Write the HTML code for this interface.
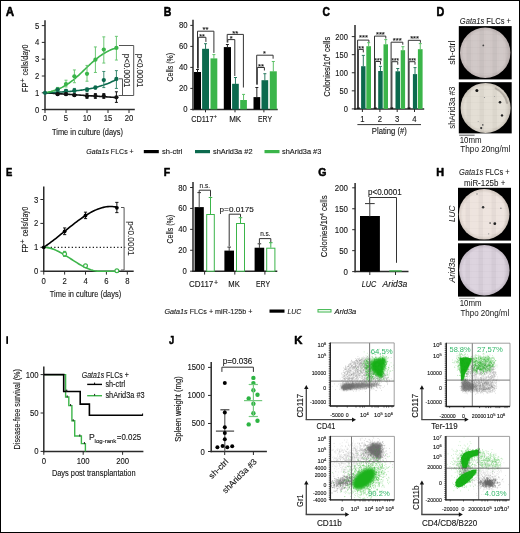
<!DOCTYPE html>
<html><head><meta charset="utf-8"><style>
html,body{margin:0;padding:0;background:#fff;}
svg{display:block;will-change:transform;font-family:"Liberation Sans", sans-serif;}
text:not([stroke]){stroke:#141414;stroke-width:0.12px;}
</style></head><body>
<svg width="520" height="533" viewBox="0 0 520 533">
<rect x="0" y="0" width="520" height="533" fill="#fff"/>
<text x="5.8" y="15.8" font-size="12" text-anchor="start" font-weight="bold" font-style="normal" fill="#000" textLength="8.4" lengthAdjust="spacingAndGlyphs"  stroke="#000" stroke-width="0.55" stroke-linejoin="round">A</text>
<line x1="45" y1="20.2" x2="45" y2="110.35" stroke="#2a2a2a" stroke-width="1.5" />
<line x1="44.25" y1="109.6" x2="134.8" y2="109.6" stroke="#2a2a2a" stroke-width="1.5" />
<line x1="41.8" y1="109.6" x2="45" y2="109.6" stroke="#2a2a2a" stroke-width="1" />
<text x="39.2" y="112.6" font-size="9" text-anchor="end" font-weight="normal" font-style="normal" fill="#141414" textLength="4.3" lengthAdjust="spacingAndGlyphs"  stroke="#141414" stroke-width="0.12">0</text>
<line x1="41.8" y1="92.8" x2="45" y2="92.8" stroke="#2a2a2a" stroke-width="1" />
<text x="39.2" y="95.8" font-size="9" text-anchor="end" font-weight="normal" font-style="normal" fill="#141414" textLength="4.3" lengthAdjust="spacingAndGlyphs"  stroke="#141414" stroke-width="0.12">1</text>
<line x1="41.8" y1="76.0" x2="45" y2="76.0" stroke="#2a2a2a" stroke-width="1" />
<text x="39.2" y="79.0" font-size="9" text-anchor="end" font-weight="normal" font-style="normal" fill="#141414" textLength="4.3" lengthAdjust="spacingAndGlyphs"  stroke="#141414" stroke-width="0.12">2</text>
<line x1="41.8" y1="59.2" x2="45" y2="59.2" stroke="#2a2a2a" stroke-width="1" />
<text x="39.2" y="62.2" font-size="9" text-anchor="end" font-weight="normal" font-style="normal" fill="#141414" textLength="4.3" lengthAdjust="spacingAndGlyphs"  stroke="#141414" stroke-width="0.12">3</text>
<line x1="41.8" y1="42.4" x2="45" y2="42.4" stroke="#2a2a2a" stroke-width="1" />
<text x="39.2" y="45.4" font-size="9" text-anchor="end" font-weight="normal" font-style="normal" fill="#141414" textLength="4.3" lengthAdjust="spacingAndGlyphs"  stroke="#141414" stroke-width="0.12">4</text>
<line x1="41.8" y1="25.6" x2="45" y2="25.6" stroke="#2a2a2a" stroke-width="1" />
<text x="39.2" y="28.6" font-size="9" text-anchor="end" font-weight="normal" font-style="normal" fill="#141414" textLength="4.3" lengthAdjust="spacingAndGlyphs"  stroke="#141414" stroke-width="0.12">5</text>
<line x1="45.0" y1="109.6" x2="45.0" y2="113" stroke="#2a2a2a" stroke-width="1" />
<text x="45.0" y="121.0" font-size="9" text-anchor="middle" font-weight="normal" font-style="normal" fill="#141414" textLength="4.3" lengthAdjust="spacingAndGlyphs"  stroke="#141414" stroke-width="0.12">0</text>
<line x1="66.0" y1="109.6" x2="66.0" y2="113" stroke="#2a2a2a" stroke-width="1" />
<text x="66.0" y="121.0" font-size="9" text-anchor="middle" font-weight="normal" font-style="normal" fill="#141414" textLength="4.3" lengthAdjust="spacingAndGlyphs"  stroke="#141414" stroke-width="0.12">5</text>
<line x1="87.0" y1="109.6" x2="87.0" y2="113" stroke="#2a2a2a" stroke-width="1" />
<text x="87.0" y="121.0" font-size="9" text-anchor="middle" font-weight="normal" font-style="normal" fill="#141414" textLength="8.61" lengthAdjust="spacingAndGlyphs"  stroke="#141414" stroke-width="0.12">10</text>
<line x1="108.0" y1="109.6" x2="108.0" y2="113" stroke="#2a2a2a" stroke-width="1" />
<text x="108.0" y="121.0" font-size="9" text-anchor="middle" font-weight="normal" font-style="normal" fill="#141414" textLength="8.61" lengthAdjust="spacingAndGlyphs"  stroke="#141414" stroke-width="0.12">15</text>
<line x1="129.0" y1="109.6" x2="129.0" y2="113" stroke="#2a2a2a" stroke-width="1" />
<text x="129.0" y="121.0" font-size="9" text-anchor="middle" font-weight="normal" font-style="normal" fill="#141414" textLength="8.61" lengthAdjust="spacingAndGlyphs"  stroke="#141414" stroke-width="0.12">20</text>
<text x="52" y="135.0" font-size="9.4" text-anchor="start" font-weight="normal" font-style="normal" fill="#141414" textLength="71" lengthAdjust="spacingAndGlyphs"  stroke="#141414" stroke-width="0.12">Time in culture (days)</text>
<text transform="translate(27.8,91.9) rotate(-90)" font-size="8.9" fill="#141414" textLength="9.0" lengthAdjust="spacingAndGlyphs">FP</text>
<text transform="translate(24.8,82.6) rotate(-90)" font-size="6.8" fill="#141414">+</text>
<text transform="translate(27.8,75.6) rotate(-90)" font-size="8.9" fill="#141414" textLength="31.0" lengthAdjust="spacingAndGlyphs">cells/day0</text>
<polyline points="45.0,92.8 46.21,92.88 47.42,92.96 48.63,93.04 49.84,93.12 51.05,93.2 52.26,93.28 53.47,93.36 54.68,93.44 55.89,93.52 57.1,93.6 58.31,93.68 59.52,93.76 60.73,93.84 61.94,93.92 63.15,94.0 64.36,94.08 65.57,94.16 66.78,94.24 67.99,94.32 69.2,94.4 70.41,94.48 71.62,94.56 72.83,94.64 74.04,94.72 75.25,94.8 76.46,94.88 77.67,94.96 78.88,95.04 80.09,95.12 81.31,95.2 82.52,95.28 83.73,95.36 84.94,95.44 86.15,95.52 87.36,95.6 88.57,95.68 89.78,95.76 90.99,95.84 92.2,95.91 93.41,95.99 94.62,96.07 95.83,96.15 97.04,96.23 98.25,96.31 99.46,96.39 100.67,96.47 101.88,96.55 103.09,96.63 104.3,96.71 105.51,96.79 106.72,96.87 107.93,96.95 109.14,97.03 110.35,97.11 111.56,97.19 112.77,97.27 113.98,97.35 115.19,97.43 116.4,97.51" fill="none" stroke="#111" stroke-width="1.6" />
<polyline points="45.0,92.8 46.21,92.76 47.42,92.72 48.63,92.67 49.84,92.62 51.05,92.57 52.26,92.52 53.47,92.46 54.68,92.41 55.89,92.35 57.1,92.28 58.31,92.22 59.52,92.15 60.73,92.07 61.94,91.99 63.15,91.91 64.36,91.83 65.57,91.74 66.78,91.65 67.99,91.55 69.2,91.45 70.41,91.34 71.62,91.22 72.83,91.11 74.04,90.98 75.25,90.85 76.46,90.71 77.67,90.57 78.88,90.42 80.09,90.26 81.31,90.09 82.52,89.92 83.73,89.73 84.94,89.54 86.15,89.34 87.36,89.13 88.57,88.91 89.78,88.67 90.99,88.43 92.2,88.17 93.41,87.91 94.62,87.62 95.83,87.33 97.04,87.02 98.25,86.69 99.46,86.35 100.67,85.99 101.88,85.61 103.09,85.22 104.3,84.8 105.51,84.37 106.72,83.91 107.93,83.44 109.14,82.93 110.35,82.41 111.56,81.85 112.77,81.27 113.98,80.67 115.19,80.03 116.4,79.36" fill="none" stroke="#0c6a4e" stroke-width="1.6" />
<polyline points="45.0,92.8 46.21,92.57 47.42,92.33 48.63,92.06 49.84,91.77 51.05,91.46 52.26,91.12 53.47,90.76 54.68,90.37 55.89,89.95 57.1,89.5 58.31,89.02 59.52,88.5 60.73,87.95 61.94,87.36 63.15,86.73 64.36,86.06 65.57,85.35 66.78,84.61 67.99,83.82 69.2,82.99 70.41,82.12 71.62,81.21 72.83,80.27 74.04,79.28 75.25,78.27 76.46,77.22 77.67,76.14 78.88,75.04 80.09,73.91 81.31,72.77 82.52,71.61 83.73,70.44 84.94,69.27 86.15,68.1 87.36,66.93 88.57,65.77 89.78,64.63 90.99,63.51 92.2,62.4 93.41,61.33 94.62,60.28 95.83,59.27 97.04,58.29 98.25,57.34 99.46,56.44 100.67,55.57 101.88,54.74 103.09,53.96 104.3,53.21 105.51,52.51 106.72,51.84 107.93,51.22 109.14,50.63 110.35,50.08 111.56,49.56 112.77,49.08 113.98,48.63 115.19,48.21 116.4,47.82" fill="none" stroke="#3bb54a" stroke-width="1.6" />
<line x1="57.6" y1="87.42" x2="57.6" y2="91.12" stroke="#6cc774" stroke-width="1" />
<line x1="56.1" y1="87.42" x2="59.1" y2="87.42" stroke="#6cc774" stroke-width="1" />
<line x1="56.1" y1="91.12" x2="59.1" y2="91.12" stroke="#6cc774" stroke-width="1" />
<circle cx="57.6" cy="89.27" r="2.15" fill="#3bb54a" stroke="none" stroke-width="1"/>
<line x1="66.0" y1="80.2" x2="66.0" y2="86.92" stroke="#6cc774" stroke-width="1" />
<line x1="64.5" y1="80.2" x2="67.5" y2="80.2" stroke="#6cc774" stroke-width="1" />
<line x1="64.5" y1="86.92" x2="67.5" y2="86.92" stroke="#6cc774" stroke-width="1" />
<circle cx="66.0" cy="84.06" r="2.15" fill="#3bb54a" stroke="none" stroke-width="1"/>
<line x1="74.4" y1="69.95" x2="74.4" y2="82.72" stroke="#6cc774" stroke-width="1" />
<line x1="72.9" y1="69.95" x2="75.9" y2="69.95" stroke="#6cc774" stroke-width="1" />
<line x1="72.9" y1="82.72" x2="75.9" y2="82.72" stroke="#6cc774" stroke-width="1" />
<circle cx="74.4" cy="76.34" r="2.15" fill="#3bb54a" stroke="none" stroke-width="1"/>
<line x1="87.0" y1="65.42" x2="87.0" y2="81.21" stroke="#6cc774" stroke-width="1" />
<line x1="85.5" y1="65.42" x2="88.5" y2="65.42" stroke="#6cc774" stroke-width="1" />
<line x1="85.5" y1="81.21" x2="88.5" y2="81.21" stroke="#6cc774" stroke-width="1" />
<circle cx="87.0" cy="73.82" r="2.15" fill="#3bb54a" stroke="none" stroke-width="1"/>
<line x1="95.4" y1="46.94" x2="95.4" y2="72.47" stroke="#6cc774" stroke-width="1" />
<line x1="93.9" y1="46.94" x2="96.9" y2="46.94" stroke="#6cc774" stroke-width="1" />
<line x1="93.9" y1="72.47" x2="96.9" y2="72.47" stroke="#6cc774" stroke-width="1" />
<circle cx="95.4" cy="59.7" r="2.15" fill="#3bb54a" stroke="none" stroke-width="1"/>
<line x1="103.8" y1="36.86" x2="103.8" y2="63.06" stroke="#6cc774" stroke-width="1" />
<line x1="102.3" y1="36.86" x2="105.3" y2="36.86" stroke="#6cc774" stroke-width="1" />
<line x1="102.3" y1="63.06" x2="105.3" y2="63.06" stroke="#6cc774" stroke-width="1" />
<circle cx="103.8" cy="49.62" r="2.15" fill="#3bb54a" stroke="none" stroke-width="1"/>
<line x1="116.4" y1="36.35" x2="116.4" y2="60.04" stroke="#6cc774" stroke-width="1" />
<line x1="114.9" y1="36.35" x2="117.9" y2="36.35" stroke="#6cc774" stroke-width="1" />
<line x1="114.9" y1="60.04" x2="117.9" y2="60.04" stroke="#6cc774" stroke-width="1" />
<circle cx="116.4" cy="47.94" r="2.15" fill="#3bb54a" stroke="none" stroke-width="1"/>
<line x1="57.6" y1="88.1" x2="57.6" y2="91.46" stroke="#3a8a70" stroke-width="1" />
<line x1="56.1" y1="88.1" x2="59.1" y2="88.1" stroke="#3a8a70" stroke-width="1" />
<line x1="56.1" y1="91.46" x2="59.1" y2="91.46" stroke="#3a8a70" stroke-width="1" />
<circle cx="57.6" cy="89.78" r="2.15" fill="#0c6a4e" stroke="none" stroke-width="1"/>
<line x1="66.0" y1="89.44" x2="66.0" y2="92.13" stroke="#3a8a70" stroke-width="1" />
<line x1="64.5" y1="89.44" x2="67.5" y2="89.44" stroke="#3a8a70" stroke-width="1" />
<line x1="64.5" y1="92.13" x2="67.5" y2="92.13" stroke="#3a8a70" stroke-width="1" />
<circle cx="66.0" cy="90.78" r="2.15" fill="#0c6a4e" stroke="none" stroke-width="1"/>
<line x1="74.4" y1="88.43" x2="74.4" y2="92.46" stroke="#3a8a70" stroke-width="1" />
<line x1="72.9" y1="88.43" x2="75.9" y2="88.43" stroke="#3a8a70" stroke-width="1" />
<line x1="72.9" y1="92.46" x2="75.9" y2="92.46" stroke="#3a8a70" stroke-width="1" />
<circle cx="74.4" cy="90.45" r="2.15" fill="#0c6a4e" stroke="none" stroke-width="1"/>
<line x1="87.0" y1="87.76" x2="87.0" y2="91.79" stroke="#3a8a70" stroke-width="1" />
<line x1="85.5" y1="87.76" x2="88.5" y2="87.76" stroke="#3a8a70" stroke-width="1" />
<line x1="85.5" y1="91.79" x2="88.5" y2="91.79" stroke="#3a8a70" stroke-width="1" />
<circle cx="87.0" cy="89.78" r="2.15" fill="#0c6a4e" stroke="none" stroke-width="1"/>
<line x1="95.4" y1="86.08" x2="95.4" y2="89.1" stroke="#3a8a70" stroke-width="1" />
<line x1="93.9" y1="86.08" x2="96.9" y2="86.08" stroke="#3a8a70" stroke-width="1" />
<line x1="93.9" y1="89.1" x2="96.9" y2="89.1" stroke="#3a8a70" stroke-width="1" />
<circle cx="95.4" cy="87.59" r="2.15" fill="#0c6a4e" stroke="none" stroke-width="1"/>
<line x1="103.8" y1="71.46" x2="103.8" y2="87.59" stroke="#3a8a70" stroke-width="1" />
<line x1="102.3" y1="71.46" x2="105.3" y2="71.46" stroke="#3a8a70" stroke-width="1" />
<line x1="102.3" y1="87.59" x2="105.3" y2="87.59" stroke="#3a8a70" stroke-width="1" />
<circle cx="103.8" cy="80.03" r="2.15" fill="#0c6a4e" stroke="none" stroke-width="1"/>
<line x1="116.4" y1="70.62" x2="116.4" y2="88.43" stroke="#3a8a70" stroke-width="1" />
<line x1="114.9" y1="70.62" x2="117.9" y2="70.62" stroke="#3a8a70" stroke-width="1" />
<line x1="114.9" y1="88.43" x2="117.9" y2="88.43" stroke="#3a8a70" stroke-width="1" />
<circle cx="116.4" cy="79.02" r="2.15" fill="#0c6a4e" stroke="none" stroke-width="1"/>
<line x1="57.6" y1="93.14" x2="57.6" y2="95.15" stroke="#111" stroke-width="1" />
<line x1="56.1" y1="93.14" x2="59.1" y2="93.14" stroke="#111" stroke-width="1" />
<line x1="56.1" y1="95.15" x2="59.1" y2="95.15" stroke="#111" stroke-width="1" />
<circle cx="57.6" cy="94.14" r="2.15" fill="#111" stroke="none" stroke-width="1"/>
<line x1="66.0" y1="92.97" x2="66.0" y2="95.32" stroke="#111" stroke-width="1" />
<line x1="64.5" y1="92.97" x2="67.5" y2="92.97" stroke="#111" stroke-width="1" />
<line x1="64.5" y1="95.32" x2="67.5" y2="95.32" stroke="#111" stroke-width="1" />
<circle cx="66.0" cy="94.14" r="2.15" fill="#111" stroke="none" stroke-width="1"/>
<line x1="74.4" y1="93.98" x2="74.4" y2="96.16" stroke="#111" stroke-width="1" />
<line x1="72.9" y1="93.98" x2="75.9" y2="93.98" stroke="#111" stroke-width="1" />
<line x1="72.9" y1="96.16" x2="75.9" y2="96.16" stroke="#111" stroke-width="1" />
<circle cx="74.4" cy="95.15" r="2.15" fill="#111" stroke="none" stroke-width="1"/>
<line x1="87.0" y1="93.64" x2="87.0" y2="98.34" stroke="#111" stroke-width="1" />
<line x1="85.5" y1="93.64" x2="88.5" y2="93.64" stroke="#111" stroke-width="1" />
<line x1="85.5" y1="98.34" x2="88.5" y2="98.34" stroke="#111" stroke-width="1" />
<circle cx="87.0" cy="96.16" r="2.15" fill="#111" stroke="none" stroke-width="1"/>
<line x1="95.4" y1="93.64" x2="95.4" y2="98.34" stroke="#111" stroke-width="1" />
<line x1="93.9" y1="93.64" x2="96.9" y2="93.64" stroke="#111" stroke-width="1" />
<line x1="93.9" y1="98.34" x2="96.9" y2="98.34" stroke="#111" stroke-width="1" />
<circle cx="95.4" cy="95.99" r="2.15" fill="#111" stroke="none" stroke-width="1"/>
<line x1="103.8" y1="93.64" x2="103.8" y2="98.34" stroke="#111" stroke-width="1" />
<line x1="102.3" y1="93.64" x2="105.3" y2="93.64" stroke="#111" stroke-width="1" />
<line x1="102.3" y1="98.34" x2="105.3" y2="98.34" stroke="#111" stroke-width="1" />
<circle cx="103.8" cy="95.99" r="2.15" fill="#111" stroke="none" stroke-width="1"/>
<line x1="116.4" y1="91.79" x2="116.4" y2="102.38" stroke="#111" stroke-width="1" />
<line x1="114.9" y1="91.79" x2="117.9" y2="91.79" stroke="#111" stroke-width="1" />
<line x1="114.9" y1="102.38" x2="117.9" y2="102.38" stroke="#111" stroke-width="1" />
<circle cx="116.4" cy="97.34" r="2.15" fill="#111" stroke="none" stroke-width="1"/>
<circle cx="45.0" cy="92.8" r="2.15" fill="#0c6a4e" stroke="none" stroke-width="1"/>
<polyline points="119,45.5 133.7,45.5 133.7,95.5 118.6,95.5" fill="none" stroke="#555" stroke-width="1" />
<polyline points="119,78.8 122.5,78.8 122.5,95.5" fill="none" stroke="#555" stroke-width="1" />
<text transform="translate(123.8,53.8) rotate(90)" x="0" y="0" font-size="8.2" text-anchor="start" font-weight="normal" font-style="normal" fill="#1e1e1e" textLength="33.6" lengthAdjust="spacingAndGlyphs"  stroke="#1e1e1e" stroke-width="0.12">p&lt;0.0001</text>
<text transform="translate(137,53.8) rotate(90)" x="0" y="0" font-size="8.2" text-anchor="start" font-weight="normal" font-style="normal" fill="#1e1e1e" textLength="33.6" lengthAdjust="spacingAndGlyphs"  stroke="#1e1e1e" stroke-width="0.12">p&lt;0.0001</text>
<text x="163.75" y="15.6" font-size="12" text-anchor="start" font-weight="bold" font-style="normal" fill="#000" textLength="7.6" lengthAdjust="spacingAndGlyphs"  stroke="#000" stroke-width="0.55" stroke-linejoin="round">B</text>
<line x1="193" y1="19.8" x2="193" y2="110.15" stroke="#2a2a2a" stroke-width="1.5" />
<line x1="192.25" y1="109.4" x2="277.7" y2="109.4" stroke="#2a2a2a" stroke-width="1.5" />
<line x1="190.3" y1="109.4" x2="193" y2="109.4" stroke="#2a2a2a" stroke-width="1" />
<text x="187.6" y="112.4" font-size="9" text-anchor="end" font-weight="normal" font-style="normal" fill="#141414" textLength="4.3" lengthAdjust="spacingAndGlyphs"  stroke="#141414" stroke-width="0.12">0</text>
<line x1="190.3" y1="88.4" x2="193" y2="88.4" stroke="#2a2a2a" stroke-width="1" />
<text x="187.6" y="91.4" font-size="9" text-anchor="end" font-weight="normal" font-style="normal" fill="#141414" textLength="8.61" lengthAdjust="spacingAndGlyphs"  stroke="#141414" stroke-width="0.12">20</text>
<line x1="190.3" y1="67.4" x2="193" y2="67.4" stroke="#2a2a2a" stroke-width="1" />
<text x="187.6" y="70.4" font-size="9" text-anchor="end" font-weight="normal" font-style="normal" fill="#141414" textLength="8.61" lengthAdjust="spacingAndGlyphs"  stroke="#141414" stroke-width="0.12">40</text>
<line x1="190.3" y1="46.4" x2="193" y2="46.4" stroke="#2a2a2a" stroke-width="1" />
<text x="187.6" y="49.4" font-size="9" text-anchor="end" font-weight="normal" font-style="normal" fill="#141414" textLength="8.61" lengthAdjust="spacingAndGlyphs"  stroke="#141414" stroke-width="0.12">60</text>
<line x1="190.3" y1="25.4" x2="193" y2="25.4" stroke="#2a2a2a" stroke-width="1" />
<text x="187.6" y="28.4" font-size="9" text-anchor="end" font-weight="normal" font-style="normal" fill="#141414" textLength="8.61" lengthAdjust="spacingAndGlyphs"  stroke="#141414" stroke-width="0.12">80</text>
<line x1="205.5" y1="109.4" x2="205.5" y2="112.3" stroke="#2a2a2a" stroke-width="1" />
<line x1="235" y1="109.4" x2="235" y2="112.3" stroke="#2a2a2a" stroke-width="1" />
<line x1="263.9" y1="109.4" x2="263.9" y2="112.3" stroke="#2a2a2a" stroke-width="1" />
<text x="191.2" y="122.0" font-size="8.5" text-anchor="start" font-weight="normal" font-style="normal" fill="#141414" textLength="22.3" lengthAdjust="spacingAndGlyphs"  stroke="#141414" stroke-width="0.12">CD117</text>
<text x="213.8" y="117.6" font-size="5.5" text-anchor="start" font-weight="normal" font-style="normal" fill="#141414"  stroke="#141414" stroke-width="0.12">+</text>
<text x="229.2" y="122.0" font-size="8.5" text-anchor="start" font-weight="normal" font-style="normal" fill="#141414" textLength="12.0" lengthAdjust="spacingAndGlyphs"  stroke="#141414" stroke-width="0.12">MK</text>
<text x="258" y="122.0" font-size="8.5" text-anchor="start" font-weight="normal" font-style="normal" fill="#141414" textLength="14" lengthAdjust="spacingAndGlyphs"  stroke="#141414" stroke-width="0.12">ERY</text>
<text transform="translate(172.7,81.5) rotate(-90)" font-size="9.8" fill="#141414" textLength="28.6" lengthAdjust="spacingAndGlyphs">Cells (%)</text>
<rect x="194" y="72" width="7" height="37.4" fill="#000" stroke="none" stroke-width="1" />
<line x1="197.5" y1="69.5" x2="197.5" y2="72.5" stroke="#222" stroke-width="1" />
<line x1="196.0" y1="69.5" x2="199.0" y2="69.5" stroke="#222" stroke-width="1" />
<rect x="202.1" y="48.8" width="6.9" height="60.6" fill="#0c6a4e" stroke="none" stroke-width="1" />
<line x1="205.55" y1="43.7" x2="205.55" y2="49.3" stroke="#2a7a60" stroke-width="1" />
<line x1="204.05" y1="43.7" x2="207.05" y2="43.7" stroke="#2a7a60" stroke-width="1" />
<rect x="210.5" y="58.4" width="6.8" height="51.0" fill="#3bb54a" stroke="none" stroke-width="1" />
<line x1="213.9" y1="54.6" x2="213.9" y2="58.9" stroke="#5cc066" stroke-width="1" />
<line x1="212.4" y1="54.6" x2="215.4" y2="54.6" stroke="#5cc066" stroke-width="1" />
<rect x="223.8" y="47.1" width="7.2" height="62.3" fill="#000" stroke="none" stroke-width="1" />
<line x1="227.4" y1="44.5" x2="227.4" y2="47.6" stroke="#222" stroke-width="1" />
<line x1="225.9" y1="44.5" x2="228.9" y2="44.5" stroke="#222" stroke-width="1" />
<rect x="232.1" y="83.8" width="6.7" height="25.6" fill="#0c6a4e" stroke="none" stroke-width="1" />
<line x1="235.45" y1="77.5" x2="235.45" y2="84.3" stroke="#2a7a60" stroke-width="1" />
<line x1="233.95" y1="77.5" x2="236.95" y2="77.5" stroke="#2a7a60" stroke-width="1" />
<rect x="240.2" y="100" width="6.7" height="9.4" fill="#3bb54a" stroke="none" stroke-width="1" />
<line x1="243.55" y1="94.4" x2="243.55" y2="100.5" stroke="#5cc066" stroke-width="1" />
<line x1="242.05" y1="94.4" x2="245.05" y2="94.4" stroke="#5cc066" stroke-width="1" />
<rect x="253.5" y="97.1" width="6.7" height="12.3" fill="#000" stroke="none" stroke-width="1" />
<line x1="256.85" y1="87.5" x2="256.85" y2="97.6" stroke="#222" stroke-width="1" />
<line x1="255.35" y1="87.5" x2="258.35" y2="87.5" stroke="#222" stroke-width="1" />
<rect x="261.5" y="80.2" width="6.7" height="29.2" fill="#0c6a4e" stroke="none" stroke-width="1" />
<line x1="264.85" y1="73.7" x2="264.85" y2="80.7" stroke="#2a7a60" stroke-width="1" />
<line x1="263.35" y1="73.7" x2="266.35" y2="73.7" stroke="#2a7a60" stroke-width="1" />
<rect x="269.8" y="71.3" width="7.0" height="38.1" fill="#3bb54a" stroke="none" stroke-width="1" />
<line x1="273.3" y1="61.5" x2="273.3" y2="71.8" stroke="#5cc066" stroke-width="1" />
<line x1="271.8" y1="61.5" x2="274.8" y2="61.5" stroke="#5cc066" stroke-width="1" />
<polyline points="197.5,68.5 197.5,31.2 213.9,31.2 213.9,52.9" fill="none" stroke="#333" stroke-width="1" />
<polyline points="198.3,68.5 198.3,37.3 205.9,37.3 205.9,41.9" fill="none" stroke="#333" stroke-width="1" />
<text x="202.6" y="32.18" font-size="8" text-anchor="start" font-weight="normal" font-style="normal" fill="#141414" textLength="6" lengthAdjust="spacingAndGlyphs"  stroke="#141414" stroke-width="0.12">**</text>
<text x="199.3" y="38.78" font-size="8" text-anchor="start" font-weight="normal" font-style="normal" fill="#141414" textLength="5.6" lengthAdjust="spacingAndGlyphs"  stroke="#141414" stroke-width="0.12">**</text>
<polyline points="227.2,42.5 227.2,34.4 243.4,34.4 243.4,87.5" fill="none" stroke="#333" stroke-width="1" />
<polyline points="227.8,42.5 227.8,39.6 234.8,39.6 234.8,76" fill="none" stroke="#333" stroke-width="1" />
<text x="232.3" y="35.58" font-size="8" text-anchor="start" font-weight="normal" font-style="normal" fill="#141414" textLength="6" lengthAdjust="spacingAndGlyphs"  stroke="#141414" stroke-width="0.12">**</text>
<text x="229.85" y="41.18" font-size="8" text-anchor="start" font-weight="normal" font-style="normal" fill="#141414" textLength="2.9" lengthAdjust="spacingAndGlyphs"  stroke="#141414" stroke-width="0.12">*</text>
<polyline points="256.7,84.6 256.7,55.2 273.1,55.2 273.1,58.7" fill="none" stroke="#333" stroke-width="1" />
<polyline points="257.3,84.6 257.3,67.5 264.4,67.5 264.4,70.5" fill="none" stroke="#333" stroke-width="1" />
<text x="262.95" y="56.18" font-size="8" text-anchor="start" font-weight="normal" font-style="normal" fill="#141414" textLength="2.9" lengthAdjust="spacingAndGlyphs"  stroke="#141414" stroke-width="0.12">*</text>
<text x="258.0" y="68.88" font-size="8" text-anchor="start" font-weight="normal" font-style="normal" fill="#141414" textLength="6" lengthAdjust="spacingAndGlyphs"  stroke="#141414" stroke-width="0.12">**</text>
<text x="322.5" y="15.6" font-size="12" text-anchor="start" font-weight="bold" font-style="normal" fill="#000" textLength="7.4" lengthAdjust="spacingAndGlyphs"  stroke="#000" stroke-width="0.55" stroke-linejoin="round">C</text>
<line x1="355" y1="25" x2="355" y2="109.65" stroke="#2a2a2a" stroke-width="1.5" />
<line x1="354.25" y1="108.9" x2="424.2" y2="108.9" stroke="#2a2a2a" stroke-width="1.5" />
<line x1="351.8" y1="108.9" x2="355" y2="108.9" stroke="#2a2a2a" stroke-width="1" />
<text x="347.9" y="111.9" font-size="9" text-anchor="end" font-weight="normal" font-style="normal" fill="#141414" textLength="4.2" lengthAdjust="spacingAndGlyphs"  stroke="#141414" stroke-width="0.12">0</text>
<line x1="351.8" y1="90.83" x2="355" y2="90.83" stroke="#2a2a2a" stroke-width="1" />
<text x="347.9" y="93.83" font-size="9" text-anchor="end" font-weight="normal" font-style="normal" fill="#141414" textLength="8.41" lengthAdjust="spacingAndGlyphs"  stroke="#141414" stroke-width="0.12">50</text>
<line x1="351.8" y1="72.75" x2="355" y2="72.75" stroke="#2a2a2a" stroke-width="1" />
<text x="347.9" y="75.75" font-size="9" text-anchor="end" font-weight="normal" font-style="normal" fill="#141414" textLength="12.61" lengthAdjust="spacingAndGlyphs"  stroke="#141414" stroke-width="0.12">100</text>
<line x1="351.8" y1="54.67" x2="355" y2="54.67" stroke="#2a2a2a" stroke-width="1" />
<text x="347.9" y="57.67" font-size="9" text-anchor="end" font-weight="normal" font-style="normal" fill="#141414" textLength="12.61" lengthAdjust="spacingAndGlyphs"  stroke="#141414" stroke-width="0.12">150</text>
<line x1="351.8" y1="36.6" x2="355" y2="36.6" stroke="#2a2a2a" stroke-width="1" />
<text x="347.9" y="39.6" font-size="9" text-anchor="end" font-weight="normal" font-style="normal" fill="#141414" textLength="12.61" lengthAdjust="spacingAndGlyphs"  stroke="#141414" stroke-width="0.12">200</text>
<text transform="translate(329.6,96.8) rotate(-90)" font-size="8.6" fill="#141414" textLength="60" lengthAdjust="spacingAndGlyphs">Colonies/10<tspan font-size="5.2" dy="-2.8">4</tspan><tspan dy="2.8"> cells</tspan></text>
<rect x="356.9" y="107.3" width="2.8" height="1.6" fill="#111" stroke="none" stroke-width="1" />
<polyline points="357.6,107.9 357.6,40.1 368.9,40.1 368.9,42.6" fill="none" stroke="#333" stroke-width="1" />
<polyline points="358.4,107.9 358.4,49.4 363.3,49.4 363.3,52.4" fill="none" stroke="#333" stroke-width="1" />
<rect x="361.1" y="66.2" width="4.4" height="42.7" fill="#0c6a4e" stroke="none" stroke-width="1" />
<line x1="363.3" y1="55.4" x2="363.3" y2="66.2" stroke="#2a7a60" stroke-width="1" />
<line x1="361.8" y1="55.4" x2="364.8" y2="55.4" stroke="#2a7a60" stroke-width="1" />
<rect x="366.3" y="46.2" width="4.7" height="62.7" fill="#3bb54a" stroke="none" stroke-width="1" />
<line x1="368.65" y1="42.7" x2="368.65" y2="46.2" stroke="#5cc066" stroke-width="1" />
<line x1="367.15" y1="42.7" x2="370.15" y2="42.7" stroke="#5cc066" stroke-width="1" />
<text x="359.05" y="39.87" font-size="7.4" text-anchor="start" font-weight="normal" font-style="normal" fill="#141414" textLength="8.9" lengthAdjust="spacingAndGlyphs"  stroke="#141414" stroke-width="0.12">***</text>
<text x="358.35" y="50.77" font-size="7.2" text-anchor="start" font-weight="normal" font-style="normal" fill="#141414" textLength="5.7" lengthAdjust="spacingAndGlyphs"  stroke="#141414" stroke-width="0.12">**</text>
<rect x="373.8" y="107.3" width="2.8" height="1.6" fill="#111" stroke="none" stroke-width="1" />
<polyline points="374.5,107.9 374.5,36.1 385.8,36.1 385.8,38.6" fill="none" stroke="#333" stroke-width="1" />
<polyline points="375.3,107.9 375.3,61.5 380.45,61.5 380.45,64.5" fill="none" stroke="#333" stroke-width="1" />
<rect x="378.2" y="71.0" width="4.5" height="37.9" fill="#0c6a4e" stroke="none" stroke-width="1" />
<line x1="380.45" y1="66.4" x2="380.45" y2="71.0" stroke="#2a7a60" stroke-width="1" />
<line x1="378.95" y1="66.4" x2="381.95" y2="66.4" stroke="#2a7a60" stroke-width="1" />
<rect x="383.5" y="44.3" width="4.5" height="64.6" fill="#3bb54a" stroke="none" stroke-width="1" />
<line x1="385.75" y1="39.6" x2="385.75" y2="44.3" stroke="#5cc066" stroke-width="1" />
<line x1="384.25" y1="39.6" x2="387.25" y2="39.6" stroke="#5cc066" stroke-width="1" />
<text x="375.95" y="37.17" font-size="7.4" text-anchor="start" font-weight="normal" font-style="normal" fill="#141414" textLength="8.9" lengthAdjust="spacingAndGlyphs"  stroke="#141414" stroke-width="0.12">***</text>
<text x="374.58" y="62.87" font-size="7.2" text-anchor="start" font-weight="normal" font-style="normal" fill="#141414" textLength="7.3" lengthAdjust="spacingAndGlyphs"  stroke="#141414" stroke-width="0.12">***</text>
<rect x="390.4" y="107.3" width="2.8" height="1.6" fill="#111" stroke="none" stroke-width="1" />
<polyline points="391.1,107.9 391.1,42.2 402.8,42.2 402.8,44.7" fill="none" stroke="#333" stroke-width="1" />
<polyline points="391.9,107.9 391.9,61.7 397.75,61.7 397.75,64.7" fill="none" stroke="#333" stroke-width="1" />
<rect x="395.5" y="71.3" width="4.5" height="37.6" fill="#0c6a4e" stroke="none" stroke-width="1" />
<line x1="397.75" y1="68.5" x2="397.75" y2="71.3" stroke="#2a7a60" stroke-width="1" />
<line x1="396.25" y1="68.5" x2="399.25" y2="68.5" stroke="#2a7a60" stroke-width="1" />
<rect x="400.7" y="50.2" width="4.4" height="58.7" fill="#3bb54a" stroke="none" stroke-width="1" />
<line x1="402.9" y1="46.7" x2="402.9" y2="50.2" stroke="#5cc066" stroke-width="1" />
<line x1="401.4" y1="46.7" x2="404.4" y2="46.7" stroke="#5cc066" stroke-width="1" />
<text x="392.75" y="42.67" font-size="7.4" text-anchor="start" font-weight="normal" font-style="normal" fill="#141414" textLength="8.9" lengthAdjust="spacingAndGlyphs"  stroke="#141414" stroke-width="0.12">***</text>
<text x="391.53" y="63.07" font-size="7.2" text-anchor="start" font-weight="normal" font-style="normal" fill="#141414" textLength="7.3" lengthAdjust="spacingAndGlyphs"  stroke="#141414" stroke-width="0.12">***</text>
<rect x="407.6" y="107.3" width="2.8" height="1.6" fill="#111" stroke="none" stroke-width="1" />
<polyline points="408.3,107.9 408.3,40.3 420.4,40.3 420.4,42.8" fill="none" stroke="#333" stroke-width="1" />
<polyline points="409.1,107.9 409.1,61.7 415.0,61.7 415.0,64.7" fill="none" stroke="#333" stroke-width="1" />
<rect x="412.9" y="74.1" width="4.2" height="34.8" fill="#0c6a4e" stroke="none" stroke-width="1" />
<line x1="415.0" y1="67.6" x2="415.0" y2="74.1" stroke="#2a7a60" stroke-width="1" />
<line x1="413.5" y1="67.6" x2="416.5" y2="67.6" stroke="#2a7a60" stroke-width="1" />
<rect x="417.9" y="49.2" width="4.7" height="59.7" fill="#3bb54a" stroke="none" stroke-width="1" />
<line x1="420.25" y1="43.6" x2="420.25" y2="49.2" stroke="#5cc066" stroke-width="1" />
<line x1="418.75" y1="43.6" x2="421.75" y2="43.6" stroke="#5cc066" stroke-width="1" />
<text x="410.15" y="40.57" font-size="7.4" text-anchor="start" font-weight="normal" font-style="normal" fill="#141414" textLength="8.9" lengthAdjust="spacingAndGlyphs"  stroke="#141414" stroke-width="0.12">***</text>
<text x="408.75" y="63.07" font-size="7.2" text-anchor="start" font-weight="normal" font-style="normal" fill="#141414" textLength="7.3" lengthAdjust="spacingAndGlyphs"  stroke="#141414" stroke-width="0.12">***</text>
<line x1="362.4" y1="108.9" x2="362.4" y2="112" stroke="#2a2a2a" stroke-width="1" />
<text x="362.4" y="122.2" font-size="9" text-anchor="middle" font-weight="normal" font-style="normal" fill="#141414" textLength="4.3" lengthAdjust="spacingAndGlyphs"  stroke="#141414" stroke-width="0.12">1</text>
<line x1="379.9" y1="108.9" x2="379.9" y2="112" stroke="#2a2a2a" stroke-width="1" />
<text x="379.9" y="122.2" font-size="9" text-anchor="middle" font-weight="normal" font-style="normal" fill="#141414" textLength="4.3" lengthAdjust="spacingAndGlyphs"  stroke="#141414" stroke-width="0.12">2</text>
<line x1="397.2" y1="108.9" x2="397.2" y2="112" stroke="#2a2a2a" stroke-width="1" />
<text x="397.2" y="122.2" font-size="9" text-anchor="middle" font-weight="normal" font-style="normal" fill="#141414" textLength="4.3" lengthAdjust="spacingAndGlyphs"  stroke="#141414" stroke-width="0.12">3</text>
<line x1="414.5" y1="108.9" x2="414.5" y2="112" stroke="#2a2a2a" stroke-width="1" />
<text x="414.5" y="122.2" font-size="9" text-anchor="middle" font-weight="normal" font-style="normal" fill="#141414" textLength="4.3" lengthAdjust="spacingAndGlyphs"  stroke="#141414" stroke-width="0.12">4</text>
<line x1="357.4" y1="124.6" x2="421" y2="124.6" stroke="#333" stroke-width="1" />
<text x="371.8" y="133.6" font-size="8.8" text-anchor="start" font-weight="normal" font-style="normal" fill="#141414" textLength="35.0" lengthAdjust="spacingAndGlyphs"  stroke="#141414" stroke-width="0.12">Plating (#)</text>
<text x="436.6" y="15.6" font-size="12" text-anchor="start" font-weight="bold" font-style="normal" fill="#000" textLength="7.8" lengthAdjust="spacingAndGlyphs"  stroke="#000" stroke-width="0.55" stroke-linejoin="round">D</text>
<text x="459.8" y="23.9" font-size="9" fill="#141414" stroke="#222" stroke-width="0.05" textLength="51.2" lengthAdjust="spacingAndGlyphs"><tspan font-style="italic">Gata1s</tspan> FLCs +</text>
<rect x="458.8" y="26.1" width="52.9" height="53.3" fill="#000" stroke="none" stroke-width="1" />
<defs><radialGradient id="g1" cx="485.2" cy="52.8" r="25.2" gradientUnits="userSpaceOnUse"><stop offset="0" stop-color="#d0c7c6"/><stop offset="0.85" stop-color="#d0c7c6"/><stop offset="1" stop-color="#bdb3b2"/></radialGradient><clipPath id="c1"><circle cx="485.2" cy="52.8" r="25.2"/></clipPath></defs>
<circle cx="485.2" cy="52.8" r="25.2" fill="url(#g1)" stroke="none" stroke-width="1"/>
<g clip-path="url(#c1)">
<rect x="460.0" y="27.6" width="4.5" height="50.4" fill="#fff" stroke="none" stroke-width="1" opacity="0.035"/>
<rect x="466.5" y="27.6" width="4.5" height="50.4" fill="#000" stroke="none" stroke-width="1" opacity="0.035"/>
<rect x="473.0" y="27.6" width="4.5" height="50.4" fill="#fff" stroke="none" stroke-width="1" opacity="0.035"/>
<rect x="479.5" y="27.6" width="4.5" height="50.4" fill="#000" stroke="none" stroke-width="1" opacity="0.035"/>
<rect x="486.0" y="27.6" width="4.5" height="50.4" fill="#fff" stroke="none" stroke-width="1" opacity="0.035"/>
<rect x="492.5" y="27.6" width="4.5" height="50.4" fill="#000" stroke="none" stroke-width="1" opacity="0.035"/>
<rect x="499.0" y="27.6" width="4.5" height="50.4" fill="#fff" stroke="none" stroke-width="1" opacity="0.035"/>
<rect x="505.5" y="27.6" width="4.5" height="50.4" fill="#000" stroke="none" stroke-width="1" opacity="0.035"/>
<rect x="460.0" y="27.6" width="50.4" height="0.6" fill="#000" stroke="none" stroke-width="1" opacity="0.03"/>
<rect x="460.0" y="34.1" width="50.4" height="0.6" fill="#000" stroke="none" stroke-width="1" opacity="0.03"/>
<rect x="460.0" y="40.6" width="50.4" height="0.6" fill="#000" stroke="none" stroke-width="1" opacity="0.03"/>
<rect x="460.0" y="47.1" width="50.4" height="0.6" fill="#000" stroke="none" stroke-width="1" opacity="0.03"/>
<rect x="460.0" y="53.6" width="50.4" height="0.6" fill="#000" stroke="none" stroke-width="1" opacity="0.03"/>
<rect x="460.0" y="60.1" width="50.4" height="0.6" fill="#000" stroke="none" stroke-width="1" opacity="0.03"/>
<rect x="460.0" y="66.6" width="50.4" height="0.6" fill="#000" stroke="none" stroke-width="1" opacity="0.03"/>
<rect x="460.0" y="73.1" width="50.4" height="0.6" fill="#000" stroke="none" stroke-width="1" opacity="0.03"/>
<circle cx="483.3" cy="45.4" r="0.9" fill="#444" stroke="none" stroke-width="1"/>
</g>
<rect x="458.8" y="82.2" width="52.9" height="51.2" fill="#000" stroke="none" stroke-width="1" />
<defs><radialGradient id="g2" cx="485.6" cy="107.9" r="25.0" gradientUnits="userSpaceOnUse"><stop offset="0" stop-color="#e3ded4"/><stop offset="0.85" stop-color="#e3ded4"/><stop offset="1" stop-color="#cdc6bb"/></radialGradient><clipPath id="c2"><circle cx="485.6" cy="107.9" r="25.0"/></clipPath></defs>
<circle cx="485.6" cy="107.9" r="25.0" fill="url(#g2)" stroke="none" stroke-width="1"/>
<g clip-path="url(#c2)">
<rect x="460.0" y="82.9" width="4.5" height="50.0" fill="#fff" stroke="none" stroke-width="1" opacity="0.035"/>
<rect x="466.5" y="82.9" width="4.5" height="50.0" fill="#000" stroke="none" stroke-width="1" opacity="0.035"/>
<rect x="473.0" y="82.9" width="4.5" height="50.0" fill="#fff" stroke="none" stroke-width="1" opacity="0.035"/>
<rect x="479.5" y="82.9" width="4.5" height="50.0" fill="#000" stroke="none" stroke-width="1" opacity="0.035"/>
<rect x="486.0" y="82.9" width="4.5" height="50.0" fill="#fff" stroke="none" stroke-width="1" opacity="0.035"/>
<rect x="492.5" y="82.9" width="4.5" height="50.0" fill="#000" stroke="none" stroke-width="1" opacity="0.035"/>
<rect x="499.0" y="82.9" width="4.5" height="50.0" fill="#fff" stroke="none" stroke-width="1" opacity="0.035"/>
<rect x="505.5" y="82.9" width="4.5" height="50.0" fill="#000" stroke="none" stroke-width="1" opacity="0.035"/>
<rect x="460.6" y="82.9" width="50.0" height="0.6" fill="#000" stroke="none" stroke-width="1" opacity="0.03"/>
<rect x="460.6" y="89.4" width="50.0" height="0.6" fill="#000" stroke="none" stroke-width="1" opacity="0.03"/>
<rect x="460.6" y="95.9" width="50.0" height="0.6" fill="#000" stroke="none" stroke-width="1" opacity="0.03"/>
<rect x="460.6" y="102.4" width="50.0" height="0.6" fill="#000" stroke="none" stroke-width="1" opacity="0.03"/>
<rect x="460.6" y="108.9" width="50.0" height="0.6" fill="#000" stroke="none" stroke-width="1" opacity="0.03"/>
<rect x="460.6" y="115.4" width="50.0" height="0.6" fill="#000" stroke="none" stroke-width="1" opacity="0.03"/>
<rect x="460.6" y="121.9" width="50.0" height="0.6" fill="#000" stroke="none" stroke-width="1" opacity="0.03"/>
<rect x="460.6" y="128.4" width="50.0" height="0.6" fill="#000" stroke="none" stroke-width="1" opacity="0.03"/>
<circle cx="476.9" cy="90.6" r="1.5" fill="#111" stroke="none" stroke-width="1"/>
<circle cx="500" cy="102.3" r="1.3" fill="#222" stroke="none" stroke-width="1"/>
<circle cx="502" cy="115.4" r="1.2" fill="#222" stroke="none" stroke-width="1"/>
<circle cx="482.8" cy="124.9" r="0.8" fill="#555" stroke="none" stroke-width="1"/>
<circle cx="481.2" cy="128.1" r="1.1" fill="#333" stroke="none" stroke-width="1"/>
<circle cx="484.5" cy="97.5" r="0.6" fill="#888" stroke="none" stroke-width="1"/>
<circle cx="494.5" cy="96.5" r="0.5" fill="#999" stroke="none" stroke-width="1"/>
<circle cx="478.2" cy="121.5" r="0.5" fill="#999" stroke="none" stroke-width="1"/>
</g>
<path d="M495.6,88.3 A22,22 0 0 1 507.1,103.0" fill="none" stroke="#8f8981" stroke-width="2.0" stroke-linecap="round" opacity="0.55"/>
<text transform="translate(454.8,64.8) rotate(-90)" font-size="8.6" fill="#141414" stroke="none" textLength="24.4" lengthAdjust="spacingAndGlyphs">sh-ctrl</text>
<text transform="translate(455.0,128.8) rotate(-90)" font-size="8.6" fill="#141414" stroke="none" textLength="42.3" lengthAdjust="spacingAndGlyphs">shArid3a #3</text>
<line x1="459.2" y1="135.2" x2="474.6" y2="135.2" stroke="#333" stroke-width="0.8" />
<text x="459.7" y="142.6" font-size="8.2" text-anchor="start" font-weight="normal" font-style="normal" fill="#141414" textLength="21.9" lengthAdjust="spacingAndGlyphs" stroke="none">10mm</text>
<text x="460.3" y="152.2" font-size="8.2" text-anchor="start" font-weight="normal" font-style="normal" fill="#141414" textLength="50.0" lengthAdjust="spacingAndGlyphs" stroke="none">Thpo 20ng/ml</text>
<text x="6" y="175.9" font-size="11.5" text-anchor="start" font-weight="bold" font-style="normal" fill="#000" textLength="6.3" lengthAdjust="spacingAndGlyphs"  stroke="#000" stroke-width="0.55" stroke-linejoin="round">E</text>
<line x1="43.75" y1="186.4" x2="43.75" y2="271.95" stroke="#2a2a2a" stroke-width="1.5" />
<line x1="43.0" y1="271.2" x2="133.7" y2="271.2" stroke="#2a2a2a" stroke-width="1.5" />
<line x1="40.4" y1="271.2" x2="43.75" y2="271.2" stroke="#2a2a2a" stroke-width="1" />
<text x="38.2" y="274.2" font-size="9" text-anchor="end" font-weight="normal" font-style="normal" fill="#141414" textLength="4.3" lengthAdjust="spacingAndGlyphs"  stroke="#141414" stroke-width="0.12">0</text>
<line x1="40.4" y1="247.3" x2="43.75" y2="247.3" stroke="#2a2a2a" stroke-width="1" />
<text x="38.2" y="250.3" font-size="9" text-anchor="end" font-weight="normal" font-style="normal" fill="#141414" textLength="4.3" lengthAdjust="spacingAndGlyphs"  stroke="#141414" stroke-width="0.12">1</text>
<line x1="40.4" y1="223.4" x2="43.75" y2="223.4" stroke="#2a2a2a" stroke-width="1" />
<text x="38.2" y="226.4" font-size="9" text-anchor="end" font-weight="normal" font-style="normal" fill="#141414" textLength="4.3" lengthAdjust="spacingAndGlyphs"  stroke="#141414" stroke-width="0.12">2</text>
<line x1="40.4" y1="199.5" x2="43.75" y2="199.5" stroke="#2a2a2a" stroke-width="1" />
<text x="38.2" y="202.5" font-size="9" text-anchor="end" font-weight="normal" font-style="normal" fill="#141414" textLength="4.3" lengthAdjust="spacingAndGlyphs"  stroke="#141414" stroke-width="0.12">3</text>
<line x1="43.75" y1="271.2" x2="43.75" y2="274.6" stroke="#2a2a2a" stroke-width="1" />
<text x="43.75" y="284.0" font-size="9" text-anchor="middle" font-weight="normal" font-style="normal" fill="#141414" textLength="4.3" lengthAdjust="spacingAndGlyphs"  stroke="#141414" stroke-width="0.12">0</text>
<line x1="64.64" y1="271.2" x2="64.64" y2="274.6" stroke="#2a2a2a" stroke-width="1" />
<text x="64.64" y="284.0" font-size="9" text-anchor="middle" font-weight="normal" font-style="normal" fill="#141414" textLength="4.3" lengthAdjust="spacingAndGlyphs"  stroke="#141414" stroke-width="0.12">2</text>
<line x1="85.53" y1="271.2" x2="85.53" y2="274.6" stroke="#2a2a2a" stroke-width="1" />
<text x="85.53" y="284.0" font-size="9" text-anchor="middle" font-weight="normal" font-style="normal" fill="#141414" textLength="4.3" lengthAdjust="spacingAndGlyphs"  stroke="#141414" stroke-width="0.12">4</text>
<line x1="106.41" y1="271.2" x2="106.41" y2="274.6" stroke="#2a2a2a" stroke-width="1" />
<text x="106.41" y="284.0" font-size="9" text-anchor="middle" font-weight="normal" font-style="normal" fill="#141414" textLength="4.3" lengthAdjust="spacingAndGlyphs"  stroke="#141414" stroke-width="0.12">6</text>
<line x1="127.3" y1="271.2" x2="127.3" y2="274.6" stroke="#2a2a2a" stroke-width="1" />
<text x="127.3" y="284.0" font-size="9" text-anchor="middle" font-weight="normal" font-style="normal" fill="#141414" textLength="4.3" lengthAdjust="spacingAndGlyphs"  stroke="#141414" stroke-width="0.12">8</text>
<text x="49.8" y="296.6" font-size="9.4" text-anchor="start" font-weight="normal" font-style="normal" fill="#141414" textLength="71.4" lengthAdjust="spacingAndGlyphs"  stroke="#141414" stroke-width="0.12">Time in culture (days)</text>
<text transform="translate(27.8,252.6) rotate(-90)" font-size="8.9" fill="#141414" textLength="8.8" lengthAdjust="spacingAndGlyphs">FP</text>
<text transform="translate(24.8,243.5) rotate(-90)" font-size="6.8" fill="#141414">+</text>
<text transform="translate(27.8,236.6) rotate(-90)" font-size="8.9" fill="#141414" textLength="29.9" lengthAdjust="spacingAndGlyphs">cells/day0</text>
<line x1="43.75" y1="247.3" x2="125.2" y2="247.3" stroke="#111" stroke-width="1.2" stroke-dasharray="1.2,2.3"/>
<polyline points="43.75,247.3 45.24,246.29 46.73,245.26 48.23,244.19 49.72,243.1 51.21,241.98 52.7,240.85 54.19,239.69 55.69,238.52 57.18,237.34 58.67,236.14 60.16,234.94 61.65,233.73 63.15,232.51 64.64,231.3 66.13,230.08 67.62,228.87 69.11,227.67 70.61,226.47 72.1,225.29 73.59,224.11 75.08,222.96 76.57,221.82 78.07,220.71 79.56,219.62 81.05,218.55 82.54,217.51 84.03,216.51 85.52,215.53 87.02,214.6 88.51,213.7 90.0,212.84 91.49,212.03 92.98,211.26 94.48,210.54 95.97,209.87 97.46,209.25 98.95,208.69 100.44,208.19 101.94,207.74 103.43,207.37 104.92,207.05 106.41,206.81 107.9,206.63 109.4,206.53 110.89,206.5 112.38,206.56 113.87,206.69 115.36,206.9 116.86,207.2" fill="none" stroke="#000" stroke-width="1.6" />
<polyline points="43.75,247.3 44.99,247.34 46.23,247.44 47.47,247.61 48.71,247.84 49.95,248.13 51.18,248.48 52.42,248.88 53.66,249.32 54.9,249.82 56.14,250.36 57.38,250.93 58.62,251.55 59.86,252.19 61.1,252.87 62.34,253.57 63.58,254.3 64.81,255.05 66.05,255.81 67.29,256.59 68.53,257.38 69.77,258.18 71.01,258.98 72.25,259.78 73.49,260.58 74.73,261.38 75.97,262.16 77.21,262.94 78.44,263.7 79.68,264.44 80.92,265.16 82.16,265.85 83.4,266.52 84.64,267.16 85.88,267.76 87.12,268.32 88.36,268.85 89.6,269.33 90.84,269.76 92.07,270.14 93.31,270.47 94.55,270.74 95.79,270.95 97.03,271.1 98.27,271.18 99.51,271.2 100.75,271.2 101.99,271.2 103.23,271.2 104.47,271.2 105.7,271.2 106.94,271.2 108.18,271.2 109.42,271.2 110.66,271.2 111.9,271.2 113.14,271.2 114.38,271.2 115.62,271.2 116.86,271.2" fill="none" stroke="#3db54a" stroke-width="1.6" />
<line x1="64.64" y1="227.94" x2="64.64" y2="234.63" stroke="#111" stroke-width="1" />
<line x1="63.04" y1="227.94" x2="66.24" y2="227.94" stroke="#111" stroke-width="1" />
<line x1="63.04" y1="234.63" x2="66.24" y2="234.63" stroke="#111" stroke-width="1" />
<circle cx="64.64" cy="231.29" r="1.9" fill="#000" stroke="none" stroke-width="1"/>
<line x1="85.53" y1="212.17" x2="85.53" y2="218.62" stroke="#111" stroke-width="1" />
<line x1="83.93" y1="212.17" x2="87.12" y2="212.17" stroke="#111" stroke-width="1" />
<line x1="83.93" y1="218.62" x2="87.12" y2="218.62" stroke="#111" stroke-width="1" />
<circle cx="85.53" cy="215.51" r="1.9" fill="#000" stroke="none" stroke-width="1"/>
<line x1="116.86" y1="202.37" x2="116.86" y2="212.64" stroke="#111" stroke-width="1" />
<line x1="115.26" y1="202.37" x2="118.46" y2="202.37" stroke="#111" stroke-width="1" />
<line x1="115.26" y1="212.64" x2="118.46" y2="212.64" stroke="#111" stroke-width="1" />
<circle cx="116.86" cy="207.87" r="1.9" fill="#000" stroke="none" stroke-width="1"/>
<line x1="64.64" y1="251.36" x2="64.64" y2="256.38" stroke="#3db54a" stroke-width="1" />
<line x1="63.04" y1="251.36" x2="66.24" y2="251.36" stroke="#3db54a" stroke-width="1" />
<line x1="63.04" y1="256.38" x2="66.24" y2="256.38" stroke="#3db54a" stroke-width="1" />
<circle cx="64.64" cy="253.99" r="1.9" fill="#fff" stroke="#3db54a" stroke-width="1.2"/>
<circle cx="85.53" cy="265.7" r="1.9" fill="#fff" stroke="#3db54a" stroke-width="1.2"/>
<circle cx="116.86" cy="270.72" r="1.9" fill="#fff" stroke="#3db54a" stroke-width="1.2"/>
<circle cx="43.75" cy="247.3" r="1.9" fill="#000" stroke="none" stroke-width="1"/>
<polyline points="121,207.5 124.1,207.5 124.1,270 121,270" fill="none" stroke="#555" stroke-width="1" />
<text transform="translate(127.6,221.3) rotate(90)" x="0" y="0" font-size="8.2" text-anchor="start" font-weight="normal" font-style="normal" fill="#1e1e1e" textLength="34.2" lengthAdjust="spacingAndGlyphs"  stroke="#1e1e1e" stroke-width="0.12">p&lt;0.0001</text>
<text x="163.8" y="175.9" font-size="11.5" text-anchor="start" font-weight="bold" font-style="normal" fill="#000" textLength="6.4" lengthAdjust="spacingAndGlyphs"  stroke="#000" stroke-width="0.55" stroke-linejoin="round">F</text>
<line x1="193" y1="181.9" x2="193" y2="271.95" stroke="#2a2a2a" stroke-width="1.5" />
<line x1="192.25" y1="271.2" x2="277.3" y2="271.2" stroke="#2a2a2a" stroke-width="1.5" />
<line x1="190.1" y1="271.2" x2="193" y2="271.2" stroke="#2a2a2a" stroke-width="1" />
<text x="186.8" y="274.2" font-size="9" text-anchor="end" font-weight="normal" font-style="normal" fill="#141414" textLength="4.3" lengthAdjust="spacingAndGlyphs"  stroke="#141414" stroke-width="0.12">0</text>
<line x1="190.1" y1="250.27" x2="193" y2="250.27" stroke="#2a2a2a" stroke-width="1" />
<text x="186.8" y="253.27" font-size="9" text-anchor="end" font-weight="normal" font-style="normal" fill="#141414" textLength="8.61" lengthAdjust="spacingAndGlyphs"  stroke="#141414" stroke-width="0.12">20</text>
<line x1="190.1" y1="229.35" x2="193" y2="229.35" stroke="#2a2a2a" stroke-width="1" />
<text x="186.8" y="232.35" font-size="9" text-anchor="end" font-weight="normal" font-style="normal" fill="#141414" textLength="8.61" lengthAdjust="spacingAndGlyphs"  stroke="#141414" stroke-width="0.12">40</text>
<line x1="190.1" y1="208.43" x2="193" y2="208.43" stroke="#2a2a2a" stroke-width="1" />
<text x="186.8" y="211.43" font-size="9" text-anchor="end" font-weight="normal" font-style="normal" fill="#141414" textLength="8.61" lengthAdjust="spacingAndGlyphs"  stroke="#141414" stroke-width="0.12">60</text>
<line x1="190.1" y1="187.5" x2="193" y2="187.5" stroke="#2a2a2a" stroke-width="1" />
<text x="186.8" y="190.5" font-size="9" text-anchor="end" font-weight="normal" font-style="normal" fill="#141414" textLength="8.61" lengthAdjust="spacingAndGlyphs"  stroke="#141414" stroke-width="0.12">80</text>
<line x1="204.6" y1="271.2" x2="204.6" y2="274.6" stroke="#2a2a2a" stroke-width="1" />
<line x1="234.8" y1="271.2" x2="234.8" y2="274.6" stroke="#2a2a2a" stroke-width="1" />
<line x1="264.9" y1="271.2" x2="264.9" y2="274.6" stroke="#2a2a2a" stroke-width="1" />
<text x="189.0" y="286.8" font-size="8.5" text-anchor="start" font-weight="normal" font-style="normal" fill="#141414" textLength="24.3" lengthAdjust="spacingAndGlyphs"  stroke="#141414" stroke-width="0.12">CD117</text>
<text x="213.9" y="284.6" font-size="7" text-anchor="start" font-weight="normal" font-style="normal" fill="#141414"  stroke="#141414" stroke-width="0.12">+</text>
<text x="228.3" y="286.8" font-size="8.5" text-anchor="start" font-weight="normal" font-style="normal" fill="#141414" textLength="11.5" lengthAdjust="spacingAndGlyphs"  stroke="#141414" stroke-width="0.12">MK</text>
<text x="255.9" y="286.8" font-size="8.5" text-anchor="start" font-weight="normal" font-style="normal" fill="#141414" textLength="14.1" lengthAdjust="spacingAndGlyphs"  stroke="#141414" stroke-width="0.12">ERY</text>
<text transform="translate(172.7,243.5) rotate(-90)" font-size="9.8" fill="#141414" textLength="28.6" lengthAdjust="spacingAndGlyphs">Cells (%)</text>
<rect x="194.6" y="207.1" width="9.2" height="64.1" fill="#000" stroke="none" stroke-width="1" />
<line x1="199.2" y1="192.6" x2="199.2" y2="207.6" stroke="#444" stroke-width="1" />
<line x1="197.4" y1="192.6" x2="201.0" y2="192.6" stroke="#333" stroke-width="1" />
<rect x="206.7" y="214.5" width="7.6" height="56.7" fill="#fff" stroke="#3bb54a" stroke-width="1" />
<line x1="210.5" y1="197.5" x2="210.5" y2="214.0" stroke="#3bb54a" stroke-width="1" />
<line x1="208.7" y1="197.5" x2="212.3" y2="197.5" stroke="#3bb54a" stroke-width="1" />
<rect x="224.4" y="250.6" width="9.6" height="20.6" fill="#000" stroke="none" stroke-width="1" />
<line x1="229.2" y1="247.1" x2="229.2" y2="251.1" stroke="#444" stroke-width="1" />
<line x1="227.4" y1="247.1" x2="231.0" y2="247.1" stroke="#333" stroke-width="1" />
<rect x="236.5" y="223.5" width="8.0" height="47.7" fill="#fff" stroke="#3bb54a" stroke-width="1" />
<line x1="240.5" y1="217.7" x2="240.5" y2="223.0" stroke="#3bb54a" stroke-width="1" />
<line x1="238.7" y1="217.7" x2="242.3" y2="217.7" stroke="#3bb54a" stroke-width="1" />
<rect x="254.6" y="247.7" width="9.6" height="23.5" fill="#000" stroke="none" stroke-width="1" />
<line x1="259.4" y1="243.8" x2="259.4" y2="248.2" stroke="#444" stroke-width="1" />
<line x1="257.6" y1="243.8" x2="261.2" y2="243.8" stroke="#333" stroke-width="1" />
<rect x="266.7" y="248.2" width="8.2" height="23.0" fill="#fff" stroke="#3bb54a" stroke-width="1" />
<line x1="270.8" y1="242.7" x2="270.8" y2="247.7" stroke="#3bb54a" stroke-width="1" />
<line x1="269.0" y1="242.7" x2="272.6" y2="242.7" stroke="#3bb54a" stroke-width="1" />
<polyline points="199.2,192.3 199.2,190.2 210.5,190.2 210.5,196.6" fill="none" stroke="#333" stroke-width="1" />
<text x="199.6" y="187.7" font-size="8" text-anchor="start" font-weight="normal" font-style="normal" fill="#141414" textLength="10.4" lengthAdjust="spacingAndGlyphs"  stroke="#141414" stroke-width="0.12">n.s.</text>
<polyline points="229.2,246.2 229.2,214.2 240.5,214.2 240.5,216.9" fill="none" stroke="#333" stroke-width="1" />
<text x="219.6" y="211.8" font-size="8" text-anchor="start" font-weight="normal" font-style="normal" fill="#141414" textLength="34.2" lengthAdjust="spacingAndGlyphs"  stroke="#141414" stroke-width="0.12">p=0.0175</text>
<polyline points="259.4,243.2 259.4,238.6 270.8,238.6 270.8,242.2" fill="none" stroke="#333" stroke-width="1" />
<text x="260.2" y="236.3" font-size="8" text-anchor="start" font-weight="normal" font-style="normal" fill="#141414" textLength="10.4" lengthAdjust="spacingAndGlyphs"  stroke="#141414" stroke-width="0.12">n.s.</text>
<text x="318.3" y="176.2" font-size="11.5" text-anchor="start" font-weight="bold" font-style="normal" fill="#000" textLength="8.2" lengthAdjust="spacingAndGlyphs"  stroke="#000" stroke-width="0.55" stroke-linejoin="round">G</text>
<line x1="355.1" y1="182.9" x2="355.1" y2="272.35" stroke="#2a2a2a" stroke-width="1.5" />
<line x1="354.35" y1="271.6" x2="408.5" y2="271.6" stroke="#2a2a2a" stroke-width="1.5" />
<line x1="352.2" y1="271.6" x2="355.1" y2="271.6" stroke="#2a2a2a" stroke-width="1" />
<text x="348.0" y="274.6" font-size="9" text-anchor="end" font-weight="normal" font-style="normal" fill="#141414" textLength="4.4" lengthAdjust="spacingAndGlyphs"  stroke="#141414" stroke-width="0.12">0</text>
<line x1="352.2" y1="250.65" x2="355.1" y2="250.65" stroke="#2a2a2a" stroke-width="1" />
<text x="348.0" y="253.65" font-size="9" text-anchor="end" font-weight="normal" font-style="normal" fill="#141414" textLength="8.81" lengthAdjust="spacingAndGlyphs"  stroke="#141414" stroke-width="0.12">50</text>
<line x1="352.2" y1="229.7" x2="355.1" y2="229.7" stroke="#2a2a2a" stroke-width="1" />
<text x="348.0" y="232.7" font-size="9" text-anchor="end" font-weight="normal" font-style="normal" fill="#141414" textLength="13.21" lengthAdjust="spacingAndGlyphs"  stroke="#141414" stroke-width="0.12">100</text>
<line x1="352.2" y1="208.75" x2="355.1" y2="208.75" stroke="#2a2a2a" stroke-width="1" />
<text x="348.0" y="211.75" font-size="9" text-anchor="end" font-weight="normal" font-style="normal" fill="#141414" textLength="13.21" lengthAdjust="spacingAndGlyphs"  stroke="#141414" stroke-width="0.12">150</text>
<line x1="352.2" y1="187.8" x2="355.1" y2="187.8" stroke="#2a2a2a" stroke-width="1" />
<text x="348.0" y="190.8" font-size="9" text-anchor="end" font-weight="normal" font-style="normal" fill="#141414" textLength="13.21" lengthAdjust="spacingAndGlyphs"  stroke="#141414" stroke-width="0.12">200</text>
<line x1="369.8" y1="271.6" x2="369.8" y2="275" stroke="#2a2a2a" stroke-width="1" />
<line x1="395.5" y1="271.6" x2="395.5" y2="275" stroke="#2a2a2a" stroke-width="1" />
<text transform="translate(326.6,257.2) rotate(-90)" font-size="8.6" fill="#141414" textLength="61.9" lengthAdjust="spacingAndGlyphs">Colonies/10<tspan font-size="5.2" dy="-2.8">4</tspan><tspan dy="2.8"> cells</tspan></text>
<rect x="360" y="216" width="19.9" height="55.6" fill="#000" stroke="none" stroke-width="1" />
<line x1="369.8" y1="203.6" x2="369.8" y2="216.5" stroke="#444" stroke-width="1" />
<line x1="365" y1="203.6" x2="374.7" y2="203.6" stroke="#333" stroke-width="1" />
<rect x="389.3" y="270.3" width="12.4" height="1.3" fill="#3bb54a" stroke="none" stroke-width="1" />
<polyline points="369.7,203.2 369.7,197.5 396.5,197.5 396.5,262.8" fill="none" stroke="#333" stroke-width="1" />
<text x="368" y="194.8" font-size="8.3" text-anchor="start" font-weight="normal" font-style="normal" fill="#141414" textLength="33.7" lengthAdjust="spacingAndGlyphs"  stroke="#141414" stroke-width="0.12">p&lt;0.0001</text>
<text x="361.8" y="287.3" font-size="8.3" text-anchor="start" font-weight="normal" font-style="italic" fill="#141414" textLength="14.5" lengthAdjust="spacingAndGlyphs"  stroke="#141414" stroke-width="0.12">LUC</text>
<text x="382.6" y="287.3" font-size="8.3" text-anchor="start" font-weight="normal" font-style="italic" fill="#141414" textLength="24.7" lengthAdjust="spacingAndGlyphs"  stroke="#141414" stroke-width="0.12">Arid3a</text>
<text x="436.3" y="175.8" font-size="11.5" text-anchor="start" font-weight="bold" font-style="normal" fill="#000" textLength="7.8" lengthAdjust="spacingAndGlyphs"  stroke="#000" stroke-width="0.55" stroke-linejoin="round">H</text>
<text x="459.0" y="175.2" font-size="8.8" fill="#141414" stroke="#222" stroke-width="0.05" textLength="50.6" lengthAdjust="spacingAndGlyphs"><tspan font-style="italic">Gata1s</tspan> FLCs +</text>
<text x="464" y="185.6" font-size="8.8" text-anchor="start" font-weight="normal" font-style="normal" fill="#141414" textLength="41.3" lengthAdjust="spacingAndGlyphs" stroke="#222" stroke-width="0.05">miR-125b +</text>
<rect x="458" y="187.8" width="53" height="52.8" fill="#000" stroke="none" stroke-width="1" />
<defs><radialGradient id="g3" cx="484.1" cy="214.3" r="25.3" gradientUnits="userSpaceOnUse"><stop offset="0" stop-color="#eee4de"/><stop offset="0.85" stop-color="#eee4de"/><stop offset="1" stop-color="#d4c9c2"/></radialGradient><clipPath id="c3"><circle cx="484.1" cy="214.3" r="25.3"/></clipPath></defs>
<circle cx="484.1" cy="214.3" r="25.3" fill="url(#g3)" stroke="none" stroke-width="1"/>
<g clip-path="url(#c3)">
<rect x="459.0" y="189.0" width="4.5" height="50.6" fill="#fff" stroke="none" stroke-width="1" opacity="0.035"/>
<rect x="465.5" y="189.0" width="4.5" height="50.6" fill="#000" stroke="none" stroke-width="1" opacity="0.035"/>
<rect x="472.0" y="189.0" width="4.5" height="50.6" fill="#fff" stroke="none" stroke-width="1" opacity="0.035"/>
<rect x="478.5" y="189.0" width="4.5" height="50.6" fill="#000" stroke="none" stroke-width="1" opacity="0.035"/>
<rect x="485.0" y="189.0" width="4.5" height="50.6" fill="#fff" stroke="none" stroke-width="1" opacity="0.035"/>
<rect x="491.5" y="189.0" width="4.5" height="50.6" fill="#000" stroke="none" stroke-width="1" opacity="0.035"/>
<rect x="498.0" y="189.0" width="4.5" height="50.6" fill="#fff" stroke="none" stroke-width="1" opacity="0.035"/>
<rect x="504.5" y="189.0" width="4.5" height="50.6" fill="#000" stroke="none" stroke-width="1" opacity="0.035"/>
<rect x="511.0" y="189.0" width="4.5" height="50.6" fill="#fff" stroke="none" stroke-width="1" opacity="0.035"/>
<rect x="458.8" y="189.0" width="50.6" height="0.6" fill="#000" stroke="none" stroke-width="1" opacity="0.03"/>
<rect x="458.8" y="195.5" width="50.6" height="0.6" fill="#000" stroke="none" stroke-width="1" opacity="0.03"/>
<rect x="458.8" y="202.0" width="50.6" height="0.6" fill="#000" stroke="none" stroke-width="1" opacity="0.03"/>
<rect x="458.8" y="208.5" width="50.6" height="0.6" fill="#000" stroke="none" stroke-width="1" opacity="0.03"/>
<rect x="458.8" y="215.0" width="50.6" height="0.6" fill="#000" stroke="none" stroke-width="1" opacity="0.03"/>
<rect x="458.8" y="221.5" width="50.6" height="0.6" fill="#000" stroke="none" stroke-width="1" opacity="0.03"/>
<rect x="458.8" y="228.0" width="50.6" height="0.6" fill="#000" stroke="none" stroke-width="1" opacity="0.03"/>
<rect x="458.8" y="234.5" width="50.6" height="0.6" fill="#000" stroke="none" stroke-width="1" opacity="0.03"/>
<circle cx="483.1" cy="207.3" r="1.2" fill="#333" stroke="none" stroke-width="1"/>
<circle cx="494.8" cy="223.7" r="1.4" fill="#222" stroke="none" stroke-width="1"/>
<circle cx="490.1" cy="223.1" r="0.8" fill="#444" stroke="none" stroke-width="1"/>
<circle cx="500.9" cy="208.3" r="0.7" fill="#777" stroke="none" stroke-width="1"/>
<circle cx="488.7" cy="233.8" r="0.6" fill="#888" stroke="none" stroke-width="1"/>
<circle cx="477" cy="194" r="0.8" fill="#888" stroke="none" stroke-width="1"/>
</g>
<rect x="458" y="243.3" width="53" height="53.3" fill="#000" stroke="none" stroke-width="1" />
<defs><radialGradient id="g4" cx="484.3" cy="270.2" r="25.2" gradientUnits="userSpaceOnUse"><stop offset="0" stop-color="#dcd3de"/><stop offset="0.85" stop-color="#dcd3de"/><stop offset="1" stop-color="#c4bac6"/></radialGradient><clipPath id="c4"><circle cx="484.3" cy="270.2" r="25.2"/></clipPath></defs>
<circle cx="484.3" cy="270.2" r="25.2" fill="url(#g4)" stroke="none" stroke-width="1"/>
<g clip-path="url(#c4)">
<rect x="459.0" y="245.0" width="4.5" height="50.4" fill="#fff" stroke="none" stroke-width="1" opacity="0.035"/>
<rect x="465.5" y="245.0" width="4.5" height="50.4" fill="#000" stroke="none" stroke-width="1" opacity="0.035"/>
<rect x="472.0" y="245.0" width="4.5" height="50.4" fill="#fff" stroke="none" stroke-width="1" opacity="0.035"/>
<rect x="478.5" y="245.0" width="4.5" height="50.4" fill="#000" stroke="none" stroke-width="1" opacity="0.035"/>
<rect x="485.0" y="245.0" width="4.5" height="50.4" fill="#fff" stroke="none" stroke-width="1" opacity="0.035"/>
<rect x="491.5" y="245.0" width="4.5" height="50.4" fill="#000" stroke="none" stroke-width="1" opacity="0.035"/>
<rect x="498.0" y="245.0" width="4.5" height="50.4" fill="#fff" stroke="none" stroke-width="1" opacity="0.035"/>
<rect x="504.5" y="245.0" width="4.5" height="50.4" fill="#000" stroke="none" stroke-width="1" opacity="0.035"/>
<rect x="511.0" y="245.0" width="4.5" height="50.4" fill="#fff" stroke="none" stroke-width="1" opacity="0.035"/>
<rect x="459.1" y="245.0" width="50.4" height="0.6" fill="#000" stroke="none" stroke-width="1" opacity="0.03"/>
<rect x="459.1" y="251.5" width="50.4" height="0.6" fill="#000" stroke="none" stroke-width="1" opacity="0.03"/>
<rect x="459.1" y="258.0" width="50.4" height="0.6" fill="#000" stroke="none" stroke-width="1" opacity="0.03"/>
<rect x="459.1" y="264.5" width="50.4" height="0.6" fill="#000" stroke="none" stroke-width="1" opacity="0.03"/>
<rect x="459.1" y="271.0" width="50.4" height="0.6" fill="#000" stroke="none" stroke-width="1" opacity="0.03"/>
<rect x="459.1" y="277.5" width="50.4" height="0.6" fill="#000" stroke="none" stroke-width="1" opacity="0.03"/>
<rect x="459.1" y="284.0" width="50.4" height="0.6" fill="#000" stroke="none" stroke-width="1" opacity="0.03"/>
<rect x="459.1" y="290.5" width="50.4" height="0.6" fill="#000" stroke="none" stroke-width="1" opacity="0.03"/>
</g>
<text transform="translate(455.0,222.0) rotate(-90)" font-size="8.8" fill="#141414" stroke="none" font-style="italic" textLength="16.5" lengthAdjust="spacingAndGlyphs">LUC</text>
<text transform="translate(455.0,282.5) rotate(-90)" font-size="8.8" fill="#141414" stroke="none" font-style="italic" textLength="24.5" lengthAdjust="spacingAndGlyphs">Arid3a</text>
<line x1="459.2" y1="298.4" x2="474.9" y2="298.4" stroke="#8a8a8a" stroke-width="0.7" />
<text x="459.7" y="306.4" font-size="8.2" text-anchor="start" font-weight="normal" font-style="normal" fill="#141414" textLength="21.9" lengthAdjust="spacingAndGlyphs" stroke="none">10mm</text>
<text x="460.5" y="315.8" font-size="8.2" text-anchor="start" font-weight="normal" font-style="normal" fill="#141414" textLength="48.7" lengthAdjust="spacingAndGlyphs" stroke="none">Thpo 20ng/ml</text>
<rect x="6.3" y="336.2" width="1.7" height="7.7" fill="#000" stroke="none" stroke-width="1" />
<line x1="43.8" y1="366.5" x2="43.8" y2="452.15" stroke="#2a2a2a" stroke-width="1.5" />
<line x1="43.05" y1="451.4" x2="143.4" y2="451.4" stroke="#2a2a2a" stroke-width="1.5" />
<line x1="40.6" y1="451.4" x2="43.8" y2="451.4" stroke="#2a2a2a" stroke-width="1" />
<text x="38.6" y="454.4" font-size="9" text-anchor="end" font-weight="normal" font-style="normal" fill="#141414" textLength="4.3" lengthAdjust="spacingAndGlyphs"  stroke="#141414" stroke-width="0.12">0</text>
<line x1="40.6" y1="413.0" x2="43.8" y2="413.0" stroke="#2a2a2a" stroke-width="1" />
<text x="38.6" y="416.0" font-size="9" text-anchor="end" font-weight="normal" font-style="normal" fill="#141414" textLength="8.61" lengthAdjust="spacingAndGlyphs"  stroke="#141414" stroke-width="0.12">50</text>
<line x1="40.6" y1="374.6" x2="43.8" y2="374.6" stroke="#2a2a2a" stroke-width="1" />
<text x="38.6" y="377.6" font-size="9" text-anchor="end" font-weight="normal" font-style="normal" fill="#141414" textLength="12.91" lengthAdjust="spacingAndGlyphs"  stroke="#141414" stroke-width="0.12">100</text>
<line x1="43.8" y1="451.4" x2="43.8" y2="454.8" stroke="#2a2a2a" stroke-width="1" />
<text x="43.8" y="464.3" font-size="9" text-anchor="middle" font-weight="normal" font-style="normal" fill="#141414" textLength="4.3" lengthAdjust="spacingAndGlyphs"  stroke="#141414" stroke-width="0.12">0</text>
<line x1="83.2" y1="451.4" x2="83.2" y2="454.8" stroke="#2a2a2a" stroke-width="1" />
<text x="83.2" y="464.3" font-size="9" text-anchor="middle" font-weight="normal" font-style="normal" fill="#141414" textLength="12.91" lengthAdjust="spacingAndGlyphs"  stroke="#141414" stroke-width="0.12">100</text>
<line x1="122.6" y1="451.4" x2="122.6" y2="454.8" stroke="#2a2a2a" stroke-width="1" />
<text x="122.6" y="464.3" font-size="9" text-anchor="middle" font-weight="normal" font-style="normal" fill="#141414" textLength="12.91" lengthAdjust="spacingAndGlyphs"  stroke="#141414" stroke-width="0.12">200</text>
<text x="51.9" y="475.8" font-size="9.4" text-anchor="start" font-weight="normal" font-style="normal" fill="#141414" textLength="83.7" lengthAdjust="spacingAndGlyphs"  stroke="#141414" stroke-width="0.12">Days post transplantation</text>
<text transform="translate(20.0,449.4) rotate(-90)" font-size="8.8" fill="#141414" textLength="80.3" lengthAdjust="spacingAndGlyphs">Disease-free survival (%)</text>
<polyline points="44.8,374.6 65.6,374.6 65.6,397.0 68.8,397.0 68.8,405.6 71.9,405.6 71.9,420.8 74.7,420.8 74.7,436.0 81.4,436.0 81.4,443.6 85.4,443.6 85.4,451.4" fill="none" stroke="#3db54a" stroke-width="1.4" />
<polyline points="43.8,374.6 63.7,374.6 63.7,391.5 80.2,391.5 80.2,404.1 89.4,404.1 89.4,415.3 142.6,415.3" fill="none" stroke="#000" stroke-width="1.6" />
<line x1="66.8" y1="389.7" x2="66.8" y2="392.0" stroke="#000" stroke-width="1" />
<line x1="142.6" y1="413.5" x2="142.6" y2="415.8" stroke="#000" stroke-width="1" />
<line x1="67.2" y1="395.4" x2="67.2" y2="397.5" stroke="#222" stroke-width="1" />
<line x1="70.6" y1="404.0" x2="70.6" y2="406.1" stroke="#222" stroke-width="1" />
<line x1="73.2" y1="419.2" x2="73.2" y2="421.3" stroke="#222" stroke-width="1" />
<line x1="79.8" y1="434.4" x2="79.8" y2="436.5" stroke="#222" stroke-width="1" />
<line x1="84.4" y1="442.0" x2="84.4" y2="444.1" stroke="#222" stroke-width="1" />
<line x1="66.2" y1="389.9" x2="66.2" y2="392.0" stroke="#222" stroke-width="1" />
<text x="81.8" y="377.6" font-size="8.2" fill="#141414" textLength="46.9" lengthAdjust="spacingAndGlyphs"><tspan font-style="italic">Gata1s</tspan> FLCs +</text>
<line x1="87.2" y1="384.4" x2="102" y2="384.4" stroke="#000" stroke-width="1.4" />
<line x1="94.6" y1="382.6" x2="94.6" y2="384.4" stroke="#000" stroke-width="1" />
<text x="105.4" y="387.1" font-size="8.2" text-anchor="start" font-weight="normal" font-style="normal" fill="#141414" textLength="19.8" lengthAdjust="spacingAndGlyphs"  stroke="#141414" stroke-width="0.12">sh-ctrl</text>
<line x1="87.2" y1="395.7" x2="102" y2="395.7" stroke="#3db54a" stroke-width="1.4" />
<line x1="94.6" y1="393.9" x2="94.6" y2="395.7" stroke="#222" stroke-width="1" />
<text x="105.4" y="398.4" font-size="8.2" text-anchor="start" font-weight="normal" font-style="normal" fill="#141414" textLength="39.2" lengthAdjust="spacingAndGlyphs"  stroke="#141414" stroke-width="0.12">shArid3a #3</text>
<text x="88.9" y="440.2" font-size="8.6" text-anchor="start" font-weight="normal" font-style="normal" fill="#141414"  stroke="#141414" stroke-width="0.12">P</text>
<text x="94.6" y="442.6" font-size="6.2" text-anchor="start" font-weight="normal" font-style="normal" fill="#141414" textLength="21.8" lengthAdjust="spacingAndGlyphs"  stroke="#141414" stroke-width="0.12">log-rank</text>
<text x="116.8" y="440.2" font-size="8.6" text-anchor="start" font-weight="normal" font-style="normal" fill="#141414" textLength="24.4" lengthAdjust="spacingAndGlyphs"  stroke="#141414" stroke-width="0.12">=0.025</text>
<text x="168.9" y="344.4" font-size="11.5" text-anchor="start" font-weight="bold" font-style="normal" fill="#000" textLength="5.2" lengthAdjust="spacingAndGlyphs"  stroke="#000" stroke-width="0.55" stroke-linejoin="round">J</text>
<line x1="211.2" y1="361.9" x2="211.2" y2="452.25" stroke="#2a2a2a" stroke-width="1.5" />
<line x1="210.45" y1="451.5" x2="266.9" y2="451.5" stroke="#2a2a2a" stroke-width="1.5" />
<line x1="208" y1="451.5" x2="211.2" y2="451.5" stroke="#2a2a2a" stroke-width="1" />
<text x="204.7" y="454.5" font-size="9" text-anchor="end" font-weight="normal" font-style="normal" fill="#141414" textLength="4.3" lengthAdjust="spacingAndGlyphs"  stroke="#141414" stroke-width="0.12">0</text>
<line x1="208" y1="423.47" x2="211.2" y2="423.47" stroke="#2a2a2a" stroke-width="1" />
<text x="204.7" y="426.47" font-size="9" text-anchor="end" font-weight="normal" font-style="normal" fill="#141414" textLength="12.91" lengthAdjust="spacingAndGlyphs"  stroke="#141414" stroke-width="0.12">500</text>
<line x1="208" y1="395.43" x2="211.2" y2="395.43" stroke="#2a2a2a" stroke-width="1" />
<text x="204.7" y="398.43" font-size="9" text-anchor="end" font-weight="normal" font-style="normal" fill="#141414" textLength="17.22" lengthAdjust="spacingAndGlyphs"  stroke="#141414" stroke-width="0.12">1000</text>
<line x1="208" y1="367.4" x2="211.2" y2="367.4" stroke="#2a2a2a" stroke-width="1" />
<text x="204.7" y="370.4" font-size="9" text-anchor="end" font-weight="normal" font-style="normal" fill="#141414" textLength="17.22" lengthAdjust="spacingAndGlyphs"  stroke="#141414" stroke-width="0.12">1500</text>
<line x1="224.7" y1="451.5" x2="224.7" y2="455" stroke="#2a2a2a" stroke-width="1" />
<line x1="253.4" y1="451.5" x2="253.4" y2="455" stroke="#2a2a2a" stroke-width="1" />
<text transform="translate(181.4,441.7) rotate(-90)" font-size="8.8" fill="#141414" textLength="65.4" lengthAdjust="spacingAndGlyphs">Spleen weight (mg)</text>
<text transform="translate(229.0,462.2) rotate(-45)" font-size="8.5" fill="#141414" text-anchor="end" textLength="24" lengthAdjust="spacingAndGlyphs">sh-ctrl</text>
<text transform="translate(257.2,462.2) rotate(-45)" font-size="8.5" fill="#141414" text-anchor="end" textLength="44.5" lengthAdjust="spacingAndGlyphs">shArid3a #3</text>
<line x1="224.8" y1="409.8" x2="224.8" y2="451.5" stroke="#555" stroke-width="1.1" />
<line x1="220.4" y1="409.8" x2="229.4" y2="409.8" stroke="#333" stroke-width="1.1" />
<line x1="215.9" y1="431.1" x2="234.1" y2="431.1" stroke="#333" stroke-width="1.1" />
<circle cx="224.8" cy="383.1" r="2.0" fill="#000" stroke="none" stroke-width="1"/>
<circle cx="224.8" cy="412.4" r="2.0" fill="#000" stroke="none" stroke-width="1"/>
<circle cx="224.8" cy="427.3" r="2.0" fill="#000" stroke="none" stroke-width="1"/>
<circle cx="224.8" cy="433.0" r="2.0" fill="#000" stroke="none" stroke-width="1"/>
<circle cx="224.8" cy="439.2" r="2.0" fill="#000" stroke="none" stroke-width="1"/>
<circle cx="217.4" cy="447.2" r="2.0" fill="#000" stroke="none" stroke-width="1"/>
<circle cx="222.6" cy="445.9" r="2.0" fill="#000" stroke="none" stroke-width="1"/>
<circle cx="227.3" cy="447.2" r="2.0" fill="#000" stroke="none" stroke-width="1"/>
<circle cx="232.2" cy="446.2" r="2.0" fill="#000" stroke="none" stroke-width="1"/>
<circle cx="253.4" cy="377.9" r="2.2" fill="#2db443" stroke="none" stroke-width="1"/>
<circle cx="253.4" cy="383.1" r="2.2" fill="#2db443" stroke="none" stroke-width="1"/>
<circle cx="253.4" cy="390.3" r="2.2" fill="#2db443" stroke="none" stroke-width="1"/>
<circle cx="257.5" cy="394.8" r="2.2" fill="#2db443" stroke="none" stroke-width="1"/>
<circle cx="248.7" cy="398.5" r="2.2" fill="#2db443" stroke="none" stroke-width="1"/>
<circle cx="253.4" cy="403.8" r="2.2" fill="#2db443" stroke="none" stroke-width="1"/>
<circle cx="253.4" cy="413.2" r="2.2" fill="#2db443" stroke="none" stroke-width="1"/>
<circle cx="257.5" cy="420.7" r="2.2" fill="#2db443" stroke="none" stroke-width="1"/>
<circle cx="248.7" cy="424.4" r="2.2" fill="#2db443" stroke="none" stroke-width="1"/>
<line x1="244" y1="400.6" x2="262.2" y2="400.6" stroke="#74c97e" stroke-width="1.2" />
<line x1="253.4" y1="384.5" x2="253.4" y2="416.5" stroke="#74c97e" stroke-width="1.2" />
<line x1="248.7" y1="384.5" x2="257.9" y2="384.5" stroke="#74c97e" stroke-width="1.2" />
<line x1="248.7" y1="416.5" x2="257.9" y2="416.5" stroke="#74c97e" stroke-width="1.2" />
<polyline points="221.9,371.9 221.9,367.2 253.4,367.2 253.4,371.9" fill="none" stroke="#333" stroke-width="1" />
<text x="222.8" y="364.3" font-size="8.2" text-anchor="start" font-weight="normal" font-style="normal" fill="#141414" textLength="29.5" lengthAdjust="spacingAndGlyphs"  stroke="#141414" stroke-width="0.12">p=0.036</text>
<text x="294.3" y="344.4" font-size="11.5" text-anchor="start" font-weight="bold" font-style="normal" fill="#000" textLength="8.2" lengthAdjust="spacingAndGlyphs"  stroke="#000" stroke-width="0.55" stroke-linejoin="round">K</text>
<defs><filter id="blur4" x="-30%" y="-30%" width="160%" height="160%"><feGaussianBlur stdDeviation="0.4"/></filter><filter id="blur5" x="-30%" y="-30%" width="160%" height="160%"><feGaussianBlur stdDeviation="0.5"/></filter><filter id="blur6" x="-30%" y="-30%" width="160%" height="160%"><feGaussianBlur stdDeviation="0.6"/></filter><filter id="blur7" x="-30%" y="-30%" width="160%" height="160%"><feGaussianBlur stdDeviation="0.7"/></filter><filter id="blur8" x="-30%" y="-30%" width="160%" height="160%"><feGaussianBlur stdDeviation="0.8"/></filter><filter id="blur9" x="-30%" y="-30%" width="160%" height="160%"><feGaussianBlur stdDeviation="0.9"/></filter><filter id="blur10" x="-30%" y="-30%" width="160%" height="160%"><feGaussianBlur stdDeviation="1.0"/></filter><filter id="blur11" x="-30%" y="-30%" width="160%" height="160%"><feGaussianBlur stdDeviation="1.1"/></filter><filter id="blur12" x="-30%" y="-30%" width="160%" height="160%"><feGaussianBlur stdDeviation="1.2"/></filter><filter id="blur13" x="-30%" y="-30%" width="160%" height="160%"><feGaussianBlur stdDeviation="1.3"/></filter><filter id="blur14" x="-30%" y="-30%" width="160%" height="160%"><feGaussianBlur stdDeviation="1.4"/></filter><filter id="blur15" x="-30%" y="-30%" width="160%" height="160%"><feGaussianBlur stdDeviation="1.5"/></filter></defs>
<defs><clipPath id="fb1"><rect x="330.3" y="342.9" width="63.9" height="63.1"/></clipPath></defs>
<g clip-path="url(#fb1)">
<path d="M370.3 374.6h.7m-19.7 4.3h.7m3.6-7.6h.7m27.9 2.6h.7m-4.9 4.5h.7m-16.9-11h.7m-8.8 16.3h.7m-3.1-17h.7m1.9 11.7h.7m3.3-16.2h.7m4.3-2.7h.7m3.2 18.1h.7m0 1.9h.7m-17.3-1.4h.7m-2.4-11.7h.7m17.8-2h.7m-3.9 6.1h.7m-4.7 7.5h.7m3.6-17.3h.7m-2 11.5h.7m-12.3 5h.7m-1.8-4.7h.7m21.7-0.9h.7m-14.8-7.9h.7m-18.8 18.4h.7m4-3.3h.7m6.5-11.5h.7m11-9.2h.7m-22.9 10.3h.7m24.1 3.2h.7m-3.9-2.9h.7m-7.2-5.8h.7m8.8 16.6h.7m-9.4-6.1h.7m-3.4-6h.7m-9.6 5.9h.7m10.6-7.8h.7m6.3 14.7h.7m4.5-16.6h.7m-25.2 14.5h.7m11.5-14.1h.7m-.9 9.4h.7m-14.9 4.2h.7m10.7-14.4h.7m14.4 18h.7m-24.1-12.9h.7m35.9 9.3h.7m1.5 5h.7m-18.6-5.1h.7m-18.8-11.9h.7m-2.3-2.2h.7m18.3 8.8h.7m-20.2 6.1h.7m34.3 .5h.7m-11.9 .9h.7m-7.1-14.1h.7m-9.2 6.5h.7m.9-11.8h.7m-9.2 8.4h.7m11.1-9.7h.7m2.7 6.4h.7m-11.9 1h.7m21.5 7.2h.7m-18-13h.7m-19.2 14.1h.7m4.7-2.5h.7m25.1 1.7h.7m-11.8-2.3h.7m3.2 .4h.7m17.7 3.2h.7m-25.5-16.4h.7m10.6 1.5h.7m2.6 14.3h.7m-13.3-11.3h.7m6.7 6.2h.7m-20.8 7h.7m36.4-2.7h.7m-4.7 1h.7m-35-1.8h.7m14.1-4.4h.7m17.5 8.3h.7m-10.5 2.5h.7m7.7-6h.7m-15.6 5.1h.7m-12.9-4.7h.7m-3.9 3.7h.7m12.6-17.6h.7m-10.3 7.5h.7m6.8 3.4h.7m8.8 5.8h.7m-10.8-0.9h.7m-3.6 5.5h.7m7.1-13.8h.7m24.4 12.9h.7m-24.9-12.2h.7m1.3 8.9h.7m.8-12.4h.7m-8.8-1.1h.7m-1.3 .1h.7m25.3 12h.7m-40 5.5h.7m13.1-21.5h.7m7.6-1.1h.7m-13.7 22.3h.7m16.9-6.3h.7m-17-2.1h.7m-6.3 5h.7m-6.4-6.3h.7m5.1-9.9h.7m27.9 12.8h.7m-33.1-1.8h.7m19.3-7.1h.7m-3.7 .6h.7m6.1 5h.7m1.2 8.2h.7m-16.7-9.3h.7m29.7 9.8h.7m-23.7-7.5h.7m6.2-1.9h.7m-1.6-2.8h.7m-21.1 7.6h.7m-6.3-5.4h.7m17.5 5.7h.7m14.7 3.1h.7m-31.2-11.6h.7m35.3 9.7h.7m-5.9 2.2h.7m-13-18.1h.7m19.7 15h.7m-42.9-0.2h.7m-2.4 1.6h.7m9.3-8.6h.7m16.2-6.7h.7m-26.3 12.1h.7m24.8 1.4h.7m-13.7-6.9h.7m12.1 10.5h.7m9.7 .3h.7m-5.5 2.2h.7m-3.5-8.1h.7m-3.9-12.5h.7m-24.8 8.6h.7m33.8 11h.7m-23.4-13.1h.7m-.9-4.2h.7m13 1.5h.7m-13.6 6.6h.7m21.4 2.6h.7m-31.4-1.7h.7m29.6 6.2h.7m-32.6 0h.7m21.5-8.8h.7m-.4 2.9h.7m.5 4.8h.7m-26.2-10.8h.7m25.7 7.2h.7m-13.3-13h.7m21.8 19.7h.7m-32.6-1.3h.7m1.5-9.7h.7m13.3 .4h.7m-6 5.8h.7m-7.5-0.2h.7m8.2-4.9h.7m8.5-0.4h.7m-21.8 2h.7m7.8 2.1h.7m-14.2 4.7h.7m25.3 .7h.7m8 1.7h.7m-22.1-4h.7m-.5-16.5h.7m5.9 7.4h.7m-13.9 5h.7m-.5-8.6h.7m2 6.8h.7m6-13.3h.7m5.6 1.9h.7m-12.2 7.2h.7m20.6 11.6h.7m-31.5-12h.7m-.1 .2h.7m-.6 7.7h.7m-.6-4.6h.7m4.7-5.9h.7m2.4 7.7h.7m14.4-9.2h.7m-23.2 9.7h.7m12.4-2.3h.7m-3.5 1.2h.7m14.2 2.3h.7m6 3.9h.7m-21.4-11.8h.7m6.4 8.2h.7m8.8 3h.7m-23.3-1.4h.7m14.8-1.6h.7m11.7 3.8h.7m-32.5 .5h.7m21.8-7.6h.7m12.2 9.1h.7m-25.6-10.7h.7m-11.2 11.6h.7m27.1-5.5h.7m-14.8 .6h.7m-5.8-14.8h.7m1.8 15h.7m-19.2-3h.7m22.8 2.3h.7m-7.5-5.7h.7m5.4-8.3h.7m-6.1 .8h.7m.8 18.8h.7m27.8-1.6h.7m-41-1.9h.7m22.9 .5h.7m7.9-4.2h.7m-36.6-2.7h.7m-1.4 1h.7m3-4.3h.7m-1.7-2.9h.7m20.5-5h.7m-7.5 6.9h.7m13.1 9.5h.7m-28-5.1h.7m2.3 6.8h.7m-8.9 2h.7m20.3-6h.7m-21.2-4.5h.7m9.2-0.7h.7m.3 10.9h.7m6.3-21h.7m-20.6 9.8h.7m15.3 14.4h.7m-7-9.3h.7m-10.2-2h.7m19.5-1.3h.7m-17.1 4.7h.7m3.2 .9h.7m29.2 7.1h.7m-18-21.3h.7m-11.6 20h.7m2.8-21.4h.7m7.8 5.1h.7m-11.9 1.5h.7m12.6 13.1h.7m2.5-10.9h.7m-3.8-10.2h.7m-7.6 16.6h.7m23.1-0.7h.7m-39.4 1.1h.7m-1.3 2.9h.7m19 .5h.7m1.8-17.5h.7m17.4 9h.7m-43.8 2.7h.7m15.1-9.6h.7m12.9 .1h.7m-27 15.5h.7m17.9-15.1h.7m18.4 11.5h.7m-7.6-1.9h.7m-19.9-7.6h.7m-6.6 8.1h.7m18.8 6.6h.7m-13.7-16.6h.7m27.1 11.9h.7m-35.9-0.2h.7m15.5 3.4h.7m-20.5-1.1h.7m23.6 1.1h.7m-15.1-6.2h.7m24.2 6.4h.7m-11.3-7.9h.7m-7.8 1.6h.7m-3.1-10.2h.7m-4.7 17.8h.7m15-9.9h.7m-19.7 4.1h.7m14.9-11.7h.7m-25.6 16.1h.7m-3.6 1.4h.7m22.1-14.5h.7m-4.1 2.3h.7m7.5 .1h.7m-25.4 3.9h.7m21.3-9.9h.7m1.1 .2h.7m-5.3 4.2h.7m7.8 4.6h.7m-3.6 2.7h.7m3-6.7h.7m-21.3 6.9h.7m-2.2-8.6h.7m29.8 10.1h.7m-30.1-1.4h.7m12.2-16.1h.7m9.7 16.6h.7m-6.1-4.4h.7m9.8 4.7h.7m-14.8 4.8h.7m5-5.5h.7m.2 3h.7m-1.9-9.9h.7m-5.8-0.9h.7m-8.5 2h.7m18.2 10.2h.7m-17-9.5h.7m4.8-5.7h.7m10.2 16.8h.7m-12.7-8.7h.7m-9.7-8.5h.7m4.1 4.6h.7m17.5 8h.7m-17.9-2.7h.7m13.5 7.7h.7m-16 .1h.7m18.2-4.6h.7m-10.5-12.7h.7m-2.5 5.7h.7m3.6 1h.7m-4.5-11.4h.7m-5.6 18.6h.7m-6.9-7.9h.7m-.4-3.1h.7m2 11.7h.7m-3.8-11h.7m5.8 12.9h.7m-7-13.5h.7m9.8 8h.7m12.3 .8h.7m-20-2.2h.7m-6.9 2.3h.7m9.2-12.5h.7m8 7.2h.7m-30.3 8.9h.7m19.1-18.2h.7m-13.3 17.4h.7m10.5 .9h.7m1.1-6.4h.7m-6.9 .1h.7m6.9-6.2h.7m-14 8h.7m2.8-2.9h.7m6.2-10.7h.7m-19.9 16.9h.7m24.2-6.1h.7m-9.6-0.6h.7m-8.7-6.2h.7m12.7 3.5h.7m-1.9-2.9h.7m3.9 13.4h.7m-18-3h.7m3.5 1h.7m-2.6-15.9h.7m-11.3 17h.7m18.7-7.8h.7m-14.4 5.2h.7m-2.2-4.8h.7m7.6-11.7h.7m7.6 7.4h.7m7.2 6.1h.7m-15.7 5.6h.7m-3.2-11.4h.7m8 10.5h.7m-1.4-5.8h.7m-16.4 .7h.7m14.4-4.8h.7m8.4 4.7h.7m-21.4 8.1h.7m1.5-18.6h.7m-9.4 14.2h.7m6.8-10.4h.7m-2.8 2.1h.7m12.3 8.4h.7m.3-10.2h.7m-15.2 12.2h.7m5.7-15.7h.7m-5.6 16.1h.7m20.8-10.5h.7m-12.2 13.6h.7m2.3-6.3h.7m13.2 1.6h.7m-29.9-12.3h.7m35.7 8.8h.7m-13.9 3.4h.7m-.9-13.9h.7m-21.4 7.4h.7m5.7-8.6h.7m12 6.3h.7m3 4.3h.7m-5 7.1h.7m16.9-1.9h.7m-17.2-3.9h.7m-10.2-9.4h.7m4.8 3.7h.7m8 9.4h.7m.3-1.7h.7m-13.6-6.3h.7m20 8.9h.7m-4.5-5.9h.7m-23.9 .6h.7m-5.3-10.9h.7m5.1 16.7h.7m4.5-4.1h.7m22.2 4h.7m-35.4-3.6h.7m31.6 1.6h.7m.2-1.2h.7m-26.5-15.3h.7m-6.5 21.3h.7m-4.4-0.7h.7m25.2-3.4h.7m-21.6-2.2h.7m-2.5-6h.7m-4.9 9.6h.7m32.6-4.2h.7m-17.6-4.7h.7m-21.6 .9h.7m13-7.2h.7m14.3 10.6h.7m-15.6 5.5h.7m10.1-12.1h.7m-5.7 4.7h.7m19.1 4h.7m-28.3-0.4h.7m21.4-4.2h.7m2.6 6.4h.7m-22-17.2h.7m-1.2 9.6h.7m-16.1 5.4h.7m30.8 4.7h.7m-24.6-10h.7m24.3 5.6h.7m-20.8-5.8h.7m7.6-10.7h.7m-3.6 13.7h.7m-6.8-6.4h.7m.9 .5h.7m-6-5.1h.7m3.8 5.7h.7m-5.8-5.9h.7m-8.1 16.4h.7m19.9-15.6h.7m-10.3 16.1h.7m23.4 .1h.7m-24.7-2.5h.7m14.6-6.5h.7m-5.9-1.6h.7m-22 8.1h.7m4.3 1.3h.7m15.3 1.8h.7m5.3-12.5h.7m-4.8-0.4h.7m-7.4 13.4h.7m16.6-0.9h.7m-22.7-14.4h.7m25.5 8.5h.7m-18-9.2h.7m-.3 1.2h.7m-23.4 11.7h.7m17-3.4h.7m-9-6.1h.7m19.2 4.4h.7m-2.1 3.1h.7m2-3.1h.7m-17.4-7.6h.7m13 11.8h.7m.7-15.5h.7m-5.5 7h.7m-14.6 10.8h.7m17.3-12.6h.7m-5.1 3.3h.7m-18 10.6h.7m22.8-14.1h.7m5.9 14.3h.7m-9.6-11.8h.7m-9.1 10.6h.7m-8.6-9.6h.7m7.3-7.3h.7m7.1-1.9h.7m-2.3-1.4h.7m-18.2 12.4h.7m28.5 3.9h.7m-25.7-8.3h.7m28.6 9.5h.7m-43-2.3h.7m17.1-9.4h.7m-8.6 10.6h.7m12.3 .3h.7m-20.8-0.3h.7m5.9 5.2h.7m12.2-9h.7m1.3 3.4h.7m-4.1-13.2h.7m-15.7 12.4h.7m13 3h.7m-15.7-9.1h.7m9.2-2.3h.7m22 14.9h.7m4-1.7h.7m-33-6.4h.7m13.1 3.4h.7m7.5 3.3h.7m-8-20.8h.7m-16.3 14.2h.7m5.9 5.3h.7m-4-1.4h.7m-6.4-9.7h.7m13.1 5.9h.7m-.4 .6h.7m8.6 7.1h.7m-16-3.5h.7m1.8-2.9h.7m1.6-1.7h.7m15.2 6.4h.7m-16.2-4.2h.7m-5.1-1h.7m-3.9-6.4h.7m-7.1 9.8h.7m14.8-10.8h.7m8.2 12.7h.7m13.5-3.1h.7m-37.1 2.6h.7m23.2-1.5h.7m-9.4 4.5h.7m-16.8-1.8h.7m-2.2-5h.7m35.1 5.7h.7m-35.6-7.9h.7m-5.6 3.3h.7m42.6 3.3h.7m-16.3-10.2h.7m-24.9 1.1h.7m21.6-0.1h.7m-7.4-10.1h.7m17.8 21.5h.7m-19.9-14.8h.7m23.2 8.9h.7m-31.6 5.8h.7m8.2-1.5h.7m23.9 1h.7m-27.1-7.3h.7m.4 5.5h.7m-1.8-17.2h.7m3 14.4h.7m-1.3-11.2h.7m-3.5-4.9h.7m.9-2.5h.7m-14.9 15.8h.7m-4.3-1h.7m34.8 2.5h.7m-12.8 2.5h.7m10.2 .8h.7m-27.8 1.7h.7m-.1-1.2h.7m1.8-4.1h.7m-1.3-7.8h.7m1.5 15.8h.7m-.1-15.3h.7m11.5 .7h.7m-19.4 7.2h.7m-4.6-0.6h.7m28.4 2h.7m-18.9-8.1h.7m13.6 5.7h.7m-12.8-10.3h.7m6.6 16.1h.7m-15.4-1.5h.7m4.8-2.1h.7m8.9-16.2h.7m-19.4 18.6h.7m25.2 1.4h.7m-21.1-11.7h.7m-4.5 6.8h.7m3.9 1.3h.7m13.2 1.7h.7m-4.3-14.9h.7m1.4 4.2h.7m-10.8 15.1h.7m.8-6.8h.7m8 7.7h.7m-22.8-13.9h.7m3.5 2.1h.7m8.6-6.2h.7m-15.9 11.5h.7m-.5-7h.7m17.4-6.8h.7m-12.9 13h.7m3.8-4.7h.7m31.6 7h.7m-30.7-6.4h.7m-14 4.1h.7m3.3-3.6h.7m-2.4-1.7h.7m3-6.3h.7m6.6 16.6h.7m-.2-20.9h.7m11.8 18.8h.7m-18.6-12.4h.7m15.6 14.2h.7m16.8 1.9h.7m-6.4-1.8h.7m-7.4-13.9h.7m-10.2 6.4h.7m-22 3.9h.7m-1.3 3.6h.7m30.2-6.4h.7m-11.3-13.5h.7m-15.9 18.7h.7m31.5 1.6h.7m-26.6-16.5h.7m6.6 17.7h.7m-5.2-21.2h.7m7.5 15.2h.7m.2 4.2h.7m-15.1-5.8h.7m12.6-6.2h.7m-7.8 2.9h.7m8.4-9.2h.7m-23.5 18.2h.7m26.4-15.4h.7m-5.3 2.1h.7m-.4-1.3h.7m-4.4 4.1h.7m-17 6h.7m3.2-13.6h.7m10.3 1.1h.7m7.9 1.4h.7m4.6 10.2h.7m-5.7-16.5h.7m-19.6 6.7h.7m22.8 13.1h.7m-23.6-9.9h.7m11.6-1.9h.7m.4 11.6h.7m-3.1 1.8h.7m10.6 .2h.7m-20-16.5h.7m-10.7 9.4h.7m22.2-6h.7m-7.7-3.9h.7m6.1-5.9h.7m-12.9 16h.7m18.9 7.9h.7m-23.4-1.1h.7m13.1 2.2h.7m-.6-9h.7m16.5 6.1h.7m-29.7-6h.7m26 .8h.7m-26 .7h.7m1.6-11.7h.7m26.8 16.6h.7m-40.1 2.6h.7m21.2-20.5h.7m-10 1.8h.7m-.5 7.4h.7m-4.7-10.1h.7m-10.2 11.4h.7m26.6 2.4h.7m-23.7-4.2h.7m.1 8.3h.7m20.3-4.3h.7m-4.6 1.7h.7m-14.6 1.8h.7m13.4-15.2h.7m-11.7-0.9h.7m-8.3 6.3h.7m-.3 13.5h.7m-2.3-15.7h.7m-5.4 15.6h.7m10.6-18.3h.7m-7.3 6.3h.7m1.4 4.3h.7m17.8 2.1h.7m-8 2.2h.7m-1.6-10.3h.7m-9-5.1h.7m20.2 19.7h.7m-18.2-13.2h.7m4.8-3.4h.7m2.8-4.6h.7m18.3 14.2h.7m-31 .8h.7m.3-9.9h.7m26.1 6.8h.7m-23.9 6.7h.7m9-7.8h.7m12.5 2.4h.7m-7.4 4h.7m-26.5-3h.7m-1.3-8.7h.7m-3 7.7h.7m12.3 1.2h.7m29.1 1.5h.7m-33.9-5.3h.7m-8.9 5h.7m15.6-16.2h.7m6.6 10.9h.7m-14.8-5.7h.7m-11.7 17.2h.7m20.7-5.5h.7m-16-11.1h.7m14.6 1.6h.7m-5.4-3.3h.7m-3.3-0.2h.7m6 8h.7m1.3 1.2h.7m8.6 4.8h.7m8.9-0.3h.7m-27.7-11.5h.7m-.3 3.8h.7m-10.5-6.5h.7m23.4 4.1h.7m1.7 5.2h.7m-9.2-5h.7m-4.7 0h.7m-1.6-0.6h.7m-10.8-5.1h.7m2.5 6.7h.7m.9 5.7h.7m26.4 2.9h.7m-13.7-16h.7m-27.4 12.2h.7m20.3-6.6h.7m-.3 10.9h.7m-19-3.8h.7m9 8.1h.7m-3.6-5.6h.7m15.4-17.2h.7m16 14.4h.7m-32.8-13.6h.7m11.1 8h.7m-26.9 13.8h.7m16.3-18h.7m-5.6 3.9h.7m23.8 6.1h.7m-23.3-5.6h.7m21 12.1h.7m-16.9-17h.7m-13.5 15.6h.7m14.4-14.2h.7m-7.4 8.4h.7m8.6-0.2h.7m2.3-12.6h.7m-7.1 .7h.7m-18 6.7h.7m21.5-3h.7m8 9.2h.7m-30.4 6.3h.7m3.9-0.2h.7m5.3-23.9h.7m14.3 4.7h.7m-1.9 17.4h.7m-28.7 .1h.7m7.1-4.9h.7m8.7-13.3h.7m7.2 6.6h.7m-2.7 .2h.7m10.2 7.9h.7m-22.1 3.7h.7m-9.1-10.1h.7m12.8-4.9h.7m21.4 9.6h.7m-14.3-10h.7m-26.1 9.6h.7m15.3-6.2h.7m.2-0.3h.7m6.5-3h.7m.3-0.9h.7m16.1 17.3h.7m-31-10.2h.7m4.1-4h.7m7.2 10.1h.7m13.3 .7h.7m-19.4 4.5h.7m.3-10.2h.7m-10.1-8h.7m-8.2 6.4h.7m10.2-1.6h.7m22.9 8.8h.7m-14 4h.7m-4.6-20.8h.7m-10.5 15.3h.7m-8.3 2h.7m34.4 2.6h.7m-20.1-4.6h.7m-14.1-10.6h.7m14.7 15.4h.7m-13-6.5h.7m7-12.7h.7m10.3 18.4h.7m8.9-6h.7m-32 2.5h.7m15 1.7h.7m-5.5-5.8h.7m27.2 9.8h.7m-22.3-25h.7m-4.7 14.2h.7m-9.7-1.6h.7m10.8-9.5h.7m-8.7 2.2h.7m-13.3 4.4h.7m3.4 8.2h.7m-4.9-6.5h.7m31 10.5h.7m-20.2-1.3h.7m-3.1-11.3h.7m3.2-0.4h.7m18.7 11.7h.7m-21.6-7.3h.7m-9.7 2h.7m9.1-4.6h.7m11.2 1.1h.7m-3.7-0.2h.7m-11.2-1.7h.7m2 11.1h.7m-2.7-16.2h.7m-7 13.6h.7m16-9.6h.7m6.5 7.7h.7m2.1 2.3h.7m-32.5-0.6h.7m18.9-0.8h.7m-.1-13.2h.7m6.3 5.1h.7m-29 3.8h.7m7.7 9.4h.7m12.6-7.2h.7m-24.7 8.2h.7m6.1-7.4h.7m11.4-13.1h.7m5.3 10.2h.7m-9.6 4.1h.7m5.4-3.4h.7m1.9-3.6h.7m3.4 11.2h.7m-10.6-5.6h.7m13.8 6.1h.7m-12.6-8.3h.7m-2.6-11.2h.7m-5.8 11.2h.7m9.2-11.1h.7m-14 12h.7m-4.2-0.8h.7m12-9.6h.7m-6.2 15.5h.7m24-4.5h.7m-25.7 2.5h.7m14.9-9.4h.7m-14.1-1.7h.7m8.4 .5h.7m-6 .8h.7m17.1 12.2h.7m-8.5-7.8h.7m-16 3.8h.7m14.9 2.4h.7m-20-1.9h.7m11.4-1.4h.7m-12.9-4.6h.7m-9.2 14h.7m27.1-2.2h.7m-15.2-19.7h.7m-13.5 16h.7m26.6 4.1h.7m-21-9.9h.7m8.3 1.5h.7m15.7 3h.7m-32.3 3.3h.7m19.8-14.9h.7m2 7.7h.7m-16-2.4h.7m6.4-1.5h.7m-6-4.8h.7m6.5 4.2h.7m3.3 6.8h.7m4.3 4.9h.7m-2.2 1.5h.7m-12.3-4.9h.7m9.5 2.7h.7m-7.1-14.3h.7m3.8-1.7h.7m-2.6 14.9h.7m-14.5 4h.7m6.6-8.4h.7m-2 1.4h.7m-11 7.8h.7m.8-13h.7m10.3 3.8h.7m5.2 11.2h.7m-14.1-6.7h.7m.2 4.5h.7m4.3-5.3h.7m20.1-0.6h.7m-13-11.4h.7m-3.6-2.2h.7m-9 14.8h.7m23.2 0h.7m-32-4.3h.7m6.1-9h.7m23.5 13.8h.7m-8.8 1.9h.7m10.3-1.1h.7m-12.7-4.7h.7m-19.5 7.1h.7m6.9-12.2h.7m10-4.4h.7m-12.8 2.8h.7m.6-3.7h.7m5.3 6.2h.7m14.8 10.6h.7m-29.6 3.3h.7m11.6-7.5h.7m-2.2-4.6h.7m-12.6-2.6h.7m10.9 10h.7m-9.7-13.1h.7m30.1 13.6h.7m-35.9-13.3h.7m31.9 10.6h.7m-5-0.4h.7m-22 1h.7m9.3 4.9h.7m-9.1-17.5h.7m.6 .8h.7m-9.3 13.6h.7m13-11.8h.7m-3.2-5.2h.7m-1.9 .8h.7m22.1 12.1h.7m-31.1 .7h.7m14.2 1.4h.7m-21.3 6.9h.7m14.3-17.2h.7m24.1 13.6h.7m-40-7h.7m18.4-5.2h.7m-1.6 8h.7m-8.5-2h.7m8.9-14.8h.7m-16.3 21.1h.7m4.3-3.7h.7m-1.8-6.7h.7m2 2.6h.7m-8.2 8h.7m-4.8-9.6h.7m25.9 3.2h.7m-13.9-9.5h.7m-12.1 13.2h.7m11.4-13.6h.7m6 7.3h.7m-.1-10.3h.7m-18.8 8.8h.7m6.8 6.4h.7m-7.8-10.3h.7m-4.5 7.8h.7m17.7-3.1h.7m-21.7 10.1h.7m32.6 0h.7m-23.5-7.9h.7m23.2 9.2h.7m-16.3-14.9h.7m4.5-1.5h.7m-4.1 1.6h.7m-.6 8.6h.7m-11.3-11.4h.7m-6.3 15.7h.7m2.1-18h.7m3 5.5h.7m1.5-7.3h.7m.2 12.6h.7m3.3 1.5h.7m-7.5-12.1h.7m6.5 6.8h.7m-9.3 .6h.7m9.3-4.3h.7m7.9 12.8h.7m2.8-3.7h.7m-29.7 .8h.7m4.1-5.8h.7m5.1 .1h.7m-2.8-4.8h.7m18.2 15.4h.7m-19-17.8h.7m23.1 13.1h.7m-8.6-5.3h.7m-17.5-4.2h.7m2.6-3.8h.7m13 15.9h.7m-13.4-12.3h.7m-10.7 8.2h.7m-1.3 7.5h.7m22.9-8.2h.7m-28.5-2h.7m11.3 6.8h.7m-12.7 .2h.7m13.9-18.5h.7m12.8 10.5h.7m-11.4-0.6h.7m-9.6 3.4h.7m10.2 3.3h.7m9.9 4.4h.7m-8.9-5.7h.7m-22.8 7.5h.7m8.5-7.5h.7m9.1-9.6h.7m-7.3-3.1h.7m2.7 11.6h.7m18.3 .6h.7m-32.6-5.7h.7m22.1-4.1h.7m-10 12.9h.7m7.6-10.8h.7m-15.9 2.9h.7m23.7 11.8h.7m-23.7-10.2h.7m-1.2-4.8h.7m18.6 5.6h.7m-10.4-7.3h.7m16.3 13.9h.7m-17.5-3.3h.7m-10.7-0.3h.7m9.6 5.1h.7m-8.3-1.2h.7m-7.9-13.1h.7m8.2-3.3h.7m6.3-3.6h.7m-12.4 10h.7m3.5-6h.7m-3.4 9.7h.7m.9-0.2h.7m-3.5 9h.7m-2.2-11.8h.7m16 10.6h.7m-3.3-11.2h.7m-14.4 6.2h.7m22.4 3.8h.7m-10.7-14.4h.7m-18.2 5.7h.7m4.9 1h.7m4.3 5.4h.7m-.8-6.5h.7m1.3 1.9h.7m-8-8.8h.7m5.2 8h.7m-3.3 5.8h.7m2.7 .6h.7m9.6-15h.7m-6.5 8h.7m-14.5-5.2h.7m13.5 3.7h.7m-2.7 12.6h.7m13.8-0.6h.7m-28.7-1.2h.7m23-1.9h.7m-23.2 3.3h.7m.8-12.8h.7m7.2 4.9h.7m-22 7.1h.7m36.1-3.4h.7m-28.6-0.3h.7m22.1-7.8h.7m7.8 12h.7m-34.6-0.9h.7m9.7-8.6h.7m6.3-7.6h.7m-12.3 9.1h.7m16.5-12.8h.7m-13 7.4h.7m-.4 11.4h.7m17.6 3.9h.7m10.1-1.8h.7m-19.1-9.8h.7m-13.5-3.3h.7m5.1 .1h.7m4.9 11.1h.7m.7-16.1h.7m-14.5 .4h.7m-.5 1h.7m6.3-3.6h.7m15.7 16.4h.7m-14.4-8.1h.7m-21.1 4.8h.7m19.4 3.4h.7m-12.7-5.9h.7m3.7-1.3h.7m10.6-5.4h.7m-10.1-0.1h.7m25.1 12.3h.7m-33 4.6h.7m9.5-17.4h.7m-4.2 2.1h.7m18.1 9.6h.7m-4.7 4h.7m-20.8-2.9h.7m13-12h.7m-6.9-3.8h.7m1.3 19.6h.7m-19.8-4.7h.7m10-0.4h.7m-5.6-4.4h.7m-5.5 3.1h.7m14.6-11.9h.7m11.1 8.4h.7m-24.3 10h.7m3.7-13.5h.7m-2.9 2.6h.7m26.2 4.6h.7m3.3 4.6h.7m-29.1-0.8h.7m14.4-6.6h.7m-2.1 3.9h.7m-1.7 1.9h.7m14-2h.7m-14.3-5.3h.7m-1.2-8.1h.7m-1.1 17.4h.7m-2.8-14.6h.7m-2.7 4.3h.7m-12.8 12.5h.7m4.9-16.7h.7m1.7 15.6h.7m-6.5-18.7h.7m-4.3 10.4h.7m3.9 6.6h.7m14-10.8h.7m-12.2 10h.7m-3.1-9.1h.7m5.2 8h.7m4.5-14.5h.7m17.1 12.4h.7m-21-6.1h.7m.1 5.5h.7m-.8-11.6h.7m-11.2 13.4h.7m34.7 6.8h.7m-37.2-18.1h.7m22.2 15.6h.7m-4.6-2.2h.7m-15.1 1.8h.7m3.9-7.6h.7m8.3-12h.7m-24.5 8h.7m14.8-1.7h.7m20.5 9.7h.7m-37.7 4.7h.7m17 .9h.7m-18.2 1.3h.7m9.4-23.4h.7m-7.2 7.5h.7m14.9-6.8h.7m-20.3 19.4h.7m36.9 .8h.7m-11-2.9h.7m-12.6-13.8h.7m19.7 14.5h.7m-3.9-0.3h.7m-17.7-13h.7m10.3 3.4h.7m-13.9 9.6h.7m.4-11.9h.7m-14.8 12.4h.7m29.5-4.1h.7m-25.1-7.1h.7m15.3 6.9h.7m-11.3 2.7h.7m27.2 2h.7m-25-0.2h.7m-11.5-12.5h.7m7.3-3.3h.7m6 13h.7m-7.9 1.1h.7m24.6-1.1h.7m-35.7 4.5h.7m3.9-0.4h.7m17-13.5h.7m-1.6 8.1h.7m-7.9-1.4h.7m-8.9 .8h.7m1.7-0.8h.7m-6.4-2h.7m7.7-11.3h.7m4.8 11.7h.7m-9.8-6.7h.7m1.3-2.1h.7m1.4 5.2h.7m7.9-3.3h.7m21.2 16.3h.7m-31.6-1.6h.7m-10.1-9.5h.7m5.4 3.8h.7m10.2-13.9h.7m-12.8 20.5h.7m-8.2-4.4h.7m16.5-11.4h.7m10.8 9.3h.7m4.4 7.8h.7m-28.1-12.6h.7m2.6-3h.7m17.8 8.3h.7m-18.3-13h.7m6.9 7.8h.7m15.6 10.4h.7m-23.1-13h.7m20.8 13.9h.7m-16.5-7.1h.7m-3-8.6h.7m11.8 11.1h.7m-2.1-8.1h.7m-15.2 3.1h.7m6-3.5h.7m-.1 12.7h.7m-17.9-3.2h.7m38.2 4.7h.7m-21.8-16.4h.7m-18.2 1.5h.7m12.6-1.5h.7m18.8 13.7h.7m-16-10.6h.7m-22.1 6.6h.7m40.7 5.5h.7m-27.8-13.6h.7m-1.3-3.3h.7m-.6 6.8h.7m-6.3-7.2h.7m2.7 6h.7m-8.2 2.7h.7m26.2 7h.7m-12-20h.7m2.7 6.3h.7m-11.2 5.9h.7m19.3 8.3h.7m-15.7 2.2h.7m7.1-16.5h.7m-8.6 12.7h.7m5.9-14.8h.7m16 19.7h.7m-32.9-18.9h.7m-7.4 4.5h.7m19 11.3h.7m-13.9-4h.7m16.6-5.2h.7m12.7 7.7h.7m-37.4-0.5h.7m20-8.5h.7m.7-2.3h.7m-11.5-6.2h.7m11.3 19.6h.7m-5.1-13.6h.7m11.6 15.3h.7m-16.3-21.5h.7m-9.8 18.2h.7m9.8-10.8h.7m15.6 10.3h.7m-23.6-12.4h.7m9.6 8.3h.7m13.2 5.1h.7m-26.5 .9h.7m-1.8-8.4h.7m0-3.9h.7m10.6 6h.7m17.9 5.8h.7m-3.3-4.1h.7m-29.8-9.8h.7m17 .1h.7m-12.2 15.9h.7m3.1-0.9h.7m-15.5-0.6h.7m1.8-12.8h.7m3.7-5.9h.7m11.2 12.6h.7m-3-6.6h.7m-19.2 12.2h.7m28.3-6.2h.7m-26.3-4.6h.7m6.1 4.6h.7m22.2 1.5h.7m-16.6 5.4h.7m-4.6 2.5h.7m-1-15h.7m3.7 11h.7m-10.3-7.2h.7m-4.9 11.8h.7m6.8-7.8h.7m3.2 2.9h.7m11-3.2h.7m13.4 3.8h.7m-17.5 .1h.7m-8.3-10.4h.7m14.7 5.1h.7m-26.6-5.5h.7m14.2 8.7h.7m.8-1.5h.7m-5.5 2.5h.7m-10.2 2.5h.7m25.7-4h.7m-40.2 2.2h.7m12.3-4.2h.7m-12.8 4.7h.7" stroke="#8a8a8a" stroke-opacity="0.4785" stroke-width="0.7" fill="none"/>
<path d="M384.1 368.8h.7m-13.4 1.9h.7m5.1-2.9h.7m-10.6-0.2h.7m7.3-3.3h.7m-4.3 1.1h.7m11.9 4.7h.7m-4.5 1.6h.7m-2.1 .5h.7m7.5 2.2h.7m-3.2 1.2h.7m-5.1-18.7h.7m-9.3 8h.7m-5.3 2.3h.7m7.9-3.1h.7m-2.7 10.6h.7m-2.5-1.9h.7m1.5-5.3h.7m-9 1.4h.7m18.5 7.1h.7m-16.8-10h.7m2.2 .2h.7m6.9 7.6h.7m-14.2-2.7h.7m14.9 5.9h.7m-.6-6.5h.7m-8.3 2.3h.7m-5.4-8h.7m3-2.5h.7m-9.1 5.8h.7m19.1-16.5h.7m-8.9 19.1h.7m-5.5 3.5h.7m-1.8-5.6h.7m8.4-1.8h.7m5 8.1h.7m-17.7-7h.7m3.6 6.4h.7m-8 7.5h.7m14.3-9.1h.7m-3.9 1.3h.7m12.2-2.8h.7m-15.4-1.5h.7m-2.6 .2h.7m-2.4-1.3h.7m8.9 6.3h.7m-15.9-16.8h.7m13.9 8.4h.7m-3.8 5.8h.7m-5.3-9.4h.7m-3.2 4.6h.7m11.4-3.6h.7m4.3 7h.7m-14.9 2.6h.7m5.3 3.7h.7m6.7-5.9h.7m-15.2-7.6h.7m1.5 6h.7m-6.6 2h.7m5.9 5.2h.7m-.3-22.1h.7m-2.8 15.7h.7m-2.7-13.7h.7m-5.9 15.8h.7m.8-1.7h.7m1.6 .4h.7m9.3 2.4h.7m-7.8-3.1h.7m-2.9-6.4h.7m8.7 6.2h.7m-1.3 5.2h.7m-8.9-8.1h.7m.1 .8h.7m7.3-7.7h.7m-2.5 14.8h.7m-8.2-10.4h.7m6-1.4h.7m-2.4 1.8h.7m6.4-2.6h.7m-13 3.8h.7m10.2 9.5h.7m-3.5-3h.7m-9.6 3.9h.7m12 .4h.7m-1.6-14.8h.7m-14.5 8.6h.7m19.8 6.3h.7m-20.1 4.9h.7m.7-23h.7m3-0.1h.7m6.1 11.8h.7m-1.9-5h.7m-4.9-4.1h.7m8.4 8.5h.7m-6.7-7.2h.7m5.5-9.2h.7m8.1 13.9h.7m-17 .9h.7m-17.9 3.2h.7m12.5 1.9h.7m-4.6-4.7h.7m6.6-2.6h.7m-.7-2.7h.7m-8.9-6.1h.7m-.3 7.5h.7m4.9 8.9h.7m-.3-2.1h.7m-15.8 8.7h.7m21.7-13.7h.7m-6.6-10.1h.7m-1 16.2h.7m1.3 1.3h.7m-9-13.7h.7m5.4-2.8h.7m6.1 11h.7m-.4 3.5h.7m-4.6-11.4h.7m-5.4 4.8h.7m-4.1-2.7h.7m12.8-2.5h.7m-5.7-0.8h.7m-6.7 9h.7m-11.7-3.2h.7m7.5-1.8h.7m-7.4-12.1h.7m19.4 27.1h.7m-7.4-16.7h.7m-6.6 5h.7m2.3-6.2h.7m17.4 9.4h.7m-9.4-11.8h.7m-16.9 10h.7m7-1.8h.7m-7.7 6.9h.7m-3.8-12.5h.7m11.3 2.8h.7m13.5 2.5h.7m-6.1 14.5h.7m-10.3-22.1h.7m-3.4 10.9h.7m3-5.9h.7m4.6 6h.7m-16.6 2.1h.7m-3.3-3.1h.7m23.2 .7h.7m-10.9 .1h.7m7.7-5.4h.7m-9.4 2.3h.7m7.2-8.9h.7m-14 8.1h.7m6.4-2.6h.7m6 3.2h.7m-4.1 6.1h.7m-10.1-2.2h.7m7.9 .6h.7m-10.7 3.9h.7m-5.5-21.6h.7m11.8 17.4h.7m4.9-2.8h.7m-4.2-0.5h.7m-14.3-7.5h.7m13 11.6h.7m-1.9 3.7h.7m-8.1-0.8h.7m-13.7-6.9h.7m21.8 4.5h.7m-1.5 1.8h.7m-3.2 5.6h.7m-15-3.7h.7m.8-6.8h.7m15.4-0.3h.7m-2 .5h.7m-2.7 .3h.7m-5.5-4.4h.7m3.4 7.8h.7m-6.7-9.1h.7m.8-0.6h.7m-4.3 7.1h.7m6.6-5.7h.7m-5.1 2h.7m8.1-11.4h.7m-2.1 17.9h.7m-10.6-5h.7m16.4-0.8h.7m-19.9 3.7h.7m9.5-1.6h.7m3.4-5.6h.7m.6 16.8h.7m-23.3-15.3h.7m20.1 8.9h.7m.7 5.3h.7m.7-15.2h.7m-24.4 4.4h.7m9.3-5.7h.7m3.1 11.6h.7m-3-8.6h.7m10.9-4.7h.7m-13.8 15h.7m11.7-2.5h.7m-5.1-11.2h.7m-13.7 12.9h.7m2.3-6.2h.7m2.7 15.7h.7m2.9-6.2h.7m5.1-14.1h.7m-8.3 1.7h.7m6.4-3.7h.7m-16.8 6.2h.7m-10.3-0.5h.7m16.9 4.3h.7m4.5-4.1h.7m-6-9.6h.7m-5 4.1h.7m8.6 13.8h.7m9.2-1.6h.7m-14-8.2h.7m-4.7 .2h.7m-1.5-0.2h.7m17.6 1.1h.7m-13.8-10.5h.7m3.6 16h.7m3.2-9.7h.7m-1.6 5h.7m-13.7-16.6h.7m11.5 17.2h.7m-1.4 6.8h.7m-3-22.2h.7m2.7 23.3h.7m-10.9-6.5h.7m2.4-7.4h.7m-3.6-5.3h.7m7.6 17h.7m-9.8-5.6h.7m6.1 2.1h.7m-10.4-5.4h.7m5.6-3.2h.7m-2.3 10.3h.7m1-11.3h.7m.9 11.5h.7m-2.8-16h.7m-.9 4.7h.7m-12.8-3.3h.7m20 17.1h.7m-12-19h.7m1.8 3.8h.7m-4.5 11.2h.7m11.2-2.7h.7m-13.1 12.2h.7m8.5-2.2h.7m3.7-7.6h.7m2.3 .5h.7m-3.7-15.6h.7m-4.4 5.8h.7m-12.5 3.5h.7m15.5 .9h.7m-1.4-7.4h.7m-2.9 2.7h.7m-1 .5h.7m-5.4 11.9h.7m-4.5-4h.7m9.6-4.7h.7m.6 .4h.7m-15.7 3.5h.7m12-6.1h.7m-5.1 2.7h.7m3.5-9.1h.7m-4.7 14.9h.7m4.8 1.8h.7m-1.3-3.7h.7m-1.6 .7h.7m-15.4-0.7h.7m13.6 10.4h.7m-5.7-11.4h.7m-8.3-9.5h.7m11.2 1.7h.7m-14.2 10.9h.7m14 2.2h.7m4.5-1.8h.7m-15 .4h.7m8.6-4h.7m-3.8-10.5h.7m.6 4.9h.7m-13.6-6.9h.7m12 8.9h.7m-3.8-6.1h.7m3.2 9.1h.7m-5.4-1.7h.7m6.3-11h.7m-6 16.6h.7m1.9 .2h.7m3.8-13.4h.7m-8.4 9.6h.7m4.6 3.5h.7m-5.7-6.2h.7m1.2 7.1h.7m-7.4-4.2h.7m7.7 5.6h.7m2.2-5.6h.7m-9.1-2.2h.7m4.9 4.2h.7m-3.1 1.7h.7m-10.5-3.3h.7m8.7-4.4h.7m5.5-2.1h.7m-12.3 2.6h.7m-9-1.2h.7m12 4.8h.7m-6.1-0.2h.7m15.6-1.6h.7m-13.2 .5h.7m-.4 1.1h.7m-4.7 8.7h.7m4.9-2.3h.7m-5.9-11.1h.7m-2.9 6.3h.7m4.7-4.7h.7m-5.5 1.4h.7m13-0.9h.7m-16.6-2.4h.7m6.3-4.6h.7m-4.7-6.9h.7m-5.1 16.7h.7m18.7 6.1h.7m-24.7-13.1h.7m22 8.9h.7m-19-5.6h.7m8.9 4.1h.7m13.2-6.8h.7m-28.7 3.6h.7m4.1 .8h.7m16.4-14.2h.7m-8 16.2h.7m-5.3-2.2h.7m2.6-14.7h.7m-6.6 19.7h.7m6.2-4.3h.7m8.1 1.5h.7m-12.7 .9h.7m2.6-4.8h.7m6.1-4.2h.7m4.3 4h.7m-17.1 .1h.7m4.9 16.6h.7m-6.2-2.4h.7m-1.2-14.6h.7m.9 .5h.7m-2.2 4.6h.7m-7.7 1.5h.7m-2.3-7.9h.7m7.3-1.9h.7m4.8 18.4h.7m6.2-5.5h.7m-11.8-16.4h.7m1.6-1.4h.7m4.5 5.9h.7m-.2 6.6h.7m-6.1 2.1h.7m-.3-5.6h.7m11.6-8h.7m-14.8 11.5h.7m-1.7 2.4h.7m-7.9-3.8h.7m12.4-3.1h.7m-5.1 6.7h.7m13.1-3.9h.7m-15-6.8h.7m6.6 7.7h.7m.1-8.8h.7m3.8 14.3h.7m-19.5-3.1h.7m17.6-9.3h.7m-10.6 7.6h.7m-1.4 6.6h.7m-2-21.4h.7m-1.3 12.6h.7m-.4 11.3h.7m-13.3-20.2h.7m17.4 8.7h.7m-3.6-7.9h.7m-7.1 8.6h.7m4.9-14.8h.7m14.3 4.9h.7m-12.9 6.9h.7m-5.5 4.3h.7m12.6 1.5h.7m-16.6 .3h.7m3.4 4.6h.7m-3.3-2.9h.7m1.3 .3h.7m5.5-10.9h.7m-1.7 5.2h.7m-9 21.2h.7m3.1-5.8h.7m.7-9.1h.7m-3.9-0.6h.7m1.7 1.6h.7m-5.1-8.9h.7m-.7 15.1h.7m4.2-14.9h.7m-7.5 1.9h.7m8.5 14.4h.7m-4.6-27.1h.7m-5.3 15.5h.7m1.2-13.3h.7m.2 6.8h.7m1.3 3.6h.7m1-1.6h.7m-2.7 3.3h.7m-4.9-6h.7m13.9 4.2h.7m-4.1-6.9h.7m-5.7 5.1h.7m4.6-6.4h.7m-4.6 13.1h.7m-4.4-12.5h.7m1.4 12.7h.7m15.6-7h.7m-11.2 .7h.7m-.4 9.5h.7m-9.8-6.9h.7m5.6-12.8h.7m9.8 15.3h.7m-12.3-21.8h.7m3.4 20.3h.7m.4-4.3h.7m-4.5-6.4h.7m5.1 9.5h.7m-9.2-2.5h.7m1 14.9h.7m-7.8-15.7h.7m19.9 15.3h.7m-15.4-3.6h.7m-1.9-12.8h.7m7.3-1.3h.7m-12.5 13.7h.7m2.4-9.4h.7m-5.6 1.9h.7m4.3-2.6h.7m-3.3-6.2h.7m5.2 5.4h.7m-4.9-3.8h.7m-3.7-3.7h.7m1.2 8h.7m.4 13.4h.7m-3.1-1.1h.7m8.4-10.8h.7m-2.4 1.3h.7m-4 2.4h.7m-9.1 5.5h.7m10-6.7h.7m-12-5.2h.7m8.5 .6h.7m-1.5 9.8h.7m-4.7 9.5h.7m-2.2-20.8h.7m.1-9.2h.7m16.6 18.4h.7m-15.3-5.7h.7m-.3 1.4h.7m6.6 7.1h.7m-4.1-7.6h.7m3.3-9h.7m-15-4.1h.7m.1 12.4h.7m27.1-7.2h.7m-21.9 9.4h.7m-2.2-10.1h.7m2.1 5.9h.7m4.5-7.2h.7m-14.4 7.2h.7m8.6-0.6h.7m-2.7 6.8h.7m3.7 4.8h.7m-3.8-9.9h.7m-5.2-4.4h.7m-2.8 18.3h.7m-10.5-10.3h.7m20.7 1.6h.7m-16 0h.7m5.9 5.4h.7m12.3-2.8h.7m-13.7-2.2h.7m5.7 .6h.7m-5.8-10.5h.7m4.9 1.6h.7m-4.8 3.2h.7m-4.1 1.3h.7m10.9-0.5h.7m-10.8 1.9h.7m-7.4-1.8h.7m5.6-2.9h.7m4.7-7.8h.7m-11 16h.7m11.2-1.7h.7m-.8-9.5h.7m7.7 9h.7m-17.9-0.7h.7m7.4-2.1h.7m-15.3-12.4h.7m7.2 4.1h.7" stroke="#2bb52b" stroke-opacity="0.4785" stroke-width="0.7" fill="none"/>
<path d="M341.0,387.0 L343.0,384.0 L350.0,383.2 L365.0,382.8 L378.5,383.4 L378.0,385.3 L366.0,387.2 L352.0,389.0 L343.0,389.6Z" fill="#8c8c8c" fill-opacity="1.0" filter="url(#blur10)"/>
<path d="M354.5 387.6h.7m-2.6-2.8h.7m-1.6 2.5h.7m5.9 .8h.7m-17.5-1.6h.7m-.1-0.3h.7m7.9 0h.7m24.8-1h.7m-7 2.8h.7m.4-3.7h.7m1.5-1.1h.7m-6.1 1.4h.7m-8.4 .2h.7m-3.2 4.4h.7m-15-2.6h.7m17-2.1h.7m-11.7 4.4h.7m-2 .5h.7m9.6-5.4h.7m.8 .5h.7m-3.3-0.3h.7m-14 1.9h.7m6.5 .3h.7m.6-0.2h.7m-9.4-1h.7m3.5-0.1h.7m29.1-0.6h.7m-22.1 .4h.7m3.4-1h.7m-3.4 1.9h.7m1.6 .2h.7m-13.1 2.1h.7m-6.5-5h.7m1.5 5.6h.7m21.5-3.8h.7m-13.7-0.2h.7m19 0h.7m-26.3-0.4h.7m-1.2 .3h.7m3.7-2.1h.7m.8 2.4h.7m-4.2 4.1h.7m5.3-2.3h.7m14.6-3.8h.7m-26 2.5h.7m3.9 1.5h.7m-6.6 2.7h.7m15.4-2.2h.7m10.1-3.3h.7m-18.9 .2h.7m-3.8 3.5h.7m24.1-6h.7m-32.1 9h.7m31-8.3h.7m-32 6.3h.7m1.9-0.4h.7m23.9-1.3h.7m-6.2-0.3h.7m-15-0.9h.7m-5.6-1.2h.7m26.4 1h.7m-11.8-2.5h.7m1-1h.7m7.8 1.3h.7m-10.8-1.5h.7m-17.5 2.7h.7m15.7-0.9h.7m-11.2-0.5h.7m13.1 .1h.7m-3.5-0.1h.7m-14.8 2.6h.7m2.5-2.6h.7m13.3 1.7h.7m2.8 .4h.7m-25.1 3.5h.7m2.1-6.4h.7m25.1 2.6h.7m-18.5 1h.7m-12.8 3.1h.7m17.2-5.1h.7m-3.3 .5h.7m-7.6 5.2h.7m3.7-6.7h.7m19.7-0.3h.7m-17.6 2.8h.7m-1.3-0.9h.7m2.9 2.4h.7m-8.2 .2h.7m-14.2 1.1h.7m33.9-5.2h.7m-10.4 2h.7m4.3-1.1h.7m-9.2-1.4h.7m13 1.5h.7m-3.6-0.3h.7m-28.9 1.2h.7m18.8 1.4h.7m-19.7-1.4h.7m-1.7 4.5h.7m9-0.7h.7m-3.2-5h.7m-9.9 4.1h.7m10.8-1.1h.7m-11-1.6h.7m26.3-0.4h.7m4.5 .8h.7m-13.6-0.2h.7m-4.6 2h.7m-2.1-2.4h.7m-12.7-0.3h.7m28.9-1h.7m-31.9 4.2h.7m30.5-3.4h.7m-13.1 .9h.7m3.6 1h.7m-1-3.4h.7m-11.3 3.4h.7m-6.3-1h.7m14.5-0.7h.7m-20.7-0.2h.7m8.3 2.3h.7m-9.6-1.1h.7m-.9-0.4h.7m21.8-1.2h.7m-9.2-0.8h.7m-7.3 5.3h.7m-3.7-2.4h.7m2.1-2.6h.7m7.9 3.7h.7m-17.6-3.3h.7m13.6 .6h.7m-15.6 3.1h.7m12.4-0.6h.7m16.9-0.6h.7m-10.3-1.3h.7m-11.1-2.7h.7m-10.1 7.2h.7m10.2-2.9h.7m-9-2.5h.7m17.9-0.6h.7m-.9 3.7h.7m-11.2-4h.7m5.2-1.2h.7m-13.4 6.4h.7m-5.1-5.1h.7m-1.1 3.9h.7m-2.1 1.7h.7m12.1-2.8h.7m4.4-2.1h.7m-4.4 .1h.7m-4.9 1.4h.7m8.7-0.4h.7m-6.9-3.4h.7m-16.6 5.2h.7m21.3-2.3h.7m8.6-0.1h.7m-14.6-1.4h.7m-4.4 5.5h.7m9.8-3.4h.7m-9.6 .7h.7m-2.4 1.5h.7m.7-2.6h.7m14.2 1.7h.7m-26.4 2.4h.7m1.7-6.1h.7m11.6 2.5h.7m.7 1.3h.7m7.5-1.9h.7m-13 2.6h.7m-5.2-4.3h.7m19.8 2.6h.7m-24.5-1.6h.7m18 .8h.7m-25.1 2.8h.7m16-3.8h.7m-16.3 1.8h.7m-2.6 .1h.7m9.1-3.2h.7m-7.5 4.8h.7m-1.4 .3h.7m33-5h.7m-16.3 3.3h.7m-17.4 .9h.7m22.1-1.2h.7m-7.2 .4h.7m-21.7 .5h.7m28-3h.7m5.9-0.9h.7m-17.5 1h.7m15.6 .1h.7m-1.9 2.2h.7m-33.5 .1h.7m2.3-1.3h.7m9.1-1h.7m-8.3 1.6h.7m4.8-1.1h.7m1.8-1.2h.7m-12.7 4.1h.7m25.8-4.8h.7m-9.7 1.3h.7m-1.3 2.6h.7m12.9-2.8h.7m-7.2 2.8h.7m-15 2h.7m21.8-3.9h.7m-9 .8h.7m-16.5 2.9h.7m-5.4-5.1h.7m17.9 .2h.7m-23.4 6.2h.7m12.4-5.4h.7m-5.5 2.3h.7m27.2-3.2h.7m-34 .5h.7m14.2 .9h.7m-4.2 .1h.7m-6 1.7h.7m6.8-1.1h.7m5.4-0.7h.7m-12.1-1h.7m-.1 4.1h.7m10-2.8h.7m-16-0.1h.7m-3.5 1.8h.7m30.5-1.1h.7m-8.4-0.8h.7m-19.4-2.2h.7m10.5 2.7h.7m13-3.2h.7m-29.5 2.6h.7m2.8-3.1h.7m-6 4.8h.7m18.1-1.2h.7m-13.3 .9h.7m-3.2 1h.7m13.5-3.1h.7m2.4 1.9h.7m-3.1 .4h.7m-1.8-0.2h.7m.5-0.1h.7m4-2.5h.7m1.6 .3h.7m-15.5 .5h.7m6.5 1.7h.7m-11.6 1.5h.7m3.7-2.4h.7m1.9 .7h.7m-9.4-0.6h.7m-1.8 3.9h.7m-.7-0.8h.7" stroke="#8c8c8c" stroke-opacity="0.6525" stroke-width="0.7" fill="none"/>
<path d="M341.5,387.3 L344.0,384.5 L352.0,384.0 L355.0,386.0 L350.0,389.0 L343.0,389.4Z" fill="#727272" fill-opacity="1.0" filter="url(#blur10)"/>
<path d="M342.1 388h.7m4.6-1.8h.7m3.3-1.1h.7m-9 3.4h.7m.1-0.9h.7m-3.6 0h.7m9.9-2.8h.7m-3.6-0.3h.7m.6 2.2h.7m-.3-0.6h.7m1.7-0.9h.7m-6.3 2.2h.7m.6 .1h.7m-5.6-0.8h.7m8.8-1h.7m-7.4 2.5h.7m-2.8 1.9h.7m.5-2.9h.7m1.1 1.3h.7m-5.8-1.9h.7m6-0.4h.7m-.6-1.5h.7m-7.1 2.5h.7m.5-2.2h.7m-.9 4.5h.7m10.3-2.6h.7m-1-1.5h.7m-7.7 1.4h.7m-2.8-1.2h.7m3.3 .4h.7m-1.2-0.2h.7m-3.5 3.3h.7m3.7 .4h.7m-1.5-2.1h.7m-3.9 .1h.7m6-3.8h.7m-9.1 .8h.7m3.2-0.1h.7m3.1-1.5h.7m-10.1 6.7h.7m8.2-2.7h.7m-1.2 .2h.7m-5.2 .9h.7m-1.5-3.4h.7m3.6 3.4h.7m-5.4 .4h.7m-1.3-1h.7m1.3-2.1h.7m.1 1.5h.7m-2.2-2.2h.7m2.9 3.8h.7m-3.2-1.7h.7m5.1 .6h.7m-4.9-0.6h.7m2.1-0.3h.7m.2-0.2h.7m-5.3-2h.7m-2.2 4.7h.7m-3.7-1.8h.7m-2.1 .5h.7m.6 1.2h.7m-.5-1.2h.7m4.2 .5h.7m-5.8 .8h.7m3.4-2.3h.7m3.1 2.1h.7m-6.6-1.7h.7m-2.5 .8h.7m6.9-3.3h.7m-1.8 0h.7m-.5 1.6h.7m-10.1 1.9h.7m5.7-2.7h.7m-1.1-0.3h.7m4.2 .7h.7m-10.2 1.2h.7m6.1-1.2h.7m-1 2.4h.7m-1.6-2.9h.7m3 1.4h.7m-7.6 .3h.7m-.1 2.2h.7m5.4-4.3h.7m.9 1.3h.7m-9.5 .4h.7m1.4-3.2h.7m3.4 6.1h.7m-2.6-3.2h.7m3-2.5h.7m0 1.8h.7m-9.7 2.7h.7m5.8-2h.7m-4.2 0h.7m5.5 .1h.7m-4.6-2.3h.7m1.3 2.8h.7m-7.4-1.6h.7m4.1 2h.7m-1-2.2h.7m-6.6 .6h.7m5.5-0.7h.7m-6.9 5.4h.7m8.2-6.3h.7m-.5 1.6h.7m-10.1 .1h.7m8.2 .4h.7m-1.9-0.3h.7m-5.9 3.7h.7m5.2-4.3h.7m-3 3.5h.7m-.2-4h.7m1.7 1.5h.7m-.6-2.2h.7m1.6 3.2h.7m-7 1.4h.7m-3.7-3.8h.7m3.3 3h.7m-6.8-1.5h.7m-.2 2.9h.7m3.8-4.3h.7" stroke="#727272" stroke-opacity="0.6525" stroke-width="0.7" fill="none"/>
<path d="M363.8 382.6h.7m-3 .1h.7m2.6 2h.7m7.8 .9h.7m-21.8 2.4h.7m23 2.6h.7m-20.6-1.2h.7m9.9-2.6h.7m-5.5 3h.7m-5.1-4h.7m-16.5-0.8h.7m33.2 5.6h.7m-23.1-6.7h.7m-1 1.3h.7m16.8 .3h.7m-10.1 3.4h.7m16.7-4.1h.7m-2.8 2.8h.7m-10-2.4h.7m-5-1.6h.7m4.2 2.9h.7m-20.5-0.2h.7m13.4-2.6h.7m-.9 .6h.7m-6.5 .1h.7m6.1 3.5h.7m-16.9-1h.7m21.7-0.4h.7m2.9 .5h.7m-25.1-1.9h.7m12.9 1.9h.7m12.5-2.2h.7m-11.3-1.5h.7m-14.4 1.3h.7m-.3 1.8h.7m16.7-0.2h.7m8.5 1.9h.7m-28.3-5.5h.7m10 3h.7m-8.4 1.2h.7m3.9-2.7h.7m4.9 2.4h.7m-4-1.3h.7m-6.8-1.4h.7m25.7 4.5h.7m-22.1-5.1h.7m-.9 4.8h.7m11.5-2.8h.7m-11.1-1.1h.7m-2.7 .1h.7m10.1 .3h.7m-19.4-0.2h.7m16.1 2.3h.7m2-4.3h.7m-4.2 6.2h.7m-8.6-0.8h.7m.9 1.1h.7m-16.8-4.7h.7m14.3-2.7h.7m3.2 3.4h.7m4.8 .9h.7m-7.6 .9h.7m-5.7-1.6h.7m-4.9 .8h.7m6.8 .5h.7m1-3.4h.7m9.4 6.7h.7m-12-5.8h.7m-5.5 2.7h.7m3 1.7h.7m-4.3-3.7h.7m1.7 1.5h.7m-19.3 3.3h.7m5.1-3.8h.7m3 2.6h.7m15-1.5h.7m-5.9-0.1h.7m1.5 1h.7m8.8-1.9h.7m-21.4 0h.7m19.8 2.3h.7m-7.8-1.4h.7m-11 .5h.7m20-3.4h.7m-28.1 2.5h.7m2.1 2.3h.7m7.9-0.6h.7m5.1-1.1h.7m-6.3-1.7h.7m-19-0.2h.7m16.6 2.1h.7m1.3 2h.7m24-2.8h.7m-11.7 2.5h.7m-12.5-3.2h.7m-12.1 3h.7m12.8-4.4h.7m-14.9 2.4h.7m12.2-2.5h.7m.8 3.4h.7m-7.9-0.1h.7m5.4-3.1h.7m-6.1 .4h.7m-3 .6h.7m19.1-2h.7m-9.7 1.1h.7m-9 .1h.7m-5 3.3h.7m8.1 1.2h.7m3-3.7h.7m1.9 .4h.7m5.2 1h.7m-10.2-1.5h.7m-15.5 .5h.7m28.8 2.2h.7m-8.9-1.2h.7m-3.8-0.6h.7m4.1-1h.7m-27.2 4.1h.7m9.7-4.2h.7m-2 1.5h.7m15.3-2.3h.7m-22.9 .8h.7m7.3 1.4h.7m16.6-1h.7m-8.9 1.9h.7m-10.4-0.9h.7m20.6-2.9h.7m-30.8-1.9h.7m16 6.6h.7m-7.1-3.1h.7m6.2 4.1h.7m-8.1-2.9h.7m-5.9-1.6h.7m9.1 2.6h.7m-15-1.6h.7m16.6 .6h.7m-8.7-1.9h.7m11 3.1h.7m-13.6 .9h.7m-2.8-3.2h.7m9.4 4.6h.7m7.1-4.7h.7m-31.7 1.6h.7m19.8-3.7h.7m4.1-0.6h.7m-19.9 8h.7m4.4-1.3h.7m13.5-0.6h.7m-14.4-5.7h.7m1 3.9h.7m21.4 .4h.7m-25.6-0.7h.7m0 .4h.7m-14.3-2.4h.7m10.7 1.5h.7m-1.9-2h.7m26.9 1.6h.7m-5.4 1.5h.7m-23.9-2.3h.7m29.5 1h.7m-11.9-0.3h.7m-9.6 .9h.7m8.6 1.8h.7m-4.7-1.4h.7m-11.5 .3h.7m-10-3.7h.7m7.3 2.2h.7m7.7 2.4h.7m-3.9-3.4h.7m-4.3 .9h.7m15.3-1.1h.7m-19.8 4.6h.7m17.6-3.6h.7m-13.5-0.5h.7m4.8 2.7h.7m-12.2 .9h.7m9.7-1.2h.7m-7.9 1h.7m-9.8-1.6h.7m15.5-0.6h.7m-1-0.7h.7m7.5-0.1h.7m-5.8-0.2h.7m-12.8 2h.7m3-1h.7m-18.2 .4h.7m12.1 1h.7m21.9-1.3h.7m1.4-2.6h.7m-7.8 1.1h.7m-5-0.6h.7m2-1.6h.7m-1.7 4h.7m-21.5-2.6h.7m7.4-0.1h.7m18.6 .4h.7m-.8 3.9h.7m-9.5-2.4h.7m-5.8 2.6h.7m-1.4-2.2h.7m-2.2-0.7h.7m-4.3 2h.7m-10.1 .1h.7m18.8-1h.7m-6.4-2.3h.7m1.5 1.2h.7m17.4-1.4h.7m-11.2 1.8h.7m-12.8 .7h.7m11.3 2.8h.7m-20.3-0.2h.7m23.3-1.4h.7m-8.1 .5h.7m-5-1.4h.7m6.5 5h.7m7.6-2.4h.7m-18.7 2.2h.7m-5.6-4.5h.7m28.4 0h.7m-20.4 1.3h.7m13.2-1.7h.7m-21.1 .2h.7m9.2-2.6h.7m-10.3 3.9h.7m11.3-1.6h.7m-9.3 1.3h.7m-4.3-2h.7m20.1-3.1h.7m-12.1 4.5h.7m-22.9 1.3h.7m16.1-4.9h.7m-7.1 .7h.7m-3.5 1.3h.7m5.3 .1h.7m.2-2.9h.7m4.1 6.9h.7m-8.4-1.5h.7m-10.8-3.2h.7m11.8-2.4h.7m12.6 4.3h.7m-21.8 3.3h.7m18-2.3h.7m-2.3 .6h.7m-9.2-4.2h.7m6.4 2.4h.7m-10.6-3.5h.7m2.6 7h.7m-6.6-2.9h.7m13.3-5.3h.7m7.8 .5h.7m-20 4.7h.7m17-0.7h.7m-32.1-0.9h.7m11.1 1.8h.7m-1.9 2.8h.7m25.1-3.3h.7m-22.6-4.3h.7m12.3 3.3h.7m-27.4-2.3h.7m19.7 1h.7m3.6 2.2h.7m-6.4-0.9h.7m-26.1-1.8h.7m26.7 2h.7m5.3-1.5h.7m4.1 2.7h.7m-9.4-1.6h.7m-20.5 1.3h.7m13.3-1.3h.7m9.9 2h.7m-17-1.8h.7m12.4 .3h.7m-10.6-1.1h.7m4.7 1.4h.7m5.6-3.9h.7m-14.6 8.9h.7m33.1-6.7h.7m-26.4 1.6h.7m1.2-1.2h.7m-11 0h.7m6.9 1.8h.7m-3.8-1.8h.7m-12 .1h.7m-1.4-1.9h.7m16.5 .9h.7m-4.2-0.5h.7m-24.8 6h.7m3.9-6.3h.7m16.7 .5h.7m1.5 2.6h.7m5.8 2.4h.7m-18.3-6.2h.7m16.7 .3h.7m-9.2 3.3h.7m-2.6 .4h.7m2.8-3.5h.7m10-0.7h.7m-4.8 1.6h.7m2.4 3.5h.7m-15.6-1.6h.7m3.1 1.6h.7m-9-1.7h.7m5 .1h.7m.8 1.3h.7m-1.3-1.5h.7m10.5 .7h.7m-3.5-2.3h.7m2.5 .7h.7m-6.7 2.1h.7m8.3-1.4h.7m-9.8-1h.7m7.4 2.8h.7m-5.1-0.2h.7m1.5-1.2h.7m-8.3-1.5h.7m-11.9 3.4h.7m-2.6 3.2h.7m31.6-6.7h.7m-15.6-1.4h.7m-.2 1.5h.7m-6.5-0.3h.7m-3.5-0.7h.7m31 .2h.7m-38.6 4.1h.7m9.3 0h.7m-.6 1.2h.7m-10.9-1.5h.7m-2.1-2.4h.7m4.7 3.1h.7m2.7-3.4h.7m-2 .6h.7m11.6-1.7h.7m-19.6 4.8h.7m14.3-0.4h.7m9.5-3h.7m-6.2 .3h.7m-20 .7h.7m-18 .4h.7m35.4 1.2h.7m-4-1.5h.7m-11 .6h.7m17.1-3.8h.7m-16.7 2.4h.7m4.1-2.9h.7m-11.6 7.1h.7m12.2-0.8h.7m-7.8-1.3h.7m-1.4 .8h.7m14.4 1.8h.7m-9-2.2h.7m-16.9-5h.7m20.1 2.7h.7m.6-4.3h.7m-16.5 3.1h.7m3.5-0.8h.7m3.5 2.4h.7m-3.6 .8h.7m2.9-2.6h.7m4.3 1.3h.7m-11.6 1.1h.7m23.8-0.9h.7m-27.3 0h.7m1-4.5h.7m23.1 4h.7m3.3 2.4h.7m-23-1.1h.7m-2.9-3.4h.7m-9.1 2.4h.7m20.4 1.1h.7m-10-2.5h.7m-10.3 3.3h.7m11.2-3h.7m8.4 1h.7m-7.2 .4h.7m13.8 4.7h.7m-10.7-5.1h.7m-7.5-0.5h.7m-5.2 2.6h.7m4.8-2.4h.7m5.7 1.3h.7m-4.1-4.9h.7m1.1 5.1h.7m-8.6-0.6h.7m4.5-2.6h.7m3.5 5.3h.7m-13.8-3.2h.7m-11.4 .1h.7m28-2.2h.7m-11.6-0.6h.7m-10.4 2.1h.7m5.7-1.9h.7m-5.2 4h.7m-14.6 .8h.7m13.8-3h.7m-12.5-2h.7m14.7 2.4h.7m-3.6-1.3h.7m11.1 2.5h.7m-12.6 0h.7m4-1.2h.7m-7.1 1h.7m-1.5 1.9h.7m-10.4 1.3h.7m22-4.4h.7m-8.5 2.5h.7m-7.8-2h.7m6.8-1.6h.7m-6.6 4.7h.7m-3.7-1.8h.7m8.6-0.5h.7m8.4 .4h.7m-14.8-1h.7m-11.6-1.8h.7m7 5.7h.7m22.2-1.8h.7m-25.5-1.3h.7m18.3 1.4h.7m-14.3 .7h.7m8.6-3h.7m-8.7 1.6h.7m-14.7-1.8h.7m10.4 1.9h.7m23.3-1.8h.7m-22.1 5.4h.7m6-5.6h.7m-9.3 1.7h.7m1.2-0.1h.7m3.7-1.6h.7m.7 2.6h.7m15.9-2.1h.7m-21.9-0.6h.7m-2.3 .8h.7m-5.3-1.5h.7m-6.9 3.9h.7m-3.5-1.1h.7m20.9 .7h.7m-24.7-4.7h.7m30.4 3.3h.7m-5.9-2.1h.7m-11.7 1.7h.7m-8.8 2.4h.7m10.5-2.1h.7m-.8-0.8h.7m9.8 2.6h.7m-18.4-0.3h.7m2.7 1.7h.7m2.4-7.4h.7m-2.8 4.4h.7m-4-1.5h.7" stroke="#777" stroke-opacity="0.435" stroke-width="0.7" fill="none"/>
<path d="M369 375.8h.7m-.3-7.3h.7m-5.1-5.1h.7m2.6 17.9h.7m1.4-4.4h.7m-6.5-8.9h.7m3-0.9h.7m-2.1 8.6h.7m.5-1.4h.7m-3.2-10.6h.7m5.9 14.4h.7m-6.5-12.2h.7m-.5 12.6h.7m-1.6-18.5h.7m.3 17.7h.7m3.3-8.7h.7m-2.7-2h.7m-.8 4.9h.7m-.9 1.4h.7m-2.6 1.7h.7m2.2-0.6h.7m-.2-6.2h.7m-2.4-2h.7m-2.2-1.9h.7m2.3 5.2h.7m-.9 .2h.7m-2.8-6.1h.7m-2.9 5.5h.7m-1.6-8.1h.7m.5 8h.7m4.7-3.9h.7m-.6 4.5h.7m-6.6-10.3h.7m-.8 6.8h.7m6 8.3h.7m-5.1-2.1h.7m.6 5.3h.7m3.2-14.1h.7m-8.3-0.3h.7m2.3 3.1h.7m1.5 5.9h.7m-.2 1.3h.7m1.2 .6h.7m-5.4-3h.7m3.3-11.9h.7m-4.6 12.7h.7m-.9 5.8h.7m.6 1.5h.7m-3-12.1h.7m2.2 2.2h.7m-5.5 3.3h.7m5.4 3.1h.7m-3.3-17.6h.7m-1.7 7.8h.7m.2 14.1h.7m-2-2.7h.7m2.5-10.6h.7m-1.9 12.1h.7m-1.9-17.3h.7m-1.9 9h.7m-.9 5.1h.7m-1.6-9.9h.7m3.4 14.7h.7m-3.1-16.5h.7m-.8 15.6h.7m.3-4.6h.7m-.7 .1h.7m1.4-9h.7m-3.6 .3h.7m-.3 4.7h.7m2.4 4.7h.7m.9 1.5h.7m-2.1-0.4h.7m-1.5-7h.7m-4.7-4.2h.7m.3 14.2h.7m.6-4.1h.7m-3.4-10.9h.7m2.7 11h.7m1.1 2.8h.7m-5.8-4.2h.7m-.4-6.3h.7m2.8-7.6h.7m-2.8 17.9h.7m1.9-1.8h.7m-2 .6h.7m-.8-7.5h.7m-.4-5.3h.7m.2 1.5h.7m-.1-4.9h.7m-.4 1.4h.7m-3.9 10h.7m2.6 6.8h.7m-1.7-16.4h.7m-6 1.5h.7m.2 6.6h.7m.8-9.4h.7m.2-0.3h.7m1.2 9.8h.7m-2.1 5.6h.7m.4-10.6h.7m-1.7-3.5h.7m-1.8 7.9h.7m4.4 6.3h.7m-1.2-6.6h.7m-5.1-7.5h.7m-1.7 6.4h.7m.6-6h.7m-3.1-4h.7m2.6 16.2h.7m2.1-8.6h.7m-6-5.7h.7m4.6 2h.7m-2.8 5.6h.7m.1 6.5h.7m-.1-6.4h.7m0 6.9h.7m-4.2-8.6h.7m-1.8 9.8h.7m2.9-8.5h.7m-5 .4h.7m.3-6.6h.7m3.4 11.5h.7m-8-12.8h.7m1.2 1.3h.7m2.5 6.4h.7m3 7.5h.7m-1.8 .7h.7m-2.4-10.5h.7m-1.1-0.7h.7m.1 16.1h.7m-5.1-17.8h.7m-.3 4.9h.7m-1.1 6.2h.7m1.3-10.5h.7m1.6-2.1h.7m-4.6 3.8h.7m-.3 1.5h.7m2.6-1.1h.7m-4.2-4.8h.7m5.3 4.6h.7m-3.1-1h.7m-3.3 11.8h.7m-2.8-9.6h.7m0-3.1h.7m4.1 13.6h.7m-1.4-0.8h.7m-3.8-10.8h.7m-1.3 13.5h.7m2.8-10.2h.7m-5.5-2.2h.7m1.4-4.4h.7m-1.8 14.1h.7m-.7-2.6h.7m2.6 4.8h.7m-5.8-18h.7m7.4 16.6h.7m-9.7-13.9h.7m2.1 1.1h.7m-.9-4.9h.7m.7 9.4h.7m-3.2-6.8h.7m1.7-4.1h.7m3 21.2h.7m-5.9-18.6h.7m2.8 4.6h.7m-.2-4h.7m-2.1 14.9h.7m2.4 0h.7m-3.5 3.6h.7m-.2-11.2h.7m.9 6.6h.7m-1.5 .8h.7m-2 2.9h.7m-3-16.8h.7m.5 5.5h.7m.9 4.8h.7m-.1-8.5h.7m-2.4 11.2h.7m1.2-5h.7m-2.1 5.8h.7m-2.2-14.5h.7m1.1 6.7h.7m-3.5 9.8h.7m.6-13.4h.7m.4 2.2h.7m.4-5.4h.7m-.7 12.2h.7m-1.6-2.8h.7m-1.3 0h.7m-3.9-8.7h.7m.7 11.6h.7m2.2 4h.7m-4-9.6h.7m-4.3-4.9h.7m2.7 10.3h.7m2.1-4.7h.7m-1.1 1.7h.7m-.2 6.3h.7m-1.7 3.3h.7m1.8-7.5h.7m-.9-10.7h.7m-3.4 10.4h.7m2.1 1.6h.7m-5.4 1.5h.7m1.2 2.8h.7m-.2-8.1h.7m2.6 10.7h.7m-6.7-17.3h.7m3.6-0.8h.7m-1.7 8.2h.7m-.8-5.4h.7m-4.1 15.4h.7m2.8-15.7h.7m-5.5-3.7h.7m5.2 9.4h.7m-5.7-8.6h.7m4.1 10.7h.7m-1.8-7h.7m2.2 8.3h.7m1.2-0.4h.7m-1.8-14.4h.7m-3 9.9h.7m.6 3.3h.7m-2.4-7.1h.7m.8 2.5h.7m-2.4 2.7h.7m-.1 4.4h.7m-2.1-5.7h.7m3.3-4.7h.7m-6 9.1h.7m1-12.1h.7m1.5-2.9h.7m-4.2 7.8h.7m-3 .2h.7m4.9 12.7h.7m-3.4-4.6h.7m-1.3 2.1h.7m1.5-16.5h.7m1 18h.7m-2.6-20.2h.7m-.5 11.3h.7m-5-5.2h.7m-.3 6.3h.7m-.9-3.4h.7m1 .7h.7m1.1 4.2h.7m1.4 .8h.7m-6.9-3.3h.7m3.7 6h.7m-4.2-0.9h.7m2.4-19.3h.7m-1.7 9.2h.7m.6 14.8h.7m-.1-14.6h.7m-3.8-4.2h.7m-.3 4.8h.7m5.5 12.9h.7m-8.2-0.1h.7m.7-15.7h.7m3.2-1.8h.7m-6.4 6.2h.7m1.1 .7h.7m3-6.4h.7m-1.7 5.8h.7m-3 10.7h.7m-.1-2.8h.7m-3-14.8h.7m-1.3 10.8h.7m1.5 5.7h.7m-1.8-15.7h.7m-.2 10.3h.7m.1-8.2h.7m-2.1 1.7h.7m-1 6.3h.7m.1-5.6h.7m1.8-4.5h.7m-6.5 4.8h.7m7.1 5.2h.7m-6.3-7.4h.7m5.3-3.3h.7m-5.3-1.2h.7m-2.4 4.5h.7m1.4 10.6h.7m2.7-14.1h.7m-2.8 6.4h.7m-3.6 15.8h.7m-2.3-21.1h.7m3.5-2.3h.7m-7.4 4.8h.7m3.4 7.3h.7m5.3 5.2h.7m-1.9-18.4h.7m-3.4 20.9h.7m.6-9.1h.7m-2.2 4.2h.7m-3.3-10.1h.7m4.6 4.6h.7m-2.3-8.4h.7m-7.4 2.6h.7m7 1.1h.7m.8 13.5h.7m-4.3-3.7h.7m-.3-10.3h.7m1.8 .7h.7m-3.2 11.6h.7m-3.3-10.2h.7m-3.5 .9h.7m4.8 14.9h.7m-1.6-16.3h.7m2.9 10.3h.7m-5.7-15.3h.7m2.2 3.2h.7m-1.6 17h.7m-2-20.5h.7m1.1 6.7h.7m-3.2 13.2h.7m-1.9-19.1h.7m3.7 9.2h.7m-5.6-1.8h.7m2.9-0.8h.7m-1.5-1.8h.7m4.6 1.2h.7m-3.8-4.2h.7m.7 .8h.7m-2.7 13.4h.7m-1.1 1.6h.7m-3.4-16.7h.7m2.3-2.5h.7m-.8 2.1h.7m-3.3 8.3h.7m2.8-6.3h.7m-2.7 12.4h.7m-.8-1.6h.7m2 8.1h.7m-4.9-14.7h.7m1.8-5.6h.7m-1.7-1.1h.7m4 7.5h.7m-4.6 5.3h.7m.6-0.7h.7m-2.5-10.1h.7m-1.5-3h.7m2.2 11.1h.7m-.8 6.6h.7m-4.5-11.5h.7m.4 7.9h.7m3.1-2.1h.7m-7.7-9.4h.7m8.3 7.5h.7" stroke="#2bb52b" stroke-opacity="0.5075" stroke-width="0.7" fill="none"/>
<path d="M371.9,360.5 L378.0,358.5 L385.0,357.4 L385.8,362.0 L382.5,375.5 L380.6,378.6 L373.1,371.8 L370.6,365.5Z" fill="#1bb21b" fill-opacity="1.0" filter="url(#blur8)"/>
<path d="M374.6 364.4h.7m9.6 1.9h.7m-11.8 1.7h.7m8.1-9.3h.7m-12.6 3.1h.7m11.4 7h.7m2.6-4.2h.7m-13.7 4.3h.7m2.1-6.2h.7m.2-0.4h.7m-2 .7h.7m9.2 2h.7m-9.6 9.5h.7m-.4-4h.7m5.9-3h.7m-.4-5h.7m-1.2 0h.7m-6.1 11.9h.7m-8.1-6h.7m3.6 .2h.7m12-7h.7m-12.2 13.2h.7m9.8-11.4h.7m-10.6-3.6h.7m8.6 2.5h.7m-8.9-2.3h.7m4.8 .7h.7m-2 5.6h.7m-.5-2.1h.7m-4.2-0.3h.7m1-2.8h.7m.5 7.2h.7m.3-0.1h.7m2.4-3.7h.7m-1.8-4.6h.7m-5.7 13.8h.7m5.6-12.9h.7m-2.7 3.3h.7m-.9-4.9h.7m-9.8 9.4h.7m4.7 6.4h.7m-.6-0.1h.7m3.7-9.6h.7m-7.9 6.6h.7m5.7-8.4h.7m-6.6 7.7h.7m-4-0.3h.7m.5 4.5h.7m1.9-16.9h.7m3.1 9.1h.7m4.9-9.5h.7m-2.9 10h.7m.1-4.7h.7m-14.8 4.6h.7m4.7 4.3h.7m2.3 1.5h.7m-2.9-10.9h.7m.7 1.7h.7m-1.4 5.5h.7m-3.3-8.5h.7m-.4 6h.7m-2.2-0.9h.7m4.1-7.8h.7m-4.8 3.1h.7m-3 6.7h.7m4.3 4.5h.7m-7.9-8.9h.7m8.8 11.4h.7m-7.6-2.7h.7m4.9-2h.7m-3.3 .7h.7m-2.6-10.2h.7m5.9 8.5h.7m1.6-12.2h.7m-2.1 13.8h.7m-9.7 2.1h.7m2.5-6.4h.7m-3.3-6.1h.7m-2.8 8.2h.7m4.1-8h.7m1 4.2h.7m-1.3 7.6h.7m-5.6-7.2h.7m4.4 8.9h.7m-.9-0.2h.7m1.7-8.9h.7m2.7-2.2h.7m-4.8 10.8h.7m-3.3-1.1h.7m-3.4-11.3h.7m.1 1.3h.7m-2.9 4.2h.7m4.7 1.6h.7m-1.3 4.4h.7m-4.9-10.3h.7m4.9 1.5h.7m-.4-1.2h.7m1.6 3.5h.7m1-3.8h.7m-1.8 6.3h.7m-9.3-5.3h.7m4.2-6.3h.7m-1.3 8h.7m-.7-6.6h.7m-1.9 7.5h.7m2.9-8.2h.7m-2-0.7h.7m-.5 12.8h.7m.6-9h.7m1.9 11.8h.7m-9.1-4.2h.7m6.6 5.1h.7m-6.3-15h.7m-3.3 7.8h.7m3.3 1.9h.7m-.9 2h.7m.7 .6h.7m-5.2-0.2h.7m3.1-11h.7m-4.4 5.4h.7m6.4-7.3h.7m-4.7 7.3h.7m1.9-9.1h.7m2 6.6h.7m2.7-4.4h.7m-12.7 5.7h.7m3.5 1.5h.7m.5 4.7h.7m-1.4 2.7h.7m0-10.1h.7m3.4 4.1h.7m-11.4-1.7h.7m11-0.5h.7m-11.9-0.5h.7m7.6-4.6h.7m-2.9 14.9h.7m-2.1-6.1h.7m-6.1-4.4h.7m-1.7 4h.7m.8 3.2h.7m4.3-10.6h.7m-5.6 10.2h.7m.4-7.3h.7m-2.1 5.3h.7m1.8 7h.7m-.4-7.9h.7m-1.9 3h.7m-.2-5h.7m9.3 2.1h.7m-3.5 4.2h.7m-2.8-8.5h.7m1.2-6.2h.7m-8.8 2.6h.7m-.5 1.8h.7m2.8 10.6h.7m-5.7-7.3h.7m11.2-4.6h.7m-4.7 13h.7m-3.2-14.4h.7m3.3 6.4h.7m-7.5-6.5h.7m-3.1 3.6h.7m13.8 5.6h.7m-7.3 3.7h.7m-2.4 4.6h.7m4.3-8h.7m-10-3.4h.7m-1.1 3.9h.7m5.8 9.5h.7m-6.7-10.5h.7m-2.9-6h.7m-.4 2.9h.7m8.6 2.6h.7m-7.9-2.8h.7m2.6-0.1h.7m2.9-4.4h.7m-3.5 11.5h.7m-2.8-6.7h.7m-2.7 .6h.7m-.6 9h.7m.9-13.4h.7m5.3 1.1h.7m-7.5 6.7h.7m5.7 4.2h.7m-3.7-10.6h.7m-2.7 11.1h.7m-1.9-15.3h.7m4.1 4.8h.7m.1-3.8h.7m-.2 8.9h.7m-1.3-10.3h.7m-.3 10.5h.7m-.6-6.6h.7m-5.4 11.4h.7m4.2-2.3h.7m-6-0.6h.7m-3.7-12.7h.7m.7 11.5h.7m9.7-13h.7m-10.9 8.6h.7m-1.2 3.7h.7m.1 .9h.7m5.3-14.3h.7m-5.6 17.3h.7m-5.4-3.3h.7m11-8.8h.7m-14.6 11h.7m6 1.8h.7m-4.1-15.1h.7m-.6 14.9h.7m3.7-11.8h.7m1.2 13.1h.7m-8.1-8h.7m4.9-7h.7m3.3 11.9h.7m-8 2.8h.7m-.6-3.9h.7m0-9.5h.7m-2-1.7h.7m1.9 11.2h.7m2.3 2.3h.7m.9-4.5h.7m-2.5 2.4h.7m.5-1.7h.7m-2.3-7.8h.7m-5.3-2h.7m8 7.4h.7m-10.2-4.8h.7m7.1-3.9h.7m-1.6 16.7h.7m1.1-8.5h.7m-2.8 8.8h.7m-8.9-8.6h.7m7.5 1.7h.7m2.1-8.3h.7m-.1 1.8h.7m-7.8 .6h.7m5.9-1.8h.7m-9.7-0.3h.7m2.3 10.2h.7m3.1-7.6h.7m-4.5 13.1h.7m3.7 .5h.7m-1.5-8.5h.7m-7.7-1.7h.7m7.3-6.8h.7m-.9-1.9h.7m-5.7 14.4h.7m7.1-6.5h.7m-8.7-3.8h.7m3.7 11.7h.7m-4.1-6.4h.7m1.7-2.6h.7m.2 3.7h.7m2.1-1.7h.7m-2.5 9.8h.7m-11.9-7.9h.7m-.3-4.9h.7m13.6-6.8h.7m-15.6 7.9h.7m9.3 12.6h.7m-1.2-12h.7m-2.1-3.1h.7m-2.3 5.9h.7m2.5 7h.7m-.5-3h.7m1.6 6.4h.7m-3.2-17.9h.7m-2.2 13.6h.7m-7.2-4.8h.7m5-9.9h.7m-5.4 6.6h.7m13.1-4.5h.7m-7 15.5h.7m-7-6.9h.7m3.9-10.6h.7m-.3 12.2h.7m-9.5-5.1h.7m2.3 6.3h.7m9.8-8.2h.7m-10.1 4.1h.7m8.5-8.5h.7m-8.2 3h.7m-.5 8.1h.7m-3-7.7h.7m-2.3 .9h.7m1.2 5h.7m4.2-6.3h.7m2.3 16.2h.7m-8-12.4h.7m.6-8h.7m-2.2 11h.7m8-9.8h.7m-1.8 3h.7m-9.9-3.7h.7m3.1 15.7h.7m4.5-13.1h.7m-6.7 .4h.7m1.3 7h.7m1 .1h.7m-3.2 0h.7m.3 5.4h.7m3.8-14.9h.7m-7.6 18.6h.7m-5.4-13.8h.7m7.9-4.9h.7m-2.5 9.5h.7m.1-9.9h.7m.2 5.3h.7m-.1 3.7h.7m-5.8-1.2h.7m.9-4.3h.7m8.3-0.7h.7m-3 2.5h.7m-9.2 8.6h.7m-2.1-5.3h.7m8.2-6.7h.7m-4.1 2.8h.7m1 6.4h.7m1.3-6.6h.7m-6.1 10.3h.7m3.1-2.8h.7m2.7-9.1h.7m-5.7 4h.7m-5.9-3.8h.7m8 2.3h.7m-7.2 4.2h.7m-1.7 3.1h.7m6.2-12.3h.7m-2.2 9.9h.7m-8.5-1.9h.7m4.2-5h.7m5.4-1.2h.7m-16.3 4.1h.7m10.1 .6h.7m-3.8-5.6h.7m3.7 14.2h.7m-2.5-4.6h.7m3.7-3.5h.7m-7.2-4h.7m-2.6 5.5h.7m2.3-3.2h.7m-3.4-1.7h.7m-1.6-5.7h.7m1.4 15.4h.7m3-5.9h.7m.2 4.3h.7m-9.8-4.4h.7m8.8-0.8h.7m-4.7-3h.7" stroke="#1bb21b" stroke-opacity="0.6525" stroke-width="0.7" fill="none"/>
</g>
<line x1="369.6" y1="342.9" x2="369.6" y2="406.0" stroke="#555" stroke-width="0.8" />
<line x1="330.3" y1="381.1" x2="394.2" y2="381.1" stroke="#555" stroke-width="0.8" />
<path d="M330.3,406.0 L330.3,342.9 L394.2,342.9 L394.2,406.0 Z" fill="none" stroke="#888" stroke-width="0.8"/>
<line x1="330.3" y1="342.4" x2="330.3" y2="406.5" stroke="#222" stroke-width="1.3" />
<line x1="329.8" y1="406.0" x2="394.2" y2="406.0" stroke="#222" stroke-width="1.3" />
<line x1="328.7" y1="343.5" x2="330.3" y2="343.5" stroke="#222" stroke-width="0.7" />
<line x1="328.7" y1="345.8" x2="330.3" y2="345.8" stroke="#222" stroke-width="0.7" />
<line x1="328.7" y1="348.09" x2="330.3" y2="348.09" stroke="#222" stroke-width="0.7" />
<line x1="328.7" y1="350.39" x2="330.3" y2="350.39" stroke="#222" stroke-width="0.7" />
<line x1="328.7" y1="352.69" x2="330.3" y2="352.69" stroke="#222" stroke-width="0.7" />
<line x1="328.7" y1="354.98" x2="330.3" y2="354.98" stroke="#222" stroke-width="0.7" />
<line x1="328.7" y1="357.28" x2="330.3" y2="357.28" stroke="#222" stroke-width="0.7" />
<line x1="328.7" y1="359.57" x2="330.3" y2="359.57" stroke="#222" stroke-width="0.7" />
<line x1="328.7" y1="361.87" x2="330.3" y2="361.87" stroke="#222" stroke-width="0.7" />
<line x1="328.7" y1="364.17" x2="330.3" y2="364.17" stroke="#222" stroke-width="0.7" />
<line x1="328.7" y1="366.46" x2="330.3" y2="366.46" stroke="#222" stroke-width="0.7" />
<line x1="328.7" y1="368.76" x2="330.3" y2="368.76" stroke="#222" stroke-width="0.7" />
<line x1="328.7" y1="371.06" x2="330.3" y2="371.06" stroke="#222" stroke-width="0.7" />
<line x1="328.7" y1="373.35" x2="330.3" y2="373.35" stroke="#222" stroke-width="0.7" />
<line x1="328.7" y1="375.65" x2="330.3" y2="375.65" stroke="#222" stroke-width="0.7" />
<line x1="328.7" y1="377.94" x2="330.3" y2="377.94" stroke="#222" stroke-width="0.7" />
<line x1="328.7" y1="380.24" x2="330.3" y2="380.24" stroke="#222" stroke-width="0.7" />
<line x1="328.7" y1="382.54" x2="330.3" y2="382.54" stroke="#222" stroke-width="0.7" />
<line x1="328.7" y1="384.83" x2="330.3" y2="384.83" stroke="#222" stroke-width="0.7" />
<line x1="328.7" y1="387.13" x2="330.3" y2="387.13" stroke="#222" stroke-width="0.7" />
<line x1="328.7" y1="389.43" x2="330.3" y2="389.43" stroke="#222" stroke-width="0.7" />
<line x1="328.7" y1="391.72" x2="330.3" y2="391.72" stroke="#222" stroke-width="0.7" />
<line x1="328.7" y1="394.02" x2="330.3" y2="394.02" stroke="#222" stroke-width="0.7" />
<line x1="328.7" y1="396.31" x2="330.3" y2="396.31" stroke="#222" stroke-width="0.7" />
<line x1="328.7" y1="398.61" x2="330.3" y2="398.61" stroke="#222" stroke-width="0.7" />
<line x1="328.7" y1="400.91" x2="330.3" y2="400.91" stroke="#222" stroke-width="0.7" />
<line x1="328.7" y1="403.2" x2="330.3" y2="403.2" stroke="#222" stroke-width="0.7" />
<line x1="328.7" y1="405.5" x2="330.3" y2="405.5" stroke="#222" stroke-width="0.7" />
<line x1="337" y1="406.0" x2="337" y2="407.6" stroke="#222" stroke-width="0.7" />
<line x1="347.3" y1="406.0" x2="347.3" y2="407.6" stroke="#222" stroke-width="0.7" />
<line x1="356" y1="406.0" x2="356" y2="407.6" stroke="#222" stroke-width="0.7" />
<line x1="360" y1="406.0" x2="360" y2="407.6" stroke="#222" stroke-width="0.7" />
<line x1="362.5" y1="406.0" x2="362.5" y2="407.6" stroke="#222" stroke-width="0.7" />
<line x1="364.3" y1="406.0" x2="364.3" y2="407.6" stroke="#222" stroke-width="0.7" />
<line x1="372" y1="406.0" x2="372" y2="407.6" stroke="#222" stroke-width="0.7" />
<line x1="375" y1="406.0" x2="375" y2="407.6" stroke="#222" stroke-width="0.7" />
<line x1="377" y1="406.0" x2="377" y2="407.6" stroke="#222" stroke-width="0.7" />
<line x1="378.4" y1="406.0" x2="378.4" y2="407.6" stroke="#222" stroke-width="0.7" />
<line x1="384" y1="406.0" x2="384" y2="407.6" stroke="#222" stroke-width="0.7" />
<line x1="386.5" y1="406.0" x2="386.5" y2="407.6" stroke="#222" stroke-width="0.7" />
<line x1="388.7" y1="406.0" x2="388.7" y2="407.6" stroke="#222" stroke-width="0.7" />
<line x1="392" y1="406.0" x2="392" y2="407.6" stroke="#222" stroke-width="0.7" />
<text x="326.2" y="347.1" font-size="5.8" fill="#141414" text-anchor="end">10<tspan font-size="4" dy="-2.2">6</tspan></text>
<text x="326.2" y="358.3" font-size="5.8" fill="#141414" text-anchor="end">10<tspan font-size="4" dy="-2.2">5</tspan></text>
<text x="326.2" y="375.3" font-size="5.8" text-anchor="end" font-weight="normal" font-style="normal" fill="#141414" textLength="14.52" lengthAdjust="spacingAndGlyphs"  stroke="#141414" stroke-width="0.12">10000</text>
<text x="326.2" y="389.8" font-size="5.8" text-anchor="end" font-weight="normal" font-style="normal" fill="#141414" textLength="2.9" lengthAdjust="spacingAndGlyphs"  stroke="#141414" stroke-width="0.12">0</text>
<text x="326.2" y="403.6" font-size="5.8" text-anchor="end" font-weight="normal" font-style="normal" fill="#141414" textLength="16.25" lengthAdjust="spacingAndGlyphs"  stroke="#141414" stroke-width="0.12">-10000</text>
<text x="337.0" y="417.2" font-size="5.8" text-anchor="middle" font-weight="normal" font-style="normal" fill="#141414" textLength="13.35" lengthAdjust="spacingAndGlyphs"  stroke="#141414" stroke-width="0.12">-5000</text>
<text x="347.3" y="417.2" font-size="5.8" text-anchor="middle" font-weight="normal" font-style="normal" fill="#141414" textLength="2.9" lengthAdjust="spacingAndGlyphs"  stroke="#141414" stroke-width="0.12">0</text>
<text x="364.3" y="417.2" font-size="5.8" fill="#141414" text-anchor="middle">10<tspan font-size="4" dy="-2.2">4</tspan></text>
<text x="378.4" y="417.2" font-size="5.8" fill="#141414" text-anchor="middle">10<tspan font-size="4" dy="-2.2">5</tspan></text>
<text x="388.7" y="417.2" font-size="5.8" fill="#141414" text-anchor="middle">10<tspan font-size="4" dy="-2.2">6</tspan></text>
<text x="370.7" y="353.6" font-size="8" text-anchor="start" font-weight="normal" font-style="normal" fill="#33b86a" textLength="22.1" lengthAdjust="spacingAndGlyphs" stroke="none">64,5%</text>
<line x1="306.3" y1="419.7" x2="306.3" y2="388.5" stroke="#444" stroke-width="1.3" />
<line x1="305.65" y1="419.7" x2="352.5" y2="419.7" stroke="#444" stroke-width="1.3" />
<path d="M304.1,389.0 L306.3,385.0 L308.5,389.0Z" fill="#141414"/>
<path d="M352.0,417.5 L356.0,419.7 L352.0,421.9Z" fill="#141414"/>
<text transform="translate(303.4,417.6) rotate(-90)" font-size="8.6" fill="#141414" textLength="23.7" lengthAdjust="spacingAndGlyphs">CD117</text>
<text x="316.6" y="429.3" font-size="8.6" text-anchor="start" font-weight="normal" font-style="normal" fill="#141414" textLength="18.8" lengthAdjust="spacingAndGlyphs"  stroke="#141414" stroke-width="0.12">CD41</text>
<defs><clipPath id="fb2"><rect x="446.3" y="343.2" width="63.7" height="63.3"/></clipPath></defs>
<g clip-path="url(#fb2)">
<path d="M477.2 363.2h.7m-8.7 26.7h.7m8-24.1h.7m16.5 7.5h.7m-31.4 15.4h.7m-3.2-9.5h.7m-1.1-1.7h.7m27.9 1.7h.7m-8.9 .9h.7m-2.9-5.1h.7m-7.6 15.9h.7m13.2-10h.7m-19.2 .5h.7m5 10.1h.7m1.9-18.8h.7m16.6 17.1h.7m-29.1-11.3h.7m25.6-2.8h.7m-4.5 12.9h.7m-21.4-1.8h.7m25.4-17.3h.7m-1.2 5.6h.7m-29.8 15.4h.7m4.2-18.8h.7m8.6-2.5h.7m4.8 20h.7m7.9-5.1h.7m2.4 9.2h.7m.2-8.3h.7m-15.4-4.7h.7m8.1-12.5h.7m.1 16.2h.7m-1.8-7.1h.7m-15.5-5.6h.7m14.1 11h.7m-6.6-14.5h.7m-13.5 21.9h.7m14.2-2.1h.7m-25.9-1.3h.7m28.5-2.8h.7m-3.6-12.4h.7m-18.3 9.7h.7m23.2-8.4h.7m-10.9 17.5h.7m11.8-17.1h.7m-1.8 16.4h.7m-25.6-4.2h.7m23.6-8.8h.7m-12.7 .7h.7m-14.8 5.2h.7m11.7 10.2h.7m-5.4-12.2h.7m-3.3 8h.7m-6.7-3.7h.7m14.8-10.7h.7m4.8 14.3h.7m-11.8-5.8h.7m-5.5-1h.7m21.4 7.1h.7m-11.8-22h.7m7.2 15.3h.7m-20.2-8.2h.7m14.7-6.6h.7m-19.6 2.6h.7m13.6 17.5h.7m14.1-10h.7m-26.3-6.5h.7m15.5-5.1h.7m-2.9 11.6h.7m-4.8-2h.7m10-2.4h.7m-25.6 7.5h.7m22.3-2h.7m-18 9.3h.7m-3-16.1h.7m9.3 11.3h.7m4.9-10.2h.7m-2.6-3.2h.7m6.4 .4h.7m-2.5 .4h.7m5 3.2h.7m-13.2 15.3h.7m3.8 .3h.7m-7.3-3.9h.7m-6.4-7.6h.7m10.9 4.7h.7m-20.7-7h.7m8 11.8h.7m-1.3-8.8h.7m7.8 .1h.7m-12.3-12.3h.7m3.6 24.2h.7m-5-14.4h.7m13.9-7.9h.7m-15.1 10.7h.7m21.1 10.7h.7m-22.5-6.8h.7m13.4 6h.7m-21.6-16.9h.7m10.8 3.3h.7m10.1 9.2h.7m-3-9.2h.7m.6 9.1h.7m-17.6-11.4h.7m-2.2 9.4h.7m25.9 3.8h.7m-27.6-13.5h.7m17.5 6.6h.7m6.1-10.2h.7m-4.2 16.9h.7m1.3-8h.7m-7.8 2.6h.7m8.4-11.7h.7m-28.6 12.8h.7m21.6 2h.7m-4.5-1.6h.7m-12.5 4.7h.7m12.4-4.9h.7m2.2-4.5h.7m-14.1 2.3h.7m7.4 7.4h.7m-15.5-4.5h.7m19.6-2.5h.7m4.6 6h.7m-17.8-19.6h.7m14.4 10.4h.7m-26.7 8.7h.7m21.7-8.6h.7m-2.2-8.7h.7m-16.8 24h.7m5.7-21.8h.7m5.6 13.7h.7m-7 5h.7m11.9-18.4h.7m-12.2 23.3h.7m9.4-22.8h.7m-23.7 15.7h.7m7.1-7.3h.7m-11.1 0h.7m11.6 6.5h.7m-6.2 4.7h.7m9.8 .7h.7m-6.4-4.5h.7m-10.3 2.1h.7m9.7-15.2h.7m7.7 6.1h.7m-11.4-3.3h.7m1.6 14.3h.7m20.4-2h.7m-19.1-10.6h.7m3.9 12.7h.7m-3.3-17.4h.7m14.1 12.7h.7m-18 5h.7m11.5-16.5h.7m-11.2 15.5h.7m-7.8-21.1h.7m4 2.9h.7m-7.9-0.6h.7m16.3-2.1h.7m2.9-5.5h.7m-5.3 24h.7m-24.1-7.9h.7m29.4-0.9h.7m-2.7-5.8h.7m-16.8 2.8h.7m-2.1 .8h.7m-5.7-6.2h.7m20.6-0.1h.7m-18.5 1.5h.7m11 3.9h.7m4.5 16.6h.7m7-19.7h.7m-6.4 16.3h.7m-25.2-7.5h.7m27.3 9.9h.7m-30.6-2.1h.7m10.8-21.5h.7m17.9 19.9h.7m-12.6-14.5h.7m6.8-8.9h.7m-23.1 17h.7m25.2-11.4h.7m-9.7 11.5h.7m-1.6-8.7h.7m-18.4 7.3h.7m33.3 1.5h.7m-32.5 8.4h.7m22.9-5.1h.7m-17.8-6.7h.7m-12.9 2.8h.7m19.2-0.9h.7m10.5-6.7h.7m-11.6 7.4h.7m10.3 10.8h.7m-17.1-6.9h.7m6.8-0.9h.7m-7.8 3.1h.7m4.4-10h.7m10.7-6h.7m-13.6 7.4h.7m11.6-12.1h.7m-23.2 9.5h.7m17.1 11.3h.7m-2.5-13.8h.7m-10.3 13.8h.7m-9.4-13h.7m7.7 3.7h.7m18.9 5.6h.7m-13.7-21.5h.7m-9.5 12.6h.7m6.2 19.3h.7m6.5-9.5h.7m-2.2 7.2h.7m-9.8-1.1h.7m15.3-7h.7m-5.5-4.9h.7m-27.4-4.4h.7m18.2-7.6h.7m-17 14.2h.7m9.3-9.4h.7m-6 12.7h.7m9.9-15.6h.7m-9.5 21h.7m1.8-19h.7m15 18.9h.7m-.5-18.5h.7m-1.1-6.6h.7m-15.5 28.3h.7m-11.6-8.7h.7m20.3-17.8h.7m10.4 17.9h.7m-15.4 2.8h.7m-3.4-17.3h.7m14 1h.7m-16.3-3.6h.7m-5.5 12h.7m20.9-3.8h.7m-34.1 14.1h.7m15.5-14.9h.7m-8.2 2.9h.7m3.1-3.9h.7m21.8-1h.7m-10.7-8.2h.7m-3.6 17.7h.7m10.2 7h.7m-15.8-6.8h.7m-11.6-0.8h.7m14.8 6.2h.7m9.3 2.9h.7m-17.8-4.9h.7m-4.5-16.9h.7m-2.8-2.1h.7m.7 10.5h.7m12.9-10.7h.7m-17.6 22.3h.7m12.5-14.9h.7m11.3-5.1h.7m-6.7 21.6h.7m-6.2-19.8h.7m-4.5 1.8h.7m-3.7 7.3h.7m-4.5-0.5h.7m1.8-6.2h.7m22.2 9.1h.7m-17.6-11.4h.7m-10.1 11.5h.7m3.7-9.7h.7m1.8-4.1h.7m0 4.6h.7m-4.6-5.8h.7m5.7 19.5h.7m9.2-0.9h.7m-6.6-20.1h.7m3.2 23.6h.7m-9.2-4h.7m12.5-20.4h.7m-27.4 12.1h.7m15.6 2h.7m6.2-0.3h.7m-22-3.4h.7m17.7 9.3h.7m3.4-4.7h.7m-15.5 9.6h.7m-4.7-16.3h.7m4.2 13.5h.7m13.9-13.7h.7m-21.5 17.1h.7m18.2-17.7h.7m-3.1-6.7h.7m-6.6 13.5h.7m-2.7 3.1h.7m13.9-6.7h.7m-26.3 8.8h.7m-4.6 .3h.7m14.8-14.7h.7m-16 5.7h.7m6.6 16.5h.7m-6-14.9h.7m27.3 11.7h.7m-14.9-15.5h.7m-9.5-1.6h.7m.3 15.4h.7m-5.9-10h.7m2.3 6.8h.7m20.3-5.1h.7m-8.6 7.3h.7m-17.3 4.8h.7m24.4-7.9h.7m-14.9-17.1h.7m12.5 22.2h.7m-7-3.1h.7m-6 1.7h.7m-4.3-7.1h.7m11.2 1.8h.7m-9.7-6.6h.7m14.5 5.8h.7m-14.7-9.3h.7m7.4 17.2h.7m1.6-20.6h.7m-24 11.6h.7m1.4 2.9h.7m-1.7-7.3h.7m-2.6 15.3h.7m7.1-19.4h.7m3.9 17.1h.7m4.2 .3h.7m-4.8-8.8h.7m11.4-7.5h.7m-22.9 17.4h.7m24.1-11.2h.7m-5 14.3h.7m-8-2.8h.7m-2.7-15.5h.7m-10.4 3.7h.7m16.3 7.7h.7m-15.1-19.8h.7m16.4 9.5h.7m-4.4 6.4h.7m-21.9-7h.7m17.9 3.1h.7m-18.1-2.3h.7m15-6.8h.7m2.5-5.2h.7m-21.2 27.8h.7m23.8-3.6h.7m-13-7.2h.7m6.5 4.5h.7m-4.6-23.4h.7m6.6 30.6h.7m-8-22.5h.7m-1.9 4.8h.7m-1.5-9.8h.7m-11 8.2h.7m15.6-6.9h.7m-9.7 9.1h.7m10.6 3h.7m5-13.3h.7m-.6 22.3h.7m-3.1 3h.7m-14.1-4.8h.7m7.1-9.9h.7m-17.1-3.4h.7m15.1-2.8h.7m-11.9-1.9h.7m17.4 21.7h.7m-27.1-7.2h.7m18.6 10h.7m-3.3-22h.7m2.1 17.1h.7m-1.8-1.5h.7m-19.6-8.9h.7m20.8 6.4h.7m-8.8-11.3h.7m-7.3 12.4h.7m18.5-17.9h.7m-3.8 .4h.7m-3.2 7.4h.7m-10.8 8.1h.7m-5.2-1h.7m8.4-0.4h.7m.4 3.1h.7m-1.7-17.2h.7m4.9 8.8h.7m-5.6-4.7h.7m7.4 1.5h.7m-20.4 12.9h.7m23.6-2.4h.7m-24.8 9.8h.7m20.4-26.4h.7m-26.9 19.9h.7m15.5-2.5h.7m-9.2-0.3h.7m11.2 7.2h.7m-6.7-17.8h.7m7.3-8.4h.7m6.7 2.3h.7m-19.7-1.4h.7m-11.7 16h.7m19.5-7.3h.7m-6.1-1.9h.7m-7.9-5h.7m16.7 2.7h.7m-1.7 19.1h.7m-18.4 3.1h.7m7.9 1h.7m8.8-17.9h.7m-26 6.2h.7m31.9-18.1h.7m-10.6 17h.7m6.5-9.4h.7m-14.7 21.8h.7m-6.5-25.3h.7m17.5 11.9h.7m3.7 .7h.7m-2.5 10.8h.7m-25.7-8.5h.7m18.3-15.5h.7m-7.5 17.4h.7m14.4-6.6h.7m-28.9-3.4h.7m7.3 3.1h.7m15.3 .2h.7m-15.9-0.6h.7m2.8-8.8h.7m-15.6 9.4h.7m4.7 14.3h.7m20-24.1h.7m-2.1 1.8h.7m2.2 7.4h.7m-8.4 13.6h.7m-9.4-6.2h.7m8.6-0.8h.7m-11.5-17.1h.7m-3.3 6.6h.7m21.5 13h.7m-6.2-3.8h.7m-5.5-12.7h.7m-3.1 20.9h.7m-8.3-2.1h.7m3.6-2h.7m18.6-2.4h.7m-6.9-15.5h.7m-21.9 4.2h.7m18.8 4.4h.7m-3.9 2.8h.7m-.6-1.2h.7m-11.3-11h.7m20.5 13.9h.7m-15.2 5.5h.7m9-17.7h.7m-10.5 4h.7m-9.5 1.3h.7m2.6 17.1h.7m-1.2-20.6h.7m6.3 14.8h.7m-16-0.1h.7m8.6-17.4h.7m-5.3 20.3h.7m14.2-7.6h.7m-20.1 7.3h.7m5.6-0.7h.7m-2.5-8.8h.7m20.4 9h.7m-26-19.1h.7m2.6 1.1h.7m19.9 9.7h.7m-17.1-6.6h.7m12.5-3.4h.7m-24.8 20.2h.7m1.6-1.6h.7m16.7-22.9h.7m-14.5 20.6h.7m0 4.4h.7m3.6-1.9h.7m8.4-20.6h.7m-21.3 6h.7m12.4 17.3h.7m7.8 1.5h.7m-5.1-3.1h.7m-7.2-6.2h.7m17.2 .1h.7m-20.4-13.7h.7m15.3 11.6h.7m-.5 11.2h.7m-6.1-12.9h.7m-4.5 10h.7m-10.9-4.9h.7m12.8-13.4h.7m-3.1 2.7h.7m-2.4 8.3h.7m14.9-6.4h.7m-2.8 15.6h.7m-24-24.6h.7m25.4-1.8h.7m-26.4 5h.7m7.2 16.6h.7m-3.5-18.7h.7m8.3 12.6h.7m0 9.7h.7m-6.7-6.8h.7m6.3-16.7h.7m-2.8 17.3h.7m-4.3 5.4h.7m-17.8-10.6h.7m8.2-5.8h.7m4.2 7.8h.7m10.1-14.9h.7m-13.3 15.3h.7m-3.9-12.3h.7m-7.6 15h.7m22.1-11.3h.7m-11.9 2.9h.7m4.8 15.2h.7m11.3-18.3h.7m-7.9 14.5h.7m-14.8-4.5h.7m12.8-16.7h.7m5.6 12h.7m-22.9 11.4h.7m6.3-18.5h.7m-9.7-0.5h.7m-2.5 22h.7m20-18.3h.7m-10.4 8.4h.7m-1 .4h.7m16.4 3.2h.7m-33.3 5.7h.7m6.2 .2h.7m11.9-5.9h.7m-8.6-16.4h.7m12.7 14.7h.7m-19.1-7h.7m23.1-0.7h.7m-29.8-1h.7m17.1 3.7h.7m14-3.1h.7m-4 15.7h.7m2-5.8h.7m-11.6-4.2h.7m4-15.1h.7m3 18.6h.7m-12.9-12.8h.7m-4.2 5.7h.7m-2.6-8.8h.7m8.8 23.2h.7m-20.7-0.9h.7m20.6-11.4h.7m1.7-3.1h.7m-1.7-2.5h.7m-2.2 4.9h.7m-13 4.9h.7m13.7 2.7h.7m-14.6-18.4h.7m11.6 21.6h.7m-13.5-1.9h.7m10.6-18.4h.7m-16.7 5.2h.7m22.9 12h.7m-.8-12.5h.7m-8.9-9.5h.7m-12.3 17.2h.7m1.7-0.5h.7m-7.4-5.9h.7m20.7 7.2h.7m7.4 4.3h.7m-32.4-4.7h.7m11-3.3h.7m18.4-4.2h.7m-28-6.2h.7m-.9 5.1h.7m6.6 .9h.7m-3.1 10.7h.7m-1.4-1.3h.7m7.6-4.9h.7m-15.4-8.4h.7m-2.9 18.2h.7m15.8-24.8h.7m14.7 8.4h.7m-25.8-0.1h.7m-.5 2.2h.7m-7.7-0.2h.7m7.7 17.8h.7m9-4h.7m-15.4-14.1h.7m24.8 7.2h.7m-11.8-11.2h.7m8 18.7h.7m-24.2-8.3h.7m26.3-6h.7m-18.3-3.6h.7m-3.1 4.7h.7m18.2 8.3h.7m-16.2 5.4h.7m-2.2 2.2h.7m6.4-12.6h.7m-13.2 10.2h.7m9.6-21.4h.7m-7.2 17.6h.7m-9.3-5.7h.7m27.3-9.8h.7m-21.8 21.6h.7m15.4-9.4h.7m-13.1-11.1h.7m-2.5 2.6h.7m-2.1 11.3h.7m.3-10.8h.7m-.8-9.3h.7m-8.3 16.5h.7m25.6-3.4h.7m-17.4 8.6h.7m.8-4h.7m.5 2.4h.7m13.8-6.7h.7m-25.1 8.7h.7m10.4 .8h.7m8.3-1.4h.7m-.7-17h.7m-15.2 8.4h.7m14.3 12.8h.7m-15.5-0.2h.7m9.8-13.7h.7m-14.3 6.1h.7m1.5-12.1h.7m-10.7 10h.7m8.3 9.4h.7m-7.4-0.4h.7m2.9-6.7h.7m4.8-12.2h.7m16.5 17.3h.7m-.6-14.2h.7m-.4 13.7h.7m-1.5 .3h.7m3.7-2.4h.7m-30.4-11.5h.7m12.3 7.8h.7m9.1 6.9h.7m6.4-5.2h.7m-13.1 3.8h.7m-17.7 1.8h.7m7.4-8.9h.7m-7.6 1.3h.7m21.3-4.1h.7m-1 14h.7m-13.2-25.6h.7m16.7 18.1h.7m-2.2 1.6h.7m-.7-5.6h.7m-24.1 6.5h.7m18.2 5.7h.7m-17.4-11.7h.7m7.7-16.1h.7m-14.1 9.6h.7m-.8 13.9h.7m23.4-16.7h.7m-23.1 14.6h.7m14.1-13.8h.7m2.9-2.7h.7m-7.4 11.1h.7m.1-7.8h.7m5.2 10.7h.7m-23.5 5.1h.7m18-2.9h.7m-3.2-11.1h.7m-9.3-2.1h.7m-.7-4.5h.7m11.7 6.5h.7m-15.7 10.1h.7m15.1-20.2h.7m-9.3 18.4h.7m-7.1-12.4h.7m-7.9 7.7h.7m22.9-0.6h.7m6.2-9.3h.7m-19.7 19h.7m-3.2-10.4h.7m12.4-11.4h.7m-18.5 23h.7m23.2-4.3h.7m-12.8-17.4h.7m6.4 18.4h.7m-12.6-19.5h.7m4.1 10.1h.7m1.6 6.9h.7m1.3 9.3h.7m5.6-2h.7m-13.6-0.5h.7m1.2 2.6h.7m-1.2-24.7h.7m-3.6-1.5h.7m19.8 17.4h.7m-9.1-20.4h.7m-13.5 5.7h.7m-4.3 14h.7m6 1.5h.7m-3.3-12.6h.7m-2.2-3.1h.7m-7.9 25.8h.7m16.2-17.8h.7m-17.8-3.4h.7m12.3 10.1h.7m9.3 3h.7m2.2-7.6h.7m-7.9-14.3h.7m-9.5 6.9h.7m-8.5 15.1h.7m3.8-15h.7m-1.3-2.8h.7m12.3 3.8h.7m3.8 14h.7m-23.5 5.2h.7m10.9-4.3h.7m8.4 3.9h.7m.2-2.3h.7m-23.4 3.4h.7m17.3-4.3h.7m13.2-7.6h.7m-4.1-7.2h.7m-24.4 18.5h.7m20.6-22.8h.7m2.4 19h.7m-2.6-14.5h.7m-17.3 4h.7m5.9 13.3h.7m9.3-12.4h.7m-2.4 8.8h.7m-13.4-18.1h.7m-2.4 16.9h.7m7.4-12h.7m-15-1h.7m6.5 11.7h.7m14.9-4.4h.7m-22-5.6h.7m19.1-2.7h.7m-29.7 15.4h.7m14.1-5.7h.7m6.6 7.1h.7m-15.1 4.5h.7m24.9-17.3h.7m-15 8h.7m-11.2-7.2h.7m21.9 6.8h.7m-28.7 3.7h.7m-3.6-5.7h.7m7.8-4.2h.7m-8 9.5h.7m5.2-18h.7m7.2 13.4h.7m11.2-7.7h.7m-9.8 18.9h.7m-18.8-7h.7m9.1 3.1h.7m11.3-21.1h.7m-7.2 16.4h.7m15.1-10.4h.7m-16.8-0.7h.7m16.4 6.7h.7m-25.1 7.3h.7m14.4 3.3h.7m2.2-12.7h.7m5.6 8.8h.7m-27.1 .6h.7m12.4-5.3h.7m11.4 8.6h.7m-14-12.2h.7m13.9-1.7h.7m-23.2 1.2h.7m4.6 5.8h.7m-4.2 3.9h.7m10.4-19.1h.7m-23.9 24.5h.7m25.3-1.8h.7m-17-23.2h.7m11.4 20.2h.7m8.4-11.5h.7m-26.8 10.7h.7m8.2 2.9h.7m13.6 2.8h.7m-5.6-27.5h.7m-2 24.2h.7m-17.3-6h.7m12.8-8.9h.7m10.3-6.2h.7m-14 12h.7m5 2.9h.7m1.3-16.5h.7m-13.2 17.6h.7m6-4.2h.7m-5.2 4.3h.7m-3.6 5.8h.7m-10.1-14.1h.7m28.1 15.6h.7m-18.1-15.5h.7m10.9-3.3h.7m-18.4 .5h.7m16.1-0.5h.7m-1.5 17.4h.7m.1-7.6h.7m-8.7-3.3h.7m-11 .3h.7m22.1-2.8h.7m-24.7-4.9h.7m12.4 17.1h.7m-17.5-11.4h.7m.7-4.6h.7m29.5-3.1h.7m-3.6 1.6h.7m-29.3 14.4h.7m2.3-0.6h.7m25.2 1.4h.7m-16-17.6h.7m15.1-2.1h.7m-9.6 20h.7m2.7-8.8h.7m-20.9 9.1h.7m20.5 5.6h.7m-16.8-26.3h.7m13.6 16.9h.7m-19.7-13.8h.7m4.4 4.8h.7m18.6-7.8h.7m-27.2 22.6h.7m2.4-14.8h.7m1.7-9.3h.7m18.6 9.3h.7m1.5-4.2h.7m-1.4 16.8h.7m-14.4-18.9h.7m8 .2h.7m-2.6 22.7h.7m0-17.8h.7m-1.9-8.6h.7m12.6 2.5h.7m-12.6 22h.7m4-18.4h.7m-9.3 8.2h.7m7.8-6.8h.7m-21.2 3.8h.7m9.3-8.1h.7m-9.2 5.3h.7m10.5 6.1h.7m-1.4-1.2h.7m5.1-11.9h.7m-21.9 15.8h.7m21-11.6h.7m-21.6 17.9h.7m12.4-13.1h.7m9.4-7.1h.7m-17.8 18.4h.7m7.1-11.7h.7m12.3-1.2h.7m-2.4 11.4h.7m-9.7 7.3h.7m-3.9-25.2h.7m-10.4 17.3h.7m10.4 4.5h.7m9.6 1.8h.7m-5.7-17.6h.7m-5.3 4.6h.7m-15.4 2.6h.7m.4-10.2h.7m7.1 9.6h.7m3.4 6.6h.7m13.9-13.9h.7m-15.9-7.6h.7m7.6 6h.7m-1.4 19.1h.7m-10-20.6h.7m1.3 3.9h.7m12.3-3.5h.7m-21.5-1h.7m-1.8 16.8h.7m9-3.6h.7m-6.6-13.1h.7m-.1 21.3h.7m7.8-18.1h.7m-19.2 8.4h.7m12.6 1.5h.7m-11.9 12.2h.7m-3.8-10.2h.7m26.5 4.4h.7m-29.3-12.6h.7m22.8-5.1h.7m.2 15.9h.7m-23.2-6.1h.7m-.8-5.2h.7m26.8 1.1h.7m-12.1-12.3h.7m-13.5 18.6h.7m14.9-5.6h.7m10.1 .2h.7m-12.8 14.4h.7m7.4-23.2h.7m-10.6 16.9h.7m-1.6 3.6h.7m-16.3-12.9h.7m6.6-1.8h.7m3.4-4.2h.7m-14.7 7.6h.7m2.1-3.7h.7m16.1-4.4h.7m15.2 11.6h.7m-25.8 4.2h.7m8.3-11h.7m-1.8-3.8h.7m10.2-0.2h.7m-8.9-3.3h.7m-1.3 25.2h.7m-18.8-4.5h.7m13.6-21.9h.7m-10.2 20.9h.7m4.9-10.4h.7m-5.5-6.8h.7m19.6 20.5h.7m-17.7-16.1h.7m11-0.5h.7m-1.9 14.2h.7m3.6-2.8h.7m-16.7-4.1h.7m23.2-3.8h.7m-18.2 12h.7m10-11.3h.7m-12.6-9.7h.7m-13.6 12.6h.7m1.3 6h.7m1.2-8.5h.7m-4.7-1.4h.7m22.2 7.4h.7m-12.2-11.7h.7m-10.3-1.5h.7m8.5 10.7h.7m9.2 5.9h.7m1.8-9.4h.7m-26.4 12.2h.7m32.3-1.8h.7m-22.9-3.8h.7m0 5.7h.7m11.4-18.9h.7m-7.6 11.5h.7m2.4-9h.7m10.8 2h.7m-6.5 16.4h.7m-20.6-13.6h.7m6.3 2.4h.7m19.5-12.9h.7m-1.2 19.9h.7m-22.3-17.3h.7m-5.8 3.3h.7m21.9-2.9h.7m-22.4 10.9h.7m2.8-12h.7m6.3 8.9h.7m-14.7-2.8h.7m19.5 2.1h.7m7.1 10.6h.7m-18.4-13.8h.7m9.9 8h.7m-20-3.4h.7m9-14.2h.7m-7.8 23.6h.7m-5.1-10h.7m5.8 10.3h.7m-8.5-13.2h.7m20.6-4h.7m.4-5.7h.7m-12.8 24.3h.7m6.1-7.8h.7m-8.2 5.6h.7m-6-8.8h.7m26-5.4h.7m-.4 1.5h.7m-15-10.2h.7m8.8 15.9h.7m-8.2 .9h.7m14.1-2.6h.7m-13.3 2.6h.7m7.6-9.6h.7m-12.5 14.9h.7m-.6-5.5h.7m2.4-13.3h.7m6.8 14.2h.7m-23.7-0.2h.7m17.2 6.1h.7m-.2-11.4h.7m-14.7-8.5h.7m13.4 2.4h.7m-12.1 2.7h.7m8.5 9.7h.7m8.3-19.9h.7m-24.5 19h.7m8-15.4h.7m8.9 15.1h.7m4.2-3.4h.7m-4.8 9.9h.7m3-22.8h.7m-7.5 14.7h.7m-23 9.1h.7m24.4-10.7h.7m-12 11.3h.7m11.1-16.4h.7m-14.7 14.7h.7m18.6-13.8h.7m-22.5 6.6h.7m2.3-20.6h.7m14.5 17.1h.7m-21.9 12h.7m25.1-21.5h.7m-6.7-0.7h.7m1.5 10.2h.7m-8.1-7.3h.7m-16.7 6h.7m-3.5 12.9h.7m24.2-24.2h.7m-4.1 26.2h.7m1.5-7.8h.7m6-3.3h.7m-12.2-6.9h.7m10.2 12.3h.7m-13.9-24.1h.7m7.2 17.6h.7m-13.2-9h.7m-.4-0.8h.7m8.4 10.5h.7m7.2 7.6h.7m-23.8 1.7h.7m16.9-12.2h.7m0-11.9h.7m-14.1 6.4h.7m.9 19.5h.7m15.3-27.3h.7m-21.5 24h.7m19.1-6h.7m-1.4 .1h.7m-16 5h.7m-5.6-8.9h.7m-2.9 9.1h.7m.5-0.9h.7m23.4 .4h.7m-23.9 2.6h.7m-2.9-22.9h.7m15.7 11.8h.7m-15.5 13.7h.7m-1.2-23.4h.7m22.6 3h.7m-6.9 13.5h.7m2.1 .1h.7m-15.8 .6h.7m-.9 8.5h.7m15.9-27.7h.7m-12.5 11.2h.7m-10.4-5.7h.7m4 2.5h.7m14.1 12.6h.7m-14.6 5.9h.7m13.5-8.1h.7m-24.9 4.6h.7m-1.3-12.9h.7m2.7-6.6h.7m15.8-0.9h.7m-10.3-4.2h.7m-9.7 22.4h.7m22.9-5.7h.7m-7.2-0.9h.7m-13.9 4.4h.7m8.1-12.1h.7m10.6 13.3h.7m5 .6h.7m-3-5.9h.7m-11.9-14.3h.7m-4.2 24.4h.7m-1.8-13.5h.7m-15.6 6.1h.7m10.1-14.4h.7m15.2-3.6h.7m-7.2-1.9h.7m4-0.7h.7m-16 2.6h.7m-1.9 22.9h.7m-2-1.1h.7m16.8-4h.7m-5.7 4.7h.7m-.5-7.6h.7m-9.9-11.1h.7m13.8 18.6h.7m-15.7-18.5h.7m-7.2 1.8h.7m8.6 14.4h.7m-11.3-5.8h.7m2.6 10.8h.7m.7-17.5h.7m11.8 9.6h.7m-17.1-9h.7m26.4 6.6h.7m-28.6-0.4h.7m29.9 8.2h.7m-17.8-18.5h.7m13.8-2.8h.7m-31.9 13.6h.7m24.2-7.4h.7m-6.7 18.4h.7m2.9-19.6h.7m-15.6 1.3h.7m3.2 8.5h.7m12.9-1.4h.7m-20-11.8h.7m23.5 20.9h.7m-26.1 1.2h.7m8.6-3.7h.7m10.6-15.6h.7m3.8 9.1h.7m-.5 1h.7m-16.9 8.4h.7m6.6-21.6h.7m-15.1 20.1h.7m13.2 .1h.7m-2.3-16.3h.7m-7.7 14.5h.7m-8.1-0.2h.7m7-3h.7m7.1-10.1h.7m-11.8 9.3h.7m-9-6.8h.7m9.3 11.3h.7m3.7-18.5h.7m4 .6h.7m11.9 19.1h.7m-27.3-16.3h.7m1.8 19.7h.7m6.2-23.4h.7m-3.5 14.3h.7m-10.4 5.9h.7m10.3 2.3h.7m13.2 .3h.7m-.4-18.8h.7m2.5-0.9h.7m-30.6 13.3h.7m6 0h.7m21.1-13.2h.7m-20.6 18.7h.7m18-15.9h.7m-20.7 11.3h.7m-4.4-10.9h.7m4.7 17.7h.7m8.5-28.9h.7m12.2 18.3h.7m-9.2 6.7h.7m2.3-3.8h.7m-9.8 2.6h.7m12.5-15h.7m-1.4 4.9h.7m-7.6 7h.7m4.2-19.4h.7m.8 5.1h.7m-4.5-0.6h.7m-20.8 21.4h.7m8.9-1.9h.7m8.8-16.6h.7m-11.1-5.3h.7m15.7 2.1h.7m-19.3-7h.7m.1 25.3h.7m5.8-16.3h.7m1.7-2.8h.7m-4-3.3h.7m-7 2.3h.7m4.7-5.5h.7m-4.3 12.2h.7m8 10.7h.7m-4 3.4h.7m3.2-21.7h.7m8.4 6.5h.7m-11.5-8.1h.7m-20.8 22.2h.7m17.4-16.6h.7m-14.1-0.4h.7m6.2 15.6h.7m-7.6 5.9h.7m26-1.3h.7m-6.3-8.5h.7m-9.3-7.2h.7m-15 16.4h.7m21.1-29.4h.7m-19.4 22.7h.7m20.9 2.7h.7m-.3-0.8h.7m-24.9-0.8h.7m-2-11.8h.7m14.3 17.8h.7m2.8-4.8h.7m5-13.7h.7m-19.1 4.4h.7m13.9-7.3h.7m-16.4-0.2h.7m8.9 9.8h.7m-14.3-7.5h.7m1.6 7h.7m20.3-11.3h.7m2.8-1.4h.7m-13.2 19.2h.7m-1-7.6h.7m-18.6 8.9h.7m18 2.4h.7m.4-13.4h.7m-12.7-9.5h.7m14.7 2.4h.7m-21.1 7.4h.7m13.1-2.9h.7m-13.8 6.3h.7m25.5-5.8h.7m-18.6 6.4h.7m1.7 5.3h.7m11.2-8.5h.7m-12.6 8.9h.7m-15-9.2h.7m9.5 10h.7m6.8 1.5h.7m8.5-16.4h.7m-10.8 20.9h.7m7.8-21h.7m-18.2 9.4h.7m1.3 10.3h.7m-1-11h.7m14.3-14.9h.7m-14.9 10.2h.7m18.7 1.1h.7m-1.6 15.4h.7m-10.6 .3h.7m-8.1-26.7h.7m-10.8 11.6h.7m18.7-3.1h.7m5.8 10.6h.7m2.5-8.9h.7m-29.9-1.5h.7m19.3-7.2h.7m-9.5 16.3h.7m-5.9-6.7h.7m15.9 8.1h.7m-7.1-19h.7m2 27.8h.7m8.2-17.4h.7m-1.7 5.9h.7m-22.4 3.2h.7m-7.8-1.1h.7m21.9 4.7h.7m-16.1-5.5h.7m23.8 8.2h.7m-18.1-6h.7m9.3-0.6h.7m-.6-18.3h.7m0 26.4h.7m1.4-20.4h.7m-28.5 9.8h.7m33.3-2.3h.7m-31.3 12.4h.7m14.8-21.9h.7m-3.8-3.9h.7m-.6 9.3h.7m-8.5-11h.7m20.7-1.4h.7m.7 2.8h.7m-26.7 17h.7m2-5h.7m-6.9 12.3h.7m.9-3.6h.7m27-18h.7m-27.3 18.2h.7m2.2-2.8h.7m12-21.5h.7m10.7 19.7h.7m-1.5-14h.7m-24.9 2.4h.7m22.7 6.3h.7m2.2 13.5h.7m-27.6-8.3h.7m6.2 6.7h.7m13.4-14.2h.7m-7.8-2.9h.7m-8.2 2.6h.7m1.7 .5h.7m-6.3 5.2h.7m12.6-18.9h.7m-2.9 .6h.7m-7.6 3.5h.7m9.8-0.7h.7m3.4 4.2h.7m-22.6 11.1h.7m7.1-7.7h.7m8.2 12.5h.7m3.9 3.5h.7m-24.5-0.1h.7m-.8-4h.7m25.7 7.3h.7m-2.9-13.3h.7m-21.1-6h.7m8 .6h.7m7.4-10.1h.7m-3.8 3.4h.7m7.4 24.1h.7m-22-8h.7m6.3 8.1h.7" stroke="#8a8a8a" stroke-opacity="0.435" stroke-width="0.7" fill="none"/>
<path d="M484.6 362.9h.7m-4.9 5.3h.7m-6.1-11.5h.7m10.2 4.3h.7m.6-1.6h.7m5.3 4.6h.7m-3.1 2.4h.7m-16.5-1h.7m15.2 .5h.7m-13.1 1.2h.7m9-2.3h.7m-.1 1h.7m-2.7-4.9h.7m-7.8 2.4h.7m4-4.7h.7m7.5-0.6h.7m-8.6 9.9h.7m-6.4-0.7h.7m-6.1-5.3h.7m10.2 3.7h.7m-6-2.1h.7m9.4 6h.7m-.1-9.7h.7m-2.9 3.1h.7m-5.4-4h.7m.1 4.9h.7m3.7 6.1h.7m-12.2-1.1h.7m4 .7h.7m10.5-4.9h.7m-19.4-5.7h.7m-1.8-0.3h.7m11.3 1.1h.7m-5.5 4.2h.7m2.9-1.6h.7m-1.1 8.5h.7m1.4-13.5h.7m-12.8 11.4h.7m6.3-2.4h.7m-5.5 4.5h.7m-3.7-2.2h.7m-.4 3.2h.7m16.7-7.4h.7m-17.1-1.9h.7m-1.2 8.5h.7m-.2-12.5h.7m11.6 2.7h.7m-3.5 10.5h.7m-1.2 .3h.7m7.1-4.1h.7m-6.3-3.3h.7m-4.4 4.4h.7m-3.1-2.6h.7m-4.9-1.8h.7m13.2-1.3h.7m-15.3-4h.7m12.3 .1h.7m-14.4 9.1h.7m2.8 .6h.7m-1.9-7.2h.7m5.4 1.3h.7m2.2-1.6h.7m3.7 6.3h.7m-21.1-8.8h.7m14 5.1h.7m3.7 1.2h.7m6.1 1.6h.7m-11.4-12.9h.7m-8.6 13.7h.7m-2 .2h.7m15-1h.7m-.3-4.7h.7m-6.7 2.5h.7m1.6 1.4h.7m.9-5.6h.7m-5.1 2.2h.7m-7.9 10.3h.7m8.1-12h.7m-11.6 3.7h.7m13.8-0.5h.7m-9.2 4.2h.7m-.6-7.8h.7m3.4 8.4h.7m6.5-13.4h.7m-13.2 7.2h.7m13.3 3.5h.7m-4.3-3.7h.7m-7.3-5.3h.7m-8.4-2h.7m6.5 17.1h.7m-3.8-10h.7m5.5 6.5h.7m-5.2-6.8h.7m1.1 5.9h.7m-.8-4.9h.7m-4.7 5h.7m8.7-3.9h.7m3 2.2h.7m-5.2-6.8h.7m-15.4 2.5h.7m4.8 .6h.7m13.7-2.2h.7m-9.3-1.1h.7m-9.7 11.3h.7m9.1-2.3h.7m2.7 1.3h.7m-13-3.9h.7m10.7 1.5h.7m-8-3.8h.7m6.6 9.3h.7m-13.8-2.1h.7m8.2-0.7h.7m8.1-4.7h.7m-15.9 3.4h.7m13.5-1.9h.7m-16.3-6.9h.7m13.7 2.4h.7m-22.7 7.1h.7m18.6-11.7h.7m-4.2-0.4h.7m9.4 5.9h.7m-9.8-5.5h.7m-4.1 5.8h.7m-7.4-3.1h.7m13.6 1.4h.7m-9-2.2h.7m1.5 6.4h.7m-5.7-4h.7m1.9 1.2h.7m1.8-1.2h.7m-9.5 .2h.7m6 1.2h.7m-8.8 2.2h.7m10 2h.7m3.8-1.2h.7m-12.1 3.5h.7m5-8.2h.7m.6 9.9h.7m4.9-8.8h.7m-12.2-5.7h.7m.5 4.9h.7m-4.7-2.7h.7m6.6 1.9h.7m-2.2-1.6h.7m7.2 8.6h.7m-11.8-7.2h.7m-2.6 7.8h.7m-2.9 1h.7m3.4-7.6h.7m11.9 8.3h.7m-3.1-1h.7m-16.4 2.1h.7m2.6-7.7h.7m3.3 5.5h.7m-2.1-6.9h.7m3.7-4.9h.7m-7 2.7h.7m-3 8.4h.7m19.5-7.2h.7m-16.5 2.5h.7m6 2.1h.7m-5.7 5.3h.7m-2.8-3.4h.7m-6.2-9.8h.7m7.6 2.5h.7m-.8 8.4h.7m-8.6-4h.7m4.3 2.6h.7m-7-1.6h.7m2.3 4.4h.7m13.1-10.9h.7m-12.3 11.3h.7m6.2-12.3h.7m-4.5 8.5h.7m-2.9-2.8h.7m-.7 .8h.7m3.2 1.6h.7m-.7-2.7h.7m-4.2 .8h.7m-4.2-3.2h.7m3.5 .7h.7m15.7-1.6h.7m-8.5 4.9h.7m5.3-7.5h.7m-17.3 3.6h.7m-6.7-4.7h.7m7.6 3.8h.7m11.3-2.5h.7m.7 2.4h.7m-14.6 3.8h.7m-1.3 1.3h.7m3.2-3.7h.7m-4.2-5.6h.7m13.4 5.1h.7m-11.2 3.7h.7m.1 .1h.7m-7.5-6.8h.7m14.2 4.3h.7m-8.2 6.5h.7m1.7-7.8h.7m-13.4 8.2h.7m13.6-8.6h.7m-13.6 6h.7m12.3-4.5h.7m-11.1-2.7h.7m.6-0.7h.7m-.7 8.3h.7m4.7-2.2h.7m7.1-4.6h.7m-12.1 7.6h.7m-6.3-7h.7m4 4.2h.7m2.8-2.3h.7m5.5 4.6h.7m-9.6-9.2h.7m-.3 9.9h.7m-3.2-8.4h.7m12.8 1.9h.7m-9.6-0.9h.7m-2.3-1.1h.7m11 9.6h.7m-4.2-4.3h.7m-11.1-3.3h.7m-5.8 6.6h.7m5.1 .7h.7m12.7-3.5h.7m-8.1-4.9h.7m6 5h.7m-11.5 3.8h.7m3-3.7h.7m4.1-3.7h.7m1.8 2.3h.7m-7.4-4.6h.7m-4.5 4.3h.7m3.9-0.8h.7m2.1-0.7h.7m-16-4.6h.7m12.3 .6h.7m.7-1h.7m-12.8 2.5h.7m10.4 8.1h.7m-5.4 .1h.7m4.8-8h.7m.8 5.1h.7m-2.5-2.7h.7m-15.2-5.4h.7m14.3 7.8h.7m-11.9 3h.7m13.2-10.5h.7m-.9 5.9h.7m-.8 1.7h.7m-10.5-3.9h.7m7.9 8.3h.7m-6.9 0h.7m-7.1 1.9h.7m-1.6-10.1h.7m-.6 4h.7m-3.9-0.5h.7m-.5-6.2h.7m12.5 8.3h.7m2.8-9h.7m-12.6 7.7h.7m-.6 1h.7m.4-9.7h.7m8.7 8.7h.7m3.8-4.9h.7m-10.9-1.7h.7m5 10.6h.7m-9.5-6h.7m-3.7 6.1h.7m8.2-9.2h.7m-6.5 .5h.7m1.5 2.4h.7m2.3 .7h.7m-3-10.5h.7m-2.6 4.6h.7m-4.2 3.4h.7m4.7 1.4h.7m-8.1 2.8h.7m5-0.7h.7m.7 4.4h.7m-9.6-6.9h.7m5.9 .9h.7m-5.2-6.7h.7m4.4 8.8h.7m11.8-1.4h.7m-9.9 .3h.7m-9.1-3.7h.7m-4 3.5h.7m15.7-5.9h.7m-8.5-0.7h.7m-3.1 3.5h.7m-7.5 5.2h.7m11.6-6.9h.7m-3.7 6.1h.7m.1-1.6h.7m-8.6 7.2h.7m5.3-2.7h.7m8.5 2.1h.7m-7.6 2.5h.7m4.7-7.7h.7m-13.2 3.9h.7m0-4.4h.7m-4 5.7h.7m6.1-1.7h.7m-4.4-8.5h.7m-.6 .9h.7m-1.2-3.8h.7m0 13.7h.7m2.7-6.4h.7m2.5 1.8h.7m-1.2-2.9h.7m.5 8.5h.7m1.6-11.8h.7m.9 3.4h.7m-12.6-5.5h.7m14.5 12.9h.7m-3-7.1h.7m-1.6 1.9h.7m-3.5-3h.7m-11.2-1.1h.7m7.2 5.7h.7m.2 2.9h.7m-1.3-12h.7m-6.2 7h.7m5.6-0.6h.7m4.8-8.9h.7m-14.2 8.6h.7m-2.2 3.1h.7m17.9-3.4h.7m-14.3-2h.7m14.5-0.3h.7m-10 5.1h.7m-6.8 .3h.7m-6-5.8h.7m6.1-5.9h.7m-.6 11.2h.7m-.6-8.4h.7m3.9 9.6h.7m-7.9-5.2h.7m.4-5.1h.7m4.3 13.4h.7m-1.1-8.9h.7m2.8 3.5h.7m-4.6 2.7h.7m7.3-2.4h.7m-16.4-2.9h.7m6.1-4.2h.7m-6.9 2.6h.7m4.9-4h.7m-1.5 4.6h.7m5.3-4.7h.7m-3.4 13.5h.7m2.1-2h.7m-2.3-4.3h.7m-10 3.2h.7m.6 1.5h.7m7.7-0.5h.7m-10.2-3.7h.7m3.7-9.7h.7m11.6 8.9h.7m-13-7.1h.7m-6.9 1.9h.7m14.5 6.3h.7m-18 4.1h.7m21.8-11.8h.7m-11.7 2.5h.7m-5.6-5.7h.7m8.3 14.9h.7m-4.7-2h.7m11.1-7.3h.7m-23.6 2.1h.7m1.1 3.4h.7m9.2 2.2h.7m-8.7 2h.7m3.7-4.6h.7m.2 1.9h.7m5.6-12.4h.7m-2.2 9.6h.7m-5 1.7h.7m7.3 1.9h.7m-18.2-8.9h.7m4 9.4h.7m-1.9-9h.7m1.8-1.3h.7m-2.4-0.5h.7m.5 2.8h.7m8.2 9.3h.7m4.4-7.8h.7m-2.6-2.2h.7m-.6 3.3h.7m-14.9 7.1h.7m-.5-3.6h.7m7.4-7.8h.7m-4.2 6.8h.7m-7.2 1.3h.7m-1.3-8.9h.7m7.6 6.3h.7m-2.2-1.4h.7m-9.2 9.3h.7m7.6-6.5h.7m-4.6 2.5h.7m13.9-6.4h.7m-4.7 4.6h.7m-13.8 .3h.7m14.2-2.1h.7m2.2-3.5h.7m-20.9-4.3h.7m14.1 4.8h.7m3.6-0.6h.7m-10.1 8.5h.7m-4.4-8h.7m-1.9 2.1h.7m.3-6h.7m2.3 11.4h.7m4.8-7.4h.7m-10.5 6.5h.7m8.2 2.9h.7m-12.7-15.5h.7m6.8 5.6h.7m-.8-3.4h.7m-8.9 10.1h.7m5.1-2.2h.7m10.8-0.8h.7m-.2 4.3h.7m-10.6-10.9h.7m3.9-1.8h.7m2.9 1.9h.7m-17.5 1.4h.7m12-1.5h.7m-1.2 8.1h.7m.2-7.3h.7m-6.3 8.8h.7m-.3-2.9h.7m-9-2.1h.7m12 3.4h.7m2.1-0.7h.7m-6.4-8.5h.7m3.8 8.4h.7m.4-0.7h.7m-8.5 3.7h.7m3.7-2.2h.7m-6.6-5.7h.7m-1.2 10.4h.7m11.5-7.5h.7m.4 2h.7m-5.4 1.7h.7m-12.9-3.6h.7m17.7-3.7h.7m-13.9 6.8h.7m1.2-0.9h.7m13.5-6.4h.7m-6.8 .8h.7m-14.3 4.1h.7m9.8 .9h.7m4.1-0.6h.7m-16.5-1.8h.7m10.3-2.7h.7m3.2 4.7h.7m-10.8 3.3h.7m-3.8-6h.7m8.2 11.2h.7m7.1-16h.7m-3.7 2.2h.7m-2.9 7h.7m-6.4-2.5h.7m6.6-7.9h.7m-7.8 5.8h.7m3.5-1.5h.7m-12.3 9.9h.7m14.5-12.3h.7m-8 2.9h.7m8.1 2.3h.7m-12.9 2.9h.7m-8.8 7.5h.7m20.1-14.5h.7m-16.5 6.5h.7m-.3-3.8h.7m3.2 7.7h.7m-6-0.4h.7m1.1-11.2h.7m4.3 6.2h.7m-7.3 .4h.7m16.7-6.9h.7m-18.8 9.2h.7m3.5-9.8h.7m-1.9 4h.7m5.4 3.1h.7m-8.1-9.4h.7m9.1 2.8h.7m-11.5 5.2h.7m14.2-8.1h.7m-5.5 14.9h.7m-6.1-2.8h.7m13.1-1.9h.7m-14 2.7h.7m2.4-7.1h.7m5.7 6.3h.7m-10.9-11h.7m-3.9 15h.7m16-12.3h.7m-17.6-1.3h.7m12.5 .5h.7m-8.7 12.5h.7m-2.1-12.3h.7m4.6 4.5h.7m-12.2 5.6h.7m18.9-2.3h.7m-15.2 2.7h.7m13.2-4.8h.7m-12.7 8.4h.7m-.9-15.3h.7m5.2 1.2h.7m-14.7 8.7h.7m3.3 1.5h.7m5.5 2.4h.7m-5.2 2.7h.7m4.1-4.3h.7m-7.8-5.7h.7m20.4 1.6h.7m-15.9 .7h.7m-3.1-0.6h.7m-5.8 .5h.7m10.7-5.8h.7m-5.4 8.8h.7m6.9-10.6h.7m-.7 1.3h.7m-17.6 3.4h.7m3.4 6.6h.7m5.7 4.3h.7m-3.5-4.6h.7m.4-4.7h.7m4 2.5h.7m-2.2-7h.7m6.4 7.5h.7m-4 2.6h.7m-7.9-4.2h.7m-2.2-3h.7m-3.7-1h.7m9 1.1h.7m4-1.3h.7m-5.2 3.1h.7m3.2-0.2h.7m-5.3 1.4h.7m3.9 2.5h.7m-5.4-6.9h.7m-9.5 4.5h.7m7.7 .8h.7m3.6 1.9h.7m1.7 1h.7m-13.4-12.1h.7m-4.3 2.8h.7m.1 5.1h.7m2.1 1.5h.7m.8-1h.7m-9.2 1.7h.7m2.1 2.3h.7m1.2-9.4h.7m3.4 9.4h.7m-.6-7.6h.7m5.9-3.8h.7m-6.6 11.1h.7m-1.3-9.2h.7m9.9 6.2h.7m1-5.8h.7m-6.7 8.3h.7m-6.3-3.2h.7m6.2-8.6h.7m7.2 3.1h.7m-14 4.3h.7m-2.4 6.4h.7m1.8-11.7h.7m-7.4 6.4h.7m-3.5 3.5h.7m10.5-0.3h.7m2.3-6.7h.7m-3.4-4.8h.7m-9.6 1.1h.7m8.6 11.2h.7m-6.1-7.5h.7m-1.3 1.2h.7m-.8-2.6h.7m.3 9.1h.7m3.5-10.6h.7m1.7 8.5h.7m-15.5-6.7h.7m8 8.1h.7m5.3-8.6h.7m-6.5 1.3h.7m-9.1 3.1h.7m20.3-2.7h.7m-9.1 7.6h.7m-10.4-5.2h.7m-3.6-4.9h.7m1 6.3h.7m3.6-1.8h.7m5.6 6.5h.7m7-8.1h.7m-13.9 3.3h.7m-.8-6.7h.7m-.3 3.2h.7m1.6 6.7h.7m9.2-5.2h.7m-5 .2h.7m-6.1-6.4h.7m-3.8 5h.7m-.4-0.8h.7m-3 4h.7m-.5 2.2h.7m1.8 2h.7m-1.4-6.6h.7m2.5 1.2h.7m9 1h.7m-1.3-5.2h.7m-6.6 10.7h.7m1.1-15.2h.7m-14.2-0.3h.7m8.6-2.6h.7m-12.3 7.3h.7m11.5 7.3h.7m4.6-10.3h.7m-15.8 1.9h.7m-3 12.3h.7m9.7-3.1h.7m-9.1-1.7h.7m10.1-7.1h.7m4.6 1.8h.7m-17.3 5.3h.7m1.3-3.3h.7m17.7-1.1h.7m-16.6-3.4h.7m9.7 9.5h.7m-5.3-1.7h.7m-6.1 2h.7m-3.2-3.1h.7m-3.5-3.2h.7m8.2 5h.7m1.6-2.3h.7m-14.9-3.2h.7m18.9-3.1h.7m-13.9 10.1h.7m9.3-6.1h.7m-13.6 7h.7m5.7-0.9h.7m-9.8-0.3h.7m16.1-11.9h.7m-6.5 11.6h.7m-9.2-7.4h.7m8.4 5h.7m-5.8 3.4h.7m-1.7-9h.7m4.9 2.7h.7m-2.9-1.1h.7m-.2 4.6h.7m9.7-1.6h.7m-.2 1.3h.7m-15.5 4.3h.7m9.8-6.5h.7m-10 1.6h.7m-3.1-2.9h.7m9.6-4.2h.7m-3 8h.7m-3.2 2.7h.7m8.8-7.8h.7m4.5 4.1h.7m-18.3 2.4h.7m-3-13.3h.7m9 7h.7m-2.1 6h.7m5.9-7h.7m.2 2.5h.7m-8.7 3.9h.7m-.5-0.6h.7m-1.1-3.5h.7m-13.3-1h.7m13.3 3.7h.7m0-1h.7m-6.1 4h.7m5.3-0.6h.7m-3.6-4.1h.7m10.6-4.9h.7m-9.5 9.8h.7m-1.8-1.7h.7m-11.1-5.6h.7m15-4.3h.7m-7.2 9.9h.7m-8.8-2.8h.7m9.2 .6h.7m-5.4-6.3h.7m-.3 10.2h.7m-3.5-13.5h.7m5.4 15h.7m-1.2-13.8h.7m9.8 5.3h.7m-23.3-5.8h.7m6.3 3.8h.7m-2.8 10.7h.7m-4-12h.7m2 2.6h.7m10.5-1.8h.7m-10.6 8.5h.7m12.8 .1h.7m-11.8 2.6h.7m-3.7-2.8h.7m1.1-4.4h.7m3.4 7.5h.7m1.3-9.4h.7m1-4.4h.7m-10.9 3.8h.7m2.6 5h.7m.7-4.2h.7m-8.3 8.3h.7m.6-8.8h.7m8.3-4.2h.7m-5.3 9.9h.7m8.5-5.8h.7m-13.7 5.5h.7m15.5 2.7h.7m-19.9-4.2h.7m3.3-4.3h.7m-2.8 8.7h.7m2.8-2.1h.7m7.6-11.5h.7m1.4 2.9h.7m2.1 5.6h.7m-.8-4.1h.7m-9.7 .1h.7m8.6 8.7h.7m-5.6-0.8h.7m.8-0.2h.7m-2.9-0.7h.7m-10.4-2.8h.7m15.2 .3h.7m-8.2 2.7h.7m-10.5-8.1h.7m11.1 1.8h.7m-3.2 3.5h.7m5.8 .2h.7m3.7-0.5h.7m-13-6.2h.7m1.3 1.2h.7m1.3 4.2h.7m-7.1 1.8h.7m8.7 1.4h.7m-7.5 3.6h.7m4.8-12.1h.7m-6 7.5h.7m6.9-3.4h.7m-8.2-3.3h.7m-3.3 1.8h.7m-4.4-3.4h.7m11.9 3.2h.7m-4.8-1.2h.7m-1 9.5h.7m-.5-9.1h.7m4.2-0.4h.7m-15.4 5.2h.7m3.9 3.1h.7m11.8-4.6h.7m-11.9 8.7h.7m-5.9-8h.7m8.5-6h.7m1 2.3h.7m-6.5 1.8h.7m-3.7 9.7h.7m-.3-8.7h.7m6.6 4.8h.7m-5.2-9.8h.7m11.8 7.9h.7m-2.1-3.1h.7m-10.5 2.7h.7m2-0.3h.7m-9.1-1.9h.7m3.5 1.1h.7m6.2-3.8h.7m-8.5 .9h.7m-5.6 6.2h.7m7.8-1h.7m-9.7-6.1h.7m11.8 1.9h.7m-.6-1.2h.7m-14-1h.7m6-3.8h.7m5.4 2.6h.7m-.3 12.4h.7m4.1-3.7h.7m-5.8-0.7h.7m-3.9-2.5h.7m5.3-3.1h.7m-3.3 4.6h.7m-10 1h.7m15.9-10.2h.7m-18 6.4h.7m-4.5-0.8h.7m5.1 1.5h.7m7.6-8.2h.7m-6.4 11.7h.7m-7.2-5.2h.7m16.7 3h.7m-15.7 2.6h.7m9.2-11.1h.7m-4.8 11.4h.7m4.5-3.7h.7m-6.8 5.2h.7m-3-4.7h.7m8.3 .7h.7m-14.5-4.7h.7m12.3 9.2h.7m-7.1-12.4h.7m3.4 6.5h.7m1.9-7h.7m.3 11.5h.7m-6.9-2.2h.7m3-7.6h.7m-2.9 5.4h.7m-2.9 1.2h.7m3.6 4.5h.7m3.9-12.6h.7m-7.9 16.4h.7m-1.2-18.2h.7m3.4 12.7h.7m-8.7-5.5h.7m4 .4h.7m-5.5-4.3h.7m7.1 7.7h.7m.9-6.1h.7m-11.2 5h.7m-.2 1.8h.7m2.5-6.9h.7m-4.5 7h.7m8.7-6.6h.7m-6.7 13.4h.7m-7.8-17.3h.7m5.2 12.2h.7m5-6.8h.7m-1.5-4.4h.7m3.9 8.1h.7m-5.3-5.9h.7m3.7 5.8h.7m-13.5-7.7h.7m-6.3 2.8h.7m14.8 5h.7m-6.4-8.6h.7m7 7.7h.7m-11.2-6.8h.7m3.1 8.9h.7m-5.2-4.8h.7m-.5 3.5h.7m2.8-3.9h.7m7.1 2.4h.7m-13.1-6.7h.7m9 8.9h.7m-4.8-9.2h.7m-3.8 9.8h.7m-2.5 .1h.7m16.3-4.6h.7m-9.7 7.8h.7m1.2-0.2h.7m-6.9-6.1h.7m7.4 6.4h.7m-14.3 1.4h.7m12.9-9.8h.7m-13 9.2h.7m.9-2.9h.7m10.4-8h.7m-2.7-1.8h.7m-7.5 5.7h.7m-10.2 5.1h.7m18 .4h.7m-12-5.5h.7m-2.8 7.7h.7m6.3-4.3h.7m5.9-6.5h.7m1.4 6.1h.7m-16.6 6h.7m-2-4.2h.7m3.8-9.6h.7m3.5 1.2h.7m-11 10.9h.7m15.2-4.7h.7m-12.2-3.7h.7m9.9-5.3h.7m-11.3 3.6h.7m-2 3.7h.7m.8 3h.7m4.3-10.1h.7m-1.2 9.1h.7m8.2-5.4h.7m-8.6 8.3h.7m4.4-11.1h.7m-7.5-2.9h.7m4.5 10h.7m.5-10.4h.7m-4 13.8h.7m-5.9-4.5h.7m9.7 5.6h.7m-11.9-6.5h.7m6.7 6.5h.7m-11.5-0.8h.7m14.3-11.4h.7" stroke="#2bb52b" stroke-opacity="0.5075" stroke-width="0.7" fill="none"/>
<path d="M457.8 369.3h.7m2.8 1.7h.7m1.1-7h.7m-7.5-5.9h.7m5 11.6h.7m-3.3-16.3h.7m-1.8 7.8h.7m-2.4 1.4h.7m3.8 2.2h.7m-2.6-5.4h.7m-.1 3.7h.7m2.6 3.6h.7m-11.7-4.2h.7m10.7-4.3h.7m3.4 8h.7m-7.6-3.1h.7m-1.7-5.5h.7m.2 1.2h.7m2.2 12.7h.7m3.9-10h.7m-10.3 3.5h.7m-7.2-5h.7m9.1 1.6h.7m-1.8 .5h.7m-1-2.2h.7m-.9 6.2h.7m-6.4 1.4h.7m6.6-1.2h.7m-3.7-5.9h.7m2.2-1.2h.7m-2.9-6.6h.7m-2 15h.7m-3.4-6.8h.7m8.7-4.4h.7m-5 .3h.7m.6 9.5h.7m2.8-5.3h.7m-3.8 5.1h.7m-1.4-2.8h.7m-8.2 3.7h.7m9.4-3.3h.7m-1.4-15.3h.7m-6.6 20.7h.7m-1.9-13h.7m4.9 13.7h.7m-2.3-6.7h.7m4-4.5h.7m-8.8 1.3h.7m3-1.5h.7m1.3 5.8h.7m-1.2 .7h.7m-5.7-9h.7m-1.2-2.5h.7m2.1 15.3h.7m6.9-4.4h.7m-9.3-8.4h.7m.3 11.5h.7m3.2 .9h.7m-1.9-3.5h.7m2 .1h.7m-6.8-5.1h.7m-.6-11.8h.7m3.7 18h.7m-3.8-7.5h.7m-.1 13.7h.7m-3.6-11.8h.7m0 4.8h.7m-.8-6.6h.7m-.2-3.4h.7m-.9 4.6h.7m.4 13h.7m-.8-10.3h.7m3.5-9.9h.7m1.3 14.9h.7m-6.8 .7h.7m4.8-9.8h.7m-3.8 4.5h.7m-8.7-0.5h.7m6.6-3.9h.7m-5.7 4.3h.7m6.7-8.3h.7m-5.4 9.6h.7m5.5 3.2h.7m-1.2-9.2h.7m-6.3 7.6h.7m-2.1 .5h.7m5.3-1h.7m-6.4 4.3h.7m1.6-7.2h.7m2.4-3.7h.7m-3.9 7.7h.7m1.8-1.4h.7m2.8-13.3h.7m-5.3 11.1h.7m.3-4.2h.7m-4.4 1.9h.7m-6.9 2.4h.7m7.7 7.1h.7m-1.2-5.5h.7m.9-5.5h.7m-2.2 .6h.7m-2.6 3.8h.7m-.7 1h.7m1.3 11.5h.7m-3.5-18.2h.7m-2.1 1.9h.7m4 7.6h.7m-1.5-6.6h.7m1.1 2.7h.7m-4-9h.7m.5-0.1h.7m-3 11.6h.7m.8-8.5h.7m2.9 8.9h.7m1.9-6.2h.7m-6.5 3.9h.7m1.4 4.4h.7m-4.1-9.9h.7m-2.9 .1h.7m1.9 9.6h.7m.3-5.6h.7m-.9-0.9h.7m-2.1 5.2h.7m2.1-9.3h.7m2.1 4.7h.7m-5.6-6.1h.7m2.1-0.3h.7m-.2 9.8h.7m.5 2.8h.7m-1.7-5.1h.7m.3-8.2h.7m-3.4 6.6h.7m-4.6 2.3h.7m-.1-1.8h.7m1.1 5.9h.7m-2.2-9.9h.7m-.1 5.7h.7m.9-3.3h.7m-.2 1.3h.7m-1.8-1.3h.7m1.5 4.2h.7m3.9-8.5h.7m-9.1 4.5h.7m.5 3.2h.7m-2.4 2.6h.7m5.9 1.1h.7m-1.4-4.5h.7m-7.1 4.8h.7m4.5 .6h.7m-6.1-6.9h.7m4.5 10.4h.7m-1.8-2.2h.7m-.6-9h.7m-6 .8h.7m5-1.7h.7m-.7 1.7h.7m2.6 2.4h.7m-4.2-0.4h.7m-1.2-3.4h.7m-2.6 4.4h.7m2.9 3.6h.7m.1-1.5h.7m-.8-1.2h.7m-.3-4.9h.7m-3.8 .1h.7m-4.3 9.8h.7m3.6-8h.7m3.3-4h.7m-1.3 8.2h.7m-6.3 3.7h.7m7.3-15.6h.7m-2.7 15.6h.7m-2.3-13h.7m-5.9 9.1h.7m4.1-3.9h.7m.1-3.4h.7m2.9-1.7h.7m-8.3-0.3h.7m-.3-1.1h.7m3.6 4.3h.7m-.8 6.8h.7m-1.5-6.3h.7m-4.7 10.9h.7m-1.1-10.8h.7m1.9-2.2h.7m-.1 3.4h.7m.6 8.2h.7m-5.4-11.8h.7m-3.2 3.6h.7m7.1 5h.7m-4.2-7.5h.7m-.8 5h.7m2.4-3.3h.7m-7.6-0.2h.7m3.4 .3h.7m-1.7-0.5h.7m1.7 4.9h.7m-2.2-11.5h.7m1.4 1.5h.7m-6.4 3.9h.7m1.8-5.2h.7m-2 2.8h.7m5-1.3h.7m-.1 5.4h.7m-4.2-7.8h.7m1.1 6.9h.7m-3.3-1.8h.7m-2 8.3h.7m5.2-13h.7m-5-0.2h.7m3.5 .3h.7m2.4 2.2h.7m-11.1 1h.7m4.4 7.4h.7m-3.3-6.9h.7m1.4 2.9h.7m-8.6 .4h.7m7.8 3.3h.7m-5-9.6h.7m2.7 2.9h.7m-.3 3.9h.7m.4 6.8h.7m-3-10h.7m.1-0.4h.7m-2.4 7.2h.7m-4.3-3.1h.7m1.9-0.4h.7m-.3 8.9h.7m-.2-12.5h.7m.7 7.3h.7m-.5 5.6h.7m1.7-11.5h.7m2 13.4h.7m-9.5-7.6h.7m2.8-1.9h.7m.1 5.6h.7m-2.7-6.1h.7m2-13.4h.7m-9.2 13.6h.7m7.8-2.1h.7m-3.3-6.3h.7m-5.6 10.7h.7m4.1-6.2h.7m5.6-1.6h.7m-6.6 15.1h.7m5.6-5.1h.7m-.2 1.9h.7m-6.3 1.2h.7m-2.4-15.1h.7m2.2 15.5h.7" stroke="#2bb52b" stroke-opacity="0.435" stroke-width="0.7" fill="none"/>
<path d="M462.0,381.5 L466.0,381.2 L474.5,385.5 L472.0,389.5 L462.5,390.0Z" fill="#777" fill-opacity="1.0" filter="url(#blur8)"/>
<path d="M464.3 385.8h.7m-1.8 4h.7m4-0.7h.7m4.8-3.7h.7m-4.8-0.5h.7m-6.3-3.2h.7m7.5 6.9h.7m-4.3-1.8h.7m-1.4 2.1h.7m-.7-3.7h.7m3.6 4h.7m-3.2-4.9h.7m-5.9 6.2h.7m-.6-5.3h.7m.9 .8h.7m.6 1.6h.7m-1.4 1.8h.7m-5.6-3.8h.7m3.8-0.6h.7m3.9 3.9h.7m-10.8-8.8h.7m3.4 .5h.7m2.2 8.6h.7m-3.8-5.4h.7m6 4.1h.7m-1 2.7h.7m-2.3-7.6h.7m-2.2 7.7h.7m3.1-4.7h.7m-1.9-0.8h.7m-1 3.3h.7m.8-1.7h.7m-5.6-2.8h.7m-3.6 4.5h.7m7.8-1.4h.7m-11 1h.7m2.3-0.2h.7m-.3-0.2h.7m2.9-3.2h.7m-3.5 3.5h.7m-.3-5.4h.7m-4.8 5.8h.7m10.6-1.6h.7m-5.3-3.9h.7m-.5 2.3h.7m-8.3-0.7h.7m6.4 3.3h.7m-3.6-5.4h.7m.8 3.6h.7m-2.1-0.5h.7m-2.6 5.1h.7m-.8-8.4h.7m6.2 2.3h.7m-7.1 5h.7m1.2-5.3h.7m3 4.4h.7m.5-4.7h.7m-11.2 6.5h.7m4.3-2.1h.7m3.9-4.3h.7m-1 1.7h.7m-.7-3h.7m-4.8 3.4h.7m1.5-3.4h.7m.4 4h.7m-3.6-2.9h.7m-2.2-4.6h.7m1.8 2.4h.7m2.1 6.4h.7m-5.4-7.5h.7m-2.3 8.1h.7m-5-1.9h.7m5.8 3.8h.7m3.2-2.6h.7m1.4-2.9h.7m-9.6 3.8h.7m10.2-0.8h.7m-3.8-1.5h.7m-9.2 4.9h.7m1.9-4.3h.7m3.1 2.1h.7m-.6-3.8h.7m1.1-2.1h.7m-6.2 4.1h.7m-2.3 .5h.7m6.8-1.2h.7m-9-4.6h.7m4.4 5h.7m3.9 2.2h.7m-6.5-5h.7m-1.7 4.6h.7m5.9-0.5h.7m-8.3-1.7h.7m-4-4.2h.7m9.1 1.8h.7m-2.8-0.3h.7m-8.6 4.2h.7m9.3-0.2h.7m-5.8 .5h.7m-2-2.8h.7m6.7 .8h.7m-7.8 .2h.7m-.1-1h.7m-2.6 2.8h.7m8.7-1.3h.7m-2.6-1.6h.7m-7.7 1.9h.7m.3-5.1h.7m-4.6 4.9h.7m2 3.5h.7m-.7-3.5h.7m.2-2.6h.7m-2.4 3.2h.7m6.1-3.6h.7m-4.4-1h.7m-4.6 .9h.7m4 3.5h.7m5.9 1.5h.7m-3.9-4.3h.7m-2.2-2.5h.7m-.2 5.1h.7m-7.3 1.8h.7m1.4-9.2h.7m-.1 3.3h.7m2.4 2.2h.7m-1.4 0h.7m4 1.1h.7m-7.3-2.1h.7m1.6 1.2h.7m1.1 .3h.7m-7-3.6h.7m5.7 5.9h.7m-7-1.4h.7m7.9-2h.7m-6.5-0.6h.7m-4 4.3h.7m3.5 .1h.7m-6.3-4.9h.7m10.3 3.8h.7m-4.8 .9h.7m2.5-3.2h.7m-7-1.9h.7m.2 5.9h.7m4.3-7.8h.7m-6.9 .7h.7m4.3 2.9h.7m3 .8h.7m-6.5-0.2h.7m-1.8-3.6h.7m-2.9 2.8h.7m-2.1-3.5h.7m1 1.1h.7m-.6 2.2h.7m-3.1 1.2h.7m2.6 1.6h.7m0-2.6h.7m-6.4-3.1h.7m5.4 4.4h.7m-1.6-0.2h.7m-6.3-3.4h.7m11.2 5.7h.7m-11.2-6.7h.7m7.6 6.6h.7m-5.3-5.1h.7m.2 2.5h.7m-2.8-2.4h.7m2.7 4.7h.7m-6.7-2h.7m1 2h.7m-2.5-5.4h.7m3.3 2h.7m5.6 .7h.7m-3.3-0.3h.7m-7.1 .4h.7m3.5 4.7h.7m-4.8-4h.7m7.3 .3h.7m-.8-1h.7m-5.4-4.3h.7m4.3 5.5h.7m-.3 0h.7m-9 .3h.7m5.8 .7h.7m-3.9-1.4h.7m0-0.6h.7m-1-2.7h.7m-5.1 3h.7m3.5 2.2h.7m-4.7-1.7h.7m-1.5 1.2h.7m5.5 2.3h.7m.7-1.9h.7m-5.6-4.3h.7m-1.9-2.1h.7m5.5 7.3h.7m-4.4-5.6h.7m2.2 6.9h.7m-2.2-2.3h.7m-1.8-5.2h.7m-5.3 1.5h.7m3.6 .2h.7m-6.1 3.1h.7m2.4-1.3h.7m3.4-3.6h.7m-3.1 3.1h.7m7.4 1.8h.7m-5.4-3.5h.7m2.1 1.6h.7m-3.6 3.1h.7m-6.8-0.6h.7m.9 3.3h.7m4.8-3.9h.7m-6.1-5.8h.7m1.8 4h.7m-4.5-4.8h.7m-.1 3.5h.7m1.6 .6h.7m5.7 1.5h.7m-3.2 2.4h.7m-8.8 .4h.7m4.8-4.6h.7m-6.6-1.2h.7m-1.6 3.2h.7m3.4 .2h.7m-1.7-6h.7m7.1 7.3h.7m-9.3-0.3h.7m-.2-0.6h.7m-.2 3.4h.7m-1-9h.7m3.7 3.8h.7m-3.3 .6h.7m-3.4-1.3h.7m-1.7-1.8h.7m9.2 2h.7m-7.7-4.9h.7m-.2 12h.7m-2-5.5h.7m3 1.5h.7m-1.7 .4h.7m1.9-2.9h.7m-8 .4h.7m6.6-1.4h.7m-4.4 2.9h.7m5.8-3.3h.7m-10.4 .1h.7m-2.2 1.8h.7m8.7 .8h.7m-8.3-2.2h.7m.9 2.4h.7m4.6-0.4h.7m-4.9-1.8h.7m1.6 0h.7m-5.8 1h.7m2.4-5.1h.7m-.9 .5h.7m-2.9 4.4h.7m-.7-0.3h.7m-3.1 .9h.7m1.2-6.7h.7m3.6 5.3h.7m-5.2 1.5h.7m.8 .5h.7m-.6-5h.7m-.5 5.7h.7m-1.8-1.8h.7m4.5-5.3h.7m-1.5 9.7h.7m-.2-3.4h.7m-3.8 .8h.7m-1.4 2.1h.7m2.5-2.8h.7m2.7 .6h.7m-6.8 2.6h.7m2-7.5h.7m-1.2 3.8h.7m1.8-1.3h.7m-10.2 1.3h.7m10.6 .1h.7m-5.1-2.2h.7m1.9 3.4h.7m-.7-1.9h.7m-4.6 2.1h.7m-1.5-2.4h.7m-4.7-4.6h.7m6.1 1.5h.7m-1.2 3.2h.7m-4-1.6h.7m9.1 2.5h.7m-2.9-3.3h.7m-2.8 5.8h.7m1.1-6.2h.7m1.7 7.3h.7m-7.6-7h.7m2.3 .4h.7m-6.3 1.8h.7m1.3-3.1h.7m-3 4h.7m2.6-1.1h.7m.3 1.8h.7m-6.7-2.1h.7m-1 4.1h.7m3.2-6.8h.7m.7 6.5h.7m.2-3.1h.7m-5.2-1.4h.7m-.5-0.6h.7m6.4 4.9h.7m-7.3-4.3h.7m-1.4 1.6h.7m-2.7 .6h.7m5.3 2.7h.7m-6.4-5.6h.7m-.4-2.6h.7m7.8 5h.7m-.7-4.3h.7m-10.9 1.5h.7m4.4 4.3h.7m3.9-0.7h.7m-1.4-0.6h.7m-2.7-2.2h.7m-2.5 6.1h.7m-.9-7h.7m3.8 4.9h.7m-1.8-6.8h.7m-4.6 2.2h.7m3.7 5.7h.7m-6.1-4.9h.7m3.3 2.4h.7m-3.8 3.4h.7m-3.2-9.8h.7m4.9 4.8h.7m-5.1-2.8h.7m1.6 4.7h.7m-.4-3.3h.7m2.8 5.3h.7m.7-4.5h.7m-5.9 4.6h.7m-1.1-0.2h.7m-2.1-7.8h.7m-.9 5h.7m7 4.4h.7m-6.5-3.7h.7m-2.4 0h.7m7.2-1.8h.7m-.9 1.1h.7m-4.8-3h.7m2.3 5h.7m.4 1.1h.7m-6.2-5.5h.7" stroke="#777" stroke-opacity="0.6525" stroke-width="0.7" fill="none"/>
<path d="M481.7 388.5h.7m-15.6-0.6h.7m12.3-4.3h.7m-7.7-0.7h.7m.6-0.1h.7m-7.3 6h.7m18.3-3.8h.7m5.5 2h.7m-8.8-4.1h.7m3.8 9.8h.7m-11.1-9.6h.7m11.8 .2h.7m-.2 2.2h.7m-20 4.6h.7m-9.3 3h.7m2.6-4h.7m18.6-5.5h.7m-1.7 5.3h.7m-7.9-5.2h.7m-2.1 3.8h.7m-3-1.2h.7m-2.8 3.7h.7m11.3-1.6h.7m-3.6-3.9h.7m-14.8-2.7h.7m15.6 4.3h.7m-20.8-2.8h.7m7.6 4.3h.7m9.2-1.9h.7m-2.4-0.7h.7m1.2-0.7h.7m4.4 2.3h.7m-24.9 4.7h.7m22.6-2.6h.7m-16.8-3.1h.7m-1.2 .1h.7m-3.6 2.4h.7m-.4-2.8h.7m7.1-2.6h.7m1.3 10.2h.7m-10.6-3.3h.7m8.6-2.8h.7m8.9 .1h.7m-3.8-3.5h.7m-15.5 1.6h.7m7.1 4.8h.7m-.2-7.9h.7m10.7 .9h.7m3.5 3.1h.7m-26.8-4.7h.7m-2.4 4.1h.7m26.5 .2h.7m-18.9 .1h.7m-9.4 4.1h.7m1.3-5.5h.7m11.7 2.8h.7m4.7-2.7h.7m-2.1 2.6h.7m7.3-0.8h.7m-20.8-3.5h.7m3.9 3.7h.7m2-2h.7m4.3 1.1h.7m-11.2-1.3h.7m8.5-2.2h.7m1.3 7.6h.7m-17.4-2h.7m5.5 1.5h.7m-1.8-7.5h.7m-2.3 7.7h.7m5.7 .9h.7m8.4-0.8h.7m-18.1-7.9h.7m-6.3-0.5h.7m1 3.2h.7m2 5h.7m-2.1-2.3h.7m10.7 3.2h.7m-12.1-6.4h.7m-5.3 5.4h.7m29.5-3.4h.7m-21.2-4.5h.7m3.8 7.3h.7m-2.6 2.4h.7m-6.3-5.1h.7m10.3 5h.7m-14.1 .7h.7m10.3-9.1h.7m15.4 5.3h.7m-29.1-3.7h.7m9.8 5.5h.7m5.8-0.1h.7m-14.2 .2h.7m17.9-7.7h.7m.6 5h.7m-27.6-3.7h.7m1.5 .7h.7m2.8-0.4h.7m13.1 2.6h.7m1.2-0.8h.7m-6.3 4.8h.7m3.4-2.1h.7m-14.3-0.4h.7m3.6 1.8h.7m3.2-0.2h.7m6.3-3.5h.7m-18.3-1.3h.7m10.6 2.9h.7m.4 3.7h.7m-7.1-6.9h.7m16.3-1.8h.7m-1.8 1.2h.7m-21.3 7h.7m9.2-0.4h.7m3.7-4.9h.7m-10.8 4.2h.7m10 .6h.7m-14.4-5.5h.7m9 .5h.7m10.2 3.1h.7m-13.5 1.4h.7m-5.9-4.7h.7m11.4 1.4h.7m2.1 5.5h.7m-10.6-3.2h.7m-9.6-3.1h.7m5.5 1.6h.7m12.3 2.3h.7m5.8-2.5h.7m-19.5-3.4h.7m10.5 4.2h.7m1.6-5h.7m-13.8 6.1h.7m.2-1.2h.7m8.8-0.1h.7m-12.2 1.5h.7m18.1-4.3h.7m-6.7-2.4h.7m-17.5 6.7h.7m-.9-1.2h.7m.8-1.6h.7m14.3 3.1h.7m-23.7 0h.7m12.3-2.4h.7m4 3.5h.7m4.4-8.1h.7m-11.6 .2h.7m4.8 4.2h.7m9.1-2.7h.7m-25.7 1.6h.7m-1.9 4.6h.7m15.7 0h.7m-.1-6.4h.7m3.2 1.5h.7m-.4 5.4h.7m-4-6.2h.7m2.5 1.5h.7m-3.3 2.6h.7m-11.7-0.1h.7m-3.2-5.4h.7m14.3 .7h.7m-15.6 5.9h.7m11.9-1.3h.7m6.6-4.8h.7m-24.1 1.1h.7m23.9 2.4h.7m-20.3 .2h.7m-2.9 2.4h.7m-3.8-6.5h.7m6.6 7.4h.7m0-3.1h.7m2.8 .5h.7m-3.6-3.1h.7m9.5-2.8h.7m-14.6 7h.7m9.6-4.5h.7m-13.2 .6h.7m5.8-1h.7m1.7 2.6h.7m-13.3-0.9h.7m23.2 3.3h.7m-11.6-5.8h.7m9.3 2h.7m-10.7-0.1h.7m15.6 2.1h.7m-17.7 3.6h.7m1.1-4.4h.7m-15-3.4h.7m16.1 2.5h.7m-5.9-3h.7m2.1 .5h.7m-7.5 2.2h.7m-4.6 1.1h.7m5.9 .4h.7m-4.3 .4h.7m-2.6-4.5h.7m20.1 5.8h.7m-20.8-0.3h.7m10.3 3h.7m1.1-9.4h.7m-14.6 .6h.7m-1.6 4.9h.7m23.5 3.4h.7m-11.9-8.4h.7m-16.3 1.6h.7m4.8 6.3h.7m22.5-5h.7m-22.1 3.2h.7m5.9 3.5h.7m13.3-3.5h.7m-23.5-1.2h.7m-3.6-4.7h.7m16.1 7.4h.7m-4.2-2.1h.7m7-6.1h.7m-24.5 .7h.7m9 8.4h.7m14.4-2.5h.7m-6.4-5.1h.7m-2.3 3h.7m-17.4 3.1h.7m5.5-6.4h.7m17.3 1.8h.7m-9.2 1h.7m5.2-2.7h.7m-9.5-0.2h.7m-2.3-1.2h.7m.1 .7h.7m-3.9 5.4h.7m9.1 .8h.7m-16 .6h.7m17.1 1.4h.7m-4.1 .6h.7m-.2-5.9h.7m.5-0.5h.7m-21.2 .4h.7m17.5-2.4h.7m-5.5 6.4h.7m10.9 .2h.7m-9.9-1.1h.7m5.4-1.4h.7m-.5-5.3h.7m-17.1 1.7h.7m6.4 2.4h.7m6.3 5h.7m-1.6-4h.7m-19.6-0.5h.7m5.3 2.1h.7m5.4-1.4h.7m-12.4-0.3h.7m16 3.1h.7m-6.9-7.3h.7m-.3-0.3h.7m2.1 .1h.7m-5.4 7h.7m7.2-3h.7m.1 2.9h.7m-16.3 1h.7m-1.7-0.8h.7m3.9-3.8h.7m12.1-2.8h.7m1.8 6.1h.7m-7.1 1.5h.7m-10.5-6.4h.7m6.7 1.6h.7m-13.6 4.4h.7m3.2-3h.7m17 3h.7m-1.9-6.1h.7m1.4 5.9h.7m-1.1-0.3h.7m-12.7-3h.7m-4.5-1.6h.7m2-1.1h.7m-2.1-2.6h.7m15.2 2.5h.7m-20.8 .8h.7m6.3 0h.7m-9.4-0.9h.7m5.2 .6h.7m-6.2 1.2h.7m17.2 5.7h.7m1-7.8h.7m2-0.4h.7m-16.6 2.4h.7m-2.2 3.8h.7m7.4-1.6h.7m-.2 1.7h.7m6.1-2.7h.7m-13.6 1.7h.7m18.2-1.2h.7m-12.2-3.4h.7m-16.7 5h.7m21.2-5.8h.7m4.3 9.2h.7m-15.8-8.1h.7m-2.4 1.5h.7m2.3 6.6h.7m-15.3-5.1h.7m20.6 3.2h.7m-.8-2.1h.7m-3.9-1.2h.7m7.1 3.5h.7m-21-0.7h.7m13.3-8.4h.7m-14.2 7.8h.7m4.8-0.7h.7m-.5-3.5h.7m13.6 3h.7m-17.9-2.6h.7m20.6-2.3h.7m-29.7 6.6h.7m19.7-0.2h.7m2.7-0.8h.7m-25.4-4.3h.7m21.1 4.9h.7m-16.4-3.8h.7m-4-0.4h.7m6.4 3.1h.7m-2.1-3.8h.7m5.1 1.9h.7m10.7-2h.7m-22.5 2h.7m11.6-5.2h.7m-.2 10.6h.7m-14.4-5.2h.7m13.8 1.9h.7m9.8-6.1h.7m-10.5 4.8h.7m-16-2h.7m12.2 2.7h.7m-2.5-0.3h.7m7.8-3.7h.7m-10 3.8h.7m-4.2 .5h.7m12-0.1h.7m-5.3-3.7h.7m-.5 1.9h.7m-13.7 1.8h.7m9.4 .9h.7m-4.9-4h.7m6.4 6h.7m1.6-6.8h.7m-11.4 2.7h.7m13.1-2.5h.7m-21 1.5h.7m24.4 2.5h.7m-14.6 .9h.7m3.7 2.7h.7m-15.1-2.8h.7m11.8-2.8h.7m12.8 1.4h.7m-18.2-4.4h.7m9.3 5.1h.7m3.6-0.6h.7m-4.4 1.9h.7m-2.1-5.9h.7m-8.5 6.1h.7m-9.7 2.6h.7m7.2-4.3h.7m14.5-5.6h.7m-6.7 8.8h.7m5.7-9.2h.7m-13.6 4.2h.7m9.3 3h.7m-5.4-6.6h.7m-1.3 2.1h.7m3 8.4h.7m-16.2-10.1h.7m14.7 2h.7m-.9 .5h.7m0 2.5h.7m-16.4 1.3h.7m-6.4-5.6h.7m16.7 1.8h.7m.7-2.6h.7m-14.2 2.6h.7m-5.6-0.6h.7m7.6-1.1h.7m-2.4 .2h.7m-5.1 5.1h.7m7.1-3.3h.7m10-2.2h.7m-.3-1.2h.7m-21.7 8.5h.7m25.2-4.8h.7m-21.7-0.1h.7m3.3 3h.7m14.9 .3h.7m-2.2-6.3h.7m-7.2 4h.7m-17-3.2h.7m22.9 5.5h.7m-23.9 .3h.7m7.3-3.7h.7m7.1-1.9h.7m-8.8 1.5h.7m11.1-0.5h.7m-17.2 5.5h.7m-1.8-5.1h.7m8 1h.7m13-2.5h.7m-3.4-1.5h.7m-9.1-0.5h.7m0 7.7h.7m11.4 .7h.7m-6.1-0.9h.7m0-1.1h.7m-15.3-2.7h.7m5.5 5.7h.7m-3.5-8.1h.7m10.8 6.3h.7m-.5-7.2h.7m-16 10.2h.7m-.1-4.3h.7m-6.6-3.6h.7m16.4 2.3h.7m-21.2-0.4h.7m7.2 4.4h.7m12.5-8.5h.7m-11 9h.7m3.2-5.1h.7m6.3 2.4h.7m-6.8-5.1h.7m-1.3 3.1h.7m-3.9-2.5h.7m-.9 2.1h.7m3.7-3.4h.7m-13.9 5.4h.7m16.9 1.5h.7m-13.5-4.9h.7m-.6-2.1h.7m14.2 6h.7m1.6-3.2h.7m-13.5 4.6h.7m9.6-0.7h.7m-1.3-7.1h.7m2.6 5.7h.7m-5.5-4.8h.7m-7.7 6.1h.7m-12.2-1.1h.7m-.5-1h.7m20.9 6h.7m-14.9-1.9h.7m5.4-9.1h.7m-16.3 1.1h.7m2.9-0.5h.7m22.5 .9h.7m-24.3-2.3h.7m20.6 1.7h.7m-14.1 4.9h.7m-6 .7h.7m-8.5-1.4h.7m10.3 1.5h.7m8.7-0.9h.7m-7 1.6h.7m-5.3-9h.7m3.7 7h.7m-10.8-4.5h.7m18.9 3h.7m-19.3-1.3h.7m5.5-0.2h.7m5.6 2.6h.7m-3.6 1.6h.7m-.4 1.3h.7m-7.9-5h.7m8.1-1.5h.7m-14 3.1h.7m-1.1 2h.7m15.6-1h.7m7.4-4.4h.7m-24 1.7h.7m16.7 1.1h.7m-13 2.1h.7m9.7 .5h.7m-8.7 .4h.7m15.8-1.5h.7m-13.3 .8h.7m-15.8 1.3h.7m16.4-2.3h.7m-.7 1.6h.7m-4.9-4.2h.7m-12.8 6.1h.7m25.4-5.2h.7m-2.3-0.8h.7m-18.2 4.8h.7m14.2-5.8h.7m-17.8 4.1h.7m16-4.1h.7m-22.9 6.9h.7m15.9-1h.7m-10.6-6.2h.7m16-1.2h.7m-5.3 7.6h.7m4.8-5.1h.7m-15.7 1.7h.7m-6.6 .5h.7m13.9-0.6h.7m9 1.5h.7m-7.9 1.8h.7m-1.6-1.8h.7m.7 .5h.7m-8.3-4.3h.7m-12.8-2.1h.7m-1.6-0.6h.7m8.9 9.2h.7m11.2-4.9h.7m-16.8 3.9h.7m3.8-1.5h.7m-.1-7.2h.7m2.1 4.1h.7m-10 1.1h.7m5.5 2.6h.7m3 0h.7m-1.3-4.4h.7m-.3 2.5h.7m1.2-4.5h.7m-9.2 6.9h.7m18.1-1h.7m-10.6-2.1h.7m-12.7 1.2h.7m16.9-3.8h.7m3.7 6.8h.7m-6.3-0.6h.7m-14.7 .4h.7m-6.9-2.7h.7m6.9 2.1h.7m.2-7.6h.7m-.9-1.1h.7m-.1 3.2h.7m11.4 5.5h.7m-14.4-4.3h.7m5-3.1h.7m11.2 6.6h.7m-17-4.7h.7m-7.1 7.5h.7m12.2-6h.7m3.1 4.6h.7m-5.1-5h.7m-13-2h.7m25.8 3.5h.7m-24.5-0.4h.7m-.3 2.9h.7m10.3 .8h.7m-9.3-6.1h.7m1.9 6.2h.7m-1.4-5.3h.7m6.2 3.8h.7m-9.9 3.4h.7m-4.3-8.3h.7m6 .9h.7m6.3 1.3h.7m2.9 1.8h.7m5.8-0.3h.7m-25.1 2.9h.7m13.9-4.6h.7m-2.4 5.7h.7m3.3-7h.7m6.5 5h.7m-19.3-5.8h.7m17.6 .6h.7m-24.7 .4h.7m16.5 .8h.7m-21.7 5.3h.7m23.3-1.1h.7m1.8-1.8h.7m-5.6 2.4h.7m4.1-0.5h.7m-25.6-6.5h.7m27.6 3.8h.7m-19.9-1.9h.7m2 4h.7m-13.9-4.1h.7m26.2 4.2h.7m-21.9-0.8h.7m7.3-2.4h.7m-11.1 1.5h.7m19.9 3.6h.7m-7-1.9h.7m2.9-1.2h.7m-11.5-1.7h.7m3.3 5h.7m-8.1-9.9h.7m15.4 4.7h.7m-9.2 3.7h.7m1.6-0.3h.7m-.8-4.4h.7m-7.7-0.9h.7m16.1 1.7h.7m-13.6 2.3h.7m2.5-3.1h.7m9.9 .1h.7m-21.9-0.4h.7m17.5-2.4h.7m-22.9 6.1h.7m10.6-7.6h.7m11.5 2.8h.7m-8.8 4.4h.7m3.5 3.5h.7m-1.2-5.4h.7m-2.3-2.1h.7m-3.7 4.9h.7m-5.2-5h.7m-1.7 4h.7m-9.7 1.8h.7m21.7-6.6h.7m-11.7 6.2h.7m15.9-2.4h.7m-16.5 .4h.7m-4.5-3.5h.7m-4.7 0h.7m6.4 2.7h.7m-.8 1.8h.7m9.7 .7h.7m-23.8-1.9h.7m27.4-1.8h.7m-2.4 4.2h.7m.4-1.9h.7m-9.2-1h.7m-14-3.3h.7m8.6 2h.7m6.5-3h.7m-2.5 7.1h.7m-15.2 .7h.7m3.6-4.3h.7m-8.4-6.2h.7m19.8 5.8h.7m3 6.1h.7m-8.5-1h.7m2.7 0h.7m-21.3-1.1h.7m28.4-1.3h.7m-18.4-1.3h.7m-3.3-4.3h.7m1.6 1.7h.7m-7.4 2.2h.7m4.1 3.6h.7m-8.5-6.2h.7m6.7 4h.7m4.5 4.3h.7m3.7-7.4h.7m-11.9 1.1h.7m11 3.5h.7m4-4.5h.7m0-2h.7m-20.2 6.7h.7m-7-5.9h.7m7.6 .7h.7m1.9 2.2h.7m-11.4 2h.7m21.3 1.3h.7m-12.4-5.2h.7m-1.6 4.1h.7m-6.5-5h.7m-.9 5.3h.7m15.5 2h.7m-15.9-2.6h.7m15.9 1.2h.7m-13.9-4.1h.7m2.8-1.1h.7m-10.3 4.5h.7m8.2-6.3h.7m-4.4 2.4h.7m20.4-1.9h.7m-25.1 2.9h.7m12.3-1h.7m7.9-1.4h.7m-15.9-2.5h.7m4.8 4.6h.7m13.1 2.1h.7m-18.8-3.2h.7m2.5 3.9h.7m1.7-0.7h.7m.8 1.7h.7m7.5-8.3h.7m-5.6 10.6h.7m-5.7-2.2h.7m-7.4-9.2h.7m18 6.4h.7m-2.8-1.6h.7m-12.1-1.9h.7m-14.4-0.7h.7m19.8 5.1h.7m3.7-0.8h.7m-9.5-3.9h.7m-1.3 5.8h.7m-5.9-3.9h.7m-9.1-1.1h.7m-4.6 6.7h.7m-1.4-3.7h.7m17.2 2.4h.7m5-5.5h.7m4 4.6h.7m-9.5-5.8h.7m-9.4 5.9h.7m-7.6 2.7h.7m1.5-5.1h.7m-5.3 1.8h.7m20.1 .9h.7m-9-3.4h.7" stroke="#888" stroke-opacity="0.435" stroke-width="0.7" fill="none"/>
<path d="M459.8,358.0 L466.0,357.2 L472.2,358.6 L469.0,366.0 L464.8,374.2 L463.5,380.5 L461.0,380.5Z" fill="#1bb21b" fill-opacity="1.0" filter="url(#blur6)"/>
<path d="M471.6 361h.7m-11.3 10.9h.7m-1.3 3.7h.7m5.3 .8h.7m-7.4-5.1h.7m5.2-6.9h.7m-4.4 6.3h.7m4.5-8.6h.7m-3.9-0.9h.7m-3.4 18.3h.7m5.5-9.7h.7m-1.5-4.2h.7m-7 5.5h.7m5.2-4.2h.7m-.3-0.2h.7m-1.7-4.5h.7m-4.6-0.9h.7m2.1 6.6h.7m-1.4-6.1h.7m.4 6.9h.7m.4 5.1h.7m-2.9 4.4h.7m-1.9-19.8h.7m2.4 2h.7m-3-1.2h.7m-2.8 3.8h.7m-.8-1.2h.7m1.9 5.2h.7m2.9-1.6h.7m-5.4-6.5h.7m2.1 21.9h.7m.6-17.7h.7m-1.6-3.6h.7m3.2 1.3h.7m-3.1 7h.7m-7.2 12.2h.7m5.8-10.6h.7m-2.8 10.3h.7m.1-10h.7m-1.2-1.7h.7m3.8-4h.7m-9.3 16.2h.7m-.3-16.8h.7m3.6 .1h.7m-.1 4.3h.7m.8-10.1h.7m-9.6 11.6h.7m7.6 2.2h.7m-5.1-14h.7m-2.1 22h.7m-.1-18.9h.7m5.1 5.6h.7m-3.5-0.5h.7m-4.9 14.5h.7m2.2-7.4h.7m0-3h.7m3.2-4.8h.7m-6-1.4h.7m-1 2.2h.7m4.6 .1h.7m-9.4-1.6h.7m1.5 15h.7m.6-20.6h.7m2.2 .5h.7m-1.4 4.2h.7m-2.2 2.4h.7m-2.5 4h.7m-.1-5h.7m4.6-6.3h.7m-8.4 13.4h.7m5.3-7.2h.7m-6.8-6.7h.7m2.3 16.3h.7m5.6-12.8h.7m-5.4 9.4h.7m-2.3 2.2h.7m-.3 .3h.7m-.7 .3h.7m.4-6.2h.7m4.2-5.9h.7m-8.8 12.6h.7m-4.9 1.2h.7m4.3-4.8h.7m3 .7h.7m-6 8.6h.7m-.7-11h.7m5-0.7h.7m5-7.6h.7m-4.3 2.8h.7m-5.7 4.8h.7m5.6-7.7h.7m-5.8 6.5h.7m-3.5-2.7h.7m-.7 11.8h.7m5.8-12.3h.7m-7.3-5.1h.7m-.4 15.5h.7m-2.9-11.9h.7m2.7 4.3h.7m-1.7 6.5h.7m5.4-9.3h.7m-1.1 1.1h.7m-6.1-2.1h.7m.8 1h.7m1.7 5.2h.7m-5-1.2h.7m.5-8.3h.7m.2 8.9h.7m-1.2 7.8h.7m-3.6-17.4h.7m8.8 2.3h.7m-12.5 1.5h.7m2.5-8h.7m3 6.4h.7m.9 .3h.7m-4.5 8.7h.7m4.2-4.7h.7m-6.6 12.1h.7m-1.5-11.8h.7m4.4 7.4h.7m-7.3-11.2h.7m7.9-1.7h.7m-3.2-1.4h.7m.7 1.7h.7m-8.8-1.8h.7m11 .2h.7m-10.8 4.8h.7m3.4 .7h.7m-1.5 5.6h.7m1.5-11.4h.7m-2.5 3h.7m-8.3 4.7h.7m3.9-2h.7m1.2-1.4h.7m-2.8-3.7h.7m3.6 12.1h.7m-2.8-1.7h.7m-3.5-3.2h.7m.3-5.2h.7m4-2.2h.7m-5.6 7.1h.7m7.6-7.9h.7m-7.9 11.1h.7m-3.5-6.6h.7m7.4-4h.7m-.6 .9h.7m-8.1 12.7h.7m8.4-11.2h.7m-7.8 6.6h.7m6.8-5.3h.7m-8-2.7h.7m-.8 17.2h.7m2.7-11.5h.7m-.2-1.1h.7m.8 2.6h.7m-4.9-3h.7m.6-5.1h.7m4.3 5.6h.7m-6.7 12.8h.7m-2.6-16.4h.7m5.5 4.7h.7m-4.8 11.1h.7m-1.6 2.1h.7m2.4-20.9h.7m-1.8 16.3h.7m-3.7-12.6h.7m5.8-2.2h.7m-8.4 17h.7m1.4-15.9h.7m-1.6 9.9h.7m-4-12.5h.7m6.8 11.1h.7m-3.2-0.2h.7m.2 2.8h.7m-3.3 4h.7m6.3-15.6h.7m-3.8 7.1h.7m2.2-5.6h.7m-8.3 14.7h.7m-3.7-6.9h.7m5.3-2.2h.7m-1.8 3.5h.7m-1 3.4h.7m4.8-14.6h.7m.8 .4h.7m-6.6 .3h.7m4.1 2.6h.7m-8.4 7.4h.7m-.7-7.5h.7m-2.9 7.9h.7m7.8-8.5h.7m-1.2 1.2h.7m-4.9 10.7h.7m-2.2-12.4h.7m-2.4 6.6h.7m1-8.4h.7m.3 1.2h.7m-5.1 7.5h.7m4.6-7.8h.7m1.4-1.7h.7m2.6 2.8h.7m-4.6 5h.7m.7 7.5h.7m-5.6-11.4h.7m4.4 7.3h.7m-4.2 .2h.7m3.6-5.8h.7m-1.9 3.3h.7m-7.6-2h.7m6.4 5.5h.7m-6.6-9.9h.7m5.1 9.2h.7m-2.3-2.3h.7m-4.1-5.2h.7m.4 5.6h.7m4.7-0.4h.7m-5.4 5.7h.7m1-1.7h.7m-5.6-9.4h.7m5.7-3.6h.7m1.6 3.4h.7m-4.7 3.1h.7m2.9-0.7h.7m-5.1 2.4h.7m-2.2-7h.7m7.6 1.5h.7m-11.2 2.4h.7m7.4 .6h.7m2-5.8h.7m-5.4 5.4h.7m-4.9 12h.7m5.2-11.2h.7m-7.1 11.4h.7m7.8-13.5h.7m-9.1 6.6h.7m-2.6-10.1h.7m3 11.3h.7m-.4 8.8h.7m-4.2-22.7h.7m1.3 5.5h.7m4.4 2.4h.7m-7 12.7h.7m1.6-0.6h.7m.3-9.2h.7m-.3-5.8h.7m-2.3 4.3h.7m-2.1 4.6h.7m3.3-1.2h.7m-1.9-10.5h.7m-3.6 11.6h.7m-1.1 4.9h.7m7.9-14.2h.7m-3.1 6.4h.7m-5.2-1.3h.7m2.2-2.7h.7m1.2 1.9h.7m.3-3.8h.7m-3.1 3.6h.7m-2.1 3h.7m-3 4.3h.7m-4.7-7.4h.7m.3 7.3h.7m10.1-11.9h.7m-7.6 9.2h.7m4.5-6.2h.7m-3.3 4.6h.7m-2.1-1.7h.7m-.8-9.8h.7m4.8 4.6h.7m-7.4-3h.7m-.7 10.1h.7m-.9 3.5h.7m2.6-9.6h.7m-3.2 1.9h.7m.6 6.2h.7m-2.5-4.7h.7m-1.2-4.4h.7m2.7 .6h.7m-3.2 12.2h.7m-4.2 6h.7m.4-10.9h.7m6.1-5.1h.7m-11.7-2.6h.7m3.5-1.5h.7m1.6 11.6h.7m-.1 .9h.7m-2.3-12.5h.7m.1 6.6h.7m.6-0.5h.7m-3-1.6h.7m-1.3-5.1h.7m4.8 3.4h.7m-3.9-5.8h.7m-1.3 5.7h.7m-3 6.6h.7m-1.9 .2h.7m8.4-2.5h.7m2.2-7.3h.7m-11 10.3h.7m5.8-5.6h.7m-5.7-7.1h.7m2.6 3.6h.7m-9.1 1.5h.7m5.7 10.7h.7m-4.1-8.8h.7m-.8-1.6h.7m-.3-2.9h.7m5.2 4.8h.7m-8.3 .4h.7m1.2-3.5h.7m1.5 9.4h.7m-3.6 4.6h.7m1.5-13.6h.7m-1.1-1.4h.7m.5 15h.7m.6-10.9h.7m-2.7-0.7h.7m-2.2-1.6h.7m3.4-3.7h.7m-3.4 9.7h.7m-1.9-9h.7m-1.5 4.9h.7m-.6 6.8h.7m6-7.7h.7m-6.8-0.9h.7m-1.3 12.8h.7m9.4-16.8h.7m-9.3 5h.7m6.2-0.5h.7m-9.1 4.1h.7m1.1-5h.7m-5.2 13.1h.7m6.1-17.9h.7m3.2 1.1h.7m-5.2 7.5h.7m1.8 1.1h.7m-7.3 2h.7m-.9 1.2h.7m4.9-1.9h.7m-8.4-8.6h.7m8.4 3.2h.7m-6.9 2.9h.7m6.3-5.2h.7m-1.9 6.1h.7m-5.9-1.2h.7m-.7 12.6h.7m5.4-13.4h.7m-4.3 5.2h.7m-3.3 3.1h.7m-3.9-3.2h.7" stroke="#1bb21b" stroke-opacity="0.6525" stroke-width="0.7" fill="none"/>
</g>
<line x1="472.3" y1="343.2" x2="472.3" y2="406.5" stroke="#555" stroke-width="0.8" />
<line x1="446.3" y1="380.1" x2="510.0" y2="380.1" stroke="#555" stroke-width="0.8" />
<path d="M446.3,406.5 L446.3,343.2 L510.0,343.2 L510.0,406.5 Z" fill="none" stroke="#888" stroke-width="0.8"/>
<line x1="446.3" y1="342.7" x2="446.3" y2="407.0" stroke="#222" stroke-width="1.3" />
<line x1="445.8" y1="406.5" x2="510.0" y2="406.5" stroke="#222" stroke-width="1.3" />
<line x1="444.7" y1="344.0" x2="446.3" y2="344.0" stroke="#222" stroke-width="0.7" />
<line x1="444.7" y1="346.14" x2="446.3" y2="346.14" stroke="#222" stroke-width="0.7" />
<line x1="444.7" y1="348.28" x2="446.3" y2="348.28" stroke="#222" stroke-width="0.7" />
<line x1="444.7" y1="350.41" x2="446.3" y2="350.41" stroke="#222" stroke-width="0.7" />
<line x1="444.7" y1="352.55" x2="446.3" y2="352.55" stroke="#222" stroke-width="0.7" />
<line x1="444.7" y1="354.69" x2="446.3" y2="354.69" stroke="#222" stroke-width="0.7" />
<line x1="444.7" y1="356.83" x2="446.3" y2="356.83" stroke="#222" stroke-width="0.7" />
<line x1="444.7" y1="358.97" x2="446.3" y2="358.97" stroke="#222" stroke-width="0.7" />
<line x1="444.7" y1="361.1" x2="446.3" y2="361.1" stroke="#222" stroke-width="0.7" />
<line x1="444.7" y1="363.24" x2="446.3" y2="363.24" stroke="#222" stroke-width="0.7" />
<line x1="444.7" y1="365.38" x2="446.3" y2="365.38" stroke="#222" stroke-width="0.7" />
<line x1="444.7" y1="367.52" x2="446.3" y2="367.52" stroke="#222" stroke-width="0.7" />
<line x1="444.7" y1="369.66" x2="446.3" y2="369.66" stroke="#222" stroke-width="0.7" />
<line x1="444.7" y1="371.79" x2="446.3" y2="371.79" stroke="#222" stroke-width="0.7" />
<line x1="444.7" y1="373.93" x2="446.3" y2="373.93" stroke="#222" stroke-width="0.7" />
<line x1="444.7" y1="376.07" x2="446.3" y2="376.07" stroke="#222" stroke-width="0.7" />
<line x1="444.7" y1="378.21" x2="446.3" y2="378.21" stroke="#222" stroke-width="0.7" />
<line x1="444.7" y1="380.34" x2="446.3" y2="380.34" stroke="#222" stroke-width="0.7" />
<line x1="444.7" y1="382.48" x2="446.3" y2="382.48" stroke="#222" stroke-width="0.7" />
<line x1="444.7" y1="384.62" x2="446.3" y2="384.62" stroke="#222" stroke-width="0.7" />
<line x1="444.7" y1="386.76" x2="446.3" y2="386.76" stroke="#222" stroke-width="0.7" />
<line x1="444.7" y1="388.9" x2="446.3" y2="388.9" stroke="#222" stroke-width="0.7" />
<line x1="444.7" y1="391.03" x2="446.3" y2="391.03" stroke="#222" stroke-width="0.7" />
<line x1="444.7" y1="393.17" x2="446.3" y2="393.17" stroke="#222" stroke-width="0.7" />
<line x1="444.7" y1="395.31" x2="446.3" y2="395.31" stroke="#222" stroke-width="0.7" />
<line x1="444.7" y1="397.45" x2="446.3" y2="397.45" stroke="#222" stroke-width="0.7" />
<line x1="444.7" y1="399.59" x2="446.3" y2="399.59" stroke="#222" stroke-width="0.7" />
<line x1="444.7" y1="401.72" x2="446.3" y2="401.72" stroke="#222" stroke-width="0.7" />
<line x1="444.7" y1="403.86" x2="446.3" y2="403.86" stroke="#222" stroke-width="0.7" />
<line x1="444.7" y1="406.0" x2="446.3" y2="406.0" stroke="#222" stroke-width="0.7" />
<line x1="449.6" y1="406.5" x2="449.6" y2="408.1" stroke="#222" stroke-width="0.7" />
<line x1="463.9" y1="406.5" x2="463.9" y2="408.1" stroke="#222" stroke-width="0.7" />
<line x1="479.6" y1="406.5" x2="479.6" y2="408.1" stroke="#222" stroke-width="0.7" />
<line x1="486" y1="406.5" x2="486" y2="408.1" stroke="#222" stroke-width="0.7" />
<line x1="488.5" y1="406.5" x2="488.5" y2="408.1" stroke="#222" stroke-width="0.7" />
<line x1="490.7" y1="406.5" x2="490.7" y2="408.1" stroke="#222" stroke-width="0.7" />
<line x1="496" y1="406.5" x2="496" y2="408.1" stroke="#222" stroke-width="0.7" />
<line x1="498" y1="406.5" x2="498" y2="408.1" stroke="#222" stroke-width="0.7" />
<line x1="499.7" y1="406.5" x2="499.7" y2="408.1" stroke="#222" stroke-width="0.7" />
<line x1="505" y1="406.5" x2="505" y2="408.1" stroke="#222" stroke-width="0.7" />
<line x1="507" y1="406.5" x2="507" y2="408.1" stroke="#222" stroke-width="0.7" />
<text x="441.8" y="346.9" font-size="5.8" fill="#141414" text-anchor="end">10<tspan font-size="4" dy="-2.2">6</tspan></text>
<text x="441.8" y="358.1" font-size="5.8" fill="#141414" text-anchor="end">10<tspan font-size="4" dy="-2.2">5</tspan></text>
<text x="441.8" y="375.2" font-size="5.8" text-anchor="end" font-weight="normal" font-style="normal" fill="#141414" textLength="14.52" lengthAdjust="spacingAndGlyphs"  stroke="#141414" stroke-width="0.12">10000</text>
<text x="441.8" y="389.7" font-size="5.8" text-anchor="end" font-weight="normal" font-style="normal" fill="#141414" textLength="2.9" lengthAdjust="spacingAndGlyphs"  stroke="#141414" stroke-width="0.12">0</text>
<text x="441.8" y="403.8" font-size="5.8" text-anchor="end" font-weight="normal" font-style="normal" fill="#141414" textLength="16.25" lengthAdjust="spacingAndGlyphs"  stroke="#141414" stroke-width="0.12">-10000</text>
<text x="447.6" y="417.7" font-size="5.8" text-anchor="middle" font-weight="normal" font-style="normal" fill="#141414" textLength="16.25" lengthAdjust="spacingAndGlyphs"  stroke="#141414" stroke-width="0.12">-20000</text>
<text x="463.5" y="417.7" font-size="5.8" text-anchor="middle" font-weight="normal" font-style="normal" fill="#141414" textLength="2.9" lengthAdjust="spacingAndGlyphs"  stroke="#141414" stroke-width="0.12">0</text>
<text x="479.0" y="417.7" font-size="5.8" text-anchor="middle" font-weight="normal" font-style="normal" fill="#141414" textLength="14.52" lengthAdjust="spacingAndGlyphs"  stroke="#141414" stroke-width="0.12">20000</text>
<text x="491.2" y="417.7" font-size="5.8" fill="#141414" text-anchor="middle">10<tspan font-size="4" dy="-2.2">5</tspan></text>
<text x="501.0" y="417.7" font-size="5.8" fill="#141414" text-anchor="middle">10<tspan font-size="4" dy="-2.2">6</tspan></text>
<text x="449.5" y="351.7" font-size="8" text-anchor="start" font-weight="normal" font-style="normal" fill="#33b86a" textLength="21.1" lengthAdjust="spacingAndGlyphs" stroke="none">58.8%</text>
<text x="477.0" y="351.7" font-size="8" text-anchor="start" font-weight="normal" font-style="normal" fill="#33b86a" textLength="25.9" lengthAdjust="spacingAndGlyphs" stroke="none">27,57%</text>
<line x1="421.9" y1="419.6" x2="421.9" y2="388.7" stroke="#444" stroke-width="1.3" />
<line x1="421.25" y1="419.6" x2="465.2" y2="419.6" stroke="#444" stroke-width="1.3" />
<path d="M419.7,389.2 L421.9,385.2 L424.09999999999997,389.2Z" fill="#141414"/>
<path d="M464.7,417.40000000000003 L468.7,419.6 L464.7,421.8Z" fill="#141414"/>
<text transform="translate(418.3,417.7) rotate(-90)" font-size="8.6" fill="#141414" textLength="23.8" lengthAdjust="spacingAndGlyphs">CD117</text>
<text x="431.3" y="429.3" font-size="8.6" text-anchor="start" font-weight="normal" font-style="normal" fill="#141414" textLength="26.4" lengthAdjust="spacingAndGlyphs"  stroke="#141414" stroke-width="0.12">Ter-119</text>
<defs><clipPath id="fb3"><rect x="330.4" y="436.4" width="64.0" height="63.5"/></clipPath></defs>
<g clip-path="url(#fb3)">
<path d="M340.6 448.6h.7m25.1 10.1h.7m-1.3 4.6h.7m-13.9 5.8h.7m-10.2-14.5h.7m20.5 14.1h.7m-17.5-8.1h.7m4.2-12.3h.7m-2.7 18.1h.7m2-12.2h.7m-7.2 8h.7m8.1-0.9h.7m-3.5-5h.7m-5.9-0.8h.7m9.5 7.7h.7m-3-9.8h.7m-9.6-1.8h.7m.3 15h.7m8.8-9.4h.7m-21.1 12.1h.7m15.8-21.1h.7m-1.6 9.5h.7m-15.1 .8h.7m7.7-6.8h.7m18 16.1h.7m-8.1-10h.7m-16.6-12.3h.7m6 16.6h.7m-2-14.2h.7m-3.5 11.1h.7m-1.4 2.4h.7m5.4 13.2h.7m-3.5-19.8h.7m18.4 3.9h.7m1.8-4.4h.7m-16.4-0.6h.7m-4.6 9.3h.7m-12.6 3h.7m6.7-2.3h.7m-.7-23.5h.7m7.6 23.7h.7m14.6-6.8h.7m-22-7.2h.7m17.8 2.2h.7m-13-9.2h.7m.5 18.8h.7m-4.4-4.7h.7m-24.9 2.1h.7m16.2-6.6h.7m4.4-1h.7m6.9 10.7h.7m-14.6 1.3h.7m4.4-5.9h.7m-8.1-0.5h.7m7.7 5.6h.7m-5.5 8.3h.7m14.3-10.8h.7m-16.7-2.5h.7m-1.9-1.6h.7m7.8 5.6h.7m11.4-5.1h.7m-11.6 3.2h.7m-1.6 2.4h.7m6.2-8.4h.7m-6.4 12.9h.7m6.3 6.3h.7m-.6-19.6h.7m-7.9 10.8h.7m-17.2-17.8h.7m18.5 17.4h.7m2.5-18.1h.7m4.1 22.1h.7m-18.7-2.8h.7m-2.1-18.8h.7m10.1 8.1h.7m-3.4-9.6h.7m.8 27h.7m-7.3-2.4h.7m4-9.5h.7m-.7-9.3h.7m-23 9.2h.7m32.4-0.1h.7m-15.6 6.7h.7m-13.4 6.9h.7m.4-7.3h.7m14.6 .1h.7m-16.2-7.5h.7m11.5-1.5h.7m-7.7 8h.7m6.1-6.5h.7m-1.7-3h.7m21.8-4.9h.7m-14.6-0.5h.7m8.6 3.4h.7m-26.4-3.2h.7m9.5-0.9h.7m-8.6 7.5h.7m15.2-6.5h.7m8.7 8.6h.7m-14.7-0.2h.7m-18.1 1h.7m14.1-10.9h.7m11.1 13.9h.7m3.9-13h.7m-19.1 4.4h.7m2.5 6.2h.7m-10.8-8.3h.7m-6.8 21.9h.7m11.7-13.3h.7m16-1.2h.7m-20.6 7.4h.7m11.5-22.9h.7m-3.1 22.3h.7m-7.6-14.9h.7m-3.1 .9h.7m-10-8.8h.7m12.4 21.7h.7m7.2-7.6h.7m1.6-10.5h.7m-6.3 10.1h.7m-1.2 9.2h.7m-17-14.4h.7m2.1 7.7h.7m5.2-8.7h.7m1.5 5.6h.7m-10.3 15.1h.7m6.7-13.5h.7m3-4.6h.7m3.3 13h.7m-1.8-21h.7m-13.8 12.8h.7m3.5 5.4h.7m17.3-17h.7m-19.4 15.7h.7m11.3 11.4h.7m11-4.8h.7m.1-17.9h.7m-29.3 11h.7m12.3-7.8h.7m-4.6 .5h.7m-3.8 15h.7m15.3-10.5h.7m-7.6-1.3h.7m10.4 .2h.7m-25.7-7.9h.7m-11.7-1.5h.7m20.7 7.1h.7m1 3.9h.7m12.2-2.2h.7m-17 11.6h.7m7.8-6.3h.7m6.5-8.1h.7m-38.1 1.9h.7m23.1 15h.7m-4.6-1.9h.7m-6.3-6.5h.7m4.7-13.2h.7m2.7 2.5h.7m22.1 2.9h.7m-31 5.5h.7m4.9-0.8h.7m13.6 2.3h.7m13.7-18.3h.7m-38.5 14.7h.7m18.4 6.4h.7m-13.5-3.5h.7m21.6-3.6h.7m-8.7-2.7h.7m-4.4 .2h.7m7-4.9h.7m-10 6.7h.7m-3.1 9h.7m4.3-8.6h.7m-20.8 10.6h.7m14.5-12.7h.7m10.2-1.3h.7m-37.9 11.7h.7m8.5-16h.7m23 4.9h.7m-1-6.8h.7m-6.2 9.6h.7m5-6.5h.7m-8.8 1.1h.7m14.5 .2h.7m-24.7 1h.7m25.6 9.2h.7m-17.3 3.8h.7m-7.3 15.8h.7m14.1-22.3h.7m-11.8 6h.7m21.1-14.5h.7m-22.7 8h.7m-8.8-3.3h.7m-8.5 2.7h.7m21.5 1.4h.7m19.4-4.7h.7m-15.1-0.9h.7m-8.7-1.8h.7m-24 1.5h.7m9.2 6.5h.7m17.4-13.9h.7m-10.5 22.6h.7m4.4-4.6h.7m-.7-13h.7m5.4 13.3h.7m-12.8-3.9h.7m11.9-10.6h.7m4.1 1.2h.7m-13.2 8.5h.7m6.5-8.1h.7m-8.3 6.8h.7m-4.4-4.5h.7m6.9 13.4h.7m-5.8-19.4h.7m-5.4 19.2h.7m5.1-14.7h.7m-1.5 6.1h.7m11 12.7h.7m2.6-21.7h.7m-29.9-1.2h.7m-2.5 .8h.7m10.2-7.5h.7m18 10.8h.7m-24 21.7h.7m-.1-21.9h.7m-8.6 2.6h.7m10.4 7.9h.7m4.7-1.5h.7m12.2-19h.7m7.9 18.2h.7m-18.7 8.6h.7m3.2-1.1h.7m.7-22.8h.7m-4.9 13.9h.7m2.3 6.7h.7m-21.9-2.7h.7m21.9-10.4h.7m1.4 6.8h.7m-24.3 .5h.7m5.1-6.1h.7m11.7 4.3h.7m.9 0h.7m1.1-5.7h.7m8.6 2.4h.7m-8.6-2.2h.7m15.4 15.3h.7m-27.7-8.8h.7m-6.4 4.8h.7m-5.3-4.2h.7m21 4.5h.7m5.1-10.5h.7m-22 5.2h.7m7.1-10.1h.7m-14 10.4h.7m28.6-0.3h.7m-14.5-13.9h.7m6.8-0.8h.7m-19.3 5.2h.7m10.8 11.2h.7m9-9.2h.7m-10.2 2.4h.7m-19.2-11.5h.7m6.9 37.3h.7m4.2-24.9h.7m8.1-7.1h.7m-2.8-1.7h.7m5.5 18.9h.7m-11.3-8.9h.7m-12.4 2.7h.7m22.5 .4h.7m-7.1-3.3h.7m-20.7 5.5h.7m14 11.5h.7m-11.6-19.4h.7m35.3 3.9h.7m-26.8 4.4h.7m1.9-1.9h.7m8.9 6.8h.7m-23.5-7.2h.7m19.1-5.2h.7m-8.8 8.5h.7m4.8-16.3h.7m-19.4 11.3h.7m18.7 1.7h.7m-20.7 11h.7m15.1-17.8h.7m2.5 3.2h.7m1 1.1h.7m2.7-9h.7m-26.3 8h.7m33.4-1.2h.7m-19.9-0.8h.7m2.1 4.8h.7m8.3 10.9h.7m7.4-15.6h.7m-27 8h.7m7.7-3.5h.7m1-3.8h.7m11.1 7.2h.7m-10.6 4.6h.7m17.8-4.1h.7m-15.2-3.3h.7m-14.3 1.8h.7m-1-6.9h.7m4 10h.7m.6-4.6h.7m-7.2-3.7h.7m8.5-2.3h.7m6.2 6h.7m-13.3-11.1h.7m12.9 5.5h.7m-4.1-6.5h.7m-3.7 20.1h.7m10.1 .8h.7m-1-8.1h.7m-26.8-9.9h.7m13.6 6h.7m2.3 13.2h.7m-17.4-7h.7m-5 3h.7m13.4 8.5h.7m-9.1-3h.7m6.8-5.9h.7m-11.1-5h.7m18.6-4.9h.7m-19.1 2.6h.7m-3.3 5.2h.7m10.3 2.4h.7m3.1-5.3h.7m-12.1-2h.7m13.6 4h.7m-16.2 9.1h.7m28.7-9.4h.7m-14.1-14.5h.7m0 10.8h.7m-4.5 1.5h.7m-.7 6h.7m-17.4-14.8h.7m18.1 2.7h.7m3-3.3h.7m-16.2 18h.7m9.9-9h.7m-13.8 3.9h.7m19.4 .8h.7m-9-7.2h.7m14.5-11.9h.7m-7.8 25.1h.7m-14.6-24.8h.7m6.9 14h.7m15.9 2h.7m-6.1-5.1h.7m-19.1 3.8h.7m-5.9-1h.7m3.3 .7h.7m-3.3 1.2h.7m2.9-15.5h.7m33.8 .9h.7m-25.5 19.1h.7m9.7-16.3h.7m-25.8 10.3h.7m14 9.1h.7m3.7-8.7h.7m-27.3-10.4h.7m9.7 8.9h.7m-9.8-1.1h.7m1.2-0.4h.7m4.9 4.5h.7m15.4-8.1h.7m1.5 6.8h.7m-15.5 6.7h.7m-5.8-11.5h.7m24.8 6.1h.7m-16.2 6.6h.7m-3-6.5h.7m19.9-7h.7m-21.1-12.1h.7m-11.3 5.9h.7m22.7 12.4h.7m-16.4-4.1h.7m-10.7 1.6h.7m24.4 23.5h.7m-19.7-19.4h.7m2.4-7.8h.7m11.5 14.1h.7m5-0.3h.7m-33.1-9.8h.7m23.5 3.1h.7m5.2-1.3h.7m3.2-3.3h.7m-14.8-5.7h.7m-8.3 15.2h.7m12.1-1.7h.7m-20.4-12.5h.7m28.4 8.2h.7m-19.4-7.2h.7m-10.4-3h.7m16.8 11.4h.7m7.6-4.1h.7m-6.1 0h.7m-18.9 1.9h.7m26.6 2.3h.7m-11.3 .6h.7m-5.2-9.8h.7m-2 6h.7m11.5 4.2h.7m-6.8-13.8h.7m-5.1 10.5h.7m1-10.1h.7m-.6 8.2h.7m-2 5.5h.7m-2-3.3h.7m1.6-2h.7m11.7 .4h.7m-25.5-7.2h.7m-8 14.8h.7m9.1-15.7h.7m11.3-5.3h.7m-9 10h.7m3.6-3h.7m6.1 9.1h.7m-4.1-5.7h.7m.5-5h.7m2.6-0.2h.7m-3.5-0.6h.7m-10.4-3.1h.7m-.5 10.6h.7m2.3 11.8h.7m-10.1-17.6h.7m5.8 .1h.7m-7.2 4.2h.7m3.1 .3h.7m-11.5 1.1h.7m2.8 9.7h.7m26-10h.7m-28.4 .7h.7m18 0h.7m1-7.7h.7m3.7 .7h.7m-14.5-8.5h.7m5.8 10.9h.7m-4.9-0.7h.7m3.2 4.7h.7m.3 7.8h.7m4.8-22h.7m-9.9 20h.7m-5.7 6.9h.7m-2.6-12.4h.7m-4.2 1h.7m10.2 11.1h.7m5.4-6.6h.7m-10.6-2h.7m8-8.9h.7m6.5 2h.7m-20 9.3h.7m17.5 1.5h.7m-9.4-5.9h.7m-12.3 8.5h.7m.1 1.7h.7m10.4-23.9h.7m-4.3 10.8h.7m6.8-1.4h.7m-26.2 6h.7m29.6 15.3h.7m-.7-23.6h.7m-23.3 .5h.7m3.8 10.5h.7m25.5-11.7h.7m-12.1 4h.7m-10.4 10.3h.7m-2.3 2.3h.7m2.8 1.6h.7m6.8-3.6h.7m-11.3-9.8h.7m6.9 1.4h.7m-11.2 9.3h.7m-14.9-11.9h.7m20.5 8.1h.7m-7.3-9h.7m16.7 10.9h.7m-9.7-1.8h.7m3.1-14.2h.7m-20.3 5.9h.7m19.9-0.3h.7m-25.8 9.2h.7m26.1-7.9h.7m-8-13.1h.7m6.7 14.7h.7m5.5 1.9h.7m-4.7-10.1h.7m-21.8 17.8h.7m-2-1h.7m12.9-17.9h.7m-1 10.3h.7m.1-17.8h.7m-13.8 10.9h.7m-2.4-2.8h.7m11.2 7.7h.7m14.2 2.5h.7m-25.9 .2h.7m12.9-5.2h.7m0 0h.7m-8.5 7.1h.7m-24.9-7.1h.7m32.4 14.3h.7m-26.7-11.3h.7m18.1-0.3h.7m-14.4 5.7h.7m6.5-6.9h.7m16.8 9.4h.7m-31-1h.7m6.5-3.9h.7m5.5-10.4h.7m-2.6 7.5h.7m8.7-0.9h.7m-2.8 3.6h.7m2.6-0.4h.7m-2-3.1h.7m-.6 .9h.7m15.8-0.2h.7m-27.6-5.1h.7m11.9 4.3h.7m-4.4-3h.7m8 4.6h.7m-36.9-9.1h.7m19.6 22h.7m11.7-5.2h.7m-5.5-5.4h.7m12.5-5.9h.7m-29.5 7.2h.7m39.2-6h.7m-19.7 9.7h.7m-8.8-6.5h.7m-5.1-1.1h.7m-2.6-13.9h.7m2.5 8.5h.7m6.4 7.5h.7m-10.1-10.2h.7m12.3 6.9h.7m-9.6 7.6h.7m10.2 4.1h.7m-15.3-13.9h.7m9.2-17.8h.7m-10.2 21.6h.7m18.8 4h.7m-12.4-15.3h.7m2.5 19.9h.7m13.9-9.5h.7m-15.9 11.9h.7m-10.2-11.6h.7m5 1.6h.7m-3.6-8.5h.7m10.7 12.4h.7m11.2-3.1h.7m-1.5-6.8h.7m-19.7 9.1h.7m1-7.5h.7m10.2 14.6h.7m-4.7-7.4h.7m-31.6-3.9h.7m14.3-1.3h.7m3.2 14.1h.7m-2.9-12.1h.7m6.9 2.6h.7m3.6-10.5h.7m-17.7 12.5h.7m19.9-4.6h.7m-9.2-6h.7m6.1-1.5h.7m11 14.1h.7m-24.1-7.2h.7m-15 4.3h.7m13.7 .8h.7m3.5 5.6h.7m-4.8-1.3h.7m1.7-12.6h.7m-8.7 1.4h.7m14.8-12.6h.7m8.4 14.4h.7m-7.4 1.8h.7m-17.8-13.2h.7m9.3 11.2h.7m3.1 .1h.7m-15-0.8h.7m8.4 1.7h.7m-8.1-9.2h.7m24 8.2h.7m-8.3 14.7h.7m-7.5-15.4h.7m-22.9-3.1h.7m26.2 1.7h.7m-18.9 12.5h.7m20.2-20.2h.7m2.3 23h.7m-.9-17.3h.7m-12.4 7.7h.7m-10.3 1.6h.7m11.6-11.3h.7m-.1 3.7h.7m-36.1 7.8h.7m23.6-6.4h.7m13.5-10.2h.7m-11.2 14.4h.7m16-11.5h.7m-12.9 11.7h.7m3.6-3.8h.7m-.9-10.4h.7m-.6 16.7h.7m7.6-4.9h.7m-17 6.9h.7m-7.6-7.3h.7m-5.1-5.6h.7m15-8.8h.7m-14.5 13.2h.7m.9-7.7h.7m12.5 4.5h.7m-6.7-12.2h.7m.9 2.4h.7m18.8 13.5h.7m-14.5 1.7h.7m-9.9 12.4h.7m4.6-5.2h.7m-11.5-16.5h.7m11.5 13.7h.7m3.3-8h.7m8.3-11.1h.7m-10.7 16.7h.7m-3.6-9.6h.7m1.3-2.1h.7m-1.6 .6h.7m-7.1 6.7h.7m-16-2.2h.7m13.5-0.1h.7m8.7 2.6h.7m1 4.6h.7m-5-9.1h.7m-4.4 .8h.7m-4.3 4.7h.7m1.5 1.6h.7m-10.5 2h.7m32.8 5.8h.7m-24.3-27.9h.7m3.9 25.5h.7m2.3-5.2h.7m-14.5 5.1h.7m-2.1-14.2h.7m3.2 7.8h.7m6 9h.7m6.7 .7h.7m-14.7-2.2h.7m.5-6.7h.7m-3.9-8.4h.7m10.2 5.7h.7m-1.2-13.5h.7m5.6 11.5h.7m3.6-6.4h.7m-8.1 6.8h.7m-8-0.1h.7m-3.5 5.9h.7m7.2 1.1h.7m-5.1-1.7h.7m4.9 .1h.7m3.9-1h.7m-15.5 9.4h.7m11.6-12.8h.7m-5.6-2h.7m-16.5-3.3h.7m22.8 7.5h.7m-10.2 4.8h.7m-6.5 7h.7m12.1-14.4h.7m2.7 7.9h.7m-20.4-7.6h.7m7.4 7.6h.7m-12.1-14.5h.7m9.6 11.7h.7m4.3 1.3h.7m-1.1-17.5h.7m-2.6 11.4h.7m14.3-5.4h.7m-7.2 7.8h.7m-5.7 1.9h.7m-1-2h.7m-3.5 3.9h.7m-6.5-2.6h.7m-3.5 2.3h.7m6.2-6h.7m6.9 6.7h.7m-12.7-13.6h.7m-14.4 13.6h.7m25.5-9.5h.7m-9.7 2.6h.7m9.1 3.4h.7m-5.5 .6h.7m-13.9 5.2h.7m-.4-10.3h.7m4.9 5.2h.7m-17.8-10.1h.7m41.4-1.9h.7m-26 21.2h.7m.5-12.4h.7" stroke="#999" stroke-opacity="0.3625" stroke-width="0.7" fill="none"/>
<path d="M377 449.9h.7m-5.3-6.3h.7m-10.7 6.9h.7m15.1 6.4h.7m-1.2-18.4h.7m-.3 22.9h.7m4.4-18h.7m-13.2 12.4h.7m1.5-11.2h.7m-6.2 11.1h.7m1.1-8.6h.7m-3.2 5.9h.7m-1.2-0.6h.7m1.3-0.3h.7m3.9 2.2h.7m-7.2-3.1h.7m.7-1.3h.7m-2 9.4h.7m-5.2-10h.7m3.7 2.1h.7m3.4 3.8h.7m3.4-8.1h.7m3.9 2.4h.7m-2.2 2.9h.7m-7.6-0.3h.7m-2.4-1.1h.7m.2-1.9h.7m.6 4.2h.7m-8.4 2.1h.7m11.5-11.9h.7m-4.6 3.5h.7m-2.2 4.2h.7m-5.7 1.7h.7m14.8 3.5h.7m1.6-2h.7m-19.5-5.5h.7m19.3-3h.7m-15.2 7.9h.7m6.5-6.2h.7m-17.8-1.8h.7m12 10.8h.7m5.8-8.8h.7m-8.3 1.5h.7m7.2 3.6h.7m-6.7-14.8h.7m5.4 28.9h.7m6-6.9h.7m-21.3 3h.7m6.7-12h.7m-8.4 1.3h.7m-7.8 5h.7m6-5h.7m9.2 1.2h.7m2.4-4.4h.7m-2.2-2.6h.7m-3.5 12.6h.7m-3.5-4.1h.7m-5.2-2.5h.7m4.9-4.3h.7m-2.8 16.7h.7m-14.1-15.4h.7m22-9.6h.7m-11.5 14.6h.7m-7.3-16.4h.7m13.3 21.2h.7m-2-11.2h.7m9.5 3.5h.7m-17.3 .2h.7m-3.2-1.8h.7m13-6.4h.7m-10.9 11h.7m10-1.4h.7m-5-6.4h.7m-15.7 9.2h.7m2.5-0.5h.7m-1.4-9.5h.7m17.3 5.7h.7m-4.7-9.7h.7m-1.8-6.1h.7m-14 20.8h.7m10.7-5.1h.7m-28.5 7.3h.7m25.4-6h.7m-1.7 .7h.7m7.7 .5h.7m-5 1.1h.7m-11.6 .3h.7m6-10.3h.7m-8.5 9.1h.7m4.7-15h.7m-2.6 14.1h.7m24.8 11.2h.7m-26.7-0.6h.7m.8-3.2h.7m3.7-12.9h.7m12.4 7.7h.7m-21.8-9h.7m15.7 11.1h.7m-3-7h.7m-13.6-2.5h.7m2.6 5.9h.7m16.1 4.1h.7m-29.1-15.1h.7m3.4 7.2h.7m-5.5 2.9h.7m8 .2h.7m5.8-6.3h.7m-8.6 4.3h.7m9.7-3.7h.7m-1.8 9.6h.7m2.4-3.3h.7m-6.7 7.2h.7m-.5-13.4h.7m-4.3-0.4h.7m12.4 5.9h.7m-8 5.6h.7m6.1-5.5h.7m-14.6-3.1h.7m6.1-8.5h.7m-1.8 7.9h.7m-8 3.7h.7m3.5 5.1h.7m-9.6-15h.7m5.3 11.6h.7m21.3-1.1h.7m-15.7 10.8h.7m-11.2-5.9h.7m14.3-16.2h.7m2.5 5.9h.7m5.3 2.1h.7m-10.5-2.8h.7m1.7 1h.7m-6.1-5.3h.7m-8.1 5.6h.7m7.2-2.5h.7m-4.4 3.5h.7m-8-1.4h.7m21.3 4.1h.7m-15.1-0.7h.7m-6-0.3h.7m3.4-1.3h.7m9.2-6.7h.7m-9.3 6.7h.7m-4.4 8.7h.7m14.1-7.6h.7m-15.9 .4h.7m10.6 2.6h.7m-5.9-2.6h.7m-5.3-3.9h.7m11.1 1.9h.7m-3-4h.7m-.3-0.4h.7m-6.2 6h.7m-2.1-2.8h.7m-23.2-3.6h.7m20.6 7.5h.7m-.4 2.5h.7m8.2-4.4h.7m10-2.5h.7m-17.8 14.4h.7m16.9-10.2h.7m-19.3-3.9h.7m8.1 8.7h.7m-.2 3.4h.7m-22.3-16.6h.7m25 1h.7m-21.5 4.9h.7m6.4 5.5h.7m-6.3-10.7h.7m.9 14.5h.7m-4.5-6.2h.7m5.2 8.8h.7m12.8-9.5h.7m-20 2.3h.7m15.6 2.1h.7m-5-7.5h.7m1.5-4.4h.7m-2.7 5h.7m2-7.5h.7m-1.5 1.5h.7m-13.7 7.3h.7m-4 2.8h.7m17.6 3h.7m-4.4 2.8h.7m7.5-12.2h.7m-12.1-4.2h.7m-2.6 16.8h.7m-6.1-7.7h.7m-8-0.1h.7m15.6-9.3h.7m8.1 2.1h.7m-12.9 10.8h.7m6.3-8.5h.7m-.5 11.6h.7m-18.4-13.4h.7m13.1 13.9h.7m-11-15.6h.7m8.8-1.4h.7m2.2 7.4h.7m-6.9-2.3h.7m.8-0.5h.7m7.8 7.8h.7m6.2 1.3h.7m-22.8-11.8h.7m3.7 12.2h.7m-3.4 3.3h.7m-3-0.8h.7m10.7-8.2h.7m-8.8-1.9h.7m12 2.5h.7m-.5 2.1h.7m-10-7.1h.7m-7.6-3.8h.7m7.6 10.1h.7m-1.5 .6h.7m-5.3-1.3h.7m13.3-8.1h.7m-11-2.5h.7m-7.4 7.8h.7m11.5 4.6h.7m-15.9 3.4h.7m18-8.8h.7m-10.2-5.9h.7m11.3 2.2h.7m-10.5 3.5h.7m-12.2 7.1h.7m5.4-14.3h.7m6.2 6.8h.7m-6.7-0.8h.7m1.5 3.9h.7m4.7-1.4h.7m-15.3-3.9h.7m6.4 10.9h.7m-5.1 2.2h.7m7.4-1.8h.7m4-2.4h.7m-6.6 1.7h.7m-7.1-1.8h.7m2.9-2h.7m-.7-10.8h.7m5.8 11h.7m.3 2h.7m-2-6.2h.7m1.7 8.5h.7m-12.3-5.1h.7m-2-6.9h.7m-3.6 12.9h.7m16-11.3h.7m-5.2 7.4h.7m-8.9-8.8h.7m11.1-1h.7m-8.7 10.4h.7m-1.5-6.8h.7m-3.7 1.3h.7m7.4 .5h.7m.4 3.6h.7m-1.5 7.8h.7m-4-11.2h.7m-.4 3.2h.7m0-3.2h.7m-2.5 11.9h.7m-17.1-8.8h.7m14.7-6h.7m-.7 1.6h.7m4.7 13h.7m-5.6-9.1h.7m.4 11h.7m-2-16.9h.7m-3.9 9.8h.7m-6.2-5.8h.7m6.6 1.5h.7m4.4 1.1h.7m.2 3.9h.7m6-6.1h.7m2 3.5h.7m-11.4-6.3h.7m.6 .9h.7m-5.3 6.3h.7m2.9 1.5h.7m-8-4.3h.7m2.8 9.8h.7m3.2-15h.7m3.4-3h.7m-9.9 14.1h.7m.3-3.8h.7m9.5-6.4h.7m-8.9 13h.7m3-10h.7m3.8 15.6h.7m-6.5-24.5h.7m-4 5.7h.7m11 8.5h.7m-12.3 3.4h.7m4.1 1.7h.7m-9.4-12.3h.7m17.9 3.1h.7m-16.3 2.8h.7m14.2 2.3h.7m-14.7-7.8h.7m0 1.9h.7m-8.5-9h.7m.8 16.2h.7m7.9-12h.7m5.1 8.8h.7m-11.8-1.7h.7m3.7 .4h.7m5.9-3.8h.7m-7.4 5.9h.7m-4.6-0.3h.7m4.6-9.6h.7m-2.4 5.4h.7m-2.4 1.6h.7m7.2-6.9h.7m-19.6 7.6h.7m24.1 4.7h.7m-10.3 .8h.7m-10.4-9.1h.7m10.6-16.6h.7m-3.3 22.8h.7m6.5 .1h.7m-2.4-5.1h.7m-7.6 1.2h.7m4.4-4h.7m5.5-1.9h.7m-.6 9.6h.7m-7.8 3.3h.7m-3.6-6.6h.7m-6.3-7h.7m7.5-3.5h.7m1.1 13.4h.7m-4.1-0.1h.7m-16.1 3.8h.7m10.7-9.4h.7m-2.2-1.6h.7m4.1-0.3h.7m-2.8 9.8h.7m.1 4.9h.7m-1.6-16.1h.7m6.2 2.4h.7m-12.2 .8h.7m6.7 6.1h.7m-7.6-8.7h.7m9.5 9.9h.7m-2.9-2.3h.7m-1.8-1.7h.7m4.2 4.3h.7m-2.8-11.1h.7m3.5 .8h.7m-18.4 13.4h.7m9.1-9.3h.7m-6-3.6h.7m13.8 2.3h.7m-6.8-4.2h.7m-6.1 11.1h.7m7.7-9.7h.7m-8 9.8h.7m1.3-0.4h.7m-3.6-5.3h.7m8.8 12.1h.7m-7.9-11.1h.7m8 2.1h.7m-15.3 2.8h.7m5.6-9.6h.7m-7.9-2.9h.7m11.7 9.3h.7m-7.6-6.9h.7m-6.9-2.5h.7m11.9 1.4h.7m0 11h.7m-7 6.2h.7m-5.2-11.1h.7m6-0.6h.7m8.4 2.5h.7m-18.3 2.6h.7m-6-4.5h.7m10.7-3.3h.7m-9.8 7.7h.7m-2.7-7.4h.7m12.5-1.7h.7m.5-0.1h.7m2 .8h.7m-3.8 2.4h.7m1.2 .8h.7m-4.5 3.9h.7m9.1-6.4h.7m-13.4 2.7h.7m-3-2.2h.7m14.4 2.7h.7m-6.6 6.8h.7m-5.8-9.5h.7m.8-7.3h.7m-5.5 15.2h.7m-2.6-2.7h.7m-7.3 .1h.7m-.5-16.6h.7m14.6 7.2h.7m-7 8.6h.7m-2.7-3.1h.7m.6-0.7h.7m7.2 8h.7m5-12.8h.7m-10.8 3.4h.7m-7 4.5h.7m1.9-6.6h.7m1.4 .8h.7m5.7 3h.7m-4.5-2.8h.7m3.7 2.7h.7m-15 7.8h.7m10.7-13.9h.7m9 3.7h.7m-9.8-0.1h.7m-5.6 2h.7m3.6 4.5h.7m3.8 7.1h.7m-5.2-1.6h.7m4.4 7.5h.7m-18.7-24.9h.7m12.1 5.1h.7m-1 19.1h.7m.3-13.6h.7m-3.6 .6h.7m-1.4-2.7h.7m2.6-1.5h.7m-11.6 11.2h.7m3.9-7.8h.7m1.4-4.2h.7m3.4 4.1h.7m-3.4-0.7h.7m-5.3 3.7h.7m10.3-0.3h.7m-4.9-1.3h.7m-1.8-2.8h.7m1.7 2.7h.7m-2.8-2.4h.7m6.7-6h.7m-10.2 7.1h.7m-6.5-9.3h.7m8.9 9h.7m.1-4.8h.7m1.3 14.2h.7m-2.2-6.2h.7m-5.5-5.4h.7m10.6-0.2h.7m-15.4 7.8h.7m-1.1-11.1h.7m8.6 14.4h.7m-10.2-0.5h.7m12.2-4.3h.7m-14.9-6.4h.7m6.7 6.5h.7m-.8-5.7h.7m-5.2-9.1h.7m-9.7 5.2h.7m13.4 12.3h.7m-.7-7.8h.7m-2.6-2.1h.7m-4 11.1h.7m-6.2-4.7h.7m3.6 1.1h.7m-8.5-2.2h.7m23.4-9.8h.7m-14.8 7.1h.7m10-8.7h.7m-9.9 15.5h.7m10.4-11.4h.7m-15 18h.7m-1.5-20.9h.7m-1.2 1h.7m5.3 12.7h.7m-7.4-17.3h.7m-4.3 10.1h.7m19.2 2.2h.7m-1.8 14.7h.7m-14.3-13.9h.7m10 .4h.7m-22.8-3h.7m16.7-0.6h.7m11.4-3.3h.7m-.8 7.1h.7m-8.9-4.9h.7m1.8 .6h.7m-6.7-9h.7m8 14.3h.7m-13.7-3.5h.7m-14.2-1.8h.7m22.9 2.2h.7m-7.3 7.6h.7m-1.3-24h.7m3.3 21.1h.7m-.3-7.9h.7m-14.5 .1h.7m9.3 5.5h.7m-6.3 1.6h.7m2.1-12.7h.7m9.1 15.5h.7m-9-11.6h.7m-4.4 12.9h.7m4.2-9.6h.7m-2.4 18.9h.7m.7-25.4h.7m4.7 8.7h.7m-6.4 7.8h.7m-3.6-13.4h.7m.6 6.6h.7m-6.2-16h.7m16 3.1h.7m-6.1 1.8h.7m-17.7 6.5h.7m11.2-7.3h.7m8.6 11.2h.7m-20.3-4.2h.7m7.8-15.3h.7m14.1 21h.7m-10.2 3.4h.7m1.9-2.5h.7m-12.7 .1h.7m16.7-7.4h.7m-7.6 .4h.7m4.9 2.8h.7m-16.7 .7h.7m2.2 3.8h.7m-3.3 6.7h.7m8.1-4.3h.7m-9.7-9h.7m6.3-13.5h.7m9.1 4.8h.7m-5.3 11.9h.7m-10.7-8.8h.7m7.1 18.7h.7m-10.8-14.2h.7m11.4 .9h.7m-14.2 4.1h.7m12.3-6.3h.7m1.1 2.7h.7m-16.4 9.1h.7m14.8-0.7h.7m2 4h.7m.8-1.8h.7m-1.5-1.1h.7m-5.8-18.7h.7m-.5 9.9h.7m-9.8-4h.7m16.7 3.9h.7m-12.9 2.9h.7m5.4 1.4h.7m-3.1 .2h.7m-4.9 3.3h.7m-8.4-2.3h.7m11.3 3.7h.7m-4.1-16.2h.7m-8.2 1.8h.7m16.5 7.3h.7m-8.8 2.8h.7m-6.3-13.6h.7m-1.2-2.5h.7m11.9 17.4h.7m-12.5-7.3h.7m-.5 5.8h.7m-11.4 1.3h.7m10.9-2.5h.7m-3.2-7.6h.7m9.8 10.2h.7m2.2-7.6h.7m-2.5 7.3h.7m-18.6-13.9h.7m12 11.7h.7m7-3.1h.7m-12.2-1.9h.7m-.3 6.1h.7m.1-1.8h.7m-10.2-1.5h.7m6.5 1.5h.7m.8-7.3h.7m2 7.1h.7m-1.6-8.3h.7m-1.1-0.5h.7m-3.6 7.3h.7m15.3 1.2h.7m-5.2-6.6h.7m-4.2-1.4h.7m-4.3-0.7h.7m7.8 3.9h.7m-16.3-0.9h.7m10.3 13.9h.7m-.9-17.6h.7m-6.8 6.3h.7m-11.7 7.7h.7m.7-4.9h.7m18.5-1.4h.7m-17.1 8.7h.7m11.8-1.5h.7m-6.8 .1h.7m-2.4-10h.7m4.4 7.2h.7m6.1-0.4h.7m-4.4-7.8h.7m2.9 9.2h.7m-16.6-3.8h.7m2.3-4.7h.7m11.5 4.1h.7m-8.9 .8h.7m-2.8-1.2h.7m-8.8-1.4h.7m6.4-10.2h.7m-1.2 9.5h.7m6.5 1h.7m-5.1-11.4h.7m-12 15.5h.7m-2.1-4.4h.7m20.1 4.7h.7m-17.6-2.1h.7m-1.6-3.6h.7m.6-9.6h.7m4.2 9h.7m5.5-5.4h.7m-3.3 2.9h.7m-4.9 1.2h.7m.6 .5h.7m-3.1 5.8h.7m3 .6h.7m-3.6-2.7h.7m4.7-7.1h.7m-8.6 2.9h.7m3.7 6.1h.7m3.8 7.9h.7m-8.8-14.5h.7m2.3-0.2h.7m6.2 .2h.7m-6 3.1h.7m-1.2 4.9h.7m0-8.3h.7m1.5 1h.7m-19.6 .1h.7m19.3 12.5h.7m-4.1-9.4h.7m13.2 6.8h.7m-23.6 0h.7m18.2-7h.7m-10.3 2.3h.7m-2-3.4h.7m2.4-0.3h.7m-1.7-6.3h.7m-9.3 3.3h.7m10.5 1.2h.7m.5 7.7h.7m-11.7-6.8h.7m11.5-3.2h.7m-4.7 7.9h.7m2.5-5.8h.7m-1.3 1.4h.7m-3.5-3.4h.7m10.8 10.5h.7m-13-7.4h.7m-10.7 4.3h.7m14.9-8.2h.7m-17.5 3.2h.7m10.9-15.3h.7m-3.1 22.1h.7m-14 9.3h.7m3-24.4h.7m25.4 21.7h.7m-20.6-2.5h.7m-11.3-2h.7m8-7.3h.7m3.2-0.8h.7m8.2 10.3h.7m-17.9-10.5h.7m10.2-4.9h.7m-.9 3.7h.7m-2.1 5.4h.7m8.3-2.3h.7m-9.4-0.4h.7m-13.7 1.7h.7m12.9 11.4h.7m-5-9.4h.7m2.5 .4h.7m4.3-8.9h.7m-20 3.2h.7m15.3 9.3h.7m.8-3.4h.7m-9.9 .6h.7m-6.4-4.9h.7m21.7-7.3h.7m-3.5 7h.7m-17.4-0.6h.7m5.1 12.7h.7m-1.4-16.8h.7m3 2.5h.7m-7.1 15h.7m11.9-12.7h.7m-3.9-1.8h.7m4.6 8.5h.7m-7.3-9.1h.7m10.7 3.6h.7m-19-1.5h.7m11.7 5.6h.7m-1.2-5.7h.7m-5.7 3.4h.7m2.7-8h.7" stroke="#777" stroke-opacity="0.5075" stroke-width="0.7" fill="none"/>
<path d="M368.1,446.6 L373.1,443.8 L381.2,443.5 L381.5,452.2 L379.4,459.1 L376.2,457.9 L371.2,453.5 L367.5,450.4Z" fill="#737373" fill-opacity="1.0" filter="url(#blur9)"/>
<path d="M369 449.6h.7m.4-1.1h.7m2 1.2h.7m-3.6 2.3h.7m2.7-3.8h.7m-.5 1.9h.7m-.8 8.8h.7m2.5-9.2h.7m-1.8 5.7h.7m2.9-4.8h.7m-.1 6.3h.7m-3.6-2.6h.7m1.6 .2h.7m-8.9-7.1h.7m-1.1-2.4h.7m2.7-0.8h.7m.2 2.8h.7m3.6 5.9h.7m-6.7-6.5h.7m1.6 .8h.7m-4.6 5h.7m-2.1-3h.7m5.6 .7h.7m2.2-1h.7m.6 7.7h.7m-5.8-3.7h.7m-1.5 1.5h.7m2.1-1h.7m-6.9 .7h.7m-2-4.4h.7m7.7 2.7h.7m1 3.9h.7m-2.7-2.7h.7m-.6-2.3h.7m-5.2 .6h.7m-4.5-1.4h.7m9.8 5.2h.7m-6.9 2.4h.7m7.8-9.1h.7m-4.3 1.6h.7m-3.1 4.1h.7m-.2-0.5h.7m1.9-7.8h.7m.1 9.8h.7m-3.6-6h.7m-7.5-0.5h.7m5.7 6.4h.7m-.3-1.9h.7m0 5.6h.7m-2.8-10.7h.7m2.5 4.2h.7m-3.1-6.4h.7m-1.9 1.1h.7m-.4 .2h.7m-.4 6.6h.7m-1.7-1.1h.7m-4-7.4h.7m-.4-0.5h.7m4.1 3.8h.7m1.4 .5h.7m-7.9 2.7h.7m3.9-10.2h.7m4.9 2.6h.7m-1.7 12h.7m-4.7-10h.7m1.7 2.5h.7m-4.9-2.2h.7m-7.7 5.6h.7m3-8.3h.7m7.2 13.1h.7m-5.9-7.8h.7m-2.6-6.7h.7m3.1 12.4h.7m.3 .7h.7m-4.9-2h.7m4.8 4.2h.7m-2.9-15.4h.7m1.4 7h.7m-1.8 4.1h.7m-4.1-2.9h.7m2.1-6.5h.7m-5.8 4.1h.7m7.1-0.8h.7m-6.3-6.1h.7m2.3 9.9h.7m-.6 5.9h.7m-5.1-1.8h.7m2.6 .3h.7m1.2-8.9h.7m-3.1-1.3h.7m2 7.8h.7m3.7 1.5h.7m-7.3-11.7h.7m-5.9 6.2h.7m.3 .8h.7m2.8-0.1h.7m-4.4 .3h.7m.5-4.2h.7m6-2.9h.7m-5.5 2.8h.7m-1.6 5.5h.7m-2.7-1.7h.7m2-6.2h.7m6.5-2h.7m-3.1 6.1h.7m-2.7 .5h.7m1.3 2.8h.7m-11.9-1.7h.7m11.8 .5h.7m-1 1.9h.7m-9.7-7h.7m-1.4-1.4h.7m1.4 8.1h.7m-2.6-4.8h.7m7.3 5.7h.7m-5.1-6h.7m-1.5 10.7h.7m3.2-3.2h.7m-3.7 3.2h.7m-5.5-12.6h.7m8.4 6.4h.7m-10.2-4.7h.7m-1.7 3.4h.7m10.6 1.5h.7m-10.3-2.1h.7m9.3 4.5h.7m-3.6-1.2h.7m-2.7 .8h.7m1.2-6.3h.7m-3.5 6.1h.7m-2.4-5.8h.7m5.5-1.8h.7m-1-1.9h.7m-6.6 7h.7m1.8 1h.7m-5.9-4.6h.7m1.8 2h.7m-6.2-2h.7m5.7-2.5h.7m6.9 7h.7m-14.2-2.6h.7m8.1-1.1h.7m-7.9 2.1h.7m3.4 .5h.7m-.2 3.4h.7m-3.3-1.6h.7m7.4-6.3h.7m-5.6 4.2h.7m4.8-3.4h.7m-4.3 .3h.7m-4.4-1.2h.7m-2.5 6.8h.7m1.6-0.3h.7m4.8-3h.7m-8.7-3.1h.7m9.2 7.7h.7m-12.4-10.2h.7m-2.1 1.4h.7m2.2 5.4h.7m.9-7.2h.7m2.7 6.1h.7m-9.1-3.8h.7m4.2 5.5h.7m8.8 4.2h.7m-9.4-7.1h.7m1.9-1.4h.7m-4.3-2.3h.7m3.2 .5h.7m-3.7 .2h.7m5.2 4.5h.7m.6-4.4h.7m-3.1 14.7h.7m-.5-2.9h.7m-8.6-2.2h.7m4.5-12h.7m-3.1 4.5h.7m6.5 12h.7m-8-8.7h.7m-.2 1.8h.7m5-6.8h.7m-7.6 4.3h.7m-.7-3.3h.7m7.2 5.2h.7m-3.7 .8h.7m-4.9-2.6h.7m7.2 1.3h.7m-11.4-8.2h.7m.6 4.9h.7m6.1-2.5h.7m-1.7 1h.7m-4.6-1.4h.7m7.9 0h.7m-.8 6h.7m-16.3-0.9h.7m6.2-3.4h.7m-.9-3.2h.7m3 10.9h.7m2.5-2.9h.7m.6-6.9h.7m-13.2 2.8h.7m-1 .9h.7m7 5.1h.7m1.2-5.4h.7m1.8 6.7h.7m-3.2-0.6h.7m-4.1-5h.7m-3.1 3.4h.7m1.8-8h.7m-1.8-1.4h.7m-2.2 0h.7m-4.7 6.1h.7m3.4 .2h.7m4.1-5.1h.7m-.1 7.4h.7m.8-4.4h.7m-4.3 5.4h.7m2.3-6.9h.7m-5.8-0.1h.7m-3.6 .5h.7m5.1-3.2h.7m6.8 7.2h.7m-7.2 1h.7m-1-0.8h.7m-10-2.3h.7m12.1 7.3h.7m-8.1-11.2h.7m-4 6.3h.7m1.8 1.8h.7m9.1-2.6h.7m-6.6 4.1h.7m-7.8-3.1h.7m8.4 7.3h.7m-3.8-7.6h.7m-.5-5.1h.7m.2 3.2h.7m2.4 8.6h.7m-7.4-8.2h.7m4.1 .3h.7m4.5-0.3h.7m-5.7 4.5h.7m-5.4-10.5h.7m2 4.5h.7m-1.7 1.8h.7m-2.5 1.9h.7m3.6 6h.7m1.5-2.4h.7m-2.5-6.9h.7m0-0.5h.7m-1.6-0.7h.7m-6.9 6h.7m9-7.5h.7m.4 2.7h.7m-3.1 2.7h.7m-3.6 5.7h.7m-.5-3.5h.7m-3 0h.7m4.2-7.6h.7m-4.8 4.3h.7m2 4.6h.7m-3.3-2.9h.7m-.1 5.8h.7m-3.3-13h.7m.4 2.7h.7m-4.1 1.1h.7m5.5-1.2h.7m-1.7 7.6h.7m-3.9-0.1h.7m-.6-5.6h.7m-3.5-0.3h.7m-.4 1.2h.7m7.7-4.3h.7m-8.2 4.5h.7m8.2 .1h.7m.2 7.3h.7m-3.9-6.8h.7m-.3-5.5h.7m-2.3 15.2h.7m-9.8-10.8h.7m10.9 2.4h.7m-8.4-1h.7m6.6-0.1h.7m-1.4 1.4h.7m-.2 .2h.7m-8.5-2.6h.7m6.9 2.2h.7m-2-3.6h.7m1.8 1.3h.7m-7.8-4.6h.7m-2.6 9.3h.7m8.1-11.5h.7m-6.7 7.9h.7m3.4-1.6h.7m-5.7 2.1h.7m-1.9-0.2h.7m-6.4-1.3h.7m12.9 1.9h.7m-9.1-3.2h.7m2.9-1.2h.7m5.6 4.3h.7m-3-0.3h.7m-3.8-4.9h.7m5.1-1h.7m-10.9 7.5h.7m1-1.2h.7m6.1 3.1h.7m-4.7-1.8h.7m-4.5-6.2h.7m5.2 9.1h.7m-.7 0h.7m-5.3-5.3h.7m-.4 2.6h.7m1.6 1.3h.7m5.1-10.2h.7m-1.4 4.2h.7m-1.9 9.6h.7m-9-10.3h.7m-3.7 2.1h.7m7.2-5.8h.7m3.3-2h.7m-10.4 12.5h.7m3.8-4h.7m5.3 7.4h.7m-3.5-9.8h.7m-1.7 8.6h.7m-6.8-5.9h.7m8.1-3.6h.7m-3.8 4h.7m-3.7-5.8h.7m3 7.3h.7m-1.3-4.6h.7m-7.8-0.2h.7m2.5 3.9h.7m5.7-0.1h.7m-9.9-1.2h.7m1.1 3h.7m2.2-4.6h.7m1.5-0.9h.7m-1.6 7.9h.7m2.2-8.1h.7m1.1 8.7h.7m-3-15.2h.7m-4.9 13.2h.7m6.8-8.7h.7m-7.6-0.9h.7m1.1 9.3h.7m-5.5-10.5h.7m7.2 9.5h.7m-.3 1.2h.7m-3.1-9.2h.7m-1.4 .4h.7" stroke="#737373" stroke-opacity="0.6525" stroke-width="0.7" fill="none"/>
<path d="M341.7 480.5h.7m8.6-0.4h.7m.5-6.5h.7m-5.2 4.4h.7m-1.1 .6h.7m-6.4 9.5h.7m-2.2-4.8h.7m3.8-3.9h.7m2 1.1h.7m-10.8 11.7h.7m3.2-10h.7m3.5 3h.7m3.1-7.5h.7m-6.8 3.4h.7m-6.6 .6h.7m6.5-1.8h.7m-4.7 9.1h.7m-1.5-7.6h.7m6.9 2h.7m10.7-8.5h.7m-1.9 1.6h.7m-22.6 6.8h.7m23.9-3.8h.7m-26.5 5h.7m5.3-5.6h.7m-1.4 1.9h.7m12.4-0.9h.7m-13-0.2h.7m10 2.9h.7m-11.6-3.8h.7m1-0.9h.7m-2.3 6h.7m3.5 4.2h.7m-3.4 1.6h.7m16.9-7.1h.7m-6.3-5.4h.7m-2.6 4.9h.7m5.7-10.9h.7m-16.3 8.7h.7m-2 11.4h.7m-2.5-5.7h.7m-5.7-0.1h.7m7-2.9h.7m3.3 .1h.7m-9.3 1.6h.7m5.8-7.9h.7m2.2 12.9h.7m-7.8-6h.7m-4.5-0.2h.7m7.8-3.6h.7m-2.9 0h.7m-4.5 4.2h.7m-5.2 2.2h.7m18.8-10.5h.7m-4.8 4.9h.7m-9.9-1.3h.7m-.1 10.5h.7m8.1-4.7h.7m-10.4-3.6h.7m5.2 .7h.7m-16.8 5h.7m14.2-8.7h.7m5.4 6.6h.7m.3-3.2h.7m-6.2-4h.7m1.9 1.4h.7m-3.5 1.9h.7m-2.8-1.5h.7m-3.4-0.3h.7m-10.7 3.2h.7m4.3-3.3h.7m10.2 6.1h.7m-16.5 .6h.7m18-11.6h.7m-2 3.6h.7m-13.5 6.3h.7m13.1-2.5h.7m-7.8 4.2h.7m11.1-5.7h.7m-14.2 7.4h.7m10.6-4.8h.7m-17.1 2.8h.7m-.2-2.3h.7m-5.4 9.8h.7m13.3-9.4h.7m-10.1 .6h.7m16.4-3.8h.7m-19.8 6h.7m14.2-3h.7m-1.5-1.8h.7m-11.4-3.8h.7m5.5 5.9h.7m12.7-9.7h.7m-16.4 11h.7m9.2-1.5h.7m-2.2-1.7h.7m-4.4 .2h.7m-15.8 1.6h.7m7.9-3.4h.7m4-3.9h.7m6.1 6h.7m-12.2 4h.7m-9.4-2.6h.7m1.8 3.7h.7m10.1-3.4h.7m-6.8-0.2h.7m7.8-8h.7m-.1 7.1h.7m-6.6-0.3h.7m-6.5 8.1h.7m7.8-7.5h.7m.9-3.3h.7m-1.2 7.4h.7m2.3-6.2h.7m-9.7 1h.7m8-2.4h.7m-.4 1.2h.7m-5.4 2.5h.7m-1.3-2.5h.7m-4.3 1.8h.7m.2-2.5h.7m-3.2 .6h.7m13.1-0.5h.7m-7.9 .2h.7m-9.1 4.7h.7m5.6-3.8h.7m8.6-5.1h.7m1.3 1.5h.7m-2.2 2.6h.7m-16 8.2h.7m11.2-7.5h.7m-15-0.2h.7m20.8-1.8h.7m-1.3-6.1h.7m-19.9 12.9h.7m7.1-10.6h.7m-8 13.8h.7m8.3-5.8h.7m-6.2 1.8h.7m-3.3 .5h.7m11.5-7.1h.7m-5.1 4.7h.7m5.2 .8h.7m-4.5-1.8h.7m-11.8-0.1h.7m3.4 5h.7m10.4-3.9h.7m-1.3-3.8h.7m-9.1 8.4h.7m15.5-6.2h.7m-11.3 .1h.7m5.1-6.9h.7m-5.9 9.6h.7m2.6-8.2h.7m-12 7.6h.7m1-6.4h.7m-10.7 3.4h.7m12.7 2.2h.7m-12.9-6.6h.7m12.3 7h.7m-4.9 5.8h.7m-5.4-4h.7m2.7-3.4h.7m-2.3-1.8h.7m-4.4 1.8h.7m18.5 .6h.7m-18.1 2h.7m13.1-5h.7m1.8 4.6h.7m-4.8-3.5h.7m-9.9 1.4h.7m-3.6-2.3h.7m-2.4 7.4h.7m-2.1-6.6h.7m.2 4.4h.7m3.7-2.3h.7m5.1 2.5h.7m4.5 .6h.7m-14.5 4.5h.7m11.8-9.5h.7m-13.5 .3h.7m20.8-9.1h.7m-4.9 14.9h.7m3-5.4h.7m-12.5-0.6h.7m-7.7 6.6h.7m-6.5-4.7h.7m11.5 1.4h.7m-13-1.3h.7m13.4-5.4h.7m.1 3h.7m-10.4 3.3h.7m13.1-0.1h.7m-8.4-2.3h.7m2.5 6.3h.7m-.3-6.3h.7m-10.3 2.4h.7m3.2-5.3h.7m-5.8 5.7h.7m10 0h.7m-10.6-2.5h.7m13.5-2.5h.7m-2.6 .2h.7m-10.8 6.9h.7m3.7 1.4h.7m-2.6-6.8h.7m9.6 .2h.7m-6.4 1h.7m-3.9-5h.7m14.6 4.2h.7m-15.6-0.2h.7m.4 1.6h.7m-3.2-3.5h.7m3.4 4.7h.7m-12.5-4.6h.7m18 3.5h.7m-16.2 5.9h.7m-5.2-3.9h.7m14.4-7.9h.7m3.4 7.5h.7m-9.8-3.4h.7m-6.1 .7h.7m-7.9 11.6h.7m16.4-15.3h.7m-11.9 4.3h.7m8-1h.7m-6.4 2.1h.7m7.4-6.2h.7m-8.3 12.2h.7m3.2-12.8h.7m-5.2 4.4h.7m1 2.5h.7m-4.6 1.3h.7m12.1-7.1h.7m-21 4.6h.7m16.9-1.9h.7m-12.4 .7h.7m4 2.3h.7m7.4-6.6h.7m-15.5 6.4h.7m15.9 .7h.7m-11 .2h.7m8.8 .2h.7m-.8 .2h.7m.4-1.4h.7m-10.6-0.2h.7m3.8-1.1h.7m-7.9-1.3h.7m7 8.4h.7m-4.3-0.5h.7m3.9-13.8h.7m15.5 7.3h.7m-15-3.8h.7m-13.9 2.5h.7m6.4 .6h.7m-1.7-0.8h.7m-9 2.3h.7m1.1-2.5h.7m12.3 7.6h.7m-14-0.7h.7m23.1-3.6h.7m-27.2 2.3h.7m9-4.5h.7m11.7-1.5h.7m-11.3-7.8h.7m3.5 3.8h.7m-19.9 4.5h.7m10.6 1h.7m-5.4 9.9h.7m2.8-6.4h.7m5.5-0.3h.7m-7.7 2.8h.7m10.5-6.2h.7m-13.8 1.9h.7m5.2-7.4h.7m-3.4 5.7h.7m-4.1 .7h.7m-1.6 1.4h.7m4 2.1h.7m11-8.1h.7m-16.8 9.4h.7m10.1-3.7h.7m-17.9 5.6h.7m17-9.5h.7m-7.8 11.7h.7m.1-7.4h.7m4.1-3h.7m-2.1 7.3h.7m2.2-1.9h.7m-4.9-1.5h.7m1.1-2.1h.7m-11.4 2h.7m5.8-0.6h.7m.5 2.3h.7m-9.3-2.1h.7m12.8 1.9h.7m-2.9-5.3h.7m-8.7 5.6h.7m6.1-0.9h.7m1.7-3.8h.7m-5.9 4.4h.7m5.9-2.4h.7m-1-4.3h.7m-12.4 3.2h.7m13-1h.7m4.2 3.4h.7m-14.6 5h.7m6.2-11h.7m-16 7.9h.7m-3.1 4h.7m13.5-7.4h.7m-6.7 5.5h.7m10.5-8.7h.7m4.9-2.6h.7m-13.8 4.6h.7m-2.9 .9h.7m7.8-1.1h.7m-2.7-9h.7m.2 5.2h.7m-9.7 5.7h.7m8.4-3.4h.7m-1.2 7.3h.7m-12.7-2.4h.7m4.8-3.1h.7m9.7 .5h.7m-9.4 6.2h.7m-11.2-8.4h.7m15.7 .2h.7m.6-0.5h.7m-9.2 3.1h.7m2.6 3.2h.7m1.4-3.3h.7m-8.6 3.3h.7m7.2-1.4h.7m5.7-6.3h.7m-5.3-1.4h.7m-4.2 4.4h.7m-3.9 1.2h.7m16.6-5.8h.7m-27.1 7.1h.7m10.2-2.1h.7m-4.3 2.4h.7m-1.7 1h.7m4.3 .8h.7m-1.9-2.4h.7m10.2-4.6h.7m.9-0.2h.7m-3.3 1.3h.7m-4.7 1.1h.7m-7.3 2.8h.7m-.6 2.2h.7m11.8-8.7h.7m-6.1 6.2h.7m-18.7-2.9h.7m9.9 4.2h.7m-6.4 2.9h.7m7.8-8.7h.7m6.7 4.5h.7m.7-3h.7m-10 2.2h.7m.1-0.2h.7m-1.9 1.7h.7m-11.2-2.8h.7m7.3 2h.7m.6-4.8h.7m2.7 1.1h.7m1.6 3.1h.7m-6.6-5.6h.7m5.4 6.4h.7m-14.5 3h.7m9.4-7.5h.7m-1.9 1h.7m11.7-3.2h.7m-16.2 5.8h.7m12.3 1.7h.7m-8.7 4h.7m-.7-7.7h.7m0-1.4h.7m2.9-0.8h.7m-15.7 6.4h.7m-3.8 .4h.7m21.1-3.6h.7m-2.8 4.3h.7m-.3-9.5h.7m-9.7 6.6h.7m8.1-10.4h.7m-20.6 10.9h.7m-2.5 .4h.7m-2.9-2.2h.7m24.7 .7h.7m-8.7-3.3h.7m2.2 2h.7m-7.3 1.7h.7m-3.5 2.2h.7m8-6h.7m-11.7-0.7h.7m7.5 8.2h.7m-.7-4.9h.7m9.6-4.2h.7m-2.2 7.2h.7m-8.5-8.7h.7m.7 6.3h.7m-16.4-2.9h.7m18.7 2.4h.7m-3.3 .8h.7m-.9-5h.7m-5.6 1.5h.7m.2 3h.7m5.1-0.8h.7m-6.7 1.9h.7m-4.5-0.6h.7m4.9-1.3h.7m-1 1.2h.7m-4.4 2.7h.7m-5.3 6.1h.7m14.4-11.6h.7m-18.8 7.6h.7m19-8.7h.7m-9.3 1.9h.7m.7 7.5h.7m-4.1-6.2h.7m.5 6.3h.7m-4.9-2.1h.7m3.4 .5h.7m-5.3-6.7h.7m8.4-3.5h.7m-14 14.6h.7m3.7-8.5h.7m-.2-0.6h.7m15.1-3h.7m-8.2 2.4h.7m-3.7-4.8h.7m8.3 8h.7m-14.4-1.6h.7m-2.1 3.8h.7m11.3-0.1h.7m-8.5-2.4h.7m6.2-6.7h.7m9 2.9h.7m-14.3 .2h.7m4.6 .3h.7m-7.9 1.9h.7m-1.4-0.1h.7m1.4-4.5h.7m7.4-4.5h.7m-7.5 9.6h.7m5.9-6.2h.7m-9.8 6.6h.7m-4.9-2.5h.7m.2 .6h.7m6.1 3.2h.7m-6.7-7.3h.7m-3 3.9h.7m6.2 .7h.7m-3.5 .8h.7m7.3-5.2h.7m-12.3 4.5h.7m12.8-8.2h.7m-1.5 11.2h.7m-1.6-8.3h.7m-2.3 5.2h.7m4-7.2h.7m-9.9 4.6h.7m-5.7 .8h.7m-8 1.5h.7m16.2-4.6h.7m1 4.6h.7m-5.3-2.2h.7m-4.8-2.3h.7m5.9 6.5h.7m-2.4-0.3h.7m-10.1 .4h.7m14.5-3.4h.7m-10 1.8h.7m-2.4-3.3h.7m4.5 4.5h.7m7.5-3.8h.7m-15.6 3.2h.7m2.3 .7h.7m-2.9-0.7h.7m-4.7-2.2h.7m-5.1 6.5h.7m14.1-9.3h.7m-9.7 .3h.7m8.2 6h.7m5.8-7.7h.7m-9.7 4.8h.7m-.5 4.1h.7m-6.6-2.3h.7m5-0.4h.7m-10.3-1.8h.7m-3.3 .4h.7m3.7-1.8h.7m6.3 3.2h.7m-4.3-1.8h.7m.4-0.8h.7m-3.3 3.9h.7m-3-4.8h.7m10.4 2.9h.7m1.7 1.2h.7m.2-0.8h.7m-2.1 2h.7m-7.3-2.7h.7m-18.3 2h.7m16.2-1.8h.7m6-3.6h.7m-17.4 2h.7m-.9 7h.7m11.1-6.9h.7m-4.4 4.2h.7m-.7 1.3h.7m6.4-14.5h.7m-4.5 6.5h.7m-4.1 2.4h.7m-1.7 3h.7m-1.5-3.3h.7m10 1.3h.7m-6.2 .7h.7m6.6-3.8h.7m-20.3 6.8h.7m14.6-8.9h.7m-4.8 2h.7m.6 4.8h.7m2.7-6.6h.7m-11.1 7.5h.7m4.8-0.9h.7m-.9-4.1h.7m3.5-2.7h.7m-2.4 8.1h.7m-.8 1.3h.7m-10.9 5.3h.7m7.1-7.3h.7m.5 .9h.7m1.3-7.4h.7m-14.4 5.6h.7m14.4-0.3h.7m1.8-4.7h.7m-2.5 3.4h.7m-1.4 4.2h.7m-2.5-5.2h.7m-4.1 1.5h.7m-9.4 1.7h.7m6.8 .7h.7m3.9-0.5h.7m-6.1 .6h.7m6.6-6.2h.7m-.8-0.6h.7m-13.2 10.3h.7m14 0h.7m6.1-5.6h.7m-16.3 8.7h.7m5.5-11.8h.7m3 2.5h.7m-16.4-3.3h.7m11.5 6.6h.7m2.3-3.2h.7m-11-1.3h.7m5.8-2.7h.7m-1.4 1.6h.7m4 2.1h.7m-12.4 .9h.7m8.3-2.6h.7m7.3-3.8h.7m-21.9 9.2h.7m13.4-4.2h.7m6.9-2.6h.7m-9.9-2.2h.7m2.3 8.2h.7m-3.2-7.2h.7m-8.5 6.3h.7m-5.5 1.7h.7m2.6-2.6h.7m4.9-2h.7m3.3 3.8h.7m-8.8-5.1h.7m11.1 4.6h.7m-2.1-9.1h.7m-10.2 5.7h.7m1.9 2.9h.7m-13.6 7.3h.7m14.9 .5h.7m-2.9-15h.7m12.8-0.7h.7m-16.9 9h.7m12.3-1.5h.7m-4.7-1.9h.7m-.9 6.1h.7m-.2-5.2h.7m-.8-3.8h.7m-6.9-0.8h.7m5.8 .3h.7m-19.2 9.3h.7m13.2-4.3h.7m-3-10.4h.7m10.4 6.5h.7m-6.5 1.7h.7m-7.1 .6h.7m-2.1 1.3h.7m-3-4.9h.7m12.1 3.7h.7" stroke="#7a7a7a" stroke-opacity="0.6525" stroke-width="0.7" fill="none"/>
<path d="M339.4 483.7h.7m19.6 1.6h.7m23.9-19.9h.7m-21.8 25.2h.7m-5.9-1.8h.7m5.6-20.3h.7m3.7 3.3h.7m19.5-5.3h.7m-25.5 20.8h.7m2.1-16.6h.7m-11.2 19.4h.7m20-7.1h.7m-12.8-12.5h.7m-2 14h.7m14.9-13.1h.7m-11.3 2.4h.7m5.6-0.7h.7m-.8 12.2h.7m-5.7-6.5h.7m-4.4 .5h.7m1.6-5.1h.7m4-6.5h.7m-23.7 10.4h.7m11.2-8.4h.7m-2.9-2.8h.7m-3.3 15h.7m-2.8-5.7h.7m22-26.3h.7m-6.4 33.8h.7m-10.5-5.8h.7m9.4 3.8h.7m9.3-4.2h.7m-28.8 25.3h.7m-.3-16.8h.7m-4-21.5h.7m22.3 10.4h.7m-7.6 .3h.7m-12.8-5h.7m-8.7-3.7h.7m16.6 23h.7m10.8-9.7h.7m-16.7 15.8h.7m-6.2 6.2h.7m5.1-7.3h.7m7.6-14.1h.7m10-10.3h.7m-17.1 20.2h.7m1.5-6.6h.7m-10.4 4h.7m13.2-6.6h.7m-8.7-5.1h.7m5.9-8.7h.7m-.2 28.7h.7m2.3 .2h.7m3.6-13.8h.7m-21-4.2h.7m1.3 2.5h.7m21.5-4.3h.7m-15.9 7.7h.7m7.5-13.7h.7m-10 27.8h.7m5.3-22.6h.7m1.5-2.5h.7m-17.5 14.1h.7m5.2-11.8h.7m-7.2 22.2h.7m15.8-41.6h.7m-7.9 24.2h.7m-1.4 7.7h.7m2.3 6.6h.7m15.7-23.7h.7m-20.2-2.7h.7m15.2 7.5h.7m-6.3 4.3h.7m-8.3-0.7h.7m-.5-7.2h.7m-8.4-0.5h.7m8.2 1.9h.7m-14.9 17.7h.7m27.4 3.3h.7m-8.1-17.4h.7m-9.5 3.6h.7m-5.2-15.8h.7m2.6 2.5h.7m-10.9 14.8h.7m7.6-2.1h.7m11.4-10h.7m-28.2 35.5h.7m32-22.5h.7m3.3-6.2h.7m-18.4-5.4h.7m12.6-8.8h.7m-13.5 6.6h.7m-.9-6.6h.7m3.1-1.5h.7m-2.4 19.5h.7m-22 5h.7m21.1-3.1h.7m5.1-14.3h.7m-16.9 11.2h.7m-.8 5.9h.7m-.8 .5h.7m37.2-2.6h.7m-37.1-6.8h.7m.1 9.7h.7m-7.1-12.2h.7m12.3-0.7h.7m3.1 16.3h.7m2.7-11.9h.7m-1.7 14.4h.7m-18.1-23.1h.7m7.8 1.6h.7m15.9-3.3h.7m-27.4 9.7h.7m-5.6 8.1h.7m23.1-27.1h.7m8 14.2h.7m-20.8 5.5h.7m10.3-6h.7m-12.3-3.1h.7m8.6 1.6h.7m-8.1 28.3h.7m8.8-17.9h.7m9.4-16.2h.7m-24.3 10.6h.7m-2.5 7.6h.7m11.6-6.6h.7m-.4 19.4h.7m7.4-25.1h.7m-22.7 13.9h.7m-11 9.1h.7m21.8-28.3h.7m3.6 10.3h.7m-.8-13.3h.7m-16.7 16.5h.7m1.9 1.1h.7m15.4 13.8h.7m12.9-16h.7m-29.6 3.8h.7m11.1 1.1h.7m-.2-7.1h.7m-6.2 9.2h.7m6.1-13h.7m5.6 3.5h.7m-21.2 27.1h.7m21.7-37.2h.7m-8 20.3h.7m-5.5-9.4h.7m13.2-2.7h.7m-24.4-0.4h.7m19.9 .3h.7m-7.5-9.3h.7m-15.5 13.4h.7m19.4-8.1h.7m10.7 13.3h.7m-24.7-0.1h.7m11.8-1.6h.7m-3.9-3.5h.7m-28.1 13.7h.7m4.1-13.8h.7m8.6-5.7h.7m-12 1.1h.7m24.3 2.3h.7m-19.2 10.5h.7m8.1-5.3h.7m-4.4 6.8h.7m20.1-1.6h.7m-12.6-14.4h.7m-4.7 9.9h.7m5.3-2.5h.7m8.3-5.2h.7m-17.9 4.1h.7m15.2 3h.7m-7.8-14.3h.7m-15 18.9h.7m-11.9-10h.7m6.5 14.6h.7m13.2-15.3h.7m-5.1 1.5h.7m12.3-14.6h.7m-12.1 22.6h.7m10-5.9h.7m3 15.3h.7m-26-11.8h.7m11.4 2.6h.7m14.2-12.8h.7m-26.1 29.4h.7m17.3-35h.7m-14.9 10.8h.7m5.1 1.8h.7m-8.6 .4h.7m11.3-3.4h.7m-6.4-3.1h.7m1.7 6.4h.7m1.9 8.5h.7m-29.7 13.6h.7m28.3-20.5h.7m.1 3h.7m3.5-3.3h.7m3-7.7h.7m-21.4-3.5h.7m7-1.6h.7m12.2 16.3h.7m-9.1-16.3h.7m7.2-0.1h.7m4.1 8.6h.7m-17.8-6.1h.7m-16.6 .7h.7m25.8-9.7h.7m1.6 16h.7m5.3-3.3h.7m-23.1 15h.7m7.7 10.5h.7m-10.3-3h.7m-.8-33.2h.7m-7.4 6.4h.7m24.6-3.8h.7m-27.9 5.2h.7m23.1 9.4h.7m-13.6-20.6h.7m2.9 18.6h.7m-1.1-10.8h.7m5.5 11.9h.7m3.7 11.5h.7m-5.6-16.5h.7m-26.9-5.5h.7m25.6-2.9h.7m-6 3.3h.7m9.6 .3h.7m-17.5 29.6h.7m4.7-25.2h.7m-6.4 1.9h.7m-2.6-5.9h.7m-13.8 8.9h.7m7.8-3.8h.7m9.4 3.5h.7m9.6-0.4h.7m-11.8 4.8h.7m-11.2 1h.7m13.6-2.5h.7m-9.2-3.9h.7m9.3 9.9h.7m-8.2-18.4h.7m1.7-5.8h.7m-4.1 21.6h.7m7.1-14.5h.7m14.7 8.3h.7m-21.5-3.4h.7m11.6-0.2h.7m-11.5 9h.7m4.2 5.3h.7m2.7-2h.7m-22.4-9.5h.7m.1-7.8h.7m2.6 10.1h.7m12.3 3.7h.7m3.1-0.7h.7m0-15.9h.7m1.6 24.8h.7m-11.8-12.1h.7m17.6 .6h.7m-9.4-8.2h.7m-19.9 2.1h.7m3 6.2h.7m9.2 6.7h.7m5.8-3.6h.7m-4.8-6.2h.7m-7.7 26.9h.7m4.8-23.9h.7m-1.6 5h.7m9.4-9.4h.7m-17 4.8h.7m-12.9 .9h.7m24.3-7.4h.7m3.7-6h.7m1-4.8h.7m-14.8 19.7h.7m.1-6.9h.7m3.3 11h.7m-10 6h.7m10.4-23.6h.7m22.5 1.2h.7m-21.8 1.7h.7m-22.2 2.1h.7m13-8.6h.7m-1.2 9.1h.7m11.4 .7h.7m-20.7 4.6h.7m5.4 13.1h.7m6.1 5.3h.7m-5.4-28.8h.7m-16.1 24.2h.7m-7-5.3h.7m23.7 2.2h.7m-10.2-24.5h.7m15.4 14.4h.7m-14.6-1.7h.7m-2.2 6.8h.7m14-10.8h.7m-11.9 0h.7m-15.4 9.9h.7m27 5.2h.7m-14.4-1.8h.7m-5.6 2.2h.7m16.5-2.9h.7m-5.9-18.6h.7m-13.6 27.6h.7m5.1-16.3h.7m-3-13.2h.7m15.6-4.2h.7m-18.2 23.8h.7m4.3-15.2h.7m-5.9 3.3h.7m23.9-3.1h.7m-8.1 .4h.7m-5.3-2.8h.7m-18.1 3.1h.7m29.6-2.4h.7m-10.5 13.9h.7m-15.6 1.9h.7m-4 8.1h.7m9.6-17.1h.7m.9 12.9h.7m8.9-9.4h.7m-4.6-4.6h.7m4.1 3.1h.7m.5-12h.7m-12.3 26.5h.7m-.8-4.1h.7m-14.4-1.7h.7m9.1 6.3h.7m-2.7-8.4h.7m-10.4 3.3h.7m28.1-19.9h.7m-26 13.7h.7m16.1-2.7h.7m-11.4 1.9h.7m-4.7 4.9h.7m28.1-3.6h.7m-36.2-17.2h.7m14.9 8.4h.7m10.5 8.7h.7m-19.8-6.1h.7m7.9-12.5h.7m-1.2 27.9h.7m10.6-5.6h.7m-19.2-6.5h.7m11.9-3.6h.7m-12.6 3.2h.7m1.9-7.9h.7m3.7 12h.7m9.1-7.3h.7m-18.1 8.1h.7m4.5-15.9h.7m-4.5 16h.7m-1.1-7.7h.7m1.6-1.6h.7m-3.9 10.7h.7m10.7-11.3h.7m-27 7h.7m29.8-3h.7m-6.9-7.4h.7m16.8-13.7h.7m-31.8 17.6h.7m-1.1 4.4h.7m5.5-13.1h.7m3.6 10.5h.7m-3.2-5h.7m-5.9 8.2h.7m18.7 .3h.7m-6.8-14.4h.7m4.5 12.4h.7m-15.4-6.1h.7m3.2 5.4h.7m1.4-18.7h.7m15.9 4.3h.7m-5.5 9.1h.7m-29.7-14.7h.7m16.6 8.7h.7m-2.4 14.9h.7m12.4-13.2h.7m-25.3 12h.7m-2.5 6.1h.7m29.8-17.8h.7m-17.7 11.9h.7m6.5-26.5h.7m-3.7 27.2h.7m-20.9 1.4h.7m19.6-7.9h.7m-5.7 4.4h.7m3.6-8.2h.7m-1.9 16.8h.7m-.6-5.5h.7m-3.3-0.2h.7m-1.7 14.3h.7m5.8-28.2h.7m-5.8 7.7h.7m13.8-1.1h.7m-17.8 3.8h.7m4.2-12.8h.7m7.1 7.9h.7m-13.4 12.6h.7m-7.4-14.9h.7m22.3 .6h.7m-34.6 15.6h.7m21-11.8h.7m-6.5 6.7h.7m5.1 8.1h.7m6.4-17.4h.7m4.1 4.2h.7m-9.6-6.5h.7m3.4 2.4h.7m-25.1 10.9h.7m24-0.6h.7m-20.8 3.5h.7m14.1-18.6h.7m6.1 10.7h.7m-5.2 1.5h.7m2.1-5.6h.7m-25.4 19.4h.7m21.3-18.7h.7m3.7-3.7h.7m-43.7 32.6h.7m31.7-31h.7m7.1 1.3h.7m-5.5-4h.7m-2 20.4h.7m-8.4-8.1h.7m7.1-7.8h.7m-15.1-5.6h.7m-7.1 19.8h.7m15.9-11.3h.7m-2.7-15.6h.7m6.9 5.4h.7m-8.6 5.2h.7m4.2 2.7h.7m-4.1 12.2h.7m-2.2-25.4h.7m11.9 12.5h.7m-5.6 10.7h.7m5.8-5.7h.7m-13.4-1.3h.7m-15-3.2h.7m26.3-0.2h.7m-4.6-1.8h.7m-12.5 15.4h.7m10.3-8.5h.7m-14.5 2.2h.7m4.1-16.6h.7m-.9 7.2h.7m-21.9 9.9h.7m25.1-3h.7m-19.3 8.2h.7m-1.3-17h.7m5.2-5h.7m7.3 19.6h.7m-18.5-5.1h.7m3-6.7h.7m24.4 7.9h.7m-2.3-11.9h.7m-19.9 11.1h.7m14.8-5.8h.7m4.2 10.5h.7m-18.2-0.5h.7m8.5 6.7h.7m-7.2-1.3h.7m13.9-20h.7m-27.1 31.7h.7m10.2-28.9h.7m-2.5-1.2h.7m-1.8 7.8h.7m12.1 7.5h.7m-8.6-12h.7m11.5-6.1h.7m-5.5-2.2h.7m-3.1 12h.7m4.7-11.1h.7m-12.7 22.6h.7m15.5-28.3h.7m-5.2 11.5h.7m-6.5 14.3h.7m-17.7-4.4h.7m18.8-18.4h.7m-10.6 8.8h.7m19.3-24.3h.7m3.6 25.2h.7m-25.9 11.8h.7m13.9-4.1h.7m-12.6-4h.7m11.6-4.7h.7m-2.5 11.2h.7m-3.7-4.2h.7m7.7 3.5h.7m5.9-21.3h.7m-24.4 .7h.7m13.4-3.8h.7m-13.8 13.8h.7m8.2 .4h.7m-11.3 2.1h.7m2.5-5.8h.7m-1.3 6.5h.7m0-9.7h.7m-9.7 22.6h.7m15.3-14.8h.7m10.5-2.3h.7m-14.6 20.5h.7m-1.7-15.3h.7m15.1 6h.7m-16.3-10.1h.7m5.1-5.4h.7m-3.7 3h.7m-7.6 1.5h.7m16.1 8.1h.7m-2.4-32h.7m-4.7 28.2h.7m3.6-3.7h.7m-4.5 1.3h.7m-6.6 1.8h.7m1.3 6.3h.7m-12.8 16.8h.7m20.2-34.1h.7m-13.3 15.4h.7m13.3-1.4h.7m-30.9-7.4h.7m19.2 13.6h.7m-3.4-16.3h.7m2 3h.7m13.8 1.9h.7m-24 16.6h.7m1.1-8h.7m10.4-14.1h.7m-23.4 16.6h.7m25.8-14.9h.7m-1.2 7h.7m-7.6 9.3h.7m-6.4-3.1h.7m5.7-6.5h.7m-3.2 11.4h.7m2.1-18h.7m-10.3 11.8h.7m7.7-3.7h.7m.7-6.4h.7m2.4 8.5h.7m-.6-10.8h.7m-8.3 5.8h.7m24 7.7h.7m-33.7-5.4h.7m20.4-1.5h.7m-10.7 3.1h.7m-23.6 8.1h.7m41.4-23.4h.7m-35.9 13.4h.7m10.3-9.2h.7m.7 14.2h.7m-13.1-15.3h.7m-2.6 4.1h.7m19.6-4.8h.7m-21.6 17.5h.7m9.7 1h.7m-5.1-18.8h.7m9.2 15.3h.7m-24.6 10.2h.7m20.3-13.3h.7m-3.5-7h.7m2-1.6h.7m4.3 34.3h.7m2.2-27.4h.7m-15 7.9h.7m19.5 3h.7m-3.5-3.5h.7m-40.3-12h.7m22.4 12.2h.7m4.6 4.1h.7m-16.9-1.3h.7m26.4-21.2h.7m-12 22h.7m3.6-14.7h.7m-7.2 6h.7m-11.6 .2h.7m21.5-9.1h.7m-5.7 3.6h.7m-10.7 12.1h.7m11.2-0.7h.7m.6-14.4h.7m-25.3 .1h.7m19.4-7h.7m3.8 18.7h.7m1.8-18.8h.7m5.2-0.7h.7m-17.2 26.9h.7m23.4-4.7h.7m-26.7-22.2h.7m5.6 29.9h.7m11.6-21.5h.7m-21.9 12.2h.7m1.2-19.4h.7m-1.1 5.8h.7m-6.6 29.3h.7m3.3-34.8h.7m22 24h.7m-8.2-12.4h.7m-14.4 6.7h.7m-7-16.8h.7m19.8 5.8h.7m4.8 6h.7m-4.4-2.6h.7m3.8-3.7h.7m-18.5 13h.7m4.3-2.1h.7m3.5 .9h.7m10.1 2.7h.7m-13.8-17.9h.7m5.8 .6h.7m-.6 11.3h.7m-9.6-7.4h.7m-16.3 .3h.7m17.7 3.8h.7m-13.7 3.1h.7m9.1 11h.7m4.1-2h.7m6-7.6h.7m9.4-5.3h.7m-22.4 15.4h.7m-7.6-8.7h.7m17.1-24.8h.7m15.5 4.4h.7m-13.7 27.4h.7m-1.8-16.2h.7m4.9 5.4h.7m-5.8-1.5h.7m-13.8 6h.7m.1-18h.7m-.5 13.9h.7m2.5 8.4h.7m7.7-21h.7m-13.4 11.2h.7m-5-6.3h.7m-5.4-0.3h.7m12.5-4.1h.7m-13.4 3.5h.7m14.6 13h.7m3 1.8h.7m-15.3-18.3h.7m10.1 13.6h.7m-1.8-3.4h.7m-6.4-4.3h.7m-7.3 11.5h.7m25.4-4h.7m-22-2h.7m4.7 2.9h.7m-13.7-1.2h.7m6-0.7h.7m-12.8-13.4h.7m15.5 9.5h.7m-3.3 9.4h.7m-7.5-18.8h.7m-8.7 23.2h.7m14.4-32.7h.7m16.7 14.5h.7m-24.3 10h.7m-.2 6.7h.7m7.7-30h.7m-1.2 21h.7m-20.9 17.1h.7m24.1-36.3h.7m-12.2 32.6h.7m22.5-11.2h.7m-1.8-20.4h.7m-17 9.1h.7m.9 12.2h.7m4.3 13h.7m-19.6-9.8h.7m9.6-16.3h.7m-.7 10.7h.7m-11.7-1.8h.7m17.7-5.5h.7m-11.2-3.2h.7m-5.4 4.6h.7m24.9 9.8h.7m-25.6 6.9h.7m7.8-18.6h.7m-7.1 6.2h.7m13 11.3h.7m-14.2-11h.7m19.7-1.7h.7m.5-6.3h.7m-19.1 21.1h.7m12.6-15.7h.7m-9.4-7.1h.7m-5.6 1.9h.7m14.8-1.7h.7m3.1-6.3h.7m-24.2 32.4h.7m8.1-21.7h.7m-3.4-10.6h.7m0 13.6h.7m1.7 21.2h.7m-9.6-28.5h.7m-4.6 17h.7m17.1-4.4h.7m9.7 .1h.7m.2-14.9h.7m-12.9 23.8h.7m-2.8-18.9h.7m1.6 6h.7m-7-1.9h.7m3.3-18h.7m-6.1 25.3h.7m-3.9-22.8h.7m28 17.6h.7m-5.6 8.4h.7m-23 8.1h.7m-1-21.3h.7m9.8-3.2h.7m-2.4 9.8h.7m-1.6 8.2h.7m-7.8-9.5h.7m-4.1 1.2h.7m17.5-8.2h.7m-7.4 17.9h.7m-.4-20.1h.7m9.2 13.2h.7m-2.7-13.2h.7m1.4-8.9h.7m-18 18.1h.7m-9.4 2.9h.7m14-3.1h.7m9.8-14.7h.7m-12 3.8h.7m-1.3 12h.7m10.7-18.9h.7m-11.1 14.5h.7m3.3 7.7h.7m17.3-15.7h.7m-29.3 14.8h.7m4.8-3.9h.7m8.2-9h.7m-26.6-11.1h.7m14.1 15.2h.7m1.5 .3h.7m-.7 11.9h.7m1.6 2.9h.7m7.6-24.8h.7m-13.5 6.5h.7m-20.3 11.1h.7m25-2.9h.7m-8.8 8.6h.7m-6.4-8.1h.7m28.6-6.6h.7m-7.6 5.2h.7m-10.9-3.9h.7m-4.5 1.2h.7m-11 7.8h.7m9-2.6h.7m-5.9-19.8h.7m2.3 1.8h.7m-13.8 27.3h.7m14-6.9h.7m3.8 4.1h.7m-10.5-27.3h.7m7 33h.7m-11.2-25.8h.7m-2.3 25.8h.7m3.3-5.8h.7m1.5-18.7h.7m9.8 8.8h.7m-5.4-1.8h.7m-3.8 2.9h.7m-8.7 10.9h.7m-1.2-14.6h.7m3-1.9h.7m-4.6-3.4h.7m10.3 15.3h.7m8.5-8.5h.7m-18.6-0.6h.7m1.7-3.3h.7m8.6 3.8h.7m-1.2-9h.7m8.1 5.9h.7m-18.8 18.6h.7m9.2-28.6h.7m.7 12.9h.7m-2.4-5.3h.7m7.7 7.7h.7m-27-6.6h.7m21.5 12.9h.7m8.6-21.9h.7m2.8 .2h.7m-43.4 29.5h.7m-8.9-9.1h.7m47.3-16.3h.7m-17.3 21.9h.7m1.1-3.1h.7m3.8-13.5h.7m-8.9-6.4h.7m-15.6 10.7h.7m26.4 1.4h.7m-8.1-3.2h.7m-18.3 18.6h.7m7-13.7h.7m7.1-10.2h.7m9.5 4.1h.7m-24.2 1.8h.7m19.9 5.8h.7m-6.9-0.8h.7m-7.4 9.9h.7m12.3-12.9h.7m-3.6 10.2h.7m-6.2-9.9h.7m-8 14.6h.7m-.6-2.5h.7m11.9-11.2h.7m-8.5 2.3h.7m7.7-21h.7m6.8 18.3h.7m.7 5.8h.7m-11-4.8h.7m5.5 1.9h.7m-12.7-4.5h.7m-3.7-8.9h.7m27.9 11h.7m-7.3-14.4h.7m-6.4-5.2h.7m-14.4 26.2h.7m-11.9-5.6h.7m15.6 4.7h.7m7.5-7.8h.7m-8.8-2.8h.7m2.2 5.3h.7m.8-20.5h.7m-11.2 31h.7m9.8-18.1h.7m-12.8 1.7h.7m3.3 8.2h.7m5.5-10.1h.7m-11.2 14h.7m10.4-3.3h.7m-10.7 4h.7m-5.3-1.5h.7m17.7-15.9h.7m-13.2 11.5h.7m20.6-7.4h.7m-34.6 2.3h.7m14.7 9.4h.7m-1.4-2.2h.7m-5.3-18.4h.7m-12.2 23h.7m12-5h.7m-2.7 16.3h.7m-3.6-10h.7m6.2-14.1h.7m4.3 5.8h.7m11.8-9.2h.7m1.3-2.2h.7m-1.5 22.7h.7m-16-10.9h.7m2.2-19.1h.7m2.1 23.1h.7m-4-17.5h.7m2.3 25.9h.7m-22.1 4.5h.7m16.9-22.6h.7m-11.2 10.7h.7m11.9-8.4h.7m3.9 6.4h.7m-1.1-3.9h.7m-5.3-2.3h.7m-6.1-8.4h.7m-1.1 13.1h.7m13.8-5.5h.7m-11.1 2.1h.7m-13.5 6h.7m3.2-12.3h.7m27.7 8.5h.7m-17.8-5.6h.7m2-2.3h.7m-3.5 2.1h.7m-13.2 5.4h.7m21.8-21.4h.7m2.8 29.2h.7m-8.1-28.8h.7m-25.4 26.1h.7m-7.1-4.4h.7m16.3-2.6h.7m16.2-7.8h.7m-3.8-5.1h.7m5.9 15.4h.7m-4.3-3.6h.7m-13.9-5.1h.7m-9.5 3.8h.7m21.2 10.8h.7m-15.7-10.7h.7m6-3.7h.7m7.9 8h.7m-13.9 8.6h.7m-4.9-7h.7m19.7-14.8h.7m-25.9 19.2h.7m11.7-10.2h.7m-14.4 5.7h.7m16.1 .4h.7m-.8-7.4h.7m-13 11.9h.7m5.8-12h.7m-4.1-5.3h.7m-.3 21.5h.7m17.9-23.2h.7m-20.3 6.8h.7m18.9-8.4h.7m-38.1 11.3h.7m7.3 10.8h.7m14.3-1h.7m7.7-13.2h.7m-9.6-0.5h.7m-.4 1.6h.7m-10.9 6.4h.7m6.4-4.5h.7m5.6-4.5h.7m-4.8-9.8h.7m-7.4 10.6h.7m1.5 7.9h.7m4.3-3.5h.7m17.1-7.3h.7m-8.9 2.5h.7m-9.7 5h.7m-17-0.3h.7m18.6 3.9h.7m-16.3-10.9h.7m2.6 8.1h.7m-25.6 27.7h.7m40.8-45.1h.7m-13.7 30.6h.7m9.8-7.7h.7m-13.8-11.6h.7m2.7-2.6h.7m-6.5 18.2h.7m3.3-6.5h.7m8.4 14.7h.7m10.1-23.3h.7m-10.7 24.5h.7m-25.1-17.6h.7m1.1 1h.7m19-13.8h.7m-5.6-0.4h.7m-23.1 19.6h.7m25.7 8.2h.7m-2-12.3h.7m-6.3 10.3h.7m11.9-13.5h.7m-5.6-2.7h.7m8.6-14.1h.7m-13.7 26.9h.7m13.2-4h.7m0-35.4h.7m-1.5 31.7h.7m-7.9-1.4h.7m1.7-16.7h.7m-.2-4.6h.7m-9.3 19.9h.7m6.6-9.4h.7m12.4-1.8h.7m-22.1 10.9h.7m-8.2-5.4h.7m16.9-1h.7m-6.7-1.1h.7m9 8.4h.7m-5.5 4.2h.7m-7.8-1.3h.7m3.5 3.1h.7m-3.5-8.4h.7m-17.9 12.6h.7m31.2-3.2h.7m-8.1-34h.7m-8.5 35.3h.7m-.9 10.7h.7m18.4-23.1h.7m-17.1-6.8h.7m6.3 12.2h.7m-17.9 4.6h.7m-1 4.3h.7m11.6-20.7h.7m1.8-0.8h.7m-5.5 20.2h.7m.2-20.8h.7m-2.6-2.6h.7m-5.2 5.8h.7m-10.6 4.3h.7m11.3 8.9h.7m-1.2 11.1h.7m-7.9 8.9h.7m-20.7-23h.7m26.7-9.1h.7m9.3 5.7h.7m-11.9 8.1h.7m0-7.1h.7m22.1-6h.7m-14.8 9.2h.7m-.1-13.2h.7m-5.1-12.6h.7m-14.2 28.6h.7m21.3-8.8h.7m-21.6 16.1h.7m18-12.6h.7m-15.6 9.1h.7m2.3-29.9h.7m-13.6 19.8h.7m17 14.4h.7m9.9-15.5h.7m-11.7 10.4h.7m.6-0.6h.7m4.6-17.9h.7m2.4 10h.7m-19.6-2.7h.7m15.4 1.2h.7m-2.7-5.3h.7m-15.2-1.7h.7m2.1-7h.7m2.1 4h.7m7.2 10.6h.7m1.9-5.3h.7m3.2-6.9h.7m-13.6 11.4h.7m15.2-11.4h.7m-1 17.2h.7m-21.1-4.3h.7m-.9-6.4h.7m12.7-3.1h.7m-4.8-4.5h.7m16.6 3.8h.7m-21.5 12.2h.7m-2.1 .8h.7m-5.7 10.8h.7m-9.2-14.6h.7m3.7 .2h.7m13.6-6.8h.7m-15.9 4.7h.7m16.6-2.2h.7m-17.4 1.1h.7m.6-1h.7m14.1-11.3h.7m5.6 16.4h.7m-9.1 6.7h.7m13-10.4h.7m-23.3 13.2h.7m9.3-9.3h.7m-16.8 5.3h.7m18.2-15.1h.7m-2.6 4.8h.7m-3.6 11.8h.7m-16.1-17.6h.7m28.4 6.8h.7m-10.7 7.9h.7m-13.3 .2h.7m2 16.4h.7m17.7-26.6h.7m-1.2-4.5h.7m-4.5 2.6h.7m-.5 6.6h.7m-14.1-6.5h.7m8.4 17.2h.7m-23.8-16.7h.7m18.5-2.9h.7m-3.6 10h.7m1.7-9.4h.7m-11-2.8h.7m14 16.7h.7m-12.4-28.1h.7m10.6 26.4h.7m15.6-24.4h.7m-9.7 12.7h.7m-13 13h.7m-7.2-14.5h.7m12.9-4.5h.7m-2-17.9h.7m-29.7 28.2h.7m22.3 5.1h.7m-4.9 23.1h.7m7.3-25.5h.7m-10.1-1.9h.7m10.7 6h.7m4.2-7.4h.7m-15.9 19.3h.7m5.6-2.4h.7m3.2-10h.7m-10.1 1.9h.7m-10-11h.7m-1.5 12.5h.7m-5.8 4.9h.7m14.5-13.2h.7m18.8-6.8h.7m-2-2.3h.7m2.5-11.1h.7m-6.4 19.8h.7m-14 4.6h.7m-17 4.8h.7m21.6-7.2h.7m-12.6 2h.7m5.6 4.9h.7m-4.3 11.4h.7m-14.5-19.1h.7m25-3.6h.7m-14.6 6.9h.7m5.5 1.7h.7m9.7 1.1h.7m9.2-1.2h.7m-30.5 4.2h.7m20.8-25.8h.7m-3.3 30.4h.7m-8.5-4.1h.7m2.9-9h.7m-15 20.6h.7m-1.1-22.7h.7m13.7 7.4h.7m-6.3 1.5h.7m-5.3 0h.7m3.2-15.6h.7m3.8 12.2h.7m4.7 16.3h.7m-21.9-23.8h.7m18.3 15.8h.7m-10.8-3.8h.7m16.9-11.4h.7m-11.1-2.7h.7m-1.2 29.1h.7m-6.4-18.2h.7m-10.5 1.3h.7m13.6-12.1h.7m7.4 9.9h.7m-5.5 5.6h.7m-14.8-20.1h.7m4.9 .1h.7m1.3 6.9h.7m-1.1-20.7h.7m-3.5 20.4h.7m8.5-6.8h.7m14.5 2.8h.7m-24.4 24.8h.7m-4.7-11.7h.7m.7 10.9h.7m-12.8-28.4h.7m14 9.7h.7m2.4-4h.7m-11.7 22h.7m9.6-15.2h.7m4.8 11.5h.7m2.5-20.8h.7m-17.3 16.3h.7m3.7-17.9h.7m23.1 9.6h.7m-21.9-9.4h.7m13.6 19.2h.7m-22.8 1.4h.7m11.2 10h.7m-11.7-1.7h.7m14.1-36.8h.7m-6.9 16.3h.7m-.2-4.4h.7m-1-0.7h.7m13.3-2.8h.7m-16.1 13.8h.7m2.2-10.6h.7m-14.1 9.9h.7m27.2-8.1h.7m-20.4 7.2h.7m-8.5 5.5h.7m17.5 9.7h.7m-25.1 .2h.7m6.3-11.9h.7m10.4-0.9h.7m-.7 4.8h.7m2.4-2.6h.7m-6.6-2.5h.7m-13.3-4.7h.7m23.6-4.5h.7m-11.6 27.6h.7m-6.3-15.7h.7m1.2-1.5h.7m3.5-15.2h.7m-1.5 5.5h.7m-5.4 7.5h.7m-3.6-5h.7m20.8-1.5h.7m-3.8-9.6h.7m-17.1 5.6h.7m-6.2 5.9h.7m13.8-1.4h.7m-2.2-25.6h.7m2.9 43.2h.7m3.6-11.4h.7m-16.2 5.6h.7m1.5-13.7h.7m6.5-6.3h.7m-2.3 6.2h.7m.8 21.5h.7m-2.6-10.8h.7m1 3h.7m8.3-4.9h.7m-26.2-2.2h.7m4.4-10.8h.7m17.1 .1h.7m-5.2-6.9h.7m1 16.3h.7m4.4-9.5h.7m-6.1 6.6h.7m-1.8-4.3h.7m6.2-11.9h.7m-15.4 27.9h.7m5.6-20.3h.7m-17.1 25.7h.7m-.3-18.2h.7m8.6-2.3h.7m1.2 1.8h.7m19.2 1h.7m-7.6 12.5h.7m4.6-19.7h.7m-16.6 22.1h.7m1.1-10.2h.7m1.9 12.7h.7m-30.7-8.1h.7m20.8-4h.7m7.5 .5h.7m-3.4 9.5h.7m-10.9-10.3h.7m-2.2-2.3h.7m1 6.9h.7m-.5-7.3h.7m-11.7 3.9h.7m12.6-12.9h.7m-19.6 23.9h.7m12.1 4.1h.7m11.1-12.7h.7m4.3-6.2h.7m-5.9 6.4h.7m-15.3 2.1h.7m18.6 2.4h.7m-23.2-6.5h.7m17.1-9.8h.7m13.1-5h.7m-21.4-2.7h.7m-1.6 21.8h.7m21-0.9h.7m-3.3-15.6h.7m-16.1 21.6h.7m6.7-22.3h.7m-7.7 11.7h.7m2.2-10.4h.7m2.9-0.3h.7m-22.4 1.6h.7m13.3 23.7h.7m30.6-26.4h.7m-11.4 0h.7m-1.7 1.7h.7m-9.9 6.2h.7m-.2 3.2h.7m3.6-0.2h.7m-6.5 8.6h.7m-6.2-10.8h.7m5-3h.7m5.3 6.5h.7m-10.9 .5h.7m-.2 5h.7m14.4-16.2h.7m-14.4 15h.7m-11.1-4.9h.7m7.7-4.2h.7m-5.6 4.2h.7m-10.8 10h.7m9.7 4.7h.7m-17.6 2.9h.7m10.1-3h.7m22.1-20.4h.7m-10.4 11.4h.7m-17.6 29.5h.7m7.6-32h.7m11.8-19.1h.7m-23.8 20.7h.7m23.6-13.2h.7m-12.7 21.6h.7m-4.3-14.6h.7m4.6 5h.7m6.9-11.4h.7m-18.6 4.3h.7m2-4.1h.7m-5.1 5.8h.7m19.4-7.9h.7m-2.5 10h.7m-18.8 5.5h.7m14.5 9.9h.7m-7.2-15h.7m.1-2h.7m-3.5-4.9h.7m9.2 3.5h.7m-1.8 4.4h.7m11.5-5h.7m-20.9 9.5h.7m8.7-9.4h.7m7.4-7.7h.7m.1 11.6h.7m-11.5-12.4h.7m-10.1 4.4h.7m-6.8 6h.7m-3.3 7.9h.7m16.7 4.3h.7m-5.1-4h.7m19.2-12.4h.7m-22.1 16.7h.7m8.8-16.6h.7m4.9 11.9h.7m.8-27.5h.7m-19.6 26.8h.7m17.6-18.8h.7m-27.1 16.1h.7m19.1-11.1h.7m9.6-1.7h.7m-16.5 15.5h.7m11.1-1.4h.7m-7.6-19.7h.7m-12.6 16.7h.7m3.4 8.7h.7m-8.4-0.9h.7m16-5.2h.7m-21.7-7.8h.7m33.7-6.5h.7m-18.5 8.2h.7m9.5-7h.7m-6.1 12h.7m11.9-21.3h.7m-13.3-1.1h.7m-9.8 16.6h.7m-1.3-5.9h.7m-2.7 34.2h.7m-.3-40.5h.7m-.1 23.3h.7m5.8-23.7h.7m8.6 11.6h.7m-20.7 3.3h.7m9.7-17.9h.7m-13.1 22h.7m8.3 6.2h.7m-5.4 12.2h.7m11.3-7.7h.7m.5 2.8h.7m.2-21h.7m3.5 .1h.7m-11.9 6.8h.7m9.1-11.4h.7m-2-5.7h.7m-27.8 27.4h.7m16.7-10.8h.7m-5.6-8.2h.7m18-11.8h.7m-10.5 5.4h.7m1.7 10.5h.7m-10 5.1h.7m10.4-6.4h.7m5.8-6.2h.7m-10.7 12.7h.7m-18.4-5.5h.7m20.6-9.3h.7m-19.6 21h.7m19.2 2.7h.7m-7.7-29.9h.7m-9.1 22h.7m-2.6-15.3h.7m4.5 26.4h.7m16.3-31.4h.7m-12.7 15.1h.7m5-3.7h.7m-10.6 7.6h.7m23.6-13.9h.7m-3.5 5.4h.7m-11.4 9.6h.7m-9.7-17.9h.7m-18.8 16.3h.7m22.7-5.5h.7m8.2-6.9h.7m-13.1 15.8h.7m-7.6-11.8h.7m3.1 6h.7m4.1-8.6h.7m2.3 7.8h.7m-21.3 8h.7m31.7-2.7h.7m-19.1-2.2h.7m.2-5.4h.7m-1.3 5.7h.7m3.7 8.4h.7m-3.5-16.8h.7m-16.2 5.7h.7m5.7 10.5h.7m8.8-8.9h.7m7.6-13.3h.7m-8.8 16.4h.7m2.2 1.6h.7m-4.4-5.6h.7m13.5 12.4h.7m-20-14.2h.7m16.8-12.4h.7m-17.5 .2h.7m13.6 21.1h.7m-1.5-6.2h.7m1.8-3.3h.7m-6-13.4h.7m3.5 27h.7m3.3 0h.7m-11.7-15.8h.7m-17.1-4.5h.7m10.7 14.2h.7m-4.5-12.6h.7m7.6 .7h.7m3.7 12.9h.7m-29.3 6.3h.7m15.4-1.8h.7m9.2-11h.7m-4.2 6h.7m2.7-3.2h.7m-8.2-0.6h.7m10.9-12.7h.7m-5.4 4.8h.7m-6.3-12.1h.7m-3.6 29.8h.7m10.1-26.2h.7m-14.6 13.6h.7m16.8-23.1h.7m-14 23.5h.7m-2.2-6h.7m-8.4 19.8h.7m11.1-21.5h.7m-4 15.4h.7m-2.3-6.1h.7m13.9-7.6h.7m3.6-19h.7m-16.9 28.2h.7m-14.5-4.5h.7m-1.3 15.1h.7m2.8-22.1h.7m16.8 3.8h.7m-15.1 12.2h.7m6.2 2.1h.7m16.3-20.6h.7m-.3 5h.7m-.3-0.7h.7m-27 6.8h.7m3.6 .6h.7m-14.2-10.8h.7m22.6 15h.7m3.6 4.2h.7m-9.2-22.7h.7m7.7 6h.7m-1.3 1.3h.7m-2.8-7h.7m1.5 0h.7m-3.1 19.2h.7m-7.5-8.5h.7m-.2 7.4h.7m17.8-25.8h.7m-20.1 15h.7m3.4 17.5h.7m-12.2-14.4h.7m8.8 3.5h.7m3.6-1h.7m-3.4-1.4h.7m14.5 15.1h.7m-4.4-31.8h.7m-15.7 22.1h.7m-.5-13.2h.7m16.2-1.4h.7m-36 4h.7m8.2 5.5h.7m16.4-16.3h.7m-9.9 26.8h.7m6.4-17.7h.7m-3.1 19.7h.7m-7.8-36.6h.7m23.5 10.7h.7m-27.2 11.1h.7m.5 6h.7m13.1-0.4h.7m-12.6 4.6h.7m-1.3 2.2h.7m-3.3-10.2h.7m4.7-2.8h.7m20.4-6.9h.7m-14.3-2.8h.7m5.9 2.9h.7m1.1 4.7h.7m-11.7 8h.7m-13.6-1h.7m18.5-8.2h.7m-16.4 8.2h.7m16.8-17.2h.7m-7.7 20.2h.7m-7.2-0.5h.7m13.2-4.4h.7m3.9 7.9h.7m-8.4-12.6h.7m-1.9 16.3h.7m-.5-14.1h.7m-17.8 9.4h.7m20.9-6h.7" stroke="#22b822" stroke-opacity="0.5075" stroke-width="0.7" fill="none"/>
<ellipse cx="364" cy="478.8" rx="13.5" ry="7.6" transform="rotate(-40 364 478.8)" fill="#1bb21b" filter="url(#blur10)"/>
</g>
<line x1="351.5" y1="436.4" x2="351.5" y2="499.9" stroke="#555" stroke-width="0.8" />
<line x1="330.4" y1="461.6" x2="394.4" y2="461.6" stroke="#555" stroke-width="0.8" />
<path d="M330.4,499.9 L330.4,436.4 L394.4,436.4 L394.4,499.9 Z" fill="none" stroke="#888" stroke-width="0.8"/>
<line x1="330.4" y1="435.9" x2="330.4" y2="500.4" stroke="#222" stroke-width="1.3" />
<line x1="329.9" y1="499.9" x2="394.4" y2="499.9" stroke="#222" stroke-width="1.3" />
<line x1="328.8" y1="437.0" x2="330.4" y2="437.0" stroke="#222" stroke-width="0.7" />
<line x1="328.8" y1="439.16" x2="330.4" y2="439.16" stroke="#222" stroke-width="0.7" />
<line x1="328.8" y1="441.31" x2="330.4" y2="441.31" stroke="#222" stroke-width="0.7" />
<line x1="328.8" y1="443.47" x2="330.4" y2="443.47" stroke="#222" stroke-width="0.7" />
<line x1="328.8" y1="445.62" x2="330.4" y2="445.62" stroke="#222" stroke-width="0.7" />
<line x1="328.8" y1="447.78" x2="330.4" y2="447.78" stroke="#222" stroke-width="0.7" />
<line x1="328.8" y1="449.93" x2="330.4" y2="449.93" stroke="#222" stroke-width="0.7" />
<line x1="328.8" y1="452.09" x2="330.4" y2="452.09" stroke="#222" stroke-width="0.7" />
<line x1="328.8" y1="454.24" x2="330.4" y2="454.24" stroke="#222" stroke-width="0.7" />
<line x1="328.8" y1="456.4" x2="330.4" y2="456.4" stroke="#222" stroke-width="0.7" />
<line x1="328.8" y1="458.55" x2="330.4" y2="458.55" stroke="#222" stroke-width="0.7" />
<line x1="328.8" y1="460.71" x2="330.4" y2="460.71" stroke="#222" stroke-width="0.7" />
<line x1="328.8" y1="462.86" x2="330.4" y2="462.86" stroke="#222" stroke-width="0.7" />
<line x1="328.8" y1="465.02" x2="330.4" y2="465.02" stroke="#222" stroke-width="0.7" />
<line x1="328.8" y1="467.17" x2="330.4" y2="467.17" stroke="#222" stroke-width="0.7" />
<line x1="328.8" y1="469.33" x2="330.4" y2="469.33" stroke="#222" stroke-width="0.7" />
<line x1="328.8" y1="471.48" x2="330.4" y2="471.48" stroke="#222" stroke-width="0.7" />
<line x1="328.8" y1="473.64" x2="330.4" y2="473.64" stroke="#222" stroke-width="0.7" />
<line x1="328.8" y1="475.79" x2="330.4" y2="475.79" stroke="#222" stroke-width="0.7" />
<line x1="328.8" y1="477.95" x2="330.4" y2="477.95" stroke="#222" stroke-width="0.7" />
<line x1="328.8" y1="480.1" x2="330.4" y2="480.1" stroke="#222" stroke-width="0.7" />
<line x1="328.8" y1="482.26" x2="330.4" y2="482.26" stroke="#222" stroke-width="0.7" />
<line x1="328.8" y1="484.41" x2="330.4" y2="484.41" stroke="#222" stroke-width="0.7" />
<line x1="328.8" y1="486.57" x2="330.4" y2="486.57" stroke="#222" stroke-width="0.7" />
<line x1="328.8" y1="488.72" x2="330.4" y2="488.72" stroke="#222" stroke-width="0.7" />
<line x1="328.8" y1="490.88" x2="330.4" y2="490.88" stroke="#222" stroke-width="0.7" />
<line x1="328.8" y1="493.03" x2="330.4" y2="493.03" stroke="#222" stroke-width="0.7" />
<line x1="328.8" y1="495.19" x2="330.4" y2="495.19" stroke="#222" stroke-width="0.7" />
<line x1="328.8" y1="497.34" x2="330.4" y2="497.34" stroke="#222" stroke-width="0.7" />
<line x1="328.8" y1="499.5" x2="330.4" y2="499.5" stroke="#222" stroke-width="0.7" />
<line x1="342.3" y1="499.9" x2="342.3" y2="501.5" stroke="#222" stroke-width="0.7" />
<line x1="355" y1="499.9" x2="355" y2="501.5" stroke="#222" stroke-width="0.7" />
<line x1="360" y1="499.9" x2="360" y2="501.5" stroke="#222" stroke-width="0.7" />
<line x1="363" y1="499.9" x2="363" y2="501.5" stroke="#222" stroke-width="0.7" />
<line x1="365" y1="499.9" x2="365" y2="501.5" stroke="#222" stroke-width="0.7" />
<line x1="368.9" y1="499.9" x2="368.9" y2="501.5" stroke="#222" stroke-width="0.7" />
<line x1="373" y1="499.9" x2="373" y2="501.5" stroke="#222" stroke-width="0.7" />
<line x1="375.5" y1="499.9" x2="375.5" y2="501.5" stroke="#222" stroke-width="0.7" />
<line x1="377.5" y1="499.9" x2="377.5" y2="501.5" stroke="#222" stroke-width="0.7" />
<line x1="379.7" y1="499.9" x2="379.7" y2="501.5" stroke="#222" stroke-width="0.7" />
<line x1="385" y1="499.9" x2="385" y2="501.5" stroke="#222" stroke-width="0.7" />
<line x1="387.5" y1="499.9" x2="387.5" y2="501.5" stroke="#222" stroke-width="0.7" />
<line x1="389.6" y1="499.9" x2="389.6" y2="501.5" stroke="#222" stroke-width="0.7" />
<line x1="393" y1="499.9" x2="393" y2="501.5" stroke="#222" stroke-width="0.7" />
<text x="326.3" y="441.3" font-size="5.8" fill="#141414" text-anchor="end">10<tspan font-size="4" dy="-2.2">6</tspan></text>
<text x="326.3" y="451.7" font-size="5.8" fill="#141414" text-anchor="end">10<tspan font-size="4" dy="-2.2">5</tspan></text>
<text x="326.3" y="462.9" font-size="5.8" fill="#141414" text-anchor="end">10<tspan font-size="4" dy="-2.2">4</tspan></text>
<text x="326.3" y="470.2" font-size="5.8" text-anchor="end" font-weight="normal" font-style="normal" fill="#141414" textLength="11.61" lengthAdjust="spacingAndGlyphs"  stroke="#141414" stroke-width="0.12">4000</text>
<text x="326.3" y="476.6" font-size="5.8" text-anchor="end" font-weight="normal" font-style="normal" fill="#141414" textLength="11.61" lengthAdjust="spacingAndGlyphs"  stroke="#141414" stroke-width="0.12">2000</text>
<text x="326.3" y="486.5" font-size="5.8" text-anchor="end" font-weight="normal" font-style="normal" fill="#141414" textLength="2.9" lengthAdjust="spacingAndGlyphs"  stroke="#141414" stroke-width="0.12">0</text>
<text x="326.3" y="495.1" font-size="5.8" text-anchor="end" font-weight="normal" font-style="normal" fill="#141414" textLength="13.35" lengthAdjust="spacingAndGlyphs"  stroke="#141414" stroke-width="0.12">-2000</text>
<text x="326.3" y="501.8" font-size="5.8" text-anchor="end" font-weight="normal" font-style="normal" fill="#141414" textLength="13.35" lengthAdjust="spacingAndGlyphs"  stroke="#141414" stroke-width="0.12">-4000</text>
<text x="342.3" y="511.1" font-size="5.8" text-anchor="middle" font-weight="normal" font-style="normal" fill="#141414" textLength="2.9" lengthAdjust="spacingAndGlyphs"  stroke="#141414" stroke-width="0.12">0</text>
<text x="355.0" y="511.1" font-size="5.8" fill="#141414" text-anchor="middle">10<tspan font-size="4" dy="-2.2">3</tspan></text>
<text x="368.9" y="511.1" font-size="5.8" fill="#141414" text-anchor="middle">10<tspan font-size="4" dy="-2.2">4</tspan></text>
<text x="379.7" y="511.1" font-size="5.8" fill="#141414" text-anchor="middle">10<tspan font-size="4" dy="-2.2">5</tspan></text>
<text x="389.6" y="511.1" font-size="5.8" fill="#141414" text-anchor="middle">10<tspan font-size="4" dy="-2.2">6</tspan></text>
<text x="368.1" y="495.8" font-size="8" text-anchor="start" font-weight="normal" font-style="normal" fill="#33b86a" textLength="21.7" lengthAdjust="spacingAndGlyphs" stroke="none">90.2%</text>
<line x1="306.3" y1="514.5" x2="306.3" y2="483.9" stroke="#444" stroke-width="1.3" />
<line x1="305.65" y1="514.5" x2="345.7" y2="514.5" stroke="#444" stroke-width="1.3" />
<path d="M304.1,484.4 L306.3,480.4 L308.5,484.4Z" fill="#141414"/>
<path d="M345.2,512.3 L349.2,514.5 L345.2,516.7Z" fill="#141414"/>
<text transform="translate(303.4,506.9) rotate(-90)" font-size="8.6" fill="#141414" textLength="12.5" lengthAdjust="spacingAndGlyphs">Gr1</text>
<text x="316.9" y="526.0" font-size="8.6" text-anchor="start" font-weight="normal" font-style="normal" fill="#141414" textLength="24.9" lengthAdjust="spacingAndGlyphs"  stroke="#141414" stroke-width="0.12">CD11b</text>
<defs><clipPath id="fb4"><rect x="445.9" y="436.4" width="63.7" height="63.5"/></clipPath></defs>
<g clip-path="url(#fb4)">
<path d="M486.5 488.8h.7m-3.9-8.4h.7m9.2-6.2h.7m-11.3-1.9h.7m4.4 9.5h.7m3.8-7.6h.7m-12.3-2.1h.7m3.3-13h.7m-3.1 9.1h.7m-9 4.6h.7m9.1-0.3h.7m-8 1h.7m-4.5 9.8h.7m12.4-26.4h.7m-5.1 20.5h.7m3.1-4h.7m-1.1-13h.7m7.3 16.5h.7m3-3.1h.7m-5.4-13.6h.7m-5 14.7h.7m2.2 2.8h.7m-18.3-5.8h.7m16.8 7h.7m-1.9-9.8h.7m-1.8 6.2h.7m-7.5-1h.7m8.7 4.4h.7m4.2-13.2h.7m-19.9 28.1h.7m10.8-30.8h.7m-11.1 23.3h.7m-7.3-10.5h.7m13.4-0.6h.7m2.1 8.4h.7m-1.6-14.9h.7m-2.6-5.1h.7m3.2 19.9h.7m2.3 7.3h.7m-15.8 4.9h.7m-2.4-15.6h.7m10-25.2h.7m7.1 24.1h.7m1.1 3h.7m-15.9-4.1h.7m-.1 3h.7m16.3 2h.7m-4.9-2.4h.7m-6.5-6.7h.7m-3.2-9.5h.7m.8 5.6h.7m-7.2 10.5h.7m27.3 4.4h.7m-26.5 1.7h.7m-4.5-7.6h.7m5.6-11.5h.7m8.2 12.7h.7m-10.3-13.7h.7m-11.8 13.6h.7m19.6-12.8h.7m-10 14.1h.7m8.2-0.7h.7m-12.8-10.1h.7m6.8 8.5h.7m7.8 .7h.7m-6-7.2h.7m3.1 4.1h.7m-11.6-1.8h.7m5.1-13.2h.7m-3.5 9.9h.7m-6.7 23.2h.7m12.5-15.4h.7m-6.8-18.4h.7m-14.7 17.6h.7m1.4 1.4h.7m16.9-2.9h.7m-6 4h.7m-8.3 3.1h.7m10.1 7.5h.7m-10.1-4.8h.7m.6-9.7h.7m5.3-15.5h.7m1.5 .2h.7m8.7 19.6h.7m-4.1-3.7h.7m-10.3-2.6h.7m-8.1 11.5h.7m7.8-20.4h.7m-3.2-0.6h.7m12.8 3.6h.7m-7.8 7.4h.7m-12.6-10h.7m-3.4 8.9h.7m14.5-2.9h.7m2.1 1.3h.7m-10.6-0.7h.7m-10.7-10.4h.7m4.9 17.4h.7m3.1 2.2h.7m-6-21.6h.7m-6.2 9.9h.7m.6 7.8h.7m17-1.8h.7m-19.6-14.2h.7m13.9 12.5h.7m-14.9-6h.7m-5.2 16.3h.7m4.7-4.6h.7m13 6.1h.7m6.2-17.8h.7m-18.1 11h.7m-11.2-10.5h.7m31.1 10.9h.7m-10.4-6.4h.7m4.1-7.2h.7m-21.1 2.7h.7m15.2 4h.7m-15 7.9h.7m18.2-17.4h.7m-13.9 30.7h.7m-4.1-16.4h.7m-3.7-1.8h.7m15.6 1.2h.7m-15.3-5.8h.7m-2 2.5h.7m5.3 11.4h.7m-.5-22.1h.7m-5.8 14.2h.7m19 4.9h.7m-4.3 2.6h.7m-1.4-23.2h.7m-24.8 15.8h.7m1.2-17.2h.7m.8 10h.7m10.9 5.2h.7m-.2-0.5h.7m8.1-2.7h.7m-10.4 7.1h.7m18.1 2.2h.7m-19.2-5.2h.7m12.5-8h.7m-18.1 3.2h.7m-5.6 6h.7m11 2.3h.7m1.4-4.2h.7m-3.2-11.1h.7m2.7 5.9h.7m.5 5.7h.7m-4.8-12.6h.7m-4.8 8.7h.7m11.5-1.5h.7m-14.1 10.5h.7m2.2 1.8h.7m-1.3-16.6h.7m-12.3 19.4h.7m12.8 1.3h.7m-8.2-16.5h.7m4 2.3h.7m-1-3.2h.7m4-1.2h.7m8.5-6.1h.7m-4.3-9.6h.7m-6.1 22.7h.7m6.9 11.8h.7m-21.5-22.5h.7m16.9 14.2h.7m5.3-10h.7m-21.4 6.4h.7m13.3-2.9h.7m-13.7 5.6h.7m3.2 .4h.7m3.1 .8h.7m-.8 1.5h.7m-2.6 4.1h.7m-11.1-19h.7m6.9 4h.7m9.2 13.4h.7m-6.6-16.3h.7m1.7 15.5h.7m-18.5-6.9h.7m8.7 8.2h.7m18-7.4h.7m-1.1-2.6h.7m-12.8 1.2h.7m-11.7-13.7h.7m8.5 17h.7m10.5-3h.7m-10.1 7.4h.7m5.7-4h.7m-17.9-11.9h.7m12.5 7.8h.7m1.4 3.9h.7m-9.4-3.5h.7m-2 7.2h.7m15.2-7h.7m-12.5 .8h.7m-1.5-13.1h.7m-1.1 17.7h.7m2.1 3.5h.7m-10.9-14.4h.7m5.7-2.7h.7m15.5 5.3h.7m-16 17.2h.7m9.3-0.2h.7m-5.5-13.4h.7m-3.6-9h.7m5.7 2.3h.7m-.3-4.4h.7m-.8 2.3h.7m-11.1 11.8h.7m3.8-2.1h.7m5.1-5.9h.7m-10.5 7h.7m19.7 .6h.7m-30.1 10.2h.7m3.7-20.1h.7m-.8 19.6h.7m11.8-4.1h.7m-8.4-14.5h.7m10.1 10.1h.7m-10.7-8.5h.7m-2.7 13.3h.7m-.7-6.1h.7m5.7-6.8h.7m9.3 12.8h.7m-14.7-7.2h.7m4.2-8.8h.7m-8.3 6.2h.7m1.7 8.7h.7m6.4-6.1h.7m1-6.4h.7m-13.3 2.7h.7m.8 7.4h.7m15.7 5.8h.7m-23.1-15.7h.7m14.1 8.9h.7m-11.1 1.5h.7m11 2.3h.7m7.8 3.4h.7m-20-20h.7m9.2 8h.7m-13.5 2.3h.7m11.5 2.8h.7m-.6 2.8h.7m-3.7-1.2h.7m4.1-13.2h.7m-4.3-2.5h.7m.9 9h.7m-4.5 4.5h.7m-21.5-16.2h.7m8.8 9h.7m12.7 4.7h.7m1-1.5h.7m-3.9 7.2h.7m9.7-15.7h.7m-13.4 10.6h.7m-3-4.2h.7m.1 17.3h.7m12.2-29.2h.7m-4.3 22.4h.7m10.8-21.7h.7m-10.8 16.3h.7m3.9-2.5h.7m-18.1-11.2h.7m15.8 3.4h.7m-14.1 8.1h.7m4.5 5.3h.7m-2.1-4.4h.7m.4-12.4h.7m-3.1 6h.7m-2 16.5h.7m-5.4-14.5h.7m5.7-15.4h.7m9.3 10.7h.7m-4.5-4.9h.7m-12.6 .7h.7m18.7 19.5h.7m-15.8-13.9h.7m-12.1 .3h.7m3.4 5.3h.7m-8.5-3.7h.7m21.5-1.7h.7m-6.1-8.4h.7m-4.4 6.4h.7m3.9 10.7h.7m-1.6-0.5h.7m12.4-8.1h.7m-20.9-5.4h.7m6 2.4h.7m-2.3 10.9h.7m12.7-7.7h.7m-20.8 2.9h.7m9.4 8.1h.7m2.1-17.3h.7m-10.9 3.4h.7m4.2 .3h.7m-4.5 18h.7m14.7-14.4h.7m-17.2 .3h.7m14.7-9.7h.7m-12.8 18.5h.7m-8.8-4.7h.7m10.6-0.5h.7m-10.7-2.4h.7m0-13h.7m13.3 17.5h.7m-1.5 5.8h.7m8.9-12.4h.7m-15.7 4.2h.7m-2.3 4.5h.7m-4.1-10.8h.7m12.8 6.5h.7m-13.1 10.3h.7m2.5-20.9h.7m1.9 24.8h.7m-16.8-7h.7m12.5-19.7h.7m2.1 1h.7m1.8 14.3h.7m-11-2.1h.7m9.1-7.2h.7m-24.2 16.7h.7m15.8-2.5h.7m5-0.8h.7m4.1-20.8h.7m5.2 10.3h.7m-8.1 20.1h.7m-6.9-28.8h.7m5.6 13.9h.7m7 2.3h.7m-11.4 1.9h.7m4.1-9.8h.7m1.2-9.9h.7m-18.7 9.6h.7m5.1 12.3h.7m2.9-1.8h.7m-10.1-10.8h.7m6.1 8.6h.7m12.1 2.4h.7m-9.7-12.8h.7m-3.2-0.3h.7m-2.8 5h.7m5.3 2.7h.7m-4.6 13.4h.7m-8.1-11.8h.7m10.7-4.8h.7m-15 12.4h.7m2.9-15.1h.7m16.1-3.5h.7m-10.2 7.9h.7m4.6-8.9h.7m-7.3-10.2h.7m-10.3 21.7h.7m10.3-11.4h.7m-14.7 .9h.7m32.2 8.6h.7m-31.2 8.8h.7m14.9-9h.7m-6.3-3.3h.7m-9.2-8.8h.7m16.3 7.4h.7m-9.7 4.3h.7m-6.1 7.4h.7m-12.6 .2h.7m16.1-0.9h.7m16.5-9.6h.7m-4.3-4.4h.7m-23.7-0.6h.7m20.7 10.3h.7m-8.3-12.7h.7m1.1 8h.7m4.8 7.4h.7m-19.5-2.7h.7m3.5-2.4h.7m19.2-9h.7m-18 11.8h.7m-.2 .1h.7m-8.8 2h.7m9-7.4h.7m6.6-1h.7" stroke="#999" stroke-opacity="0.406" stroke-width="0.7" fill="none"/>
<path d="M483.1 485.1h.7m-1.9-5.7h.7m6.2 3.1h.7m-1.3 1.7h.7m-1.7-4.8h.7m-3.5 1.5h.7m9.8-0.2h.7m-13.3 3.3h.7m7.7-3.6h.7m-5.1 5.2h.7m1.7-1.3h.7m-.9 1.7h.7m-4.3-3.1h.7m6.2 1.7h.7m-4-4.1h.7m-.4 .8h.7m-1.3 2.5h.7m-4.3-0.5h.7m14.4 1.4h.7m-13.8-0.5h.7m-1.5-0.4h.7m12.2-6.1h.7m-16 9.2h.7m7.2-5.8h.7m6.6 4.4h.7m-9.1-4.9h.7m-.7 4.4h.7m-.9 .3h.7m-9.4-3.3h.7m9.9 0h.7m.9-2h.7m-5.4 1.8h.7m-5 .8h.7m5.7-1.4h.7m2.9-1h.7m-5.8-2.6h.7m-5.2 4.1h.7m3.9 1.4h.7m-5.3 3.7h.7m-4.9-6.1h.7m9.5-1.1h.7m-6.8 3.1h.7m-5.2 .1h.7m8.7 3.7h.7m-2.4-1.1h.7m.2-1.8h.7m2.1 .1h.7m-5.9-0.7h.7m2.1 1.5h.7m.3 1.5h.7m.8-9.3h.7m-8.2 5.4h.7m0 2.9h.7m7-4.8h.7m3.1-1.1h.7m-7.7 5.4h.7m-.9-4.2h.7m-9.4 1.1h.7m12.6 2.3h.7m-5 2.5h.7m-5-6.2h.7m4.9 4.9h.7m-5.4-2h.7m.4-1.9h.7m.4 2.9h.7m1.8-2.1h.7m5.3 .6h.7m-8.7 5.6h.7m-5.1-4.1h.7m4.6-0.2h.7m-5.1 2h.7m-2.3-7.3h.7m-.9 8.2h.7m1.5-2.7h.7m-8-0.6h.7m9.5-2.2h.7m-4.4 4h.7m7-3.2h.7m-11-0.7h.7m3.7-1.8h.7m-5 6.5h.7m4.3-4.7h.7m-1.9 .6h.7m4.7 2.1h.7m-3.1 .5h.7m-.1 2.3h.7m-6-5.1h.7m2-1.5h.7m-3.5 1.9h.7m-.5-1.1h.7m-1.6 .2h.7m1-0.6h.7m.7 3.4h.7m-7.1 1.3h.7m8-0.9h.7m-3.5-6.4h.7m.2 .5h.7m6.8 7.1h.7m6.8-6h.7m-23.8 5.6h.7m5.2-4.4h.7m.9 1.4h.7m-3.7 6.9h.7m4.9-4.6h.7m-2.4-2.4h.7m.9 5.6h.7m.2-5.7h.7m.6-0.5h.7m-2.3 2.8h.7m-1.5 2.2h.7m-3.7-1.8h.7m2.7 2.5h.7m1.7-1h.7m-5.6 0h.7m.8-2.4h.7m-.3-1.4h.7m-.2-1h.7m-8.4 1.5h.7m5.9-1.2h.7m.1 .8h.7m-8.1-3.5h.7m5.8-0.4h.7m.1 10.8h.7m-9.3-2.5h.7m15.7-3.5h.7m-7.8 2h.7m3.3-0.4h.7m-7.3-2.1h.7m1.3-2.6h.7m-5.8 5.5h.7m2.3-1.4h.7m-.3-4h.7m2.6 4.3h.7m3.6-2.1h.7m-15.2 5.7h.7m6-10.9h.7m5.6 6.9h.7m-7-3.4h.7m-5.7 2.2h.7m11.7-4.4h.7m.3 4.9h.7m-4.1-0.9h.7m-3.4-3.6h.7m-1.6 4.9h.7m-2.3-0.5h.7m3.9-3h.7m.4 5.2h.7m-10.5-3.2h.7m10.4 .7h.7m-8.1 2.6h.7m2.3-6h.7m-2.5 3.5h.7m1.5 1.5h.7m-1.8-5.1h.7m5.6 7.4h.7m-9.7-2.4h.7m3.2-3.7h.7m2.1 5.7h.7m.5-4.3h.7m-13.6-0.7h.7m13.3-1h.7m-2.4 3.8h.7m-2.2-1.7h.7m-6.9 .9h.7m-6.4 .1h.7m7.9-1.3h.7m.6 .5h.7m-9.9-0.5h.7m5.7 2h.7m-.8-0.5h.7m.1-3.3h.7m5.5 1.1h.7m-14.3-1.2h.7m5.9 2.8h.7m-2.7 3h.7m6-3.4h.7m2.6 3.8h.7m-.3-7.6h.7m-8.9 4.3h.7m10.6 2.2h.7m-9.6-5h.7m8.7 1.8h.7m-16.6 .2h.7m.2-0.3h.7m2.8-0.8h.7m-2 10.5h.7m-7.7-12.7h.7m8.7 4.4h.7m-11.1-2.7h.7m6.1 2.4h.7m4-0.4h.7m-8.2 .6h.7m4.9-1.5h.7m-2.5 1h.7m-1.4-1.1h.7m5 .9h.7m-8.3-0.7h.7m8.6 .7h.7m-11.6 3.2h.7m7.7-0.9h.7m-4.8-7.2h.7m1.6 4.1h.7m-5.6-2.9h.7m1.9 7.2h.7m-.3-4.5h.7m.5 6.1h.7m-1-5.2h.7m7.7-1.9h.7m-7.7 4.5h.7m-7.3-8.9h.7m10.1 9.2h.7m-1.9-0.5h.7m-11.7-2.4h.7m14-3.3h.7m-8 .5h.7m.3 2.5h.7m-3.5-4.6h.7m-.2 4.8h.7m.3 1.8h.7m1.1-4.6h.7m3.8 .2h.7m-3.2 6.1h.7m-2-3.7h.7m-3.2-0.6h.7m-5.1 1.7h.7m1.4-4.4h.7m6 3.6h.7m-3 1.1h.7m-5.6 2.6h.7m2.2-2.3h.7m6.6-5.1h.7m-5 6.4h.7m-1.4-4.7h.7m3.4 1.7h.7m-6.2 2.8h.7m-6.8-0.4h.7m4.1-3.5h.7m-1.4-2.1h.7m3.6 6.3h.7m-4.7-2.4h.7m-.9 .5h.7m.3 .5h.7m-3.6-1.1h.7m-1.8 4.2h.7m-3.4-4.2h.7m8.7 2.6h.7m-3-0.9h.7m-2-3.6h.7m2.5 2.5h.7m-1.2-1.3h.7m-12.2 .3h.7m7.6 1.8h.7m-8-1.5h.7m15.5-2.2h.7m-13 5.5h.7m10-4h.7m-9.7 4.5h.7m.3-3h.7m-3 1.3h.7m-4.8-2.1h.7m13.9-3.2h.7m-14.1 3h.7m4.8 0h.7m-1.2-0.5h.7m1.3-3.9h.7m5.1 5.3h.7m-14.2-1.8h.7m7.7-0.3h.7m-4.1 3.2h.7m3.4 .3h.7m-2.5-4.2h.7m-3.2 .1h.7m8.3 3.3h.7m-5.9 .2h.7m-2.5-0.2h.7m0-1.6h.7m-2 4.3h.7m3.3-3.8h.7m-2.2-1.3h.7m-2.9-1.5h.7m-1.7 4.4h.7m-7-2.9h.7m3.5 2.2h.7m4.6 1h.7m-.7-3h.7m-4.6 3.1h.7m9.4 .6h.7m-3-2.9h.7m-8.2-2.4h.7m6-1.1h.7m-9.8 1h.7m6.5 .1h.7m-3.1 1.4h.7m-8.1 2.5h.7m12.6-0.8h.7m-14.1-1.5h.7m8.9 3.2h.7m-2.9-2.7h.7m4.3 5h.7m-.9-5.2h.7m-3.8 1.6h.7m-15.5-3.3h.7m8 3.7h.7m15.8-0.1h.7m-8.9-0.3h.7m-8.1 .3h.7m8.8 2.3h.7m-.1-0.4h.7m-7.1-3.9h.7m1.9-1.6h.7m1.3 1.5h.7m3.8 .3h.7m-12.8 3.4h.7m4.2-5.3h.7m-8.6 .2h.7m9.4 3.2h.7m-6-2.5h.7m-9.4 .9h.7m13.5-1.1h.7m-.1 5.3h.7m3.6-3.1h.7m-8-2.4h.7m-9.7 3.4h.7m.4-0.3h.7m11.7 1.3h.7m-6.2-2.9h.7m-6.4 .8h.7m3.5-2.6h.7m-2 3.5h.7m7.3-4.3h.7m-2.4 3.6h.7m-9.4 2.2h.7m5.8-0.6h.7m2.5-5.9h.7m-8 4h.7m1.1 0h.7m-4.9-0.2h.7m6.9 1.3h.7m-10.3 2.4h.7m4.5-2.4h.7m.5 1.9h.7m-1.9-5.9h.7m3.1 5.5h.7m-2.4 .1h.7m1.6-5.3h.7m1.4 1h.7m-.6-2.8h.7m5.9 3.9h.7m-14.6 .8h.7m7.2 3.9h.7m-9.6-6.1h.7m-.2 .3h.7m-.8 .7h.7m4.8 3.2h.7m-6.1-2.8h.7m0 .2h.7m.4-2.4h.7m-.2 3.8h.7m8.9-2.2h.7m-9.9-0.9h.7m-2.1 1.2h.7m1-0.1h.7m-4.5 .9h.7m-1 1.8h.7m3.5 .9h.7m1.6 2.7h.7m-5.3-5.1h.7m-1.2 1h.7m6 1.6h.7m-12.4-4.8h.7m1 2.1h.7m5.1-0.1h.7m8.3 4.5h.7m-11.5-2.8h.7m8.1-4.5h.7m-8.3-2.9h.7m-9.8 5.9h.7m16.1-3.8h.7m-4.1 .9h.7m-7.2-0.6h.7m0 2.4h.7m7.3-1h.7m-6.4 5.7h.7m3.9-4.6h.7m-1.9 2.3h.7m-5.5-6.4h.7m-.7 7.3h.7m4.4-5.3h.7m5.1 2.4h.7m-9.3-0.4h.7m-7.9 2.8h.7m6.7-3.2h.7m-7.9 2.6h.7m5.2-2h.7m1 1h.7m-4.3 2.8h.7m-1.3 .8h.7m-.7-5.9h.7m3.8 1.9h.7m-.1 .8h.7m-3.6-1.9h.7m-2.1 5.8h.7m-6.3-6.1h.7m-2.8 .8h.7m7.3 1.2h.7m4.1 1.2h.7m-12.3-4.1h.7m8.3-0.9h.7m-.5 3.3h.7m1.7 2h.7m0-4.9h.7m-4.7 1.8h.7m6.5-1.3h.7m-7.1-0.3h.7m-7.5 2h.7m4-2.4h.7m.7 2.8h.7m3.6 2h.7m-4.4-2h.7m-.4 1.9h.7m-7-0.3h.7m3-2.6h.7m3.1-0.6h.7m-11 1.8h.7m10.4-1h.7m-1.1-0.6h.7m-6-2h.7m4 7.2h.7m1-1.9h.7m-.9 4.1h.7m.4-5.8h.7m-8.6 1.2h.7m.5 0h.7m-3.4-7.2h.7m-4.6 4.8h.7m11 4.4h.7m-2.4-2.8h.7m-8.2 1.6h.7m8.4-1.6h.7m-1.5 .5h.7m-4.6-2h.7m-15-0.2h.7m14.3-2.8h.7m-1.7-0.4h.7m5.2 7.1h.7m-5.1-4.6h.7m-3.2 .2h.7m5.2 2.7h.7m.1 .9h.7m1.3-1.5h.7" stroke="#666" stroke-opacity="0.6525" stroke-width="0.7" fill="none"/>
<ellipse cx="488.5" cy="483" rx="4.6" ry="2.4" fill="#666" filter="url(#blur8)"/>
<path d="M491.7 449.5h.7m1.6 10.3h.7m-4.8 6.9h.7m-4.1-2.8h.7m5 3.1h.7m-4.7-6.8h.7m-9.4-8.2h.7m9.3 8.7h.7m-6.9-7.2h.7m-6.7-2.7h.7m2.8 11.6h.7m2.9-3.1h.7m13.4 5.4h.7m-15.6-4.4h.7m15.1 1.4h.7m-12.7-0.8h.7m9.4 4.6h.7m-17.3-5.2h.7m1 .3h.7m-5.1-7.5h.7m13 9.7h.7m0-8.2h.7m-5.1 14.5h.7m-3.4-4.5h.7m-5.3-11.5h.7m8 12h.7m5.3-0.7h.7m-18.5-16.3h.7m15.5 11.7h.7m-7.2 6.7h.7m-4.6-9.2h.7m13.6 4.9h.7m-7.4-0.6h.7m8.6-2.9h.7m-4.6 7.3h.7m-8.7-1.1h.7m-3.6-5.4h.7m-4.5-4.2h.7m14.4 13.4h.7m-7.4-11h.7m-.2-3.4h.7m10.9 4.9h.7m-23.1 5.7h.7m.4-2.3h.7m3.9 1.5h.7m-7.9-0.1h.7m18.6-3.9h.7m-12.5 6.1h.7m-6.6-3.2h.7m-2.1-0.6h.7m8.9-8.3h.7m5.4 7.1h.7m-12.9 1.2h.7m10.4-6.5h.7m-10.5 7.9h.7m11.9 4.3h.7m-7-13h.7m5.1 9.7h.7m2.4-2.4h.7m-14.4 2.5h.7m11 .1h.7m-13.6-4.6h.7m-7.2 .5h.7m4.2 5.9h.7m4.2-7.6h.7m.1 4.6h.7m-6.6-1.1h.7m2 4.2h.7m12.2-9.8h.7m-14.8 7.2h.7m-.1-8h.7m11.1 3.6h.7m-16.3-2.7h.7m7.4 2h.7m8.4-0.9h.7m-6.2 2.1h.7m-5.8 .6h.7m7.2 4.6h.7m-16.2-1.1h.7m2.6 1.1h.7m7.1-0.9h.7m3.8-7h.7m-17.8 5.2h.7m18.4-3.1h.7m-19.2-8.9h.7m1.4 5.9h.7m-1.4-0.3h.7m10.7 11.8h.7m-9.1-13.4h.7m-.7-3.5h.7m2.1 9.4h.7m-3.9-7.2h.7m11.5 15.6h.7m-16.2-11.5h.7m12.4 7.3h.7m-11.2 .2h.7m15.8-8.5h.7m-10.6 9.3h.7m-1.2-7.8h.7m-2.4 1h.7m6.6-1.9h.7m-15 4h.7m.7-7.5h.7m8.8 14.9h.7m-9.3-3.9h.7m17.5-0.1h.7m-5.4-5h.7m-4.6 4.3h.7m-.7-3.5h.7m6.9-1h.7m-7.6 6.9h.7m-12.9-5.9h.7m13-5.5h.7m2 8.1h.7m-5.8-0.6h.7m-9.8 5.6h.7m5.9-6.7h.7m-6.7 2.7h.7m6.5-5.9h.7m7 2.3h.7m-8.5-5.2h.7m-.9 4.4h.7m7.7 3.4h.7m-3.7-0.7h.7m-6-2.1h.7m4.6-0.7h.7m-5.7 1.4h.7m5.4-5.6h.7m-9.2 2.4h.7m-11.9-1h.7m3.2-4.3h.7m-1.1 .5h.7m2.7 8.2h.7m11.9-1.4h.7m-.5 6h.7m-12.2-10.7h.7m9.9 5.8h.7m-14-4.6h.7m11 5.3h.7m-2.9 2.3h.7m5.2 4.5h.7m-2.5-7.3h.7m-11.7-7.3h.7m15.5 8.9h.7m-7.2 2h.7m-7.7-1.1h.7m4-7.7h.7m1.1 8.4h.7m-8.3-5.7h.7m-4.5 6.4h.7m13.6-4.6h.7m.4-1.1h.7m-11.3 3.4h.7m-4.6-6.8h.7m11.7 5.6h.7m-14 4.2h.7m11.2-7.5h.7m-.8-0.5h.7m-3.6 5.8h.7m-5.1-3.3h.7m11.1-0.1h.7m-10.6-3.4h.7m-4.3 4.1h.7m13.3 6.9h.7m-18.2-12.6h.7m12.2 11.8h.7m-4.9-13.3h.7m.2 10.7h.7m-13.4-6h.7m5.3 3.4h.7m9.6 4.2h.7m-2.7-9.2h.7m.7 9.9h.7m-14.6-4.9h.7m-.7-0.6h.7m14.3 5.5h.7m-3.8-4.3h.7m2.5-0.3h.7m-15.9 9h.7m2.4-11.8h.7m3-7.8h.7m-.5 18.5h.7m5.4-0.8h.7m-11.2-2h.7m-7.8-11.3h.7m24.2 11h.7m-13.8-5.3h.7m1.1 3.2h.7m3.9-7.7h.7m6.1 7.5h.7m-22.7-1.3h.7m16-1.2h.7m-16 .6h.7m2.7 4.7h.7m.5-14.3h.7m-5.4-1.2h.7m13.1 13.8h.7m-17.5-11.9h.7m5.9 11.2h.7m1.5-4.3h.7m-4-6.4h.7m3.8 12.9h.7m-4.7-6.8h.7m10.1 1.2h.7m-11.5 4.6h.7m1.4 1.3h.7m-1.4-2.9h.7m-4.6-13.4h.7m4.1 9h.7m4.5-5.1h.7m-5.1 3.5h.7m-2.6 4h.7m13.3 3.5h.7m-5.9-4.3h.7m5.9-1.4h.7m-9.1-1.9h.7m1 4.4h.7m-7.2-4.3h.7m7.7 10.6h.7m-7.7-15.8h.7m7.7 10.8h.7m-17.9 4h.7m7.3-5.3h.7m-2.9-7.6h.7m-7.9 2.7h.7m7.7-7.3h.7m-5 7.5h.7m16 1.3h.7m-21.1 2.4h.7m21-0.9h.7m-7.3 4.9h.7m-3-5h.7m-3 6.6h.7m-3.5-7.5h.7m-1.1 3.3h.7m7-3.9h.7m-6.3 5.8h.7m5.4-2h.7m-4.6-3h.7m1.1-7.7h.7m-10.7 4.9h.7m-1.8 1.6h.7m2.2-6.7h.7m8.9 9.5h.7m-1.2 6.7h.7m7.4-3.1h.7m.8-6.6h.7m-16.1-1.9h.7m2.9 .2h.7m-11.5 .6h.7m10.8 1.2h.7m4.6 4.2h.7m-.6 1.6h.7m-14.2-0.2h.7m10-3.9h.7m-4.3 4.8h.7m-5.7-9.1h.7m11.4 7.2h.7m-8.6 2.5h.7m-2.8 1.4h.7m2.8-13.5h.7m4.5 10.5h.7m-4-2.8h.7m-1.3 3.5h.7m-3.6 .3h.7m6.6-5.8h.7m-8.2 8.9h.7m.6-2.6h.7m-4 1.4h.7m-8.9-3h.7m4.3-5.8h.7m-2.6-2.1h.7m14.3 5.9h.7m-10.8-9.3h.7m-6.3 4h.7m-4.4-2.4h.7m20.4 13.9h.7m-11.9-7.2h.7m-3.2-3.7h.7m-2.8 4.8h.7m9.9 3h.7m-9.7-11.6h.7m7.8 7.3h.7m-8.8 1.5h.7m-7.7 .1h.7m10.9-2.4h.7m-13.3 5.5h.7m6.9-5.4h.7m-4.5 4.5h.7m-1-5.1h.7m4.8 6.2h.7m-3.8-1.5h.7m12.6 2.7h.7m-.2-5.3h.7m-15-5.5h.7m1-3.8h.7m10.1 2.4h.7m-6.7-3.4h.7m-7.7 11.5h.7m6-3.1h.7m-7.6 5.5h.7m19.8-7.1h.7m-20.7 7.3h.7m5 .3h.7m9.3-5.6h.7m-3.2-3.8h.7m-1.2 4.2h.7m6.3 .3h.7m-13.1 .4h.7m9.4-4.3h.7m-3.8 3.9h.7m-19.8-1.2h.7m21.4 6.3h.7m-2.1-1.7h.7m-12.4-0.9h.7m6.1-1.2h.7m-12.4-7.7h.7m12 9.3h.7m-9.9-9.8h.7m3.5-0.3h.7m-1.1 4.7h.7m-4.9 3.5h.7m9.9-3.6h.7m-5.8 4.8h.7m-3-2.6h.7m2.4-5.4h.7m-4.1 5.4h.7m-9.3-6.8h.7m19.7 13.5h.7m-8.4-10.8h.7m-2.3 2.4h.7m6.3 5.8h.7m-1.1-10.8h.7m-4 11.8h.7m6.4 2.4h.7m-7.2-9.1h.7m.5-0.2h.7m3.3 4.1h.7m-16.8-6.7h.7m-3.9-0.6h.7m15.2 11.3h.7m-12.6 .5h.7m6.7-9.6h.7m-4.9-0.3h.7m12.4 7.6h.7m-16.1-5.2h.7m-5.4 7.6h.7m8.2-9.5h.7m7.8 4.2h.7m-2.6 .2h.7m-14.7 .9h.7m1.4-3.1h.7m8.3 .5h.7m-7.9 5.1h.7m9.6-1.4h.7m-13.7-7.5h.7m-.7 3.5h.7m1.2-0.6h.7m10.6-4.7h.7m-8.3 12.8h.7m2.2-10.9h.7m3.1 4.4h.7m.4 5.2h.7m2.7-6.8h.7m-11.3-0.7h.7m-2.1 5.6h.7m-.7-6.1h.7m11.5 7h.7m-3.8-7.8h.7m-11.2 7.7h.7m4-0.3h.7m3.3-5.5h.7m-7.6 .6h.7m.2-3.9h.7m-1.1 7.8h.7m1.8-4.7h.7m-5.9 5h.7m-.4-6.1h.7m-8.1 .1h.7m-.5 10.2h.7m17.1 .4h.7m-7.3-2.8h.7m-.9-9h.7m-9.8-4.9h.7m5.5 9.6h.7m10.1 4h.7m-17.3-13.5h.7m.7 6.3h.7m11.1 9.1h.7m-2.6-11.9h.7m-11.4 12h.7m7.1-7.1h.7m-5.1-4.3h.7m11.1 3.7h.7m-8.3-1.8h.7m-3.8 6.3h.7m.2 .4h.7m-4.8-12.2h.7m-1.3 7.7h.7m.2-3.7h.7m-.5-0.6h.7m8.8 15.3h.7m-3.4-12.6h.7m-6.4-7.5h.7m-2.7 11.7h.7m9.2-1h.7m-11.3 .9h.7m10.8 3.9h.7m7.5-3.7h.7m-24.2-3.8h.7m19.6 5.1h.7m-19.6-9.9h.7m5 2.2h.7m8.3-2.1h.7m-16.3 5h.7m9-2.9h.7m-7.6 8.1h.7m13.4-6.6h.7m-18.1-0.9h.7m19.8 9.4h.7" stroke="#2ab82a" stroke-opacity="0.406" stroke-width="0.7" fill="none"/>
<path d="M470.7 453.2h.7m-7.6 13.9h.7m7.3 1.2h.7m-10.3-15.2h.7m-2 22.7h.7m10.5-25.4h.7m-4.2 17.8h.7m-1.5-11.6h.7m-4.7 1.5h.7m-2-4.5h.7m2.2 8.6h.7m-7.9-0.7h.7m3.5-5h.7m-4.9 10.8h.7m7.1 1.2h.7m-8.9-6.9h.7m-4.4 6.2h.7m6.3-16.2h.7m-3.5 14.4h.7m1.3-1.2h.7m-5.3 23h.7m23.5-32.2h.7m-17.1 11.8h.7m10.2-8.3h.7m-8.3 14.1h.7m-4-5.5h.7m-7.3 2.9h.7m12-2.9h.7m-3.6-18.9h.7m-2.3 9.7h.7m-1.5 3.6h.7m-7-3.9h.7m-1.2 .3h.7m6.6 28.1h.7m1.7-29.7h.7m6.5 15.1h.7m-23-7.5h.7m14-1.6h.7m-3.9 14.8h.7m-5.2-13.6h.7m2.6-11.2h.7m4.9 12.5h.7m-7.1-7.8h.7m.7 21.2h.7m-1.6-9.8h.7m.4-5.8h.7m16.4 4.7h.7m-2.9 4.9h.7m-7.6-16.7h.7m-18.3 7.5h.7m21.3-3.1h.7m-14.1 6h.7m3.2-4h.7m-5.8 13.6h.7m5.4-20.2h.7m-10.2 17.1h.7m12.5-12.7h.7m-3.9-5h.7m-7.3 8.6h.7m1.6 3.3h.7m-5.5-7.4h.7m4.9-6.4h.7m-1.8 4.8h.7m-2.7 16.4h.7m-3-6.1h.7m4.3-31.4h.7m-2.4 19.1h.7m.8 7.5h.7m-4.4-2h.7m12.5 8.9h.7m-12.7-5.3h.7m9.9-7.8h.7m-7.6 4.4h.7m3.6-5.3h.7m-18.2 19.3h.7m23.2-10.1h.7m-22.8-7.5h.7m7.3-3.1h.7m-2.3 5.6h.7m9.8 6h.7m-1.9 .9h.7m-11.8-4h.7m9.5 14.9h.7m.6-18h.7m-9.5 15.6h.7m1 5.1h.7m-.1-13.4h.7m.2-13.6h.7m3.1 16h.7m.1-16.3h.7m-8.6 9h.7m3.1-4.5h.7m.7 4.6h.7m-2.3 12h.7m-10.1-14.3h.7m1.5 21.9h.7m2-18.7h.7m1-9.2h.7m6.1 11.6h.7m-10.4-11.4h.7m19.1 9.4h.7m-22.2 18.4h.7m6.6-2.9h.7m-.9-26.4h.7m-7.4 1.8h.7m11.7-1.7h.7m-4.2 9.1h.7m-6-1.7h.7m.5 5.8h.7m-5.8-15.7h.7m12.5 11.5h.7m-6.2-7.1h.7m-5.9-2.3h.7m9.1 18.8h.7m-17.5-13.8h.7m13.4 22.1h.7m.2-27.4h.7m-4.2 14.4h.7m2-0.4h.7m2.7 11.4h.7m-.4 7.8h.7m-11.2-0.5h.7m9.1-11.5h.7m-8.9-1h.7m-1.2 .4h.7m5.1-0.8h.7m-6.4-17.4h.7m6.7-8.2h.7m-1.3 8.5h.7m-.2-2h.7m-10.3 16h.7m6.2 1.7h.7m3.1-9.7h.7m.2-3.7h.7m4.6 12.9h.7m-5.4 2.8h.7m-15.3-6.1h.7m6.5 4.9h.7m.9-16.7h.7m-9.5 1.3h.7m4 19.2h.7m-5-17.8h.7m4 18.8h.7m11.1 9.5h.7m-9.6-20.8h.7m-7.1 8h.7m-3.8-6.3h.7m5.1-1h.7m16.2-4.2h.7m-17 11.2h.7m.2-6.6h.7m18.4-0.5h.7m-14.8-18.9h.7m-6.6 14.1h.7m1.7 .2h.7m-7-1.8h.7m11.9-6.2h.7m-6.7 7.5h.7m-8.4 16.6h.7m-.7-13.7h.7m2.7-13.9h.7m-2.9 .4h.7m7.5 14.9h.7m-14.9 4h.7m19.9-2.7h.7m-2.6 2.7h.7m-19.8-8.1h.7m5.2 9.5h.7m7-3.1h.7m2.7-19.4h.7m1.3 28h.7m-6.7-6.5h.7m.2-17.6h.7m-8.1 12.8h.7m8.9 .6h.7m-8.7-9.8h.7m2.4 4.1h.7m-3 13.3h.7m4.6-13.6h.7m7.7 4.7h.7m-6.8-2.6h.7m-10.4-3h.7m12.6 3.3h.7m-1.3 6.7h.7m-14.7-3.3h.7m3.3-8.7h.7m8.9 15.4h.7m-10.2-10.7h.7m.9-9.4h.7m8.3 16h.7m-2.3 7.1h.7m1.9-11h.7m-13.8 10.1h.7m15.4-2h.7m-25.6-9h.7m15.4 8.4h.7m-1.1-12h.7m-7.2 7.7h.7m-4.9-13.6h.7m7.6 10.5h.7m4 1.9h.7m-10 7.8h.7m6.8-10.9h.7m-1 0h.7m-5.1 23.3h.7m-2.7-23.1h.7m11.8 4.1h.7m-14.6-1.9h.7m11-16.3h.7m-11.6 12.6h.7m3.1 9.9h.7m.7 4.5h.7m7-12.3h.7m-11.4 8.7h.7m7.1-19h.7m-9.3 8.1h.7m11.5 7.3h.7m-14.6-8.4h.7m11.3 1.1h.7m-.5-4.7h.7m-14.6 19.6h.7m13.5-11.3h.7m-12.9 .6h.7m0 5.6h.7m-2.8-14.3h.7m.5 15h.7m3-21h.7m5.4 8.8h.7m7.1 12h.7m-12-26.1h.7m-9.5 3.8h.7m11.8 12.2h.7m-14.8 10.2h.7m11.7-1.8h.7m-8.3-0.2h.7m-.5-13.2h.7m-4.8 4.5h.7m13.2 1.9h.7m-5 7.1h.7m-2.6-4.9h.7m-11.1-5.4h.7m6.1-3.4h.7m-1.2 11.1h.7m10.8-2.8h.7m1.4-8.2h.7m-3.9 9.3h.7m2.9-5.3h.7m-2.7 18.2h.7m-10.3-24.1h.7m2.5 3.7h.7m-11.7 5.2h.7m13.3-11.7h.7m-.6 2.4h.7m-12.5-2.7h.7m12.4 4.9h.7m-7.5 3.5h.7m-11 22.7h.7m10.3-6.7h.7m4.9-25h.7m-8.9 4.4h.7m3 18.7h.7m1.6-14.9h.7m-6.2 8h.7m-1.3-2.7h.7m-6.9 12.7h.7m10.8 1.4h.7m-2-5.2h.7m9.2-8.5h.7m-8 1.2h.7m-4.7 .1h.7m-8-1.8h.7m-4.8-15.6h.7m8.5 9.4h.7m-.5-7.9h.7m5.1 13.9h.7m-3.6 4.5h.7m-.7 .4h.7m6.3-14.4h.7m-5.7 17.1h.7m-.2-19.9h.7m-1.9 14.7h.7m.6-4h.7m-4-0.2h.7m9.6 8.6h.7m-9.5 1.8h.7m2.3-15.6h.7m3.5 5.8h.7m-10.4 .6h.7m-2.7 5.3h.7m6.8-20.7h.7m3.5 3.2h.7m2 33.1h.7m-11.3-14.1h.7m9.6-6.1h.7m-12.1-1.1h.7m-.2 .1h.7m3.8-9.1h.7m-5.3 6.5h.7m-5.6 2h.7m2.2-4h.7m19.1-0.9h.7m-14.5 .5h.7m0 31.5h.7m-11.1-18.7h.7m3.4-17.7h.7m.6 6.3h.7m1.1 6h.7m2.5-7.4h.7m-13.2 10.5h.7m9.3 13h.7m4.3-38.7h.7m-.1 30.3h.7m-25-9.4h.7m23.1-12.3h.7m-10.1 5.4h.7m-2.5-15.8h.7m12.5 10.8h.7m.3 26.3h.7m-13-24.8h.7m1.8-8.9h.7m-4.8 22.1h.7m.4 9h.7m-.1 1.4h.7m-9.3-26.8h.7m8.8 6.4h.7m9.7 4.9h.7m-14.4 6.6h.7m1.1-13.4h.7m1 14.6h.7m-1 4.2h.7m-.2-11.6h.7m2.7 6h.7m.2 9h.7m-2.4-15.8h.7m.7 12.4h.7m.9-14h.7m2.5 4.5h.7m-10.3-0.8h.7m-6.1-2.2h.7m13.6 6.3h.7m-13.8-1.1h.7m.2-2.5h.7m7.3 1.6h.7m-9.3 3.6h.7m1.8-15.3h.7m6.6 1.1h.7m-3.3 8.2h.7m5.4 6.3h.7m-5.4-13.8h.7m-11.3 13.2h.7m14.8-9.3h.7m-3.7 1.8h.7m-15.8 7.3h.7m5.9-4.8h.7m1.9-4.2h.7m11.2 8.8h.7m-11.6-3.5h.7m.2-8h.7m4.4-15.6h.7m-4.9 34.2h.7m-4.3-17.5h.7m3.2 5.9h.7m-.9 2.4h.7m1.6-16.9h.7m-6.7 20.6h.7m2.4 1.9h.7m2.5-13.5h.7m-11.5 5.3h.7m-2.1 19.1h.7m17-29.6h.7m-26.7 .3h.7m20.2 8.7h.7m-12.3-0.8h.7m9.3-6.8h.7m-.2 9.2h.7m-10.2-5.5h.7m3.8 15.7h.7m-1.4 0h.7m.2 4.7h.7m2.5 2.4h.7m0-19.3h.7m-1.2-1.8h.7m-3.1 17.4h.7m2.6-4.3h.7m4.5-1h.7m-13.1-18.3h.7m15.3 20.2h.7m-7.3-3.7h.7m-5.7-13h.7m2.1 11.9h.7m-2.9-8.9h.7m-15.9 5.8h.7m9 1h.7m-3.3-8.1h.7m11.3 5.7h.7m-.7-5.9h.7m6.1 9.9h.7m-4.2-4.6h.7m-3 20.6h.7m.2-25.1h.7m-7.8 2.1h.7m1.3-11.3h.7m4.3 1.2h.7m3 8.1h.7m-9.9 7.9h.7m-3.4-19.9h.7m5.3 6.4h.7m1.1 21h.7m-9.9 3.1h.7m-6.8-15.9h.7m5.3 8.7h.7m5.3-17.3h.7m.1 26.9h.7m-2.7-15.7h.7m8.4 9.6h.7m-22.3-10.1h.7m5.3-3h.7m7.2-12.8h.7m4.5 11.7h.7m-19.4 30h.7m23.3-20.2h.7m-15.2 1.7h.7m-3.5-6.6h.7m-1.9 1.1h.7m9.6 8.2h.7m10.3-16.4h.7m-18.3 .3h.7m11.1 10.5h.7m-13.4-0.2h.7m6.3-6.5h.7m0 6.4h.7m-6 .9h.7m-7.7-6.1h.7m4.8 2.3h.7m-9.5 1.3h.7m6.9-3.8h.7m12.5 .7h.7m-9 3.7h.7m-6.3-17.1h.7m-2.9 11.2h.7m1 3.9h.7m-9.5 1.6h.7m11.7 2.4h.7m-4.3-10.6h.7m2.7 12.9h.7m1.3 .3h.7m-8-8.2h.7m14-8.8h.7m-11.3 5.5h.7m-11.2 1.1h.7m17.1 11.7h.7m-8-12.9h.7m-8.4 7.7h.7m12.3-10.8h.7m-5.2 19.2h.7m2-17.7h.7m-12 2h.7m4.6 9.8h.7m1.3-4.9h.7m-4.3-20.9h.7m5.2 17.9h.7m1.6 12.8h.7m-.1-32.1h.7m1.6 22.7h.7m-6.4-18.1h.7m-3.8 6.7h.7m-1.3-9.7h.7m-1.5 25.9h.7m1.9 .6h.7m8.4-1.8h.7m-11.6 20.6h.7m13.1-30.9h.7m-13.5 3h.7m-2.3 8.8h.7m1.6-20.8h.7m-4.9 13.4h.7m-3.5-12.8h.7m1.3 20.5h.7m12.3 .1h.7m-.1-6h.7m-20-10.6h.7m17.4-9.8h.7m-6.7 10.5h.7m-.2 14.7h.7m4.4-17.7h.7m-.2 10.1h.7m-.3-4.3h.7m-5.3 17h.7m-9.4-21.8h.7m12.7 19.8h.7m-17.4-19.8h.7m13.3 5.9h.7m-8.8 10.5h.7m-5.7-9.1h.7m11.4-10.8h.7m-4.1 8.3h.7m-6.1 4.6h.7m7.9-2h.7m-6.7 8h.7m5.5-2.7h.7" stroke="#2ab82a" stroke-opacity="0.435" stroke-width="0.7" fill="none"/>
<path d="M464 469.5h.7m.7 3.8h.7m-4.8-15h.7m.8 10.4h.7m-4.4-10.7h.7m1.7 17.2h.7m.2-6.2h.7m-3.4-3.3h.7m3.6-2.2h.7m4.8 1.6h.7m-2.1 2.9h.7m-4.7-0.1h.7m1.2-4.3h.7m-4.9 2.7h.7m3 7.8h.7m-3.2-0.4h.7m1.4-8.1h.7m-3.5-2.4h.7m3.4 1.3h.7m-.5 11.9h.7m.1-0.6h.7m-5-12.4h.7m-1.5 4.3h.7m3.6 5.4h.7m-2.5-5.2h.7m.6-0.2h.7m1.2-7.9h.7m-6.9 9.3h.7m2.6 4.3h.7m-2.3-6.7h.7m-.6-4.1h.7m.9 8.1h.7m-.1 1.5h.7m1.5-7.3h.7m-1.7-4.7h.7m1.3 9h.7m-4.6-6.8h.7m-6.5 10h.7m4.6-1.7h.7m-4.1-4h.7m2.3 2.3h.7m-.2-7h.7m-1.4 3.9h.7m4.1-6.3h.7m-7.3 14.2h.7m-.7-11.3h.7m2.4 1.2h.7m-.6-2.4h.7m.3 6.6h.7m-2.9 6.7h.7m0-4.7h.7m.5-2.5h.7m-1.9 1.9h.7m-.4 7.6h.7m-3.1-12.6h.7m-4.9 1.9h.7m4.1 .5h.7m1.6 4.4h.7m-4.9-5.2h.7m.2 1.6h.7m4.3 1.8h.7m-2.1 3.2h.7m-1.5 1.7h.7m-2.2-9.8h.7m-1.6 .5h.7m1 .4h.7m-5.4 4.7h.7m2.3-2.5h.7m5 3.1h.7m-3.2 1.3h.7m-5.2-10.6h.7m3 9.4h.7m.1-4.8h.7m-3.9 4.1h.7m1.7-2.4h.7m-5.2-1.3h.7m1.4 4.4h.7m-.9 2.7h.7m4.2-7.8h.7m-4.7 4.5h.7m-1.5 3.9h.7m-1-8.7h.7m.9 6.7h.7m3.7-0.6h.7m-3.5-9.9h.7m-2.5 .8h.7m-.5 2.9h.7m2.4 0h.7m-8.5 9.7h.7m-3.5-12.3h.7m5.9 12h.7m-1.9-11.4h.7m.8-2.4h.7m.7 4.5h.7m-5.7-2.1h.7m5.8 3.6h.7m-3.3 2.3h.7m-3.9-7.3h.7m3.3 4.1h.7m-2.2 7.1h.7m2.1-8.6h.7m-7 13.4h.7m.5-10.6h.7m8.3-4.1h.7m-8.3 13.8h.7m2-14h.7m1.6 8.7h.7m.5 2h.7m-2.2 .7h.7m-5.3-7.3h.7m2.4-6.2h.7m-.4 11.4h.7m1.1-4.2h.7m-1.7-7.3h.7m-4.8 8.6h.7m-1.5-5.9h.7m5.6 6h.7m-7.6-2.5h.7m3.9 5.2h.7m-.4-2.3h.7m-5.6-6.3h.7m1.7 9.3h.7m-2.3-0.3h.7m5.4 7.2h.7m-6.9-8.7h.7m3.1-2.1h.7m-2.7 1.9h.7m3-3.5h.7m-2.4 4.1h.7m-.2-4.1h.7m-2.1 7.5h.7m2.7-7.6h.7m-6-4.6h.7m3.2 2.6h.7m-2.1 12.9h.7m-1.3-4.1h.7m-.9-11.4h.7m-5.9 5.6h.7m6.7-0.8h.7m-1.7 12.3h.7m2.2-10.2h.7m-4-0.8h.7m-3.6 1.2h.7m3.3-9.9h.7m-5.6 7.4h.7m.1-1h.7m2.1 .1h.7m-4.7-5.7h.7m5.9 10.4h.7m-3 .1h.7m-2.8-4.4h.7m-2.5 4h.7m5.3 1.6h.7m-3.9-0.6h.7m5-4.3h.7m-8.1-9.4h.7m.6 0h.7m-1.9 9.7h.7m-1.8-4.8h.7m1.9 7.4h.7m-.9-8.5h.7m5.3 6.3h.7m-7.1 5.6h.7m1.5-6h.7m-1.9-8.7h.7m-3.9 4.3h.7m1 8.6h.7m5.2-4.8h.7m-3.4-9.7h.7m-.3 12.5h.7m-5.5-6.8h.7m5.5 10.5h.7m-4.5-1.7h.7m-3 2.4h.7m-.1-6h.7m.8-1.2h.7m.2-5.5h.7m-.5 .2h.7m1.8 8.3h.7m-2.3-3.8h.7m-5.8 1.4h.7m4.4 2.3h.7m-8.8-12.3h.7m6.5 8.4h.7m-1.7 6.5h.7m-2.6 1.5h.7m4.4-1.9h.7m-3.6 9h.7m-.4-14.9h.7m-3.2 .5h.7m2.8-0.7h.7m-3.9 1h.7m-2.1-0.9h.7m1.6-2.8h.7m2.1 .2h.7m-3.9 4.2h.7m5.3-3.8h.7m-6.2 3.4h.7m2.6 1.8h.7m-1.7-1.8h.7m1 .6h.7m-5.1 4.2h.7m2.5-12h.7m.4 6h.7m-6.4-0.8h.7m.1 11.2h.7m-3.4-5.8h.7m2.8 .6h.7m-2.2-2.8h.7m4.5-2h.7m-7.7 3.5h.7m.7-11.6h.7m-2.5 15.1h.7m.2-13.9h.7m4.7 4.9h.7m-4.7 8.2h.7m.3-9.7h.7m3.9 6.9h.7m-2 0h.7m-1.8-7.4h.7m-.6 10.4h.7m-1.5-14.4h.7m4.8 9.6h.7m-4-4.4h.7m-1.5 2.6h.7m.4 2.7h.7m-.1-3.6h.7m-3 13.8h.7m-1.4-5.1h.7m-2.8 3.3h.7m2.6-4.9h.7m-3.6-4.8h.7m5.1-0.8h.7m-5.4 5.2h.7m-.2-11.6h.7m-.9 1.9h.7m-4.7-1.4h.7m-.3 10.5h.7m5.4-8.3h.7m-2 6.3h.7m-.3-2h.7m-6.1-2.7h.7m4 2.1h.7m-3.1 2.3h.7m3.1 2.4h.7m-3.5-0.7h.7m-1.1-11.6h.7m-.6 7.1h.7m1.4 8.9h.7m0 2.7h.7m-6.7-6.8h.7m2.1 2.2h.7m-2.2-1.1h.7m-.5-10.8h.7m3.2 1.4h.7m-3.1 4.2h.7m-6.5-1.7h.7m6.4 4.2h.7m.3-4.5h.7m4.7-7.1h.7m-7.7 4.6h.7m-.3-1.2h.7m6.3 18.8h.7m-5.8-7.3h.7m-3.5-5.8h.7m2.5-2.7h.7m-3.3 8.7h.7m-1.3-7.1h.7m-2.8-8.6h.7m7.3 4.4h.7m-4.2 5h.7m-2.8-1h.7m-3.5-0.9h.7m1-4.2h.7m-7.3 4.3h.7m12 6.2h.7m-7.9-2.6h.7m2.5 3.2h.7m.1-9.6h.7m0 4.1h.7m-2.9-1.5h.7m-2 4h.7m3.9 5.1h.7m.5-8.8h.7m-7.4 2.9h.7m3-8.6h.7m-.5 10.9h.7m-3.5-3h.7m1.9 2.8h.7m-.8-1.4h.7m-3.9 2.9h.7m1.3-0.8h.7m-1.1-8.7h.7m-1 5.9h.7m1.4 1h.7m-.2 4.8h.7m1.7-11.3h.7m-10.2 5.4h.7m2.1 .5h.7m.8-1.6h.7" stroke="#777" stroke-opacity="0.5075" stroke-width="0.7" fill="none"/>
<path d="M461.5,464.0 L461.0,458.0 L463.0,454.0 L467.0,451.5 L472.0,450.5 L479.0,449.5 L479.3,453.0 L478.0,455.5 L474.0,456.2 L470.5,457.8 L468.8,460.5 L468.0,464.0 L466.5,468.0 L463.0,468.0Z" fill="#1bb21b" fill-opacity="1.0" filter="url(#blur7)"/>
<path d="M464 458.9h.7m-.6-5.3h.7m-.3 1.5h.7m6.1 2.8h.7m-3.7 4h.7m-1.5-3.1h.7m.1-7.7h.7m-3.1 15.6h.7m-.8 .4h.7m3.8-10.7h.7m-4.1-4.4h.7m9.5-0.4h.7m-12.9 2.6h.7m.5 7h.7m-4-7.3h.7m2.5 5.5h.7m1.2-5.5h.7m-.4-1h.7m-2.7 6.6h.7m5.9-6.1h.7m-4.8 4.6h.7m-3.3 2.4h.7m-4.7-0.8h.7m0-1.1h.7m5.1 1.8h.7m-1.1 2.4h.7m-7.7 2.4h.7m.6-2.8h.7m18.8-12.4h.7m-14.9 7.7h.7m-.4-1h.7m7.2-5.3h.7m-3.5 3.2h.7m-8 4.3h.7m-2 9.1h.7m-1-14.3h.7m12.3 3.1h.7m-10.2 3.3h.7m-.2-7h.7m-1.8 2.5h.7m.1 10.5h.7m6.7-16.3h.7m-10.5 14.1h.7m6.3-13.1h.7m.4 4.6h.7m-11.7 9h.7m1.1-10.6h.7m13.6-1.2h.7m-12.7 6.7h.7m-.9-1.4h.7m1-6.3h.7m5.5 3h.7m-13.5 7.4h.7m10.4-7.6h.7m1.6-0.5h.7m-8.4 1.3h.7m2.2-0.1h.7m-3.8 1.6h.7m-.5-2.1h.7m-4.7 .2h.7m4.2 .5h.7m-2.6-3.8h.7m-1.5 7.1h.7m11.5-7.1h.7m-8.8 11.6h.7m2.9-7.2h.7m-6.1-2.2h.7m5.6 .3h.7m-2.9 .6h.7m.2-4.9h.7m-.8 1.9h.7m3.4 2.3h.7m-9.4 3.7h.7m-4.6 9.9h.7m2-10.1h.7m6.4 .3h.7m-9.7-2h.7m-3.3 6h.7m11.2-4.8h.7m1.2-4.5h.7m-10.7 8.1h.7m2.2 0h.7m11.7-8.1h.7m-16.9 13.8h.7m9.2-13.4h.7m-1.7-0.1h.7m-9.9 7.2h.7m7.7-3.6h.7m-5.3 10.1h.7m-3.3-13.1h.7m-1.6 15h.7m14-15.2h.7m-19.6 5.3h.7m1 7.3h.7m-2.2-9.1h.7m5.7-2.3h.7m-6.3 13.1h.7m.9-4.5h.7m4.9-3.1h.7m-.7-9.9h.7m-2.6 16.8h.7m-6-2.9h.7m2.4 .7h.7m3.1-9.2h.7m8.6-1.9h.7m-7.5 2.8h.7m2.8-3.1h.7m-13 5.8h.7m6.2-4.2h.7m1.3 2.4h.7m-6.6 2.4h.7m-1.7 4.8h.7m4.1-12.5h.7m5.7-1.3h.7m-11.7 7.4h.7m0 3.4h.7m-1.2-0.6h.7m-.2 3.8h.7m-2.9 2.1h.7m9.7-10.2h.7m-13.1 1.1h.7m1.9 2h.7m3.5-5.4h.7m-.2 5.8h.7m-5-1.1h.7m1.7 2h.7m3.1-9h.7m8.2-0.8h.7m-17 8.5h.7m6.1-1.5h.7m.7-2.6h.7m3.2-4.7h.7m-15.8 11.1h.7m8.2-7.4h.7m-3.7 6.8h.7m-6.2 1.4h.7m2.4-7.9h.7m-1.3 7.3h.7m-1.6 3.1h.7m3.7 .7h.7m1.5 .6h.7m5-10.8h.7m-10.2-1.8h.7m13.3-4.2h.7m-6.2 2.1h.7m-6.7 6.3h.7m-5.4 1.9h.7m13.5-4.5h.7m.2-0.6h.7m-8.2 1.1h.7m-5.6 8.4h.7m-1.7-12h.7m.5 5.5h.7m6 1.6h.7m-11.6-3.6h.7m4.1-0.5h.7m.9 2.3h.7m10.3-7.7h.7m-13.4 16.7h.7m1.1 .7h.7m-1.6-14.1h.7m8-3h.7m-.5 0h.7m-9 .1h.7m2.7 .4h.7m-4 5h.7m-3.1 7.1h.7m9.8-13.3h.7m-10.2 4.5h.7m-1.2 3.1h.7m4.2 2.1h.7m-8.6 7.6h.7m3.6-13.4h.7m5.2-0.4h.7m-7.7 11.8h.7m-2.7-9.9h.7m6.8-3.2h.7m-7.5 7.7h.7m.5-1.2h.7m9.2-6.5h.7m-4.6-1.8h.7m-9.1 5.4h.7m-.5 4.8h.7m2.6-10.1h.7m.7 16h.7m-5-9.7h.7m11.4-6.2h.7m-13.8 12.8h.7m-.8-0.8h.7m-.3 3.5h.7m3.4-9.5h.7m-2.9 8.6h.7m2.8-12.2h.7m-3.2 11.6h.7m.6-0.4h.7m-2.4-2.6h.7m.9 4h.7m-1.4-6.6h.7m2.1-5.9h.7m-9.9 8.7h.7m14.4-11.3h.7m-11.9 6.4h.7m.1 2.9h.7m4.8-2.7h.7m-7.6 10.3h.7m-1.3 1.2h.7m-1.7-10.2h.7m-.9 4.6h.7m5.1-4.5h.7m-.9 3.4h.7m3.4-8.3h.7m-9.1 5h.7m-2.8 .1h.7m15-9.3h.7m-14.9 13.3h.7m8.6-10.3h.7m-12.8 8.1h.7m11.4-7.3h.7m-8 9.7h.7m1.7-8.3h.7m-2.3 4.5h.7m11.2-8.4h.7m-11 6.5h.7m-6.1 .7h.7m6.7-3h.7m-7.6 10h.7m9.3-13.9h.7m-1.8 1.2h.7m-2.5 8.4h.7m-5 8h.7m3.5-13.3h.7m-2.1 5.1h.7m10.6-11.4h.7m-13.1 5h.7m5.8 .1h.7m-10.8 1.9h.7m5.2-2.8h.7m-6.2 .6h.7m11.1 .3h.7m-1-1.8h.7m-9.7 3.4h.7m8.6-1.3h.7m-10.7 12.9h.7m1.5-3.1h.7m-3.6-2.1h.7m12.4-10.7h.7m-14.2 11.4h.7m.2-0.6h.7m10.2-11h.7m-9.9 8.1h.7m-6.5-1.5h.7m2.6 10.3h.7m.5-15.3h.7m-4.1 9.9h.7m1.9-3.8h.7m10.9-2.7h.7m-.4-0.5h.7m-10.3 3.1h.7m-5.5-0.3h.7m2.3 10.2h.7m10.8-15.5h.7m-14.8 3.4h.7m2.7 7.6h.7m1.5-12.6h.7m.7 4.4h.7m-9.7 .2h.7m10.7 3.1h.7m-5.7-2h.7m6.3-1.6h.7m-13.3 5.3h.7m8.1-6.7h.7m-5.7 4.8h.7m-2.1 1.8h.7m5.7-4.5h.7m-9.2 6.3h.7m.1 1.8h.7m6.7-7.3h.7m-4.6 .5h.7m1.4 8.3h.7m-1.4-5.4h.7m9.9-4.4h.7m-6.4-1.1h.7m-6.8 5.3h.7m-1.5-7.7h.7m12.7-3.6h.7m-1.1 6.2h.7m-13.4-4.9h.7m3.7 6.2h.7m-8.1 8.2h.7m12.3-13h.7m-1.6 4.7h.7m-1-0.9h.7m-10.6 .9h.7m-.3 1.6h.7m-3.6 10h.7m4.9-9.4h.7m-8.5-2.6h.7m4.9 9.4h.7m11.4-13.7h.7m-4.7 .1h.7m-6 12.9h.7m6.9-11.7h.7m-12.4 16h.7m4.4-11h.7m-.7 3.7h.7m-2.4-2.3h.7m1.7-7.3h.7m-6.2 11.6h.7m3.1-6.7h.7m6-1.7h.7m-2.2-0.9h.7m-8.7 10.9h.7m-2.9-4.2h.7m13.6-8.5h.7m.7-2.7h.7m-5.4 3.8h.7m-9.9 6.2h.7m-3.5 1.3h.7m.8-3h.7m7-2.7h.7m-9.7 9.5h.7m4.3-6.1h.7m-.9 8.3h.7m-.3-6.7h.7m-6.1-2h.7m2.3-7.4h.7m3.2 4.6h.7m2.2 2.5h.7m-9.8 1.6h.7m11.2-9.3h.7m-15.1 13h.7m17.7-10.2h.7m-11.1-0.2h.7m-9.9 10.9h.7m4.8-11.4h.7m13.3 .1h.7m-6.7-1.3h.7m2.6 4.3h.7m-15.1 7.2h.7m7.1-4.5h.7m-2.6-1.9h.7m-.9 2.6h.7m-6.8-0.8h.7m13.6-1.2h.7m-8.1-3h.7m9.4-1.6h.7m-7.9 6h.7m5.5-6.5h.7m-13.2 16.6h.7m5.9-12h.7" stroke="#1bb21b" stroke-opacity="0.6525" stroke-width="0.7" fill="none"/>
<path d="M455.5,486.0 L455.5,482.0 L458.0,478.0 L462.0,474.5 L467.0,472.0 L472.0,470.0 L476.5,469.5 L476.0,473.0 L472.0,478.0 L467.0,483.0 L462.0,486.5 L458.0,487.5Z" fill="#1bb21b" fill-opacity="1.0" filter="url(#blur7)"/>
<path d="M470.6 474.3h.7m-11 3.8h.7m.2 .8h.7m7.2 .7h.7m-6.6-3.2h.7m-2.1 7.3h.7m7.7-5.6h.7m-8.6 6.2h.7m.8-3h.7m8-6.3h.7m-12.4 1.9h.7m-2.3 1.4h.7m2.7-0.1h.7m-1.6 5h.7m-3.8 2.4h.7m7.2-11.2h.7m-8.9 6.4h.7m17.9-12.2h.7m-8 2.6h.7m-12.1 8.3h.7m.9-0.3h.7m7.9-5.1h.7m-6.7 6.8h.7m2.7-4.2h.7m-5.5 6h.7m10.2-12.6h.7m-3.7 4.7h.7m-10.1 7.6h.7m2.6-1.6h.7m11.6-10.7h.7m-19.8 16.9h.7m19.9-13.9h.7m-12.2 1.8h.7m5.3 .2h.7m-6.7 6.7h.7m-3.5-2.5h.7m1-4h.7m-1.3 6.7h.7m3.1-4.8h.7m.4 2h.7m-3.7-3.4h.7m9.6-3h.7m-8.6 2.8h.7m-11.1 6h.7m9-5.1h.7m-7 4h.7m10.8-5.9h.7m-13 4.4h.7m11.8 .1h.7m-11.7 1.5h.7m.5 1.5h.7m5.8-9.2h.7m-6.4 7h.7m-2.6-1h.7m-5.4 3.9h.7m11.3-0.4h.7m-5.4-0.4h.7m-3 4.4h.7m3.2-15.6h.7m2.6 6.1h.7m-10.7 5h.7m-.1-1.6h.7m-3.5 3.8h.7m13.8-8.1h.7m-11.4 5.4h.7m5.4-1.9h.7m-3.3 5.4h.7m3.3-10.4h.7m-5.2 8.5h.7m.1-7h.7m6.6 4.4h.7m-4.5-8.9h.7m-7.9 4.4h.7m1.7 2.9h.7m1.8-6.2h.7m-1.9 1.5h.7m-4.4 8.6h.7m-.8-5.4h.7m16-2.2h.7m-13.6 6.3h.7m-5.1 5.1h.7m8.5-13.6h.7m3.1-2.8h.7m-16.8 5.8h.7m-.7 10.6h.7m5.5-10.4h.7m-2.8 9.1h.7m-5.8-0.2h.7m15.3-12h.7m-13.2 12.6h.7m4.9-3.4h.7m-.9-2.7h.7m-6.3-4.5h.7m4.7 7.9h.7m1.9-4.2h.7m-2.6-1.6h.7m0-2.2h.7m6.6-0.9h.7m-3.5-5.9h.7m-7.2 17.5h.7m-6.1-2.1h.7m-.8 .7h.7m4.4-5.9h.7m.6 2h.7m-8.4 8.2h.7m2.3-8.8h.7m9-6.1h.7m-3.8 1.9h.7m-8.3 .8h.7m1.7 6.9h.7m.2 3.8h.7m-2.9-12.2h.7m11.2-3h.7m-15.4 14.5h.7m14-9h.7m-2.3 3.7h.7m-8-2.8h.7m-8.7 7h.7m13.1-8.1h.7m-1.7 5.4h.7m-2.1-5.1h.7m-4.1-0.8h.7m-1.2 .2h.7m2.3 4.3h.7m-4.2-4.8h.7m1.3-2.6h.7m-2.3 10.4h.7m3.7-7.8h.7m3.5 1.5h.7m-.5-5.7h.7m-6.5 5.2h.7m-4.7-2.1h.7m11.4-2.9h.7m-4.1 4.8h.7m-11.3 1.9h.7m-3.1 3.9h.7m7.1 .7h.7m-.5-5.5h.7m3.1 3.2h.7m-16.4 3.2h.7m14.1-9.2h.7m2.6-2.1h.7m-6.7 .4h.7m-4.2 8.3h.7m3.8-6.3h.7m2.4 .6h.7m-3.4 .8h.7m-5.3 8.2h.7m-3.7-0.4h.7m-3.5-3.2h.7m7.3-7.9h.7m3.4-3.2h.7m-14 11.9h.7m3.2-4.1h.7m-1.5 .8h.7m-2.5 .2h.7m14.4-2.7h.7m-12.1 5.7h.7m4.7-2.8h.7m2.5 1.9h.7m-8.3-2.1h.7m-1.1 4.1h.7m8.6-10.7h.7m-10.1 4.9h.7m2.1 1.6h.7m10.2-6.5h.7m-10.3 10.2h.7m-8.8-2.8h.7m17-6h.7m.8-2.1h.7m-12.6 4.3h.7m-8.6 4.9h.7m9.4-1.3h.7m3 2.6h.7m-6.2-2h.7m-7.3 6.5h.7m6.5-10.6h.7m-9.8 5.8h.7m5.4 1.8h.7m.6-7.1h.7m11.9-6.1h.7m-6.2 5.2h.7m-5.3 11h.7m3.6-12.8h.7m-12.3 9.5h.7m8.7-5.3h.7m-8.1 6h.7m-1.2-3.1h.7m13.8-8.4h.7m-17.5 7.3h.7m7.3-3h.7m-1.3 1h.7m.2 .1h.7m6.3-5.9h.7m-9.5 .4h.7m-8.7 7.5h.7m6.1-3.8h.7m-3.1-2.1h.7m8.5-0.9h.7m-8.2 9.9h.7m-9.2 2.9h.7m7.4-9.7h.7m4.8-1.1h.7m1.8 5.6h.7m-3.4 .5h.7m6.1-7.7h.7m-17.9 7.8h.7m9.6-5.6h.7m-7.6 4.3h.7m11.2-4.8h.7m-15.3 5.2h.7m13.2-9.9h.7m-10.9 4.8h.7m2 2.8h.7m-2.8 .6h.7m-.4-2.6h.7m1.1 2.7h.7m6.9-8.2h.7m-15.3 11.1h.7m14.1-9.2h.7m-4 7.5h.7m2.2-5.6h.7m-6.7 6.2h.7m3.5 .6h.7m1.9-10.9h.7m-13.5 12.8h.7m11.9-11h.7m-7.1 1h.7m-1.3 2.8h.7m-1.1 6.2h.7m-.5-4.5h.7m6.9-8.9h.7m-8 5.3h.7m.1 5h.7m-.4-2.6h.7m-9.2 6.8h.7m1.6-5.1h.7m-.6-0.8h.7m-.4-0.6h.7m-6.1 5.3h.7m11.9-3.8h.7m3.5-5.3h.7m-5.5 2.3h.7m-4 6.3h.7m-4.9 1.4h.7m9-6.6h.7m-5.1 6.4h.7m3.9-2h.7m-9.9-6.6h.7m-2.9 7.9h.7m8.7-3.5h.7m5.9-3.6h.7m-16.7 8.1h.7m5.2-8.7h.7m-1.2 3h.7m-.1 .9h.7m-8.7 1h.7m10.1 2h.7m-8.3 2.6h.7m-3-3.1h.7m14.9-9.1h.7m-11.7 13.2h.7m3.9-7.3h.7m.1 3.1h.7m2.1-8.2h.7m-1.6 7.1h.7m-13.1 1.5h.7m3.3 5.4h.7m11.8-16.8h.7m-3.1 5.2h.7m-8.8 9.3h.7m3.6-2h.7m-9.7 3.5h.7m8-4.6h.7m-10.5 6.6h.7m1.2-9.4h.7m6.3 2.9h.7m1.1 1.5h.7m-2.9-6.6h.7m-2.7 5.1h.7m0 6h.7m1.1-13h.7m2-3.7h.7m-8.8 11.1h.7m8.1-5.8h.7m-9.3 4h.7m7 1h.7m-7.8-5.7h.7m6.7 2.2h.7m-5.7 .9h.7m-2.7 4.2h.7m6.6-5.2h.7m-4-0.5h.7m-3.5 2.5h.7m-7.4 2.2h.7m8.6-1.9h.7m-4.7 2.1h.7m-4.6 .1h.7m5.3-1.5h.7m-.3-0.2h.7m-1.9-2.2h.7m-2.1 3h.7m6.2-1.3h.7m-7.1 3.3h.7m17.3-13.3h.7m-11.5 12.2h.7m1.4-6.3h.7m-14 10.3h.7m11.1-7.1h.7m-14.5 4.1h.7m3.3 2.1h.7m2.3-4.9h.7m.9-1.1h.7m9.3-9h.7m-14.9 10.1h.7m-1.9 4.4h.7m7.8-9.1h.7m-12.3 4.6h.7m19-7.9h.7m-9.1-0.3h.7m4 7.5h.7m-7.3-4.1h.7m-6.1 8.8h.7m5.8-3.3h.7m-2 .7h.7m5.5-8.7h.7m-9.2 3h.7m-2.6 8.4h.7m4.3-3.4h.7m8.4-6.2h.7m-13.9 6.4h.7m-5.1-1.5h.7m2-0.3h.7m6.4-0.9h.7m-4-6h.7m-5 13.7h.7m-.2-7.6h.7m12.8-7.2h.7m-15.8 10.5h.7m7-4.5h.7m-3.3 3h.7m-5.4 7.5h.7m13.2-7.4h.7m-4.2-0.1h.7m-1.9-4h.7m-1.1-1.1h.7m3.7 2.5h.7m-15.5 8.7h.7m2.3-0.4h.7m2.4-11.5h.7" stroke="#1bb21b" stroke-opacity="0.6525" stroke-width="0.7" fill="none"/>
</g>
<line x1="478.7" y1="436.4" x2="478.7" y2="499.9" stroke="#555" stroke-width="0.8" />
<line x1="445.9" y1="468.2" x2="509.6" y2="468.2" stroke="#555" stroke-width="0.8" />
<path d="M445.9,499.9 L445.9,436.4 L509.6,436.4 L509.6,499.9 Z" fill="none" stroke="#888" stroke-width="0.8"/>
<line x1="445.9" y1="435.9" x2="445.9" y2="500.4" stroke="#222" stroke-width="1.3" />
<line x1="445.4" y1="499.9" x2="509.6" y2="499.9" stroke="#222" stroke-width="1.3" />
<line x1="444.3" y1="437.0" x2="445.9" y2="437.0" stroke="#222" stroke-width="0.7" />
<line x1="444.3" y1="439.02" x2="445.9" y2="439.02" stroke="#222" stroke-width="0.7" />
<line x1="444.3" y1="441.03" x2="445.9" y2="441.03" stroke="#222" stroke-width="0.7" />
<line x1="444.3" y1="443.05" x2="445.9" y2="443.05" stroke="#222" stroke-width="0.7" />
<line x1="444.3" y1="445.06" x2="445.9" y2="445.06" stroke="#222" stroke-width="0.7" />
<line x1="444.3" y1="447.08" x2="445.9" y2="447.08" stroke="#222" stroke-width="0.7" />
<line x1="444.3" y1="449.1" x2="445.9" y2="449.1" stroke="#222" stroke-width="0.7" />
<line x1="444.3" y1="451.11" x2="445.9" y2="451.11" stroke="#222" stroke-width="0.7" />
<line x1="444.3" y1="453.13" x2="445.9" y2="453.13" stroke="#222" stroke-width="0.7" />
<line x1="444.3" y1="455.15" x2="445.9" y2="455.15" stroke="#222" stroke-width="0.7" />
<line x1="444.3" y1="457.16" x2="445.9" y2="457.16" stroke="#222" stroke-width="0.7" />
<line x1="444.3" y1="459.18" x2="445.9" y2="459.18" stroke="#222" stroke-width="0.7" />
<line x1="444.3" y1="461.19" x2="445.9" y2="461.19" stroke="#222" stroke-width="0.7" />
<line x1="444.3" y1="463.21" x2="445.9" y2="463.21" stroke="#222" stroke-width="0.7" />
<line x1="444.3" y1="465.23" x2="445.9" y2="465.23" stroke="#222" stroke-width="0.7" />
<line x1="444.3" y1="467.24" x2="445.9" y2="467.24" stroke="#222" stroke-width="0.7" />
<line x1="444.3" y1="469.26" x2="445.9" y2="469.26" stroke="#222" stroke-width="0.7" />
<line x1="444.3" y1="471.27" x2="445.9" y2="471.27" stroke="#222" stroke-width="0.7" />
<line x1="444.3" y1="473.29" x2="445.9" y2="473.29" stroke="#222" stroke-width="0.7" />
<line x1="444.3" y1="475.31" x2="445.9" y2="475.31" stroke="#222" stroke-width="0.7" />
<line x1="444.3" y1="477.32" x2="445.9" y2="477.32" stroke="#222" stroke-width="0.7" />
<line x1="444.3" y1="479.34" x2="445.9" y2="479.34" stroke="#222" stroke-width="0.7" />
<line x1="444.3" y1="481.35" x2="445.9" y2="481.35" stroke="#222" stroke-width="0.7" />
<line x1="444.3" y1="483.37" x2="445.9" y2="483.37" stroke="#222" stroke-width="0.7" />
<line x1="444.3" y1="485.39" x2="445.9" y2="485.39" stroke="#222" stroke-width="0.7" />
<line x1="444.3" y1="487.4" x2="445.9" y2="487.4" stroke="#222" stroke-width="0.7" />
<line x1="444.3" y1="489.42" x2="445.9" y2="489.42" stroke="#222" stroke-width="0.7" />
<line x1="444.3" y1="491.44" x2="445.9" y2="491.44" stroke="#222" stroke-width="0.7" />
<line x1="444.3" y1="493.45" x2="445.9" y2="493.45" stroke="#222" stroke-width="0.7" />
<line x1="444.3" y1="495.47" x2="445.9" y2="495.47" stroke="#222" stroke-width="0.7" />
<line x1="444.3" y1="497.48" x2="445.9" y2="497.48" stroke="#222" stroke-width="0.7" />
<line x1="444.3" y1="499.5" x2="445.9" y2="499.5" stroke="#222" stroke-width="0.7" />
<line x1="450.3" y1="499.9" x2="450.3" y2="501.5" stroke="#222" stroke-width="0.7" />
<line x1="463.5" y1="499.9" x2="463.5" y2="501.5" stroke="#222" stroke-width="0.7" />
<line x1="473.4" y1="499.9" x2="473.4" y2="501.5" stroke="#222" stroke-width="0.7" />
<line x1="482" y1="499.9" x2="482" y2="501.5" stroke="#222" stroke-width="0.7" />
<line x1="485" y1="499.9" x2="485" y2="501.5" stroke="#222" stroke-width="0.7" />
<line x1="487.7" y1="499.9" x2="487.7" y2="501.5" stroke="#222" stroke-width="0.7" />
<line x1="495" y1="499.9" x2="495" y2="501.5" stroke="#222" stroke-width="0.7" />
<line x1="497.5" y1="499.9" x2="497.5" y2="501.5" stroke="#222" stroke-width="0.7" />
<line x1="499.7" y1="499.9" x2="499.7" y2="501.5" stroke="#222" stroke-width="0.7" />
<line x1="503" y1="499.9" x2="503" y2="501.5" stroke="#222" stroke-width="0.7" />
<line x1="505" y1="499.9" x2="505" y2="501.5" stroke="#222" stroke-width="0.7" />
<line x1="506.2" y1="499.9" x2="506.2" y2="501.5" stroke="#222" stroke-width="0.7" />
<text x="441.8" y="440.4" font-size="5.8" fill="#141414" text-anchor="end">10<tspan font-size="4" dy="-2.2">7</tspan></text>
<text x="441.8" y="448.9" font-size="5.8" fill="#141414" text-anchor="end">10<tspan font-size="4" dy="-2.2">6</tspan></text>
<text x="441.8" y="459.3" font-size="5.8" fill="#141414" text-anchor="end">10<tspan font-size="4" dy="-2.2">5</tspan></text>
<text x="441.8" y="469.4" font-size="5.8" text-anchor="end" font-weight="normal" font-style="normal" fill="#141414" textLength="14.52" lengthAdjust="spacingAndGlyphs"  stroke="#141414" stroke-width="0.12">20000</text>
<text x="441.8" y="485.4" font-size="5.8" text-anchor="end" font-weight="normal" font-style="normal" fill="#141414" textLength="2.9" lengthAdjust="spacingAndGlyphs"  stroke="#141414" stroke-width="0.12">0</text>
<text x="441.8" y="501.5" font-size="5.8" text-anchor="end" font-weight="normal" font-style="normal" fill="#141414" textLength="16.25" lengthAdjust="spacingAndGlyphs"  stroke="#141414" stroke-width="0.12">-20000</text>
<text x="450.2" y="511.1" font-size="5.8" text-anchor="middle" font-weight="normal" font-style="normal" fill="#141414" textLength="16.25" lengthAdjust="spacingAndGlyphs"  stroke="#141414" stroke-width="0.12">-20000</text>
<text x="463.0" y="511.1" font-size="5.8" text-anchor="middle" font-weight="normal" font-style="normal" fill="#141414" textLength="2.9" lengthAdjust="spacingAndGlyphs"  stroke="#141414" stroke-width="0.12">0</text>
<text x="475.5" y="511.1" font-size="5.8" text-anchor="middle" font-weight="normal" font-style="normal" fill="#141414" textLength="14.52" lengthAdjust="spacingAndGlyphs"  stroke="#141414" stroke-width="0.12">20000</text>
<text x="487.3" y="511.1" font-size="5.8" fill="#141414" text-anchor="middle">10<tspan font-size="4" dy="-2.2">5</tspan></text>
<text x="498.2" y="511.1" font-size="5.8" fill="#141414" text-anchor="middle">10<tspan font-size="4" dy="-2.2">6</tspan></text>
<text x="505.0" y="511.1" font-size="5.8" fill="#141414" text-anchor="middle">10<tspan font-size="4" dy="-2.2">7</tspan></text>
<text x="484.8" y="495.8" font-size="8" text-anchor="start" font-weight="normal" font-style="normal" fill="#33b86a" textLength="21.8" lengthAdjust="spacingAndGlyphs" stroke="none">4.03%</text>
<line x1="421.9" y1="514.5" x2="421.9" y2="483.9" stroke="#444" stroke-width="1.3" />
<line x1="421.25" y1="514.5" x2="459.3" y2="514.5" stroke="#444" stroke-width="1.3" />
<path d="M419.7,484.4 L421.9,480.4 L424.09999999999997,484.4Z" fill="#141414"/>
<path d="M458.8,512.3 L462.8,514.5 L458.8,516.7Z" fill="#141414"/>
<text transform="translate(418.5,509.9) rotate(-90)" font-size="8.6" fill="#141414" textLength="24.5" lengthAdjust="spacingAndGlyphs">CD11b</text>
<text x="421.9" y="526.0" font-size="8.6" text-anchor="start" font-weight="normal" font-style="normal" fill="#141414" textLength="55.4" lengthAdjust="spacingAndGlyphs"  stroke="#141414" stroke-width="0.12">CD4/CD8/B220</text>
<text x="86.3" y="154.1" font-size="8" fill="#141414" textLength="47.4" lengthAdjust="spacingAndGlyphs"><tspan font-style="italic">Gata1s</tspan> FLCs +</text>
<rect x="143.8" y="150" width="15.0" height="3.2" fill="#000" stroke="none" stroke-width="1" />
<text x="162" y="154.1" font-size="8" text-anchor="start" font-weight="normal" font-style="normal" fill="#141414" textLength="20.5" lengthAdjust="spacingAndGlyphs"  stroke="#141414" stroke-width="0.12">sh-ctrl</text>
<rect x="195" y="150" width="15" height="3.2" fill="#0c6a4e" stroke="none" stroke-width="1" />
<text x="213" y="154.1" font-size="8" text-anchor="start" font-weight="normal" font-style="normal" fill="#141414" textLength="39.5" lengthAdjust="spacingAndGlyphs"  stroke="#141414" stroke-width="0.12">shArid3a #2</text>
<rect x="264.5" y="150" width="15.0" height="3.2" fill="#3bb54a" stroke="none" stroke-width="1" />
<text x="282" y="154.1" font-size="8" text-anchor="start" font-weight="normal" font-style="normal" fill="#141414" textLength="39.3" lengthAdjust="spacingAndGlyphs"  stroke="#141414" stroke-width="0.12">shArid3a #3</text>
<text x="164.5" y="314.1" font-size="8" fill="#141414" textLength="88" lengthAdjust="spacingAndGlyphs"><tspan font-style="italic">Gata1s</tspan> FLCs + miR-125b +</text>
<rect x="269.5" y="309.5" width="15.0" height="3.2" fill="#000" stroke="none" stroke-width="1" />
<text x="287.5" y="314.1" font-size="8" text-anchor="start" font-weight="normal" font-style="italic" fill="#141414" textLength="13.8" lengthAdjust="spacingAndGlyphs"  stroke="#141414" stroke-width="0.12">LUC</text>
<rect x="318" y="309.6" width="13" height="2.4" fill="#fff" stroke="#3bb54a" stroke-width="1" />
<text x="334.5" y="314.1" font-size="8" text-anchor="start" font-weight="normal" font-style="italic" fill="#141414" textLength="21.8" lengthAdjust="spacingAndGlyphs"  stroke="#141414" stroke-width="0.12">Arid3a</text>
<rect x="0.5" y="0.5" width="519" height="532" fill="none" stroke="#000" stroke-width="1"/>
</svg></body></html>
